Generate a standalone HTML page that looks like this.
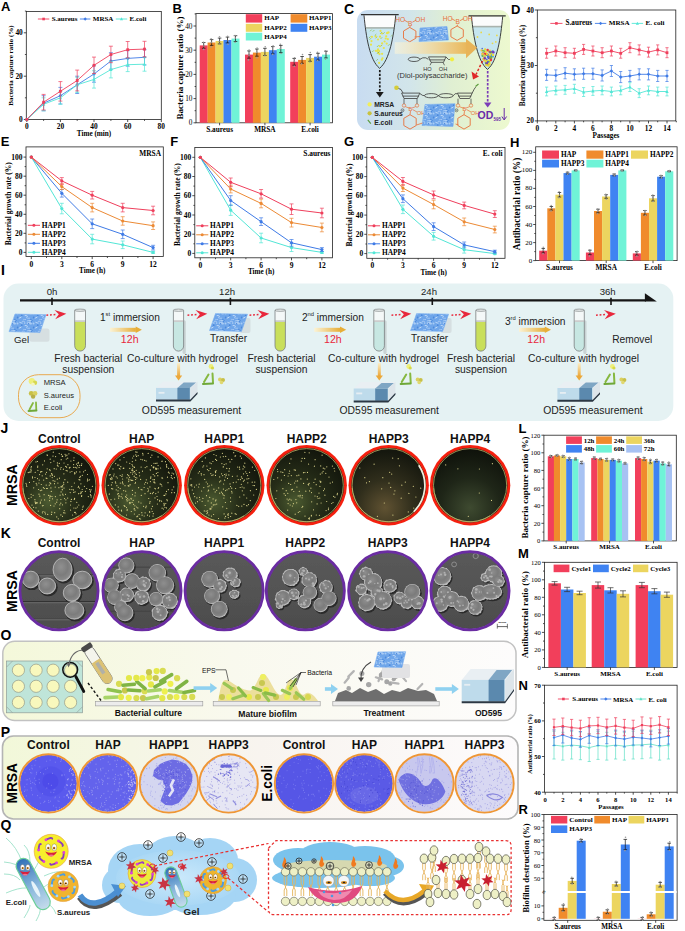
<!DOCTYPE html>
<html><head><meta charset="utf-8"><style>
html,body{margin:0;padding:0;background:#fff;width:685px;height:931px;overflow:hidden}
svg{display:block}
text{dominant-baseline:central}
.s,.sb,.sm,.sbm,.se,.sbe{font-family:"Liberation Serif",serif}
.a,.ab,.am,.abm,.ae,.abe{font-family:"Liberation Sans",sans-serif}
.sb,.sbm,.sbe,.ab,.abm,.abe{font-weight:bold}
.sm,.sbm,.am,.abm{text-anchor:middle}
.se,.sbe,.ae,.abe{text-anchor:end}
</style></head><body>
<svg width="685" height="931" viewBox="0 0 685 931">
<defs><filter id="bl" x="-5%" y="-5%" width="110%" height="110%"><feGaussianBlur stdDeviation="0.35"/></filter><linearGradient id="gC" x1="0" y1="0" x2="1" y2="0"><stop offset="0" stop-color="#c8dcf1"/><stop offset="0.35" stop-color="#d2e5ea"/><stop offset="0.62" stop-color="#e0efd2"/><stop offset="1" stop-color="#edf9cf"/></linearGradient><linearGradient id="gArrC" x1="0" y1="0" x2="1" y2="0"><stop offset="0" stop-color="#fbf6dc" stop-opacity="0.6"/><stop offset="1" stop-color="#e9b75a"/></linearGradient><linearGradient id="gArrI" x1="0" y1="0" x2="1" y2="0"><stop offset="0" stop-color="#fbf3d6"/><stop offset="1" stop-color="#e7ae38"/></linearGradient><linearGradient id="gArrD" x1="0" y1="0" x2="0" y2="1"><stop offset="0" stop-color="#fbeec8"/><stop offset="1" stop-color="#eba83a"/></linearGradient><pattern id="pGel" width="16" height="10" patternUnits="userSpaceOnUse"><rect width="16" height="10" fill="#6fa6ea"/><path d="M10.0,7.4 q1.8,1.3 4.0,0.8" stroke="#c2dbf8" stroke-width="0.6" fill="none"/><path d="M7.4,9.4 q1.6,1.2 2.7,-0.1" stroke="#c2dbf8" stroke-width="0.7" fill="none"/><path d="M8.7,5.7 q1.0,-0.8 3.1,0.8" stroke="#c2dbf8" stroke-width="1.0" fill="none"/><path d="M2.6,8.0 q1.1,0.4 2.8,-1.0" stroke="#c2dbf8" stroke-width="1.0" fill="none"/><path d="M3.4,2.2 q2.0,1.1 3.1,0.9" stroke="#c2dbf8" stroke-width="0.9" fill="none"/><path d="M10.8,2.0 q1.9,0.6 4.4,0.8" stroke="#c2dbf8" stroke-width="0.7" fill="none"/><path d="M5.8,1.7 q1.1,-1.3 3.1,0.2" stroke="#c2dbf8" stroke-width="0.6" fill="none"/><path d="M10.8,3.4 q1.3,1.0 3.5,-0.4" stroke="#c2dbf8" stroke-width="0.8" fill="none"/><path d="M11.3,0.6 q2.0,-1.4 4.0,0.7" stroke="#c2dbf8" stroke-width="0.6" fill="none"/><circle cx="12.6" cy="3.7" r="0.8" fill="#4a88dc"/><circle cx="0.1" cy="0.5" r="0.6" fill="#4a88dc"/><circle cx="15.3" cy="2.0" r="0.9" fill="#4a88dc"/><circle cx="14.9" cy="9.4" r="0.7" fill="#4a88dc"/><circle cx="5.7" cy="5.2" r="0.9" fill="#4a88dc"/><circle cx="1.7" cy="7.5" r="0.9" fill="#4a88dc"/><circle cx="13.8" cy="0.4" r="1.2" fill="#a9ccf4"/><circle cx="1.5" cy="3.4" r="1.0" fill="#a9ccf4"/><circle cx="14.7" cy="3.4" r="1.2" fill="#a9ccf4"/><circle cx="8.7" cy="3.1" r="0.8" fill="#a9ccf4"/></pattern><radialGradient id="gJ" cx="0.35" cy="0.72" r="0.75"><stop offset="0" stop-color="#4b5a30"/><stop offset="0.45" stop-color="#262d18"/><stop offset="1" stop-color="#12150c"/></radialGradient><radialGradient id="gJ3" cx="0.45" cy="0.8" r="0.75"><stop offset="0" stop-color="#605232"/><stop offset="0.5" stop-color="#302e1c"/><stop offset="1" stop-color="#15170e"/></radialGradient><radialGradient id="gJ4" cx="0.5" cy="0.8" r="0.8"><stop offset="0" stop-color="#3e4a30"/><stop offset="0.5" stop-color="#1f2618"/><stop offset="1" stop-color="#0e110a"/></radialGradient><radialGradient id="gSph" cx="0.42" cy="0.38" r="0.65"><stop offset="0" stop-color="#909090"/><stop offset="0.55" stop-color="#7c7c7c"/><stop offset="0.85" stop-color="#888"/><stop offset="1" stop-color="#c4c4c4"/></radialGradient><radialGradient id="gSph2" cx="0.42" cy="0.38" r="0.65"><stop offset="0" stop-color="#8e8e8e"/><stop offset="0.55" stop-color="#7b7b7b"/><stop offset="0.85" stop-color="#868686"/><stop offset="1" stop-color="#b8b8b8"/></radialGradient><linearGradient id="gSEM" x1="0" y1="0" x2="0" y2="1"><stop offset="0" stop-color="#5a5a5a"/><stop offset="1" stop-color="#4c4c4c"/></linearGradient><linearGradient id="gO" x1="0" y1="0" x2="1" y2="0"><stop offset="0" stop-color="#f4f8da"/><stop offset="0.45" stop-color="#f9f9ee"/><stop offset="1" stop-color="#fdfcfc"/></linearGradient><linearGradient id="gP" x1="0" y1="0" x2="1" y2="0"><stop offset="0" stop-color="#f2f8d9"/><stop offset="0.5" stop-color="#f8f4ef"/><stop offset="1" stop-color="#fdfbfc"/></linearGradient><linearGradient id="gEc" x1="0" y1="0" x2="1" y2="0"><stop offset="0" stop-color="#2f6fb8"/><stop offset="0.55" stop-color="#8ab8dc"/><stop offset="1" stop-color="#c6dcec"/></linearGradient><radialGradient id="gCl" cx="0.5" cy="0.5" r="0.6"><stop offset="0" stop-color="#cbe9fb"/><stop offset="1" stop-color="#a3d4f4"/></radialGradient></defs><rect width="685" height="931" fill="#fff"/>
<rect x="26.3" y="11.4" width="135" height="108.1" fill="none" stroke="#222" stroke-width="0.8"/>
<line x1="23.8" y1="119.5" x2="26.3" y2="119.5" stroke="#222" stroke-width="0.8"/>
<text class="sbe" x="22.8" y="119.5" font-size="7.4">0</text>
<line x1="23.8" y1="76.2" x2="26.3" y2="76.2" stroke="#222" stroke-width="0.8"/>
<text class="sbe" x="22.8" y="76.2" font-size="7.4">20</text>
<line x1="23.8" y1="32.8" x2="26.3" y2="32.8" stroke="#222" stroke-width="0.8"/>
<text class="sbe" x="22.8" y="32.8" font-size="7.4">40</text>
<line x1="24.9" y1="97.8" x2="26.3" y2="97.8" stroke="#222" stroke-width="0.8"/>
<line x1="24.9" y1="54.5" x2="26.3" y2="54.5" stroke="#222" stroke-width="0.8"/>
<line x1="24.9" y1="11.1" x2="26.3" y2="11.1" stroke="#222" stroke-width="0.8"/>
<line x1="26.8" y1="119.5" x2="26.8" y2="122" stroke="#222" stroke-width="0.8"/>
<text class="sbm" x="26.8" y="126.5" font-size="7.4">0</text>
<line x1="60.4" y1="119.5" x2="60.4" y2="122" stroke="#222" stroke-width="0.8"/>
<text class="sbm" x="60.4" y="126.5" font-size="7.4">20</text>
<line x1="94" y1="119.5" x2="94" y2="122" stroke="#222" stroke-width="0.8"/>
<text class="sbm" x="94" y="126.5" font-size="7.4">40</text>
<line x1="127.7" y1="119.5" x2="127.7" y2="122" stroke="#222" stroke-width="0.8"/>
<text class="sbm" x="127.7" y="126.5" font-size="7.4">60</text>
<line x1="161.3" y1="119.5" x2="161.3" y2="122" stroke="#222" stroke-width="0.8"/>
<text class="sbm" x="161.3" y="126.5" font-size="7.4">80</text>
<line x1="43.6" y1="119.5" x2="43.6" y2="120.9" stroke="#222" stroke-width="0.8"/>
<line x1="77.2" y1="119.5" x2="77.2" y2="120.9" stroke="#222" stroke-width="0.8"/>
<line x1="110.9" y1="119.5" x2="110.9" y2="120.9" stroke="#222" stroke-width="0.8"/>
<line x1="144.5" y1="119.5" x2="144.5" y2="120.9" stroke="#222" stroke-width="0.8"/>
<polyline points="26.8,119.5 43.6,103.2 60.4,95.7 77.2,84.8 94,74 110.9,61 127.7,58.4 144.5,57.3" fill="none" stroke="#3f7be6" stroke-width="0.9"/>
<line x1="43.6" y1="95.7" x2="43.6" y2="110.8" stroke="#3f7be6" stroke-width="0.7"/>
<line x1="41.6" y1="95.7" x2="45.6" y2="95.7" stroke="#3f7be6" stroke-width="0.7"/>
<line x1="41.6" y1="110.8" x2="45.6" y2="110.8" stroke="#3f7be6" stroke-width="0.7"/>
<line x1="60.4" y1="87.4" x2="60.4" y2="103.9" stroke="#3f7be6" stroke-width="0.7"/>
<line x1="58.4" y1="87.4" x2="62.4" y2="87.4" stroke="#3f7be6" stroke-width="0.7"/>
<line x1="58.4" y1="103.9" x2="62.4" y2="103.9" stroke="#3f7be6" stroke-width="0.7"/>
<line x1="77.2" y1="76.2" x2="77.2" y2="93.5" stroke="#3f7be6" stroke-width="0.7"/>
<line x1="75.2" y1="76.2" x2="79.2" y2="76.2" stroke="#3f7be6" stroke-width="0.7"/>
<line x1="75.2" y1="93.5" x2="79.2" y2="93.5" stroke="#3f7be6" stroke-width="0.7"/>
<line x1="94" y1="65.7" x2="94" y2="82.2" stroke="#3f7be6" stroke-width="0.7"/>
<line x1="92" y1="65.7" x2="96" y2="65.7" stroke="#3f7be6" stroke-width="0.7"/>
<line x1="92" y1="82.2" x2="96" y2="82.2" stroke="#3f7be6" stroke-width="0.7"/>
<line x1="110.9" y1="52.7" x2="110.9" y2="69.2" stroke="#3f7be6" stroke-width="0.7"/>
<line x1="108.9" y1="52.7" x2="112.9" y2="52.7" stroke="#3f7be6" stroke-width="0.7"/>
<line x1="108.9" y1="69.2" x2="112.9" y2="69.2" stroke="#3f7be6" stroke-width="0.7"/>
<line x1="127.7" y1="50.6" x2="127.7" y2="66.2" stroke="#3f7be6" stroke-width="0.7"/>
<line x1="125.7" y1="50.6" x2="129.7" y2="50.6" stroke="#3f7be6" stroke-width="0.7"/>
<line x1="125.7" y1="66.2" x2="129.7" y2="66.2" stroke="#3f7be6" stroke-width="0.7"/>
<line x1="144.5" y1="49.7" x2="144.5" y2="64.9" stroke="#3f7be6" stroke-width="0.7"/>
<line x1="142.5" y1="49.7" x2="146.5" y2="49.7" stroke="#3f7be6" stroke-width="0.7"/>
<line x1="142.5" y1="64.9" x2="146.5" y2="64.9" stroke="#3f7be6" stroke-width="0.7"/>
<polyline points="26.8,117.7 28.6,119.5 26.8,121.3 25,119.5 26.8,117.7" fill="#3f7be6"/>
<polyline points="43.6,101.4 45.4,103.2 43.6,105.1 41.8,103.2 43.6,101.4" fill="#3f7be6"/>
<polyline points="60.4,93.8 62.2,95.7 60.4,97.5 58.6,95.7 60.4,93.8" fill="#3f7be6"/>
<polyline points="77.2,83 79.1,84.8 77.2,86.6 75.4,84.8 77.2,83" fill="#3f7be6"/>
<polyline points="94,72.2 95.9,74 94,75.8 92.2,74 94,72.2" fill="#3f7be6"/>
<polyline points="110.9,59.2 112.7,61 110.9,62.8 109,61 110.9,59.2" fill="#3f7be6"/>
<polyline points="127.7,56.6 129.5,58.4 127.7,60.2 125.9,58.4 127.7,56.6" fill="#3f7be6"/>
<polyline points="144.5,55.5 146.3,57.3 144.5,59.1 142.7,57.3 144.5,55.5" fill="#3f7be6"/>
<polyline points="26.8,119.5 43.6,104.3 60.4,97.8 77.2,84.8 94,79.4 110.9,69.6 127.7,64.7 144.5,64.2" fill="none" stroke="#52e6d6" stroke-width="0.9"/>
<line x1="43.6" y1="97.8" x2="43.6" y2="110.8" stroke="#52e6d6" stroke-width="0.7"/>
<line x1="41.6" y1="97.8" x2="45.6" y2="97.8" stroke="#52e6d6" stroke-width="0.7"/>
<line x1="41.6" y1="110.8" x2="45.6" y2="110.8" stroke="#52e6d6" stroke-width="0.7"/>
<line x1="60.4" y1="91.3" x2="60.4" y2="104.3" stroke="#52e6d6" stroke-width="0.7"/>
<line x1="58.4" y1="91.3" x2="62.4" y2="91.3" stroke="#52e6d6" stroke-width="0.7"/>
<line x1="58.4" y1="104.3" x2="62.4" y2="104.3" stroke="#52e6d6" stroke-width="0.7"/>
<line x1="77.2" y1="77.2" x2="77.2" y2="92.4" stroke="#52e6d6" stroke-width="0.7"/>
<line x1="75.2" y1="77.2" x2="79.2" y2="77.2" stroke="#52e6d6" stroke-width="0.7"/>
<line x1="75.2" y1="92.4" x2="79.2" y2="92.4" stroke="#52e6d6" stroke-width="0.7"/>
<line x1="94" y1="70.7" x2="94" y2="88.1" stroke="#52e6d6" stroke-width="0.7"/>
<line x1="92" y1="70.7" x2="96" y2="70.7" stroke="#52e6d6" stroke-width="0.7"/>
<line x1="92" y1="88.1" x2="96" y2="88.1" stroke="#52e6d6" stroke-width="0.7"/>
<line x1="110.9" y1="61.4" x2="110.9" y2="77.9" stroke="#52e6d6" stroke-width="0.7"/>
<line x1="108.9" y1="61.4" x2="112.9" y2="61.4" stroke="#52e6d6" stroke-width="0.7"/>
<line x1="108.9" y1="77.9" x2="112.9" y2="77.9" stroke="#52e6d6" stroke-width="0.7"/>
<line x1="127.7" y1="57.7" x2="127.7" y2="71.6" stroke="#52e6d6" stroke-width="0.7"/>
<line x1="125.7" y1="57.7" x2="129.7" y2="57.7" stroke="#52e6d6" stroke-width="0.7"/>
<line x1="125.7" y1="71.6" x2="129.7" y2="71.6" stroke="#52e6d6" stroke-width="0.7"/>
<line x1="144.5" y1="57.3" x2="144.5" y2="71.2" stroke="#52e6d6" stroke-width="0.7"/>
<line x1="142.5" y1="57.3" x2="146.5" y2="57.3" stroke="#52e6d6" stroke-width="0.7"/>
<line x1="142.5" y1="71.2" x2="146.5" y2="71.2" stroke="#52e6d6" stroke-width="0.7"/>
<polyline points="26.8,117.7 28.5,120.9 25.1,120.9 26.8,117.7" fill="#52e6d6"/>
<polyline points="43.6,102.5 45.3,105.7 41.9,105.7 43.6,102.5" fill="#52e6d6"/>
<polyline points="60.4,96 62.1,99.2 58.7,99.2 60.4,96" fill="#52e6d6"/>
<polyline points="77.2,83 78.9,86.2 75.6,86.2 77.2,83" fill="#52e6d6"/>
<polyline points="94,77.6 95.7,80.8 92.4,80.8 94,77.6" fill="#52e6d6"/>
<polyline points="110.9,67.8 112.5,71 109.2,71 110.9,67.8" fill="#52e6d6"/>
<polyline points="127.7,62.8 129.4,66.1 126,66.1 127.7,62.8" fill="#52e6d6"/>
<polyline points="144.5,62.4 146.2,65.6 142.8,65.6 144.5,62.4" fill="#52e6d6"/>
<polyline points="26.8,119.5 43.6,102.2 60.4,91.3 77.2,80.5 94,65.3 110.9,54.5 127.7,49.7 144.5,49.1" fill="none" stroke="#ef3f5c" stroke-width="0.9"/>
<line x1="43.6" y1="94.4" x2="43.6" y2="110" stroke="#ef3f5c" stroke-width="0.7"/>
<line x1="41.6" y1="94.4" x2="45.6" y2="94.4" stroke="#ef3f5c" stroke-width="0.7"/>
<line x1="41.6" y1="110" x2="45.6" y2="110" stroke="#ef3f5c" stroke-width="0.7"/>
<line x1="60.4" y1="81.6" x2="60.4" y2="101.1" stroke="#ef3f5c" stroke-width="0.7"/>
<line x1="58.4" y1="81.6" x2="62.4" y2="81.6" stroke="#ef3f5c" stroke-width="0.7"/>
<line x1="58.4" y1="101.1" x2="62.4" y2="101.1" stroke="#ef3f5c" stroke-width="0.7"/>
<line x1="77.2" y1="70.1" x2="77.2" y2="90.9" stroke="#ef3f5c" stroke-width="0.7"/>
<line x1="75.2" y1="70.1" x2="79.2" y2="70.1" stroke="#ef3f5c" stroke-width="0.7"/>
<line x1="75.2" y1="90.9" x2="79.2" y2="90.9" stroke="#ef3f5c" stroke-width="0.7"/>
<line x1="94" y1="57.1" x2="94" y2="73.5" stroke="#ef3f5c" stroke-width="0.7"/>
<line x1="92" y1="57.1" x2="96" y2="57.1" stroke="#ef3f5c" stroke-width="0.7"/>
<line x1="92" y1="73.5" x2="96" y2="73.5" stroke="#ef3f5c" stroke-width="0.7"/>
<line x1="110.9" y1="46.2" x2="110.9" y2="62.7" stroke="#ef3f5c" stroke-width="0.7"/>
<line x1="108.9" y1="46.2" x2="112.9" y2="46.2" stroke="#ef3f5c" stroke-width="0.7"/>
<line x1="108.9" y1="62.7" x2="112.9" y2="62.7" stroke="#ef3f5c" stroke-width="0.7"/>
<line x1="127.7" y1="41.5" x2="127.7" y2="57.9" stroke="#ef3f5c" stroke-width="0.7"/>
<line x1="125.7" y1="41.5" x2="129.7" y2="41.5" stroke="#ef3f5c" stroke-width="0.7"/>
<line x1="125.7" y1="57.9" x2="129.7" y2="57.9" stroke="#ef3f5c" stroke-width="0.7"/>
<line x1="144.5" y1="41.3" x2="144.5" y2="56.9" stroke="#ef3f5c" stroke-width="0.7"/>
<line x1="142.5" y1="41.3" x2="146.5" y2="41.3" stroke="#ef3f5c" stroke-width="0.7"/>
<line x1="142.5" y1="56.9" x2="146.5" y2="56.9" stroke="#ef3f5c" stroke-width="0.7"/>
<rect x="25.4" y="118.1" width="2.8" height="2.8" fill="#ef3f5c"/>
<rect x="42.2" y="100.8" width="2.8" height="2.8" fill="#ef3f5c"/>
<rect x="59" y="89.9" width="2.8" height="2.8" fill="#ef3f5c"/>
<rect x="75.8" y="79.1" width="2.8" height="2.8" fill="#ef3f5c"/>
<rect x="92.6" y="63.9" width="2.8" height="2.8" fill="#ef3f5c"/>
<rect x="109.5" y="53.1" width="2.8" height="2.8" fill="#ef3f5c"/>
<rect x="126.3" y="48.3" width="2.8" height="2.8" fill="#ef3f5c"/>
<rect x="143.1" y="47.7" width="2.8" height="2.8" fill="#ef3f5c"/>
<line x1="37.9" y1="19" x2="49.3" y2="19" stroke="#ef3f5c" stroke-width="0.9"/>
<rect x="42.3" y="17.7" width="2.6" height="2.6" fill="#ef3f5c"/>
<text class="sb" x="51.7" y="19" font-size="7">S.aureus</text>
<line x1="79.9" y1="19" x2="90.4" y2="19" stroke="#3f7be6" stroke-width="0.9"/>
<polyline points="85.2,17.3 86.8,19 85.2,20.7 83.5,19 85.2,17.3" fill="#3f7be6"/>
<text class="sb" x="92.8" y="19" font-size="7">MRSA</text>
<line x1="115.8" y1="19" x2="127.2" y2="19" stroke="#52e6d6" stroke-width="0.9"/>
<polyline points="121.5,17.3 123.1,20.3 119.9,20.3 121.5,17.3" fill="#52e6d6"/>
<text class="sb" x="129.6" y="19" font-size="7">E.coli</text>
<text class="sbm" x="94" y="134.4" font-size="7.2">Time (min)</text>
<text class="sbm" x="11.2" y="65.5" font-size="7.1" transform="rotate(-90 11.2 65.5)">Bacteria capture ratio (%)</text>
<text x="1" y="10.9" font-family="'Liberation Sans', sans-serif" font-size="13" font-weight="bold" style="dominant-baseline:auto">A</text>
<rect x="196" y="13.6" width="136.4" height="109.2" fill="none" stroke="#222" stroke-width="0.8"/>
<line x1="193.5" y1="122.8" x2="196" y2="122.8" stroke="#222" stroke-width="0.8"/>
<text class="se" x="192.5" y="122.8" font-size="7.3">0</text>
<line x1="193.5" y1="98.6" x2="196" y2="98.6" stroke="#222" stroke-width="0.8"/>
<text class="se" x="192.5" y="98.6" font-size="7.3">10</text>
<line x1="193.5" y1="74.4" x2="196" y2="74.4" stroke="#222" stroke-width="0.8"/>
<text class="se" x="192.5" y="74.4" font-size="7.3">20</text>
<line x1="193.5" y1="50.2" x2="196" y2="50.2" stroke="#222" stroke-width="0.8"/>
<text class="se" x="192.5" y="50.2" font-size="7.3">30</text>
<line x1="193.5" y1="26" x2="196" y2="26" stroke="#222" stroke-width="0.8"/>
<text class="se" x="192.5" y="26" font-size="7.3">40</text>
<line x1="194.6" y1="110.7" x2="196" y2="110.7" stroke="#222" stroke-width="0.8"/>
<line x1="194.6" y1="86.5" x2="196" y2="86.5" stroke="#222" stroke-width="0.8"/>
<line x1="194.6" y1="62.3" x2="196" y2="62.3" stroke="#222" stroke-width="0.8"/>
<line x1="194.6" y1="38.1" x2="196" y2="38.1" stroke="#222" stroke-width="0.8"/>
<line x1="194.6" y1="13.9" x2="196" y2="13.9" stroke="#222" stroke-width="0.8"/>
<rect x="199.7" y="45.4" width="8" height="77.4" fill="#f23f5b"/>
<rect x="207.6" y="42.5" width="8" height="80.3" fill="#f08b2c"/>
<rect x="215.6" y="41" width="8" height="81.8" fill="#ecd55f"/>
<rect x="223.5" y="40" width="8" height="82.8" fill="#3f83f2"/>
<rect x="231.5" y="38.6" width="8" height="84.2" fill="#70f3d7"/>
<line x1="203.7" y1="42.5" x2="203.7" y2="48.3" stroke="#111" stroke-width="0.7"/>
<line x1="201.9" y1="42.5" x2="205.5" y2="42.5" stroke="#111" stroke-width="0.7"/>
<line x1="201.9" y1="48.3" x2="205.5" y2="48.3" stroke="#111" stroke-width="0.7"/>
<circle cx="203.5" cy="42.2" r="0.8" fill="#9a9a9a"/>
<circle cx="203.9" cy="46.1" r="0.8" fill="#9a9a9a"/>
<circle cx="203.7" cy="49.4" r="0.8" fill="#9a9a9a"/>
<line x1="211.6" y1="39.6" x2="211.6" y2="45.4" stroke="#111" stroke-width="0.7"/>
<line x1="209.8" y1="39.6" x2="213.4" y2="39.6" stroke="#111" stroke-width="0.7"/>
<line x1="209.8" y1="45.4" x2="213.4" y2="45.4" stroke="#111" stroke-width="0.7"/>
<circle cx="211.1" cy="38.7" r="0.8" fill="#9a9a9a"/>
<circle cx="211.1" cy="42.6" r="0.8" fill="#9a9a9a"/>
<circle cx="211.1" cy="46.9" r="0.8" fill="#9a9a9a"/>
<line x1="219.6" y1="38.1" x2="219.6" y2="43.9" stroke="#111" stroke-width="0.7"/>
<line x1="217.8" y1="38.1" x2="221.4" y2="38.1" stroke="#111" stroke-width="0.7"/>
<line x1="217.8" y1="43.9" x2="221.4" y2="43.9" stroke="#111" stroke-width="0.7"/>
<circle cx="219.5" cy="36.7" r="0.8" fill="#9a9a9a"/>
<circle cx="219.1" cy="41.5" r="0.8" fill="#9a9a9a"/>
<circle cx="219.7" cy="44" r="0.8" fill="#9a9a9a"/>
<line x1="227.5" y1="37.1" x2="227.5" y2="42.9" stroke="#111" stroke-width="0.7"/>
<line x1="225.7" y1="37.1" x2="229.3" y2="37.1" stroke="#111" stroke-width="0.7"/>
<line x1="225.7" y1="42.9" x2="229.3" y2="42.9" stroke="#111" stroke-width="0.7"/>
<circle cx="227.6" cy="36.4" r="0.8" fill="#9a9a9a"/>
<circle cx="228.1" cy="40.8" r="0.8" fill="#9a9a9a"/>
<circle cx="228" cy="44.2" r="0.8" fill="#9a9a9a"/>
<line x1="235.5" y1="35.7" x2="235.5" y2="41.5" stroke="#111" stroke-width="0.7"/>
<line x1="233.7" y1="35.7" x2="237.3" y2="35.7" stroke="#111" stroke-width="0.7"/>
<line x1="233.7" y1="41.5" x2="237.3" y2="41.5" stroke="#111" stroke-width="0.7"/>
<circle cx="235" cy="35.5" r="0.8" fill="#9a9a9a"/>
<circle cx="235.2" cy="38" r="0.8" fill="#9a9a9a"/>
<circle cx="235.1" cy="42.2" r="0.8" fill="#9a9a9a"/>
<rect x="245" y="54.6" width="8" height="68.2" fill="#f23f5b"/>
<rect x="252.9" y="52.6" width="8" height="70.2" fill="#f08b2c"/>
<rect x="260.9" y="51.9" width="8" height="70.9" fill="#ecd55f"/>
<rect x="268.9" y="50.2" width="8" height="72.6" fill="#3f83f2"/>
<rect x="276.8" y="49" width="8" height="73.8" fill="#70f3d7"/>
<line x1="249" y1="50.9" x2="249" y2="58.2" stroke="#111" stroke-width="0.7"/>
<line x1="247.2" y1="50.9" x2="250.8" y2="50.9" stroke="#111" stroke-width="0.7"/>
<line x1="247.2" y1="58.2" x2="250.8" y2="58.2" stroke="#111" stroke-width="0.7"/>
<circle cx="249.1" cy="50.1" r="0.8" fill="#9a9a9a"/>
<circle cx="249" cy="55.5" r="0.8" fill="#9a9a9a"/>
<circle cx="248.4" cy="59.9" r="0.8" fill="#9a9a9a"/>
<line x1="256.9" y1="49" x2="256.9" y2="56.2" stroke="#111" stroke-width="0.7"/>
<line x1="255.1" y1="49" x2="258.7" y2="49" stroke="#111" stroke-width="0.7"/>
<line x1="255.1" y1="56.2" x2="258.7" y2="56.2" stroke="#111" stroke-width="0.7"/>
<circle cx="257.1" cy="48.1" r="0.8" fill="#9a9a9a"/>
<circle cx="256.7" cy="52.4" r="0.8" fill="#9a9a9a"/>
<circle cx="256.9" cy="57.8" r="0.8" fill="#9a9a9a"/>
<line x1="264.9" y1="48.3" x2="264.9" y2="55.5" stroke="#111" stroke-width="0.7"/>
<line x1="263.1" y1="48.3" x2="266.7" y2="48.3" stroke="#111" stroke-width="0.7"/>
<line x1="263.1" y1="55.5" x2="266.7" y2="55.5" stroke="#111" stroke-width="0.7"/>
<circle cx="265.2" cy="46.7" r="0.8" fill="#9a9a9a"/>
<circle cx="264.6" cy="51.7" r="0.8" fill="#9a9a9a"/>
<circle cx="264.9" cy="55.8" r="0.8" fill="#9a9a9a"/>
<line x1="272.8" y1="46.6" x2="272.8" y2="53.8" stroke="#111" stroke-width="0.7"/>
<line x1="271" y1="46.6" x2="274.6" y2="46.6" stroke="#111" stroke-width="0.7"/>
<line x1="271" y1="53.8" x2="274.6" y2="53.8" stroke="#111" stroke-width="0.7"/>
<circle cx="273.1" cy="45.9" r="0.8" fill="#9a9a9a"/>
<circle cx="273.4" cy="51" r="0.8" fill="#9a9a9a"/>
<circle cx="272.7" cy="54.4" r="0.8" fill="#9a9a9a"/>
<line x1="280.8" y1="45.4" x2="280.8" y2="52.6" stroke="#111" stroke-width="0.7"/>
<line x1="279" y1="45.4" x2="282.6" y2="45.4" stroke="#111" stroke-width="0.7"/>
<line x1="279" y1="52.6" x2="282.6" y2="52.6" stroke="#111" stroke-width="0.7"/>
<circle cx="280.4" cy="44.3" r="0.8" fill="#9a9a9a"/>
<circle cx="280.2" cy="48.6" r="0.8" fill="#9a9a9a"/>
<circle cx="281.1" cy="53.5" r="0.8" fill="#9a9a9a"/>
<rect x="290.2" y="61.8" width="8" height="61" fill="#f23f5b"/>
<rect x="298.1" y="59.9" width="8" height="62.9" fill="#f08b2c"/>
<rect x="306.1" y="57.9" width="8" height="64.9" fill="#ecd55f"/>
<rect x="314.1" y="56.7" width="8" height="66.1" fill="#3f83f2"/>
<rect x="322" y="54.6" width="8" height="68.2" fill="#70f3d7"/>
<line x1="294.2" y1="58.4" x2="294.2" y2="65.2" stroke="#111" stroke-width="0.7"/>
<line x1="292.4" y1="58.4" x2="296" y2="58.4" stroke="#111" stroke-width="0.7"/>
<line x1="292.4" y1="65.2" x2="296" y2="65.2" stroke="#111" stroke-width="0.7"/>
<circle cx="294.6" cy="57.8" r="0.8" fill="#9a9a9a"/>
<circle cx="294.4" cy="61.6" r="0.8" fill="#9a9a9a"/>
<circle cx="294.3" cy="66.3" r="0.8" fill="#9a9a9a"/>
<line x1="302.1" y1="56.5" x2="302.1" y2="63.3" stroke="#111" stroke-width="0.7"/>
<line x1="300.3" y1="56.5" x2="303.9" y2="56.5" stroke="#111" stroke-width="0.7"/>
<line x1="300.3" y1="63.3" x2="303.9" y2="63.3" stroke="#111" stroke-width="0.7"/>
<circle cx="302.5" cy="54.6" r="0.8" fill="#9a9a9a"/>
<circle cx="302.1" cy="59.5" r="0.8" fill="#9a9a9a"/>
<circle cx="301.6" cy="63.9" r="0.8" fill="#9a9a9a"/>
<line x1="310.1" y1="54.6" x2="310.1" y2="61.3" stroke="#111" stroke-width="0.7"/>
<line x1="308.3" y1="54.6" x2="311.9" y2="54.6" stroke="#111" stroke-width="0.7"/>
<line x1="308.3" y1="61.3" x2="311.9" y2="61.3" stroke="#111" stroke-width="0.7"/>
<circle cx="310.3" cy="52.5" r="0.8" fill="#9a9a9a"/>
<circle cx="310.5" cy="58.4" r="0.8" fill="#9a9a9a"/>
<circle cx="309.9" cy="62" r="0.8" fill="#9a9a9a"/>
<line x1="318" y1="53.3" x2="318" y2="60.1" stroke="#111" stroke-width="0.7"/>
<line x1="316.2" y1="53.3" x2="319.8" y2="53.3" stroke="#111" stroke-width="0.7"/>
<line x1="316.2" y1="60.1" x2="319.8" y2="60.1" stroke="#111" stroke-width="0.7"/>
<circle cx="317.5" cy="52.4" r="0.8" fill="#9a9a9a"/>
<circle cx="317.6" cy="57.5" r="0.8" fill="#9a9a9a"/>
<circle cx="317.5" cy="60.6" r="0.8" fill="#9a9a9a"/>
<line x1="326" y1="51.2" x2="326" y2="57.9" stroke="#111" stroke-width="0.7"/>
<line x1="324.2" y1="51.2" x2="327.8" y2="51.2" stroke="#111" stroke-width="0.7"/>
<line x1="324.2" y1="57.9" x2="327.8" y2="57.9" stroke="#111" stroke-width="0.7"/>
<circle cx="325.5" cy="50.7" r="0.8" fill="#9a9a9a"/>
<circle cx="325.8" cy="53.8" r="0.8" fill="#9a9a9a"/>
<circle cx="325.5" cy="59.1" r="0.8" fill="#9a9a9a"/>
<line x1="219.6" y1="122.8" x2="219.6" y2="125.3" stroke="#222" stroke-width="0.8"/>
<text class="sbm" x="219.6" y="129.2" font-size="7.3">S.aureus</text>
<line x1="264.9" y1="122.8" x2="264.9" y2="125.3" stroke="#222" stroke-width="0.8"/>
<text class="sbm" x="264.9" y="129.2" font-size="7.3">MRSA</text>
<line x1="310.1" y1="122.8" x2="310.1" y2="125.3" stroke="#222" stroke-width="0.8"/>
<text class="sbm" x="310.1" y="129.2" font-size="7.3">E.coli</text>
<rect x="245.8" y="14.2" width="16.4" height="8.4" fill="#f23f5b"/>
<text class="sb" x="264.3" y="18.4" font-size="7">HAP</text>
<rect x="290.6" y="14.2" width="16.7" height="8.4" fill="#f08b2c"/>
<text class="sb" x="308.9" y="18.4" font-size="7">HAPP1</text>
<rect x="245.8" y="23.8" width="16.4" height="8" fill="#ecd55f"/>
<text class="sb" x="264.3" y="27.8" font-size="7">HAPP2</text>
<rect x="290.6" y="23.8" width="16.7" height="8" fill="#3f83f2"/>
<text class="sb" x="308.9" y="27.8" font-size="7">HAPP3</text>
<rect x="245.8" y="32.7" width="16.4" height="7.8" fill="#70f3d7"/>
<text class="sb" x="264.3" y="36.6" font-size="7">HAPP4</text>
<text class="sbm" x="179.5" y="68" font-size="9.1" transform="rotate(-90 179.5 68)">Bacteria capture ratio (%)</text>
<text x="172.5" y="12.6" font-family="'Liberation Sans', sans-serif" font-size="13" font-weight="bold" style="dominant-baseline:auto">B</text>
<rect x="537.3" y="10" width="138.5" height="110.9" fill="none" stroke="#222" stroke-width="0.8"/>
<line x1="534.8" y1="120.9" x2="537.3" y2="120.9" stroke="#222" stroke-width="0.8"/>
<text class="sbe" x="533.8" y="120.9" font-size="7.3">20</text>
<line x1="534.8" y1="65.5" x2="537.3" y2="65.5" stroke="#222" stroke-width="0.8"/>
<text class="sbe" x="533.8" y="65.5" font-size="7.3">30</text>
<line x1="534.8" y1="10" x2="537.3" y2="10" stroke="#222" stroke-width="0.8"/>
<text class="sbe" x="533.8" y="10" font-size="7.3">40</text>
<line x1="535.9" y1="93.2" x2="537.3" y2="93.2" stroke="#222" stroke-width="0.8"/>
<line x1="535.9" y1="37.7" x2="537.3" y2="37.7" stroke="#222" stroke-width="0.8"/>
<line x1="537.3" y1="120.9" x2="537.3" y2="123.4" stroke="#222" stroke-width="0.8"/>
<text class="sbm" x="537.3" y="128.4" font-size="7.3">0</text>
<line x1="555.8" y1="120.9" x2="555.8" y2="123.4" stroke="#222" stroke-width="0.8"/>
<text class="sbm" x="555.8" y="128.4" font-size="7.3">2</text>
<line x1="574.4" y1="120.9" x2="574.4" y2="123.4" stroke="#222" stroke-width="0.8"/>
<text class="sbm" x="574.4" y="128.4" font-size="7.3">4</text>
<line x1="592.9" y1="120.9" x2="592.9" y2="123.4" stroke="#222" stroke-width="0.8"/>
<text class="sbm" x="592.9" y="128.4" font-size="7.3">6</text>
<line x1="611.4" y1="120.9" x2="611.4" y2="123.4" stroke="#222" stroke-width="0.8"/>
<text class="sbm" x="611.4" y="128.4" font-size="7.3">8</text>
<line x1="629.9" y1="120.9" x2="629.9" y2="123.4" stroke="#222" stroke-width="0.8"/>
<text class="sbm" x="629.9" y="128.4" font-size="7.3">10</text>
<line x1="648.5" y1="120.9" x2="648.5" y2="123.4" stroke="#222" stroke-width="0.8"/>
<text class="sbm" x="648.5" y="128.4" font-size="7.3">12</text>
<line x1="667" y1="120.9" x2="667" y2="123.4" stroke="#222" stroke-width="0.8"/>
<text class="sbm" x="667" y="128.4" font-size="7.3">14</text>
<line x1="546.6" y1="120.9" x2="546.6" y2="122.3" stroke="#222" stroke-width="0.8"/>
<line x1="565.1" y1="120.9" x2="565.1" y2="122.3" stroke="#222" stroke-width="0.8"/>
<line x1="583.6" y1="120.9" x2="583.6" y2="122.3" stroke="#222" stroke-width="0.8"/>
<line x1="602.1" y1="120.9" x2="602.1" y2="122.3" stroke="#222" stroke-width="0.8"/>
<line x1="620.7" y1="120.9" x2="620.7" y2="122.3" stroke="#222" stroke-width="0.8"/>
<line x1="639.2" y1="120.9" x2="639.2" y2="122.3" stroke="#222" stroke-width="0.8"/>
<line x1="657.7" y1="120.9" x2="657.7" y2="122.3" stroke="#222" stroke-width="0.8"/>
<line x1="676.3" y1="120.9" x2="676.3" y2="122.3" stroke="#222" stroke-width="0.8"/>
<polyline points="546.6,91.5 555.8,90.4 565.1,89.8 574.4,88.7 583.6,92.1 592.9,91 602.1,90.4 611.4,91.5 620.7,90.4 629.9,87.1 639.2,93.2 648.5,90.4 657.7,91.5 667,91.5" fill="none" stroke="#52e6d6" stroke-width="0.9"/>
<line x1="546.6" y1="87.1" x2="546.6" y2="95.9" stroke="#52e6d6" stroke-width="0.7"/>
<line x1="545" y1="87.1" x2="548.2" y2="87.1" stroke="#52e6d6" stroke-width="0.7"/>
<line x1="545" y1="95.9" x2="548.2" y2="95.9" stroke="#52e6d6" stroke-width="0.7"/>
<line x1="555.8" y1="86" x2="555.8" y2="94.8" stroke="#52e6d6" stroke-width="0.7"/>
<line x1="554.2" y1="86" x2="557.4" y2="86" stroke="#52e6d6" stroke-width="0.7"/>
<line x1="554.2" y1="94.8" x2="557.4" y2="94.8" stroke="#52e6d6" stroke-width="0.7"/>
<line x1="565.1" y1="85.4" x2="565.1" y2="94.3" stroke="#52e6d6" stroke-width="0.7"/>
<line x1="563.5" y1="85.4" x2="566.7" y2="85.4" stroke="#52e6d6" stroke-width="0.7"/>
<line x1="563.5" y1="94.3" x2="566.7" y2="94.3" stroke="#52e6d6" stroke-width="0.7"/>
<line x1="574.4" y1="84.3" x2="574.4" y2="93.2" stroke="#52e6d6" stroke-width="0.7"/>
<line x1="572.8" y1="84.3" x2="576" y2="84.3" stroke="#52e6d6" stroke-width="0.7"/>
<line x1="572.8" y1="93.2" x2="576" y2="93.2" stroke="#52e6d6" stroke-width="0.7"/>
<line x1="583.6" y1="87.6" x2="583.6" y2="96.5" stroke="#52e6d6" stroke-width="0.7"/>
<line x1="582" y1="87.6" x2="585.2" y2="87.6" stroke="#52e6d6" stroke-width="0.7"/>
<line x1="582" y1="96.5" x2="585.2" y2="96.5" stroke="#52e6d6" stroke-width="0.7"/>
<line x1="592.9" y1="86.5" x2="592.9" y2="95.4" stroke="#52e6d6" stroke-width="0.7"/>
<line x1="591.3" y1="86.5" x2="594.5" y2="86.5" stroke="#52e6d6" stroke-width="0.7"/>
<line x1="591.3" y1="95.4" x2="594.5" y2="95.4" stroke="#52e6d6" stroke-width="0.7"/>
<line x1="602.1" y1="86" x2="602.1" y2="94.8" stroke="#52e6d6" stroke-width="0.7"/>
<line x1="600.5" y1="86" x2="603.8" y2="86" stroke="#52e6d6" stroke-width="0.7"/>
<line x1="600.5" y1="94.8" x2="603.8" y2="94.8" stroke="#52e6d6" stroke-width="0.7"/>
<line x1="611.4" y1="87.1" x2="611.4" y2="95.9" stroke="#52e6d6" stroke-width="0.7"/>
<line x1="609.8" y1="87.1" x2="613" y2="87.1" stroke="#52e6d6" stroke-width="0.7"/>
<line x1="609.8" y1="95.9" x2="613" y2="95.9" stroke="#52e6d6" stroke-width="0.7"/>
<line x1="620.7" y1="86" x2="620.7" y2="94.8" stroke="#52e6d6" stroke-width="0.7"/>
<line x1="619.1" y1="86" x2="622.3" y2="86" stroke="#52e6d6" stroke-width="0.7"/>
<line x1="619.1" y1="94.8" x2="622.3" y2="94.8" stroke="#52e6d6" stroke-width="0.7"/>
<line x1="629.9" y1="82.6" x2="629.9" y2="91.5" stroke="#52e6d6" stroke-width="0.7"/>
<line x1="628.3" y1="82.6" x2="631.5" y2="82.6" stroke="#52e6d6" stroke-width="0.7"/>
<line x1="628.3" y1="91.5" x2="631.5" y2="91.5" stroke="#52e6d6" stroke-width="0.7"/>
<line x1="639.2" y1="88.7" x2="639.2" y2="97.6" stroke="#52e6d6" stroke-width="0.7"/>
<line x1="637.6" y1="88.7" x2="640.8" y2="88.7" stroke="#52e6d6" stroke-width="0.7"/>
<line x1="637.6" y1="97.6" x2="640.8" y2="97.6" stroke="#52e6d6" stroke-width="0.7"/>
<line x1="648.5" y1="86" x2="648.5" y2="94.8" stroke="#52e6d6" stroke-width="0.7"/>
<line x1="646.9" y1="86" x2="650.1" y2="86" stroke="#52e6d6" stroke-width="0.7"/>
<line x1="646.9" y1="94.8" x2="650.1" y2="94.8" stroke="#52e6d6" stroke-width="0.7"/>
<line x1="657.7" y1="87.1" x2="657.7" y2="95.9" stroke="#52e6d6" stroke-width="0.7"/>
<line x1="656.1" y1="87.1" x2="659.3" y2="87.1" stroke="#52e6d6" stroke-width="0.7"/>
<line x1="656.1" y1="95.9" x2="659.3" y2="95.9" stroke="#52e6d6" stroke-width="0.7"/>
<line x1="667" y1="87.1" x2="667" y2="95.9" stroke="#52e6d6" stroke-width="0.7"/>
<line x1="665.4" y1="87.1" x2="668.6" y2="87.1" stroke="#52e6d6" stroke-width="0.7"/>
<line x1="665.4" y1="95.9" x2="668.6" y2="95.9" stroke="#52e6d6" stroke-width="0.7"/>
<polyline points="546.6,89.7 548.2,92.9 544.9,92.9 546.6,89.7" fill="#52e6d6"/>
<polyline points="555.8,88.6 557.5,91.8 554.1,91.8 555.8,88.6" fill="#52e6d6"/>
<polyline points="565.1,88 566.8,91.2 563.4,91.2 565.1,88" fill="#52e6d6"/>
<polyline points="574.4,86.9 576,90.1 572.7,90.1 574.4,86.9" fill="#52e6d6"/>
<polyline points="583.6,90.2 585.3,93.5 581.9,93.5 583.6,90.2" fill="#52e6d6"/>
<polyline points="592.9,89.1 594.6,92.4 591.2,92.4 592.9,89.1" fill="#52e6d6"/>
<polyline points="602.1,88.6 603.8,91.8 600.5,91.8 602.1,88.6" fill="#52e6d6"/>
<polyline points="611.4,89.7 613.1,92.9 609.7,92.9 611.4,89.7" fill="#52e6d6"/>
<polyline points="620.7,88.6 622.4,91.8 619,91.8 620.7,88.6" fill="#52e6d6"/>
<polyline points="629.9,85.3 631.6,88.5 628.3,88.5 629.9,85.3" fill="#52e6d6"/>
<polyline points="639.2,91.4 640.9,94.6 637.5,94.6 639.2,91.4" fill="#52e6d6"/>
<polyline points="648.5,88.6 650.2,91.8 646.8,91.8 648.5,88.6" fill="#52e6d6"/>
<polyline points="657.7,89.7 659.4,92.9 656.1,92.9 657.7,89.7" fill="#52e6d6"/>
<polyline points="667,89.7 668.7,92.9 665.3,92.9 667,89.7" fill="#52e6d6"/>
<polyline points="546.6,74.9 555.8,75.4 565.1,73.2 574.4,74.3 583.6,73.8 592.9,73.8 602.1,75.4 611.4,71 620.7,77.1 629.9,76 639.2,74.3 648.5,74.3 657.7,76 667,76" fill="none" stroke="#3f7be6" stroke-width="0.9"/>
<line x1="546.6" y1="69.3" x2="546.6" y2="80.4" stroke="#3f7be6" stroke-width="0.7"/>
<line x1="545" y1="69.3" x2="548.2" y2="69.3" stroke="#3f7be6" stroke-width="0.7"/>
<line x1="545" y1="80.4" x2="548.2" y2="80.4" stroke="#3f7be6" stroke-width="0.7"/>
<line x1="555.8" y1="69.9" x2="555.8" y2="81" stroke="#3f7be6" stroke-width="0.7"/>
<line x1="554.2" y1="69.9" x2="557.4" y2="69.9" stroke="#3f7be6" stroke-width="0.7"/>
<line x1="554.2" y1="81" x2="557.4" y2="81" stroke="#3f7be6" stroke-width="0.7"/>
<line x1="565.1" y1="67.7" x2="565.1" y2="78.8" stroke="#3f7be6" stroke-width="0.7"/>
<line x1="563.5" y1="67.7" x2="566.7" y2="67.7" stroke="#3f7be6" stroke-width="0.7"/>
<line x1="563.5" y1="78.8" x2="566.7" y2="78.8" stroke="#3f7be6" stroke-width="0.7"/>
<line x1="574.4" y1="68.8" x2="574.4" y2="79.9" stroke="#3f7be6" stroke-width="0.7"/>
<line x1="572.8" y1="68.8" x2="576" y2="68.8" stroke="#3f7be6" stroke-width="0.7"/>
<line x1="572.8" y1="79.9" x2="576" y2="79.9" stroke="#3f7be6" stroke-width="0.7"/>
<line x1="583.6" y1="68.2" x2="583.6" y2="79.3" stroke="#3f7be6" stroke-width="0.7"/>
<line x1="582" y1="68.2" x2="585.2" y2="68.2" stroke="#3f7be6" stroke-width="0.7"/>
<line x1="582" y1="79.3" x2="585.2" y2="79.3" stroke="#3f7be6" stroke-width="0.7"/>
<line x1="592.9" y1="68.2" x2="592.9" y2="79.3" stroke="#3f7be6" stroke-width="0.7"/>
<line x1="591.3" y1="68.2" x2="594.5" y2="68.2" stroke="#3f7be6" stroke-width="0.7"/>
<line x1="591.3" y1="79.3" x2="594.5" y2="79.3" stroke="#3f7be6" stroke-width="0.7"/>
<line x1="602.1" y1="69.9" x2="602.1" y2="81" stroke="#3f7be6" stroke-width="0.7"/>
<line x1="600.5" y1="69.9" x2="603.8" y2="69.9" stroke="#3f7be6" stroke-width="0.7"/>
<line x1="600.5" y1="81" x2="603.8" y2="81" stroke="#3f7be6" stroke-width="0.7"/>
<line x1="611.4" y1="65.5" x2="611.4" y2="76.5" stroke="#3f7be6" stroke-width="0.7"/>
<line x1="609.8" y1="65.5" x2="613" y2="65.5" stroke="#3f7be6" stroke-width="0.7"/>
<line x1="609.8" y1="76.5" x2="613" y2="76.5" stroke="#3f7be6" stroke-width="0.7"/>
<line x1="620.7" y1="71.5" x2="620.7" y2="82.6" stroke="#3f7be6" stroke-width="0.7"/>
<line x1="619.1" y1="71.5" x2="622.3" y2="71.5" stroke="#3f7be6" stroke-width="0.7"/>
<line x1="619.1" y1="82.6" x2="622.3" y2="82.6" stroke="#3f7be6" stroke-width="0.7"/>
<line x1="629.9" y1="70.4" x2="629.9" y2="81.5" stroke="#3f7be6" stroke-width="0.7"/>
<line x1="628.3" y1="70.4" x2="631.5" y2="70.4" stroke="#3f7be6" stroke-width="0.7"/>
<line x1="628.3" y1="81.5" x2="631.5" y2="81.5" stroke="#3f7be6" stroke-width="0.7"/>
<line x1="639.2" y1="68.8" x2="639.2" y2="79.9" stroke="#3f7be6" stroke-width="0.7"/>
<line x1="637.6" y1="68.8" x2="640.8" y2="68.8" stroke="#3f7be6" stroke-width="0.7"/>
<line x1="637.6" y1="79.9" x2="640.8" y2="79.9" stroke="#3f7be6" stroke-width="0.7"/>
<line x1="648.5" y1="68.8" x2="648.5" y2="79.9" stroke="#3f7be6" stroke-width="0.7"/>
<line x1="646.9" y1="68.8" x2="650.1" y2="68.8" stroke="#3f7be6" stroke-width="0.7"/>
<line x1="646.9" y1="79.9" x2="650.1" y2="79.9" stroke="#3f7be6" stroke-width="0.7"/>
<line x1="657.7" y1="70.4" x2="657.7" y2="81.5" stroke="#3f7be6" stroke-width="0.7"/>
<line x1="656.1" y1="70.4" x2="659.3" y2="70.4" stroke="#3f7be6" stroke-width="0.7"/>
<line x1="656.1" y1="81.5" x2="659.3" y2="81.5" stroke="#3f7be6" stroke-width="0.7"/>
<line x1="667" y1="70.4" x2="667" y2="81.5" stroke="#3f7be6" stroke-width="0.7"/>
<line x1="665.4" y1="70.4" x2="668.6" y2="70.4" stroke="#3f7be6" stroke-width="0.7"/>
<line x1="665.4" y1="81.5" x2="668.6" y2="81.5" stroke="#3f7be6" stroke-width="0.7"/>
<polyline points="546.6,73.1 548.4,74.9 546.6,76.7 544.7,74.9 546.6,73.1" fill="#3f7be6"/>
<polyline points="555.8,73.6 557.6,75.4 555.8,77.3 554,75.4 555.8,73.6" fill="#3f7be6"/>
<polyline points="565.1,71.4 566.9,73.2 565.1,75 563.3,73.2 565.1,71.4" fill="#3f7be6"/>
<polyline points="574.4,72.5 576.2,74.3 574.4,76.1 572.5,74.3 574.4,72.5" fill="#3f7be6"/>
<polyline points="583.6,71.9 585.4,73.8 583.6,75.6 581.8,73.8 583.6,71.9" fill="#3f7be6"/>
<polyline points="592.9,71.9 594.7,73.8 592.9,75.6 591.1,73.8 592.9,71.9" fill="#3f7be6"/>
<polyline points="602.1,73.6 604,75.4 602.1,77.3 600.3,75.4 602.1,73.6" fill="#3f7be6"/>
<polyline points="611.4,69.2 613.2,71 611.4,72.8 609.6,71 611.4,69.2" fill="#3f7be6"/>
<polyline points="620.7,75.3 622.5,77.1 620.7,78.9 618.9,77.1 620.7,75.3" fill="#3f7be6"/>
<polyline points="629.9,74.2 631.8,76 629.9,77.8 628.1,76 629.9,74.2" fill="#3f7be6"/>
<polyline points="639.2,72.5 641,74.3 639.2,76.1 637.4,74.3 639.2,72.5" fill="#3f7be6"/>
<polyline points="648.5,72.5 650.3,74.3 648.5,76.1 646.7,74.3 648.5,72.5" fill="#3f7be6"/>
<polyline points="657.7,74.2 659.6,76 657.7,77.8 655.9,76 657.7,74.2" fill="#3f7be6"/>
<polyline points="667,74.2 668.8,76 667,77.8 665.2,76 667,74.2" fill="#3f7be6"/>
<polyline points="546.6,53.3 555.8,51 565.1,52.7 574.4,53.3 583.6,49.4 592.9,51 602.1,52.7 611.4,51 620.7,53.3 629.9,47.7 639.2,49.9 648.5,52.1 657.7,49.9 667,52.7" fill="none" stroke="#ef3f5c" stroke-width="0.9"/>
<line x1="546.6" y1="48.3" x2="546.6" y2="58.2" stroke="#ef3f5c" stroke-width="0.7"/>
<line x1="545" y1="48.3" x2="548.2" y2="48.3" stroke="#ef3f5c" stroke-width="0.7"/>
<line x1="545" y1="58.2" x2="548.2" y2="58.2" stroke="#ef3f5c" stroke-width="0.7"/>
<line x1="555.8" y1="46" x2="555.8" y2="56" stroke="#ef3f5c" stroke-width="0.7"/>
<line x1="554.2" y1="46" x2="557.4" y2="46" stroke="#ef3f5c" stroke-width="0.7"/>
<line x1="554.2" y1="56" x2="557.4" y2="56" stroke="#ef3f5c" stroke-width="0.7"/>
<line x1="565.1" y1="47.7" x2="565.1" y2="57.7" stroke="#ef3f5c" stroke-width="0.7"/>
<line x1="563.5" y1="47.7" x2="566.7" y2="47.7" stroke="#ef3f5c" stroke-width="0.7"/>
<line x1="563.5" y1="57.7" x2="566.7" y2="57.7" stroke="#ef3f5c" stroke-width="0.7"/>
<line x1="574.4" y1="48.3" x2="574.4" y2="58.2" stroke="#ef3f5c" stroke-width="0.7"/>
<line x1="572.8" y1="48.3" x2="576" y2="48.3" stroke="#ef3f5c" stroke-width="0.7"/>
<line x1="572.8" y1="58.2" x2="576" y2="58.2" stroke="#ef3f5c" stroke-width="0.7"/>
<line x1="583.6" y1="44.4" x2="583.6" y2="54.4" stroke="#ef3f5c" stroke-width="0.7"/>
<line x1="582" y1="44.4" x2="585.2" y2="44.4" stroke="#ef3f5c" stroke-width="0.7"/>
<line x1="582" y1="54.4" x2="585.2" y2="54.4" stroke="#ef3f5c" stroke-width="0.7"/>
<line x1="592.9" y1="46" x2="592.9" y2="56" stroke="#ef3f5c" stroke-width="0.7"/>
<line x1="591.3" y1="46" x2="594.5" y2="46" stroke="#ef3f5c" stroke-width="0.7"/>
<line x1="591.3" y1="56" x2="594.5" y2="56" stroke="#ef3f5c" stroke-width="0.7"/>
<line x1="602.1" y1="47.7" x2="602.1" y2="57.7" stroke="#ef3f5c" stroke-width="0.7"/>
<line x1="600.5" y1="47.7" x2="603.8" y2="47.7" stroke="#ef3f5c" stroke-width="0.7"/>
<line x1="600.5" y1="57.7" x2="603.8" y2="57.7" stroke="#ef3f5c" stroke-width="0.7"/>
<line x1="611.4" y1="46" x2="611.4" y2="56" stroke="#ef3f5c" stroke-width="0.7"/>
<line x1="609.8" y1="46" x2="613" y2="46" stroke="#ef3f5c" stroke-width="0.7"/>
<line x1="609.8" y1="56" x2="613" y2="56" stroke="#ef3f5c" stroke-width="0.7"/>
<line x1="620.7" y1="48.3" x2="620.7" y2="58.2" stroke="#ef3f5c" stroke-width="0.7"/>
<line x1="619.1" y1="48.3" x2="622.3" y2="48.3" stroke="#ef3f5c" stroke-width="0.7"/>
<line x1="619.1" y1="58.2" x2="622.3" y2="58.2" stroke="#ef3f5c" stroke-width="0.7"/>
<line x1="629.9" y1="42.7" x2="629.9" y2="52.7" stroke="#ef3f5c" stroke-width="0.7"/>
<line x1="628.3" y1="42.7" x2="631.5" y2="42.7" stroke="#ef3f5c" stroke-width="0.7"/>
<line x1="628.3" y1="52.7" x2="631.5" y2="52.7" stroke="#ef3f5c" stroke-width="0.7"/>
<line x1="639.2" y1="44.9" x2="639.2" y2="54.9" stroke="#ef3f5c" stroke-width="0.7"/>
<line x1="637.6" y1="44.9" x2="640.8" y2="44.9" stroke="#ef3f5c" stroke-width="0.7"/>
<line x1="637.6" y1="54.9" x2="640.8" y2="54.9" stroke="#ef3f5c" stroke-width="0.7"/>
<line x1="648.5" y1="47.2" x2="648.5" y2="57.1" stroke="#ef3f5c" stroke-width="0.7"/>
<line x1="646.9" y1="47.2" x2="650.1" y2="47.2" stroke="#ef3f5c" stroke-width="0.7"/>
<line x1="646.9" y1="57.1" x2="650.1" y2="57.1" stroke="#ef3f5c" stroke-width="0.7"/>
<line x1="657.7" y1="44.9" x2="657.7" y2="54.9" stroke="#ef3f5c" stroke-width="0.7"/>
<line x1="656.1" y1="44.9" x2="659.3" y2="44.9" stroke="#ef3f5c" stroke-width="0.7"/>
<line x1="656.1" y1="54.9" x2="659.3" y2="54.9" stroke="#ef3f5c" stroke-width="0.7"/>
<line x1="667" y1="47.7" x2="667" y2="57.7" stroke="#ef3f5c" stroke-width="0.7"/>
<line x1="665.4" y1="47.7" x2="668.6" y2="47.7" stroke="#ef3f5c" stroke-width="0.7"/>
<line x1="665.4" y1="57.7" x2="668.6" y2="57.7" stroke="#ef3f5c" stroke-width="0.7"/>
<rect x="545.2" y="51.9" width="2.8" height="2.8" fill="#ef3f5c"/>
<rect x="554.4" y="49.6" width="2.8" height="2.8" fill="#ef3f5c"/>
<rect x="563.7" y="51.3" width="2.8" height="2.8" fill="#ef3f5c"/>
<rect x="573" y="51.9" width="2.8" height="2.8" fill="#ef3f5c"/>
<rect x="582.2" y="48" width="2.8" height="2.8" fill="#ef3f5c"/>
<rect x="591.5" y="49.6" width="2.8" height="2.8" fill="#ef3f5c"/>
<rect x="600.8" y="51.3" width="2.8" height="2.8" fill="#ef3f5c"/>
<rect x="610" y="49.6" width="2.8" height="2.8" fill="#ef3f5c"/>
<rect x="619.3" y="51.9" width="2.8" height="2.8" fill="#ef3f5c"/>
<rect x="628.5" y="46.3" width="2.8" height="2.8" fill="#ef3f5c"/>
<rect x="637.8" y="48.5" width="2.8" height="2.8" fill="#ef3f5c"/>
<rect x="647.1" y="50.7" width="2.8" height="2.8" fill="#ef3f5c"/>
<rect x="656.3" y="48.5" width="2.8" height="2.8" fill="#ef3f5c"/>
<rect x="665.6" y="51.3" width="2.8" height="2.8" fill="#ef3f5c"/>
<line x1="550.3" y1="23.4" x2="562.5" y2="23.4" stroke="#ef3f5c" stroke-width="0.9"/>
<rect x="555.1" y="22.1" width="2.6" height="2.6" fill="#ef3f5c"/>
<text class="sb" x="565.5" y="23.4" font-size="7.2">S.aureus</text>
<line x1="594.9" y1="23.4" x2="606.3" y2="23.4" stroke="#3f7be6" stroke-width="0.9"/>
<polyline points="600.6,21.7 602.3,23.4 600.6,25.1 598.9,23.4 600.6,21.7" fill="#3f7be6"/>
<text class="sb" x="608.7" y="23.4" font-size="7.1">MRSA</text>
<line x1="631.7" y1="23.4" x2="643.1" y2="23.4" stroke="#52e6d6" stroke-width="0.9"/>
<polyline points="637.4,21.7 639,24.7 635.8,24.7 637.4,21.7" fill="#52e6d6"/>
<text class="sb" x="645.5" y="23.4" font-size="7.1">E. coli</text>
<text class="sbm" x="606" y="136" font-size="7.2">Passages</text>
<text class="sbm" x="523" y="65.5" font-size="7.2" transform="rotate(-90 523 65.5)">Bacteria capture ratio (%)</text>
<text x="511.1" y="14.3" font-family="'Liberation Sans', sans-serif" font-size="13" font-weight="bold" style="dominant-baseline:auto">D</text>
<rect x="26" y="146.9" width="137.3" height="109.7" fill="none" stroke="#222" stroke-width="0.8"/>
<line x1="23.5" y1="252.4" x2="26" y2="252.4" stroke="#222" stroke-width="0.8"/>
<text class="sbe" x="22.5" y="252.4" font-size="7.5">0</text>
<line x1="23.5" y1="233.3" x2="26" y2="233.3" stroke="#222" stroke-width="0.8"/>
<text class="sbe" x="22.5" y="233.3" font-size="7.5">20</text>
<line x1="23.5" y1="214.3" x2="26" y2="214.3" stroke="#222" stroke-width="0.8"/>
<text class="sbe" x="22.5" y="214.3" font-size="7.5">40</text>
<line x1="23.5" y1="195.2" x2="26" y2="195.2" stroke="#222" stroke-width="0.8"/>
<text class="sbe" x="22.5" y="195.2" font-size="7.5">60</text>
<line x1="23.5" y1="176.2" x2="26" y2="176.2" stroke="#222" stroke-width="0.8"/>
<text class="sbe" x="22.5" y="176.2" font-size="7.5">80</text>
<line x1="23.5" y1="157.1" x2="26" y2="157.1" stroke="#222" stroke-width="0.8"/>
<text class="sbe" x="22.5" y="157.1" font-size="7.5">100</text>
<line x1="24.6" y1="242.9" x2="26" y2="242.9" stroke="#222" stroke-width="0.8"/>
<line x1="24.6" y1="223.8" x2="26" y2="223.8" stroke="#222" stroke-width="0.8"/>
<line x1="24.6" y1="204.8" x2="26" y2="204.8" stroke="#222" stroke-width="0.8"/>
<line x1="24.6" y1="185.7" x2="26" y2="185.7" stroke="#222" stroke-width="0.8"/>
<line x1="24.6" y1="166.6" x2="26" y2="166.6" stroke="#222" stroke-width="0.8"/>
<line x1="31.3" y1="256.6" x2="31.3" y2="259.1" stroke="#222" stroke-width="0.8"/>
<text class="sbm" x="31.3" y="264.1" font-size="7.5">0</text>
<line x1="61.8" y1="256.6" x2="61.8" y2="259.1" stroke="#222" stroke-width="0.8"/>
<text class="sbm" x="61.8" y="264.1" font-size="7.5">3</text>
<line x1="92.2" y1="256.6" x2="92.2" y2="259.1" stroke="#222" stroke-width="0.8"/>
<text class="sbm" x="92.2" y="264.1" font-size="7.5">6</text>
<line x1="122.7" y1="256.6" x2="122.7" y2="259.1" stroke="#222" stroke-width="0.8"/>
<text class="sbm" x="122.7" y="264.1" font-size="7.5">9</text>
<line x1="153.1" y1="256.6" x2="153.1" y2="259.1" stroke="#222" stroke-width="0.8"/>
<text class="sbm" x="153.1" y="264.1" font-size="7.5">12</text>
<line x1="46.5" y1="256.6" x2="46.5" y2="258" stroke="#222" stroke-width="0.8"/>
<line x1="77" y1="256.6" x2="77" y2="258" stroke="#222" stroke-width="0.8"/>
<line x1="107.4" y1="256.6" x2="107.4" y2="258" stroke="#222" stroke-width="0.8"/>
<line x1="137.9" y1="256.6" x2="137.9" y2="258" stroke="#222" stroke-width="0.8"/>
<polyline points="31.3,157.1 61.8,208.6 92.2,239.1 122.7,244.8 153.1,252.4" fill="none" stroke="#52e6d6"/>
<line x1="61.8" y1="203.3" x2="61.8" y2="213.8" stroke="#52e6d6" stroke-width="0.7"/>
<line x1="59.8" y1="203.3" x2="63.8" y2="203.3" stroke="#52e6d6" stroke-width="0.7"/>
<line x1="59.8" y1="213.8" x2="63.8" y2="213.8" stroke="#52e6d6" stroke-width="0.7"/>
<line x1="92.2" y1="234.3" x2="92.2" y2="243.8" stroke="#52e6d6" stroke-width="0.7"/>
<line x1="90.2" y1="234.3" x2="94.2" y2="234.3" stroke="#52e6d6" stroke-width="0.7"/>
<line x1="90.2" y1="243.8" x2="94.2" y2="243.8" stroke="#52e6d6" stroke-width="0.7"/>
<line x1="122.7" y1="241" x2="122.7" y2="248.6" stroke="#52e6d6" stroke-width="0.7"/>
<line x1="120.7" y1="241" x2="124.7" y2="241" stroke="#52e6d6" stroke-width="0.7"/>
<line x1="120.7" y1="248.6" x2="124.7" y2="248.6" stroke="#52e6d6" stroke-width="0.7"/>
<line x1="153.1" y1="251.4" x2="153.1" y2="253.4" stroke="#52e6d6" stroke-width="0.7"/>
<line x1="151.1" y1="251.4" x2="155.1" y2="251.4" stroke="#52e6d6" stroke-width="0.7"/>
<line x1="151.1" y1="253.4" x2="155.1" y2="253.4" stroke="#52e6d6" stroke-width="0.7"/>
<circle cx="31.3" cy="157.1" r="1.6" fill="#52e6d6"/>
<circle cx="61.8" cy="208.6" r="1.6" fill="#52e6d6"/>
<circle cx="92.2" cy="239.1" r="1.6" fill="#52e6d6"/>
<circle cx="122.7" cy="244.8" r="1.6" fill="#52e6d6"/>
<circle cx="153.1" cy="252.4" r="1.6" fill="#52e6d6"/>
<polyline points="31.3,157.1 61.8,193.3 92.2,223.8 122.7,234.3 153.1,247.6" fill="none" stroke="#3f7be6"/>
<line x1="61.8" y1="189.5" x2="61.8" y2="197.1" stroke="#3f7be6" stroke-width="0.7"/>
<line x1="59.8" y1="189.5" x2="63.8" y2="189.5" stroke="#3f7be6" stroke-width="0.7"/>
<line x1="59.8" y1="197.1" x2="63.8" y2="197.1" stroke="#3f7be6" stroke-width="0.7"/>
<line x1="92.2" y1="219" x2="92.2" y2="228.6" stroke="#3f7be6" stroke-width="0.7"/>
<line x1="90.2" y1="219" x2="94.2" y2="219" stroke="#3f7be6" stroke-width="0.7"/>
<line x1="90.2" y1="228.6" x2="94.2" y2="228.6" stroke="#3f7be6" stroke-width="0.7"/>
<line x1="122.7" y1="230" x2="122.7" y2="238.6" stroke="#3f7be6" stroke-width="0.7"/>
<line x1="120.7" y1="230" x2="124.7" y2="230" stroke="#3f7be6" stroke-width="0.7"/>
<line x1="120.7" y1="238.6" x2="124.7" y2="238.6" stroke="#3f7be6" stroke-width="0.7"/>
<line x1="153.1" y1="245.3" x2="153.1" y2="250" stroke="#3f7be6" stroke-width="0.7"/>
<line x1="151.1" y1="245.3" x2="155.1" y2="245.3" stroke="#3f7be6" stroke-width="0.7"/>
<line x1="151.1" y1="250" x2="155.1" y2="250" stroke="#3f7be6" stroke-width="0.7"/>
<circle cx="31.3" cy="157.1" r="1.6" fill="#3f7be6"/>
<circle cx="61.8" cy="193.3" r="1.6" fill="#3f7be6"/>
<circle cx="92.2" cy="223.8" r="1.6" fill="#3f7be6"/>
<circle cx="122.7" cy="234.3" r="1.6" fill="#3f7be6"/>
<circle cx="153.1" cy="247.6" r="1.6" fill="#3f7be6"/>
<polyline points="31.3,157.1 61.8,186.6 92.2,207.6 122.7,221 153.1,225.7" fill="none" stroke="#ec8a35"/>
<line x1="61.8" y1="183.8" x2="61.8" y2="189.5" stroke="#ec8a35" stroke-width="0.7"/>
<line x1="59.8" y1="183.8" x2="63.8" y2="183.8" stroke="#ec8a35" stroke-width="0.7"/>
<line x1="59.8" y1="189.5" x2="63.8" y2="189.5" stroke="#ec8a35" stroke-width="0.7"/>
<line x1="92.2" y1="203.3" x2="92.2" y2="211.9" stroke="#ec8a35" stroke-width="0.7"/>
<line x1="90.2" y1="203.3" x2="94.2" y2="203.3" stroke="#ec8a35" stroke-width="0.7"/>
<line x1="90.2" y1="211.9" x2="94.2" y2="211.9" stroke="#ec8a35" stroke-width="0.7"/>
<line x1="122.7" y1="216.7" x2="122.7" y2="225.2" stroke="#ec8a35" stroke-width="0.7"/>
<line x1="120.7" y1="216.7" x2="124.7" y2="216.7" stroke="#ec8a35" stroke-width="0.7"/>
<line x1="120.7" y1="225.2" x2="124.7" y2="225.2" stroke="#ec8a35" stroke-width="0.7"/>
<line x1="153.1" y1="221.9" x2="153.1" y2="229.5" stroke="#ec8a35" stroke-width="0.7"/>
<line x1="151.1" y1="221.9" x2="155.1" y2="221.9" stroke="#ec8a35" stroke-width="0.7"/>
<line x1="151.1" y1="229.5" x2="155.1" y2="229.5" stroke="#ec8a35" stroke-width="0.7"/>
<circle cx="31.3" cy="157.1" r="1.6" fill="#ec8a35"/>
<circle cx="61.8" cy="186.6" r="1.6" fill="#ec8a35"/>
<circle cx="92.2" cy="207.6" r="1.6" fill="#ec8a35"/>
<circle cx="122.7" cy="221" r="1.6" fill="#ec8a35"/>
<circle cx="153.1" cy="225.7" r="1.6" fill="#ec8a35"/>
<polyline points="31.3,157.1 61.8,180.9 92.2,195.2 122.7,207.6 153.1,210.5" fill="none" stroke="#ef3f5c"/>
<line x1="61.8" y1="177.6" x2="61.8" y2="184.3" stroke="#ef3f5c" stroke-width="0.7"/>
<line x1="59.8" y1="177.6" x2="63.8" y2="177.6" stroke="#ef3f5c" stroke-width="0.7"/>
<line x1="59.8" y1="184.3" x2="63.8" y2="184.3" stroke="#ef3f5c" stroke-width="0.7"/>
<line x1="92.2" y1="191.4" x2="92.2" y2="199" stroke="#ef3f5c" stroke-width="0.7"/>
<line x1="90.2" y1="191.4" x2="94.2" y2="191.4" stroke="#ef3f5c" stroke-width="0.7"/>
<line x1="90.2" y1="199" x2="94.2" y2="199" stroke="#ef3f5c" stroke-width="0.7"/>
<line x1="122.7" y1="203.3" x2="122.7" y2="211.9" stroke="#ef3f5c" stroke-width="0.7"/>
<line x1="120.7" y1="203.3" x2="124.7" y2="203.3" stroke="#ef3f5c" stroke-width="0.7"/>
<line x1="120.7" y1="211.9" x2="124.7" y2="211.9" stroke="#ef3f5c" stroke-width="0.7"/>
<line x1="153.1" y1="206.2" x2="153.1" y2="214.8" stroke="#ef3f5c" stroke-width="0.7"/>
<line x1="151.1" y1="206.2" x2="155.1" y2="206.2" stroke="#ef3f5c" stroke-width="0.7"/>
<line x1="151.1" y1="214.8" x2="155.1" y2="214.8" stroke="#ef3f5c" stroke-width="0.7"/>
<circle cx="31.3" cy="157.1" r="1.6" fill="#ef3f5c"/>
<circle cx="61.8" cy="180.9" r="1.6" fill="#ef3f5c"/>
<circle cx="92.2" cy="195.2" r="1.6" fill="#ef3f5c"/>
<circle cx="122.7" cy="207.6" r="1.6" fill="#ef3f5c"/>
<circle cx="153.1" cy="210.5" r="1.6" fill="#ef3f5c"/>
<line x1="27.9" y1="225.3" x2="40" y2="225.3" stroke="#ef3f5c"/>
<circle cx="33.9" cy="225.3" r="1.5" fill="#ef3f5c"/>
<text class="sb" x="41.8" y="225.3" font-size="7.4">HAPP1</text>
<line x1="27.9" y1="234.3" x2="40" y2="234.3" stroke="#ec8a35"/>
<circle cx="33.9" cy="234.3" r="1.5" fill="#ec8a35"/>
<text class="sb" x="41.8" y="234.3" font-size="7.4">HAPP2</text>
<line x1="27.9" y1="243.3" x2="40" y2="243.3" stroke="#3f7be6"/>
<circle cx="33.9" cy="243.3" r="1.5" fill="#3f7be6"/>
<text class="sb" x="41.8" y="243.3" font-size="7.4">HAPP3</text>
<line x1="27.9" y1="252.3" x2="40" y2="252.3" stroke="#52e6d6"/>
<circle cx="33.9" cy="252.3" r="1.5" fill="#52e6d6"/>
<text class="sb" x="41.8" y="252.3" font-size="7.4">HAPP4</text>
<text class="sbe" x="161" y="153.4" font-size="7.4">MRSA</text>
<text class="sbm" x="92.2" y="270.8" font-size="7.2">Time (h)</text>
<text class="sbm" x="8.3" y="203.8" font-size="7.5" transform="rotate(-90 8.3 203.8)">Bacterial growth rate (%)</text>
<text x="0.8" y="145.8" font-family="'Liberation Sans', sans-serif" font-size="13" font-weight="bold" style="dominant-baseline:auto">E</text>
<rect x="194.8" y="147.4" width="137.7" height="110.4" fill="none" stroke="#222" stroke-width="0.8"/>
<line x1="192.3" y1="253.4" x2="194.8" y2="253.4" stroke="#222" stroke-width="0.8"/>
<text class="sbe" x="191.3" y="253.4" font-size="7.5">0</text>
<line x1="192.3" y1="234.2" x2="194.8" y2="234.2" stroke="#222" stroke-width="0.8"/>
<text class="sbe" x="191.3" y="234.2" font-size="7.5">20</text>
<line x1="192.3" y1="215" x2="194.8" y2="215" stroke="#222" stroke-width="0.8"/>
<text class="sbe" x="191.3" y="215" font-size="7.5">40</text>
<line x1="192.3" y1="195.7" x2="194.8" y2="195.7" stroke="#222" stroke-width="0.8"/>
<text class="sbe" x="191.3" y="195.7" font-size="7.5">60</text>
<line x1="192.3" y1="176.5" x2="194.8" y2="176.5" stroke="#222" stroke-width="0.8"/>
<text class="sbe" x="191.3" y="176.5" font-size="7.5">80</text>
<line x1="192.3" y1="157.3" x2="194.8" y2="157.3" stroke="#222" stroke-width="0.8"/>
<text class="sbe" x="191.3" y="157.3" font-size="7.5">100</text>
<line x1="193.4" y1="243.8" x2="194.8" y2="243.8" stroke="#222" stroke-width="0.8"/>
<line x1="193.4" y1="224.6" x2="194.8" y2="224.6" stroke="#222" stroke-width="0.8"/>
<line x1="193.4" y1="205.4" x2="194.8" y2="205.4" stroke="#222" stroke-width="0.8"/>
<line x1="193.4" y1="186.1" x2="194.8" y2="186.1" stroke="#222" stroke-width="0.8"/>
<line x1="193.4" y1="166.9" x2="194.8" y2="166.9" stroke="#222" stroke-width="0.8"/>
<line x1="200.3" y1="257.8" x2="200.3" y2="260.3" stroke="#222" stroke-width="0.8"/>
<text class="sbm" x="200.3" y="265.3" font-size="7.5">0</text>
<line x1="230.7" y1="257.8" x2="230.7" y2="260.3" stroke="#222" stroke-width="0.8"/>
<text class="sbm" x="230.7" y="265.3" font-size="7.5">3</text>
<line x1="261.1" y1="257.8" x2="261.1" y2="260.3" stroke="#222" stroke-width="0.8"/>
<text class="sbm" x="261.1" y="265.3" font-size="7.5">6</text>
<line x1="291.5" y1="257.8" x2="291.5" y2="260.3" stroke="#222" stroke-width="0.8"/>
<text class="sbm" x="291.5" y="265.3" font-size="7.5">9</text>
<line x1="321.9" y1="257.8" x2="321.9" y2="260.3" stroke="#222" stroke-width="0.8"/>
<text class="sbm" x="321.9" y="265.3" font-size="7.5">12</text>
<line x1="215.5" y1="257.8" x2="215.5" y2="259.2" stroke="#222" stroke-width="0.8"/>
<line x1="245.9" y1="257.8" x2="245.9" y2="259.2" stroke="#222" stroke-width="0.8"/>
<line x1="276.3" y1="257.8" x2="276.3" y2="259.2" stroke="#222" stroke-width="0.8"/>
<line x1="306.7" y1="257.8" x2="306.7" y2="259.2" stroke="#222" stroke-width="0.8"/>
<polyline points="200.3,157.3 230.7,210.2 261.1,238 291.5,247.6 321.9,252.4" fill="none" stroke="#52e6d6"/>
<line x1="230.7" y1="204.9" x2="230.7" y2="215.4" stroke="#52e6d6" stroke-width="0.7"/>
<line x1="228.7" y1="204.9" x2="232.7" y2="204.9" stroke="#52e6d6" stroke-width="0.7"/>
<line x1="228.7" y1="215.4" x2="232.7" y2="215.4" stroke="#52e6d6" stroke-width="0.7"/>
<line x1="261.1" y1="233.2" x2="261.1" y2="242.8" stroke="#52e6d6" stroke-width="0.7"/>
<line x1="259.1" y1="233.2" x2="263.1" y2="233.2" stroke="#52e6d6" stroke-width="0.7"/>
<line x1="259.1" y1="242.8" x2="263.1" y2="242.8" stroke="#52e6d6" stroke-width="0.7"/>
<line x1="291.5" y1="243.8" x2="291.5" y2="251.5" stroke="#52e6d6" stroke-width="0.7"/>
<line x1="289.5" y1="243.8" x2="293.5" y2="243.8" stroke="#52e6d6" stroke-width="0.7"/>
<line x1="289.5" y1="251.5" x2="293.5" y2="251.5" stroke="#52e6d6" stroke-width="0.7"/>
<line x1="321.9" y1="251.5" x2="321.9" y2="253.4" stroke="#52e6d6" stroke-width="0.7"/>
<line x1="319.9" y1="251.5" x2="323.9" y2="251.5" stroke="#52e6d6" stroke-width="0.7"/>
<line x1="319.9" y1="253.4" x2="323.9" y2="253.4" stroke="#52e6d6" stroke-width="0.7"/>
<circle cx="200.3" cy="157.3" r="1.6" fill="#52e6d6"/>
<circle cx="230.7" cy="210.2" r="1.6" fill="#52e6d6"/>
<circle cx="261.1" cy="238" r="1.6" fill="#52e6d6"/>
<circle cx="291.5" cy="247.6" r="1.6" fill="#52e6d6"/>
<circle cx="321.9" cy="252.4" r="1.6" fill="#52e6d6"/>
<polyline points="200.3,157.3 230.7,200.5 261.1,221.7 291.5,242.8 321.9,249.6" fill="none" stroke="#3f7be6"/>
<line x1="230.7" y1="195.7" x2="230.7" y2="205.4" stroke="#3f7be6" stroke-width="0.7"/>
<line x1="228.7" y1="195.7" x2="232.7" y2="195.7" stroke="#3f7be6" stroke-width="0.7"/>
<line x1="228.7" y1="205.4" x2="232.7" y2="205.4" stroke="#3f7be6" stroke-width="0.7"/>
<line x1="261.1" y1="217.8" x2="261.1" y2="225.5" stroke="#3f7be6" stroke-width="0.7"/>
<line x1="259.1" y1="217.8" x2="263.1" y2="217.8" stroke="#3f7be6" stroke-width="0.7"/>
<line x1="259.1" y1="225.5" x2="263.1" y2="225.5" stroke="#3f7be6" stroke-width="0.7"/>
<line x1="291.5" y1="239.5" x2="291.5" y2="246.2" stroke="#3f7be6" stroke-width="0.7"/>
<line x1="289.5" y1="239.5" x2="293.5" y2="239.5" stroke="#3f7be6" stroke-width="0.7"/>
<line x1="289.5" y1="246.2" x2="293.5" y2="246.2" stroke="#3f7be6" stroke-width="0.7"/>
<line x1="321.9" y1="247.6" x2="321.9" y2="251.5" stroke="#3f7be6" stroke-width="0.7"/>
<line x1="319.9" y1="247.6" x2="323.9" y2="247.6" stroke="#3f7be6" stroke-width="0.7"/>
<line x1="319.9" y1="251.5" x2="323.9" y2="251.5" stroke="#3f7be6" stroke-width="0.7"/>
<circle cx="200.3" cy="157.3" r="1.6" fill="#3f7be6"/>
<circle cx="230.7" cy="200.5" r="1.6" fill="#3f7be6"/>
<circle cx="261.1" cy="221.7" r="1.6" fill="#3f7be6"/>
<circle cx="291.5" cy="242.8" r="1.6" fill="#3f7be6"/>
<circle cx="321.9" cy="249.6" r="1.6" fill="#3f7be6"/>
<polyline points="200.3,157.3 230.7,189 261.1,203.4 291.5,222.6 321.9,227.5" fill="none" stroke="#ec8a35"/>
<line x1="230.7" y1="185.2" x2="230.7" y2="192.9" stroke="#ec8a35" stroke-width="0.7"/>
<line x1="228.7" y1="185.2" x2="232.7" y2="185.2" stroke="#ec8a35" stroke-width="0.7"/>
<line x1="228.7" y1="192.9" x2="232.7" y2="192.9" stroke="#ec8a35" stroke-width="0.7"/>
<line x1="261.1" y1="199.1" x2="261.1" y2="207.8" stroke="#ec8a35" stroke-width="0.7"/>
<line x1="259.1" y1="199.1" x2="263.1" y2="199.1" stroke="#ec8a35" stroke-width="0.7"/>
<line x1="259.1" y1="207.8" x2="263.1" y2="207.8" stroke="#ec8a35" stroke-width="0.7"/>
<line x1="291.5" y1="218.3" x2="291.5" y2="227" stroke="#ec8a35" stroke-width="0.7"/>
<line x1="289.5" y1="218.3" x2="293.5" y2="218.3" stroke="#ec8a35" stroke-width="0.7"/>
<line x1="289.5" y1="227" x2="293.5" y2="227" stroke="#ec8a35" stroke-width="0.7"/>
<line x1="321.9" y1="223.1" x2="321.9" y2="231.8" stroke="#ec8a35" stroke-width="0.7"/>
<line x1="319.9" y1="223.1" x2="323.9" y2="223.1" stroke="#ec8a35" stroke-width="0.7"/>
<line x1="319.9" y1="231.8" x2="323.9" y2="231.8" stroke="#ec8a35" stroke-width="0.7"/>
<circle cx="200.3" cy="157.3" r="1.6" fill="#ec8a35"/>
<circle cx="230.7" cy="189" r="1.6" fill="#ec8a35"/>
<circle cx="261.1" cy="203.4" r="1.6" fill="#ec8a35"/>
<circle cx="291.5" cy="222.6" r="1.6" fill="#ec8a35"/>
<circle cx="321.9" cy="227.5" r="1.6" fill="#ec8a35"/>
<polyline points="200.3,157.3 230.7,182.3 261.1,193.8 291.5,209.2 321.9,213" fill="none" stroke="#ef3f5c"/>
<line x1="230.7" y1="178" x2="230.7" y2="186.6" stroke="#ef3f5c" stroke-width="0.7"/>
<line x1="228.7" y1="178" x2="232.7" y2="178" stroke="#ef3f5c" stroke-width="0.7"/>
<line x1="228.7" y1="186.6" x2="232.7" y2="186.6" stroke="#ef3f5c" stroke-width="0.7"/>
<line x1="261.1" y1="189.5" x2="261.1" y2="198.1" stroke="#ef3f5c" stroke-width="0.7"/>
<line x1="259.1" y1="189.5" x2="263.1" y2="189.5" stroke="#ef3f5c" stroke-width="0.7"/>
<line x1="259.1" y1="198.1" x2="263.1" y2="198.1" stroke="#ef3f5c" stroke-width="0.7"/>
<line x1="291.5" y1="203.9" x2="291.5" y2="214.5" stroke="#ef3f5c" stroke-width="0.7"/>
<line x1="289.5" y1="203.9" x2="293.5" y2="203.9" stroke="#ef3f5c" stroke-width="0.7"/>
<line x1="289.5" y1="214.5" x2="293.5" y2="214.5" stroke="#ef3f5c" stroke-width="0.7"/>
<line x1="321.9" y1="208.2" x2="321.9" y2="217.8" stroke="#ef3f5c" stroke-width="0.7"/>
<line x1="319.9" y1="208.2" x2="323.9" y2="208.2" stroke="#ef3f5c" stroke-width="0.7"/>
<line x1="319.9" y1="217.8" x2="323.9" y2="217.8" stroke="#ef3f5c" stroke-width="0.7"/>
<circle cx="200.3" cy="157.3" r="1.6" fill="#ef3f5c"/>
<circle cx="230.7" cy="182.3" r="1.6" fill="#ef3f5c"/>
<circle cx="261.1" cy="193.8" r="1.6" fill="#ef3f5c"/>
<circle cx="291.5" cy="209.2" r="1.6" fill="#ef3f5c"/>
<circle cx="321.9" cy="213" r="1.6" fill="#ef3f5c"/>
<line x1="196.2" y1="225.8" x2="208.3" y2="225.8" stroke="#ef3f5c"/>
<circle cx="202.2" cy="225.8" r="1.5" fill="#ef3f5c"/>
<text class="sb" x="210.1" y="225.8" font-size="7.4">HAPP1</text>
<line x1="196.2" y1="234.8" x2="208.3" y2="234.8" stroke="#ec8a35"/>
<circle cx="202.2" cy="234.8" r="1.5" fill="#ec8a35"/>
<text class="sb" x="210.1" y="234.8" font-size="7.4">HAPP2</text>
<line x1="196.2" y1="243.8" x2="208.3" y2="243.8" stroke="#3f7be6"/>
<circle cx="202.2" cy="243.8" r="1.5" fill="#3f7be6"/>
<text class="sb" x="210.1" y="243.8" font-size="7.4">HAPP3</text>
<line x1="196.2" y1="252.8" x2="208.3" y2="252.8" stroke="#52e6d6"/>
<circle cx="202.2" cy="252.8" r="1.5" fill="#52e6d6"/>
<text class="sb" x="210.1" y="252.8" font-size="7.4">HAPP4</text>
<text class="sbe" x="330.5" y="153.9" font-size="7.4">S.aureus</text>
<text class="sbm" x="261.1" y="272" font-size="7.2">Time (h)</text>
<text class="sbm" x="177.1" y="204.6" font-size="7.5" transform="rotate(-90 177.1 204.6)">Bacterial growth rate (%)</text>
<text x="170.2" y="145.8" font-family="'Liberation Sans', sans-serif" font-size="13" font-weight="bold" style="dominant-baseline:auto">F</text>
<rect x="366.8" y="147.4" width="138.2" height="110.9" fill="none" stroke="#222" stroke-width="0.8"/>
<line x1="364.3" y1="253.6" x2="366.8" y2="253.6" stroke="#222" stroke-width="0.8"/>
<text class="sbe" x="363.3" y="253.6" font-size="7.5">0</text>
<line x1="364.3" y1="234.3" x2="366.8" y2="234.3" stroke="#222" stroke-width="0.8"/>
<text class="sbe" x="363.3" y="234.3" font-size="7.5">20</text>
<line x1="364.3" y1="215.1" x2="366.8" y2="215.1" stroke="#222" stroke-width="0.8"/>
<text class="sbe" x="363.3" y="215.1" font-size="7.5">40</text>
<line x1="364.3" y1="195.8" x2="366.8" y2="195.8" stroke="#222" stroke-width="0.8"/>
<text class="sbe" x="363.3" y="195.8" font-size="7.5">60</text>
<line x1="364.3" y1="176.6" x2="366.8" y2="176.6" stroke="#222" stroke-width="0.8"/>
<text class="sbe" x="363.3" y="176.6" font-size="7.5">80</text>
<line x1="364.3" y1="157.3" x2="366.8" y2="157.3" stroke="#222" stroke-width="0.8"/>
<text class="sbe" x="363.3" y="157.3" font-size="7.5">100</text>
<line x1="365.4" y1="244" x2="366.8" y2="244" stroke="#222" stroke-width="0.8"/>
<line x1="365.4" y1="224.7" x2="366.8" y2="224.7" stroke="#222" stroke-width="0.8"/>
<line x1="365.4" y1="205.4" x2="366.8" y2="205.4" stroke="#222" stroke-width="0.8"/>
<line x1="365.4" y1="186.2" x2="366.8" y2="186.2" stroke="#222" stroke-width="0.8"/>
<line x1="365.4" y1="166.9" x2="366.8" y2="166.9" stroke="#222" stroke-width="0.8"/>
<line x1="372.3" y1="258.3" x2="372.3" y2="260.8" stroke="#222" stroke-width="0.8"/>
<text class="sbm" x="372.3" y="265.8" font-size="7.5">0</text>
<line x1="402.9" y1="258.3" x2="402.9" y2="260.8" stroke="#222" stroke-width="0.8"/>
<text class="sbm" x="402.9" y="265.8" font-size="7.5">3</text>
<line x1="433.6" y1="258.3" x2="433.6" y2="260.8" stroke="#222" stroke-width="0.8"/>
<text class="sbm" x="433.6" y="265.8" font-size="7.5">6</text>
<line x1="464.2" y1="258.3" x2="464.2" y2="260.8" stroke="#222" stroke-width="0.8"/>
<text class="sbm" x="464.2" y="265.8" font-size="7.5">9</text>
<line x1="494.8" y1="258.3" x2="494.8" y2="260.8" stroke="#222" stroke-width="0.8"/>
<text class="sbm" x="494.8" y="265.8" font-size="7.5">12</text>
<line x1="387.6" y1="258.3" x2="387.6" y2="259.7" stroke="#222" stroke-width="0.8"/>
<line x1="418.2" y1="258.3" x2="418.2" y2="259.7" stroke="#222" stroke-width="0.8"/>
<line x1="448.9" y1="258.3" x2="448.9" y2="259.7" stroke="#222" stroke-width="0.8"/>
<line x1="479.5" y1="258.3" x2="479.5" y2="259.7" stroke="#222" stroke-width="0.8"/>
<polyline points="372.3,157.3 402.9,209.3 433.6,236.3 464.2,249.7 494.8,253.6" fill="none" stroke="#52e6d6"/>
<line x1="402.9" y1="205" x2="402.9" y2="213.6" stroke="#52e6d6" stroke-width="0.7"/>
<line x1="400.9" y1="205" x2="404.9" y2="205" stroke="#52e6d6" stroke-width="0.7"/>
<line x1="400.9" y1="213.6" x2="404.9" y2="213.6" stroke="#52e6d6" stroke-width="0.7"/>
<line x1="433.6" y1="232.4" x2="433.6" y2="240.1" stroke="#52e6d6" stroke-width="0.7"/>
<line x1="431.6" y1="232.4" x2="435.6" y2="232.4" stroke="#52e6d6" stroke-width="0.7"/>
<line x1="431.6" y1="240.1" x2="435.6" y2="240.1" stroke="#52e6d6" stroke-width="0.7"/>
<line x1="464.2" y1="246.4" x2="464.2" y2="253.1" stroke="#52e6d6" stroke-width="0.7"/>
<line x1="462.2" y1="246.4" x2="466.2" y2="246.4" stroke="#52e6d6" stroke-width="0.7"/>
<line x1="462.2" y1="253.1" x2="466.2" y2="253.1" stroke="#52e6d6" stroke-width="0.7"/>
<line x1="494.8" y1="252.6" x2="494.8" y2="254.6" stroke="#52e6d6" stroke-width="0.7"/>
<line x1="492.8" y1="252.6" x2="496.8" y2="252.6" stroke="#52e6d6" stroke-width="0.7"/>
<line x1="492.8" y1="254.6" x2="496.8" y2="254.6" stroke="#52e6d6" stroke-width="0.7"/>
<circle cx="372.3" cy="157.3" r="1.6" fill="#52e6d6"/>
<circle cx="402.9" cy="209.3" r="1.6" fill="#52e6d6"/>
<circle cx="433.6" cy="236.3" r="1.6" fill="#52e6d6"/>
<circle cx="464.2" cy="249.7" r="1.6" fill="#52e6d6"/>
<circle cx="494.8" cy="253.6" r="1.6" fill="#52e6d6"/>
<polyline points="372.3,157.3 402.9,198.7 433.6,226.6 464.2,244.9 494.8,251.7" fill="none" stroke="#3f7be6"/>
<line x1="402.9" y1="194.9" x2="402.9" y2="202.6" stroke="#3f7be6" stroke-width="0.7"/>
<line x1="400.9" y1="194.9" x2="404.9" y2="194.9" stroke="#3f7be6" stroke-width="0.7"/>
<line x1="400.9" y1="202.6" x2="404.9" y2="202.6" stroke="#3f7be6" stroke-width="0.7"/>
<line x1="433.6" y1="222.8" x2="433.6" y2="230.5" stroke="#3f7be6" stroke-width="0.7"/>
<line x1="431.6" y1="222.8" x2="435.6" y2="222.8" stroke="#3f7be6" stroke-width="0.7"/>
<line x1="431.6" y1="230.5" x2="435.6" y2="230.5" stroke="#3f7be6" stroke-width="0.7"/>
<line x1="464.2" y1="242" x2="464.2" y2="247.8" stroke="#3f7be6" stroke-width="0.7"/>
<line x1="462.2" y1="242" x2="466.2" y2="242" stroke="#3f7be6" stroke-width="0.7"/>
<line x1="462.2" y1="247.8" x2="466.2" y2="247.8" stroke="#3f7be6" stroke-width="0.7"/>
<line x1="494.8" y1="250.2" x2="494.8" y2="253.1" stroke="#3f7be6" stroke-width="0.7"/>
<line x1="492.8" y1="250.2" x2="496.8" y2="250.2" stroke="#3f7be6" stroke-width="0.7"/>
<line x1="492.8" y1="253.1" x2="496.8" y2="253.1" stroke="#3f7be6" stroke-width="0.7"/>
<circle cx="372.3" cy="157.3" r="1.6" fill="#3f7be6"/>
<circle cx="402.9" cy="198.7" r="1.6" fill="#3f7be6"/>
<circle cx="433.6" cy="226.6" r="1.6" fill="#3f7be6"/>
<circle cx="464.2" cy="244.9" r="1.6" fill="#3f7be6"/>
<circle cx="494.8" cy="251.7" r="1.6" fill="#3f7be6"/>
<polyline points="372.3,157.3 402.9,188.1 433.6,204.5 464.2,221.8 494.8,229.5" fill="none" stroke="#ec8a35"/>
<line x1="402.9" y1="184.7" x2="402.9" y2="191.5" stroke="#ec8a35" stroke-width="0.7"/>
<line x1="400.9" y1="184.7" x2="404.9" y2="184.7" stroke="#ec8a35" stroke-width="0.7"/>
<line x1="400.9" y1="191.5" x2="404.9" y2="191.5" stroke="#ec8a35" stroke-width="0.7"/>
<line x1="433.6" y1="200.2" x2="433.6" y2="208.8" stroke="#ec8a35" stroke-width="0.7"/>
<line x1="431.6" y1="200.2" x2="435.6" y2="200.2" stroke="#ec8a35" stroke-width="0.7"/>
<line x1="431.6" y1="208.8" x2="435.6" y2="208.8" stroke="#ec8a35" stroke-width="0.7"/>
<line x1="464.2" y1="218" x2="464.2" y2="225.7" stroke="#ec8a35" stroke-width="0.7"/>
<line x1="462.2" y1="218" x2="466.2" y2="218" stroke="#ec8a35" stroke-width="0.7"/>
<line x1="462.2" y1="225.7" x2="466.2" y2="225.7" stroke="#ec8a35" stroke-width="0.7"/>
<line x1="494.8" y1="226.2" x2="494.8" y2="232.9" stroke="#ec8a35" stroke-width="0.7"/>
<line x1="492.8" y1="226.2" x2="496.8" y2="226.2" stroke="#ec8a35" stroke-width="0.7"/>
<line x1="492.8" y1="232.9" x2="496.8" y2="232.9" stroke="#ec8a35" stroke-width="0.7"/>
<circle cx="372.3" cy="157.3" r="1.6" fill="#ec8a35"/>
<circle cx="402.9" cy="188.1" r="1.6" fill="#ec8a35"/>
<circle cx="433.6" cy="204.5" r="1.6" fill="#ec8a35"/>
<circle cx="464.2" cy="221.8" r="1.6" fill="#ec8a35"/>
<circle cx="494.8" cy="229.5" r="1.6" fill="#ec8a35"/>
<polyline points="372.3,157.3 402.9,181.4 433.6,194.9 464.2,205.4 494.8,214.1" fill="none" stroke="#ef3f5c"/>
<line x1="402.9" y1="177.5" x2="402.9" y2="185.2" stroke="#ef3f5c" stroke-width="0.7"/>
<line x1="400.9" y1="177.5" x2="404.9" y2="177.5" stroke="#ef3f5c" stroke-width="0.7"/>
<line x1="400.9" y1="185.2" x2="404.9" y2="185.2" stroke="#ef3f5c" stroke-width="0.7"/>
<line x1="433.6" y1="191" x2="433.6" y2="198.7" stroke="#ef3f5c" stroke-width="0.7"/>
<line x1="431.6" y1="191" x2="435.6" y2="191" stroke="#ef3f5c" stroke-width="0.7"/>
<line x1="431.6" y1="198.7" x2="435.6" y2="198.7" stroke="#ef3f5c" stroke-width="0.7"/>
<line x1="464.2" y1="202.1" x2="464.2" y2="208.8" stroke="#ef3f5c" stroke-width="0.7"/>
<line x1="462.2" y1="202.1" x2="466.2" y2="202.1" stroke="#ef3f5c" stroke-width="0.7"/>
<line x1="462.2" y1="208.8" x2="466.2" y2="208.8" stroke="#ef3f5c" stroke-width="0.7"/>
<line x1="494.8" y1="210.7" x2="494.8" y2="217.5" stroke="#ef3f5c" stroke-width="0.7"/>
<line x1="492.8" y1="210.7" x2="496.8" y2="210.7" stroke="#ef3f5c" stroke-width="0.7"/>
<line x1="492.8" y1="217.5" x2="496.8" y2="217.5" stroke="#ef3f5c" stroke-width="0.7"/>
<circle cx="372.3" cy="157.3" r="1.6" fill="#ef3f5c"/>
<circle cx="402.9" cy="181.4" r="1.6" fill="#ef3f5c"/>
<circle cx="433.6" cy="194.9" r="1.6" fill="#ef3f5c"/>
<circle cx="464.2" cy="205.4" r="1.6" fill="#ef3f5c"/>
<circle cx="494.8" cy="214.1" r="1.6" fill="#ef3f5c"/>
<line x1="368" y1="225.8" x2="380.1" y2="225.8" stroke="#ef3f5c"/>
<circle cx="374" cy="225.8" r="1.5" fill="#ef3f5c"/>
<text class="sb" x="381.9" y="225.8" font-size="7.4">HAPP1</text>
<line x1="368" y1="234.8" x2="380.1" y2="234.8" stroke="#ec8a35"/>
<circle cx="374" cy="234.8" r="1.5" fill="#ec8a35"/>
<text class="sb" x="381.9" y="234.8" font-size="7.4">HAPP2</text>
<line x1="368" y1="243.8" x2="380.1" y2="243.8" stroke="#3f7be6"/>
<circle cx="374" cy="243.8" r="1.5" fill="#3f7be6"/>
<text class="sb" x="381.9" y="243.8" font-size="7.4">HAPP3</text>
<line x1="368" y1="252.8" x2="380.1" y2="252.8" stroke="#52e6d6"/>
<circle cx="374" cy="252.8" r="1.5" fill="#52e6d6"/>
<text class="sb" x="381.9" y="252.8" font-size="7.4">HAPP4</text>
<text class="sbe" x="502.5" y="153.9" font-size="7.4">E. coli</text>
<text class="sbm" x="433.6" y="272.5" font-size="7.2">Time (h)</text>
<text class="sbm" x="349.1" y="204.9" font-size="7.5" transform="rotate(-90 349.1 204.9)">Bacterial growth rate (%)</text>
<text x="344" y="146.1" font-family="'Liberation Sans', sans-serif" font-size="13" font-weight="bold" style="dominant-baseline:auto">G</text>
<rect x="535.7" y="146.8" width="141.4" height="113.8" fill="none" stroke="#222" stroke-width="0.8"/>
<line x1="533.2" y1="260.6" x2="535.7" y2="260.6" stroke="#222" stroke-width="0.8"/>
<text class="se" x="532.2" y="260.6" font-size="7">0</text>
<line x1="533.2" y1="242.6" x2="535.7" y2="242.6" stroke="#222" stroke-width="0.8"/>
<text class="se" x="532.2" y="242.6" font-size="7">20</text>
<line x1="533.2" y1="224.5" x2="535.7" y2="224.5" stroke="#222" stroke-width="0.8"/>
<text class="se" x="532.2" y="224.5" font-size="7">40</text>
<line x1="533.2" y1="206.5" x2="535.7" y2="206.5" stroke="#222" stroke-width="0.8"/>
<text class="se" x="532.2" y="206.5" font-size="7">60</text>
<line x1="533.2" y1="188.4" x2="535.7" y2="188.4" stroke="#222" stroke-width="0.8"/>
<text class="se" x="532.2" y="188.4" font-size="7">80</text>
<line x1="533.2" y1="170.4" x2="535.7" y2="170.4" stroke="#222" stroke-width="0.8"/>
<text class="se" x="532.2" y="170.4" font-size="7">100</text>
<line x1="533.2" y1="152.3" x2="535.7" y2="152.3" stroke="#222" stroke-width="0.8"/>
<text class="se" x="532.2" y="152.3" font-size="7">120</text>
<line x1="534.3" y1="251.6" x2="535.7" y2="251.6" stroke="#222" stroke-width="0.8"/>
<line x1="534.3" y1="233.5" x2="535.7" y2="233.5" stroke="#222" stroke-width="0.8"/>
<line x1="534.3" y1="215.5" x2="535.7" y2="215.5" stroke="#222" stroke-width="0.8"/>
<line x1="534.3" y1="197.4" x2="535.7" y2="197.4" stroke="#222" stroke-width="0.8"/>
<line x1="534.3" y1="179.4" x2="535.7" y2="179.4" stroke="#222" stroke-width="0.8"/>
<line x1="534.3" y1="161.3" x2="535.7" y2="161.3" stroke="#222" stroke-width="0.8"/>
<rect x="539.2" y="250.7" width="8.1" height="9.9" fill="#f23f5b"/>
<rect x="547.3" y="208.3" width="8.1" height="52.3" fill="#f08b2c"/>
<rect x="555.4" y="194.7" width="8.1" height="65.9" fill="#ecd55f"/>
<rect x="563.5" y="173.1" width="8.1" height="87.5" fill="#3f83f2"/>
<rect x="571.6" y="170.4" width="8.1" height="90.2" fill="#70f3d7"/>
<line x1="543.2" y1="248.4" x2="543.2" y2="252.9" stroke="#111" stroke-width="0.7"/>
<line x1="541.5" y1="248.4" x2="545" y2="248.4" stroke="#111" stroke-width="0.7"/>
<line x1="541.5" y1="252.9" x2="545" y2="252.9" stroke="#111" stroke-width="0.7"/>
<circle cx="543.3" cy="247.2" r="0.8" fill="#9a9a9a"/>
<circle cx="543.6" cy="250.2" r="0.8" fill="#9a9a9a"/>
<circle cx="543" cy="253.7" r="0.8" fill="#9a9a9a"/>
<line x1="551.4" y1="206.5" x2="551.4" y2="210.1" stroke="#111" stroke-width="0.7"/>
<line x1="549.6" y1="206.5" x2="553.1" y2="206.5" stroke="#111" stroke-width="0.7"/>
<line x1="549.6" y1="210.1" x2="553.1" y2="210.1" stroke="#111" stroke-width="0.7"/>
<circle cx="551.2" cy="205.5" r="0.8" fill="#9a9a9a"/>
<circle cx="551.9" cy="208.6" r="0.8" fill="#9a9a9a"/>
<circle cx="551" cy="210.9" r="0.8" fill="#9a9a9a"/>
<line x1="559.5" y1="192.5" x2="559.5" y2="197" stroke="#111" stroke-width="0.7"/>
<line x1="557.7" y1="192.5" x2="561.2" y2="192.5" stroke="#111" stroke-width="0.7"/>
<line x1="557.7" y1="197" x2="561.2" y2="197" stroke="#111" stroke-width="0.7"/>
<circle cx="559.1" cy="191.8" r="0.8" fill="#9a9a9a"/>
<circle cx="559.6" cy="195" r="0.8" fill="#9a9a9a"/>
<circle cx="558.9" cy="197.8" r="0.8" fill="#9a9a9a"/>
<line x1="567.5" y1="172.2" x2="567.5" y2="174" stroke="#111" stroke-width="0.7"/>
<line x1="565.8" y1="172.2" x2="569.3" y2="172.2" stroke="#111" stroke-width="0.7"/>
<line x1="565.8" y1="174" x2="569.3" y2="174" stroke="#111" stroke-width="0.7"/>
<circle cx="567.4" cy="171.8" r="0.8" fill="#9a9a9a"/>
<circle cx="568.1" cy="173" r="0.8" fill="#9a9a9a"/>
<circle cx="567.6" cy="174.2" r="0.8" fill="#9a9a9a"/>
<line x1="575.6" y1="169.9" x2="575.6" y2="170.8" stroke="#111" stroke-width="0.7"/>
<line x1="573.9" y1="169.9" x2="577.4" y2="169.9" stroke="#111" stroke-width="0.7"/>
<line x1="573.9" y1="170.8" x2="577.4" y2="170.8" stroke="#111" stroke-width="0.7"/>
<circle cx="575.9" cy="169.9" r="0.8" fill="#9a9a9a"/>
<circle cx="576.1" cy="170.3" r="0.8" fill="#9a9a9a"/>
<circle cx="576.1" cy="170.9" r="0.8" fill="#9a9a9a"/>
<rect x="585.9" y="252.5" width="8.1" height="8.1" fill="#f23f5b"/>
<rect x="594" y="211" width="8.1" height="49.6" fill="#f08b2c"/>
<rect x="602.1" y="196.5" width="8.1" height="64.1" fill="#ecd55f"/>
<rect x="610.2" y="174.9" width="8.1" height="85.7" fill="#3f83f2"/>
<rect x="618.3" y="170.4" width="8.1" height="90.2" fill="#70f3d7"/>
<line x1="589.9" y1="250.2" x2="589.9" y2="254.7" stroke="#111" stroke-width="0.7"/>
<line x1="588.1" y1="250.2" x2="591.7" y2="250.2" stroke="#111" stroke-width="0.7"/>
<line x1="588.1" y1="254.7" x2="591.7" y2="254.7" stroke="#111" stroke-width="0.7"/>
<circle cx="589.8" cy="249.7" r="0.8" fill="#9a9a9a"/>
<circle cx="589.5" cy="252.3" r="0.8" fill="#9a9a9a"/>
<circle cx="589.4" cy="256" r="0.8" fill="#9a9a9a"/>
<line x1="598" y1="209.2" x2="598" y2="212.8" stroke="#111" stroke-width="0.7"/>
<line x1="596.2" y1="209.2" x2="599.8" y2="209.2" stroke="#111" stroke-width="0.7"/>
<line x1="596.2" y1="212.8" x2="599.8" y2="212.8" stroke="#111" stroke-width="0.7"/>
<circle cx="597.7" cy="209" r="0.8" fill="#9a9a9a"/>
<circle cx="597.9" cy="211.4" r="0.8" fill="#9a9a9a"/>
<circle cx="597.5" cy="213.7" r="0.8" fill="#9a9a9a"/>
<line x1="606.1" y1="194.7" x2="606.1" y2="198.3" stroke="#111" stroke-width="0.7"/>
<line x1="604.4" y1="194.7" x2="607.9" y2="194.7" stroke="#111" stroke-width="0.7"/>
<line x1="604.4" y1="198.3" x2="607.9" y2="198.3" stroke="#111" stroke-width="0.7"/>
<circle cx="605.7" cy="194.3" r="0.8" fill="#9a9a9a"/>
<circle cx="605.6" cy="196.1" r="0.8" fill="#9a9a9a"/>
<circle cx="606.3" cy="199.2" r="0.8" fill="#9a9a9a"/>
<line x1="614.2" y1="174" x2="614.2" y2="175.8" stroke="#111" stroke-width="0.7"/>
<line x1="612.4" y1="174" x2="616" y2="174" stroke="#111" stroke-width="0.7"/>
<line x1="612.4" y1="175.8" x2="616" y2="175.8" stroke="#111" stroke-width="0.7"/>
<circle cx="614" cy="173.8" r="0.8" fill="#9a9a9a"/>
<circle cx="614.1" cy="175.1" r="0.8" fill="#9a9a9a"/>
<circle cx="614.7" cy="175.8" r="0.8" fill="#9a9a9a"/>
<line x1="622.3" y1="169.9" x2="622.3" y2="170.8" stroke="#111" stroke-width="0.7"/>
<line x1="620.5" y1="169.9" x2="624.1" y2="169.9" stroke="#111" stroke-width="0.7"/>
<line x1="620.5" y1="170.8" x2="624.1" y2="170.8" stroke="#111" stroke-width="0.7"/>
<circle cx="622.3" cy="169.8" r="0.8" fill="#9a9a9a"/>
<circle cx="621.9" cy="170.5" r="0.8" fill="#9a9a9a"/>
<circle cx="622.2" cy="171" r="0.8" fill="#9a9a9a"/>
<rect x="632.8" y="253.4" width="8.1" height="7.2" fill="#f23f5b"/>
<rect x="640.9" y="212.8" width="8.1" height="47.8" fill="#f08b2c"/>
<rect x="649" y="198.3" width="8.1" height="62.3" fill="#ecd55f"/>
<rect x="657.1" y="176.7" width="8.1" height="83.9" fill="#3f83f2"/>
<rect x="665.2" y="171.3" width="8.1" height="89.3" fill="#70f3d7"/>
<line x1="636.8" y1="251.6" x2="636.8" y2="255.2" stroke="#111" stroke-width="0.7"/>
<line x1="635" y1="251.6" x2="638.6" y2="251.6" stroke="#111" stroke-width="0.7"/>
<line x1="635" y1="255.2" x2="638.6" y2="255.2" stroke="#111" stroke-width="0.7"/>
<circle cx="637.2" cy="251.4" r="0.8" fill="#9a9a9a"/>
<circle cx="636.3" cy="252.9" r="0.8" fill="#9a9a9a"/>
<circle cx="636.9" cy="256.1" r="0.8" fill="#9a9a9a"/>
<line x1="644.9" y1="210.5" x2="644.9" y2="215" stroke="#111" stroke-width="0.7"/>
<line x1="643.1" y1="210.5" x2="646.7" y2="210.5" stroke="#111" stroke-width="0.7"/>
<line x1="643.1" y1="215" x2="646.7" y2="215" stroke="#111" stroke-width="0.7"/>
<circle cx="645" cy="210.5" r="0.8" fill="#9a9a9a"/>
<circle cx="645" cy="212.1" r="0.8" fill="#9a9a9a"/>
<circle cx="645.4" cy="215.4" r="0.8" fill="#9a9a9a"/>
<line x1="653" y1="195.6" x2="653" y2="201" stroke="#111" stroke-width="0.7"/>
<line x1="651.2" y1="195.6" x2="654.8" y2="195.6" stroke="#111" stroke-width="0.7"/>
<line x1="651.2" y1="201" x2="654.8" y2="201" stroke="#111" stroke-width="0.7"/>
<circle cx="652.8" cy="195" r="0.8" fill="#9a9a9a"/>
<circle cx="652.7" cy="197.9" r="0.8" fill="#9a9a9a"/>
<circle cx="653.1" cy="201.4" r="0.8" fill="#9a9a9a"/>
<line x1="661.1" y1="175.6" x2="661.1" y2="177.8" stroke="#111" stroke-width="0.7"/>
<line x1="659.3" y1="175.6" x2="662.9" y2="175.6" stroke="#111" stroke-width="0.7"/>
<line x1="659.3" y1="177.8" x2="662.9" y2="177.8" stroke="#111" stroke-width="0.7"/>
<circle cx="660.9" cy="175.4" r="0.8" fill="#9a9a9a"/>
<circle cx="661.5" cy="176.4" r="0.8" fill="#9a9a9a"/>
<circle cx="661.6" cy="177.9" r="0.8" fill="#9a9a9a"/>
<line x1="669.2" y1="170.8" x2="669.2" y2="171.7" stroke="#111" stroke-width="0.7"/>
<line x1="667.4" y1="170.8" x2="671" y2="170.8" stroke="#111" stroke-width="0.7"/>
<line x1="667.4" y1="171.7" x2="671" y2="171.7" stroke="#111" stroke-width="0.7"/>
<circle cx="669.6" cy="170.6" r="0.8" fill="#9a9a9a"/>
<circle cx="668.9" cy="171.2" r="0.8" fill="#9a9a9a"/>
<circle cx="669.1" cy="172" r="0.8" fill="#9a9a9a"/>
<line x1="559.5" y1="260.6" x2="559.5" y2="263.1" stroke="#222" stroke-width="0.8"/>
<text class="sbm" x="559.5" y="267" font-size="7.3">S.aureus</text>
<line x1="606.2" y1="260.6" x2="606.2" y2="263.1" stroke="#222" stroke-width="0.8"/>
<text class="sbm" x="606.2" y="267" font-size="7.3">MRSA</text>
<line x1="653" y1="260.6" x2="653" y2="263.1" stroke="#222" stroke-width="0.8"/>
<text class="sbm" x="653" y="267" font-size="7.3">E.coli</text>
<rect x="542.1" y="150.5" width="16.9" height="8.2" fill="#f23f5b"/>
<text class="sb" x="560.9" y="154.6" font-size="7.3">HAP</text>
<rect x="586.4" y="150.5" width="17" height="8.2" fill="#f08b2c"/>
<text class="sb" x="605.3" y="154.6" font-size="7.3">HAPP1</text>
<rect x="631" y="150.5" width="17" height="8.2" fill="#ecd55f"/>
<text class="sb" x="649.9" y="154.6" font-size="7.3">HAPP2</text>
<rect x="542.1" y="159.7" width="16.9" height="7.8" fill="#3f83f2"/>
<text class="sb" x="560.9" y="163.6" font-size="7.3">HAPP3</text>
<rect x="586.4" y="159.7" width="17" height="7.8" fill="#70f3d7"/>
<text class="sb" x="605.3" y="163.6" font-size="7.3">HAPP4</text>
<text class="sbm" x="516.5" y="204" font-size="9.4" transform="rotate(-90 516.5 204)">Antibacterial ratio (%)</text>
<text x="509.9" y="146.5" font-family="'Liberation Sans', sans-serif" font-size="13" font-weight="bold" style="dominant-baseline:auto">H</text>
<rect x="543.9" y="435.2" width="132.4" height="105.7" fill="none" stroke="#222" stroke-width="0.8"/>
<line x1="541.4" y1="540.9" x2="543.9" y2="540.9" stroke="#222" stroke-width="0.8"/>
<text class="se" x="540.4" y="540.9" font-size="6.6">0</text>
<line x1="541.4" y1="523.3" x2="543.9" y2="523.3" stroke="#222" stroke-width="0.8"/>
<text class="se" x="540.4" y="523.3" font-size="6.6">20</text>
<line x1="541.4" y1="505.7" x2="543.9" y2="505.7" stroke="#222" stroke-width="0.8"/>
<text class="se" x="540.4" y="505.7" font-size="6.6">40</text>
<line x1="541.4" y1="488" x2="543.9" y2="488" stroke="#222" stroke-width="0.8"/>
<text class="se" x="540.4" y="488" font-size="6.6">60</text>
<line x1="541.4" y1="470.4" x2="543.9" y2="470.4" stroke="#222" stroke-width="0.8"/>
<text class="se" x="540.4" y="470.4" font-size="6.6">80</text>
<line x1="541.4" y1="452.8" x2="543.9" y2="452.8" stroke="#222" stroke-width="0.8"/>
<text class="se" x="540.4" y="452.8" font-size="6.6">100</text>
<line x1="541.4" y1="435.2" x2="543.9" y2="435.2" stroke="#222" stroke-width="0.8"/>
<text class="se" x="540.4" y="435.2" font-size="6.6">120</text>
<line x1="542.5" y1="532.1" x2="543.9" y2="532.1" stroke="#222" stroke-width="0.8"/>
<line x1="542.5" y1="514.5" x2="543.9" y2="514.5" stroke="#222" stroke-width="0.8"/>
<line x1="542.5" y1="496.9" x2="543.9" y2="496.9" stroke="#222" stroke-width="0.8"/>
<line x1="542.5" y1="479.2" x2="543.9" y2="479.2" stroke="#222" stroke-width="0.8"/>
<line x1="542.5" y1="461.6" x2="543.9" y2="461.6" stroke="#222" stroke-width="0.8"/>
<line x1="542.5" y1="444" x2="543.9" y2="444" stroke="#222" stroke-width="0.8"/>
<rect x="547.8" y="456.3" width="6.2" height="84.6" fill="#f23f5b"/>
<rect x="553.9" y="455.5" width="6.2" height="85.4" fill="#f08b2c"/>
<rect x="560.1" y="456.3" width="6.2" height="84.6" fill="#ecd55f"/>
<rect x="566.2" y="459" width="6.2" height="81.9" fill="#3f83f2"/>
<rect x="572.4" y="459" width="6.2" height="81.9" fill="#70f3d7"/>
<rect x="578.5" y="462.5" width="6.2" height="78.4" fill="#a7c2f3"/>
<line x1="550.9" y1="455.5" x2="550.9" y2="457.2" stroke="#111" stroke-width="0.7"/>
<line x1="549.4" y1="455.5" x2="552.4" y2="455.5" stroke="#111" stroke-width="0.7"/>
<line x1="549.4" y1="457.2" x2="552.4" y2="457.2" stroke="#111" stroke-width="0.7"/>
<circle cx="550.3" cy="455.3" r="0.8" fill="#9a9a9a"/>
<circle cx="550.6" cy="456.2" r="0.8" fill="#9a9a9a"/>
<circle cx="551.4" cy="457.5" r="0.8" fill="#9a9a9a"/>
<line x1="557" y1="454.9" x2="557" y2="456" stroke="#111" stroke-width="0.7"/>
<line x1="555.5" y1="454.9" x2="558.5" y2="454.9" stroke="#111" stroke-width="0.7"/>
<line x1="555.5" y1="456" x2="558.5" y2="456" stroke="#111" stroke-width="0.7"/>
<circle cx="557.5" cy="454.6" r="0.8" fill="#9a9a9a"/>
<circle cx="557.6" cy="455.5" r="0.8" fill="#9a9a9a"/>
<circle cx="556.7" cy="456.2" r="0.8" fill="#9a9a9a"/>
<line x1="563.2" y1="455.5" x2="563.2" y2="457.2" stroke="#111" stroke-width="0.7"/>
<line x1="561.7" y1="455.5" x2="564.7" y2="455.5" stroke="#111" stroke-width="0.7"/>
<line x1="561.7" y1="457.2" x2="564.7" y2="457.2" stroke="#111" stroke-width="0.7"/>
<circle cx="562.8" cy="455.4" r="0.8" fill="#9a9a9a"/>
<circle cx="563.3" cy="456.1" r="0.8" fill="#9a9a9a"/>
<circle cx="563.6" cy="457.5" r="0.8" fill="#9a9a9a"/>
<line x1="569.3" y1="457.8" x2="569.3" y2="460.1" stroke="#111" stroke-width="0.7"/>
<line x1="567.8" y1="457.8" x2="570.8" y2="457.8" stroke="#111" stroke-width="0.7"/>
<line x1="567.8" y1="460.1" x2="570.8" y2="460.1" stroke="#111" stroke-width="0.7"/>
<circle cx="569.5" cy="457.3" r="0.8" fill="#9a9a9a"/>
<circle cx="568.8" cy="458.9" r="0.8" fill="#9a9a9a"/>
<circle cx="569.8" cy="460.3" r="0.8" fill="#9a9a9a"/>
<line x1="575.5" y1="458.1" x2="575.5" y2="459.9" stroke="#111" stroke-width="0.7"/>
<line x1="574" y1="458.1" x2="577" y2="458.1" stroke="#111" stroke-width="0.7"/>
<line x1="574" y1="459.9" x2="577" y2="459.9" stroke="#111" stroke-width="0.7"/>
<circle cx="575.8" cy="457.8" r="0.8" fill="#9a9a9a"/>
<circle cx="575.1" cy="458.8" r="0.8" fill="#9a9a9a"/>
<circle cx="575.3" cy="460" r="0.8" fill="#9a9a9a"/>
<line x1="581.6" y1="461.4" x2="581.6" y2="463.6" stroke="#111" stroke-width="0.7"/>
<line x1="580.1" y1="461.4" x2="583.1" y2="461.4" stroke="#111" stroke-width="0.7"/>
<line x1="580.1" y1="463.6" x2="583.1" y2="463.6" stroke="#111" stroke-width="0.7"/>
<circle cx="582.2" cy="461.2" r="0.8" fill="#9a9a9a"/>
<circle cx="581.5" cy="462.2" r="0.8" fill="#9a9a9a"/>
<circle cx="581.9" cy="464.1" r="0.8" fill="#9a9a9a"/>
<rect x="591.2" y="458.1" width="6.2" height="82.8" fill="#f23f5b"/>
<rect x="597.4" y="459" width="6.2" height="81.9" fill="#f08b2c"/>
<rect x="603.5" y="459.9" width="6.2" height="81" fill="#ecd55f"/>
<rect x="609.7" y="459.9" width="6.2" height="81" fill="#3f83f2"/>
<rect x="615.8" y="460.7" width="6.2" height="80.2" fill="#70f3d7"/>
<rect x="622" y="463.4" width="6.2" height="77.5" fill="#a7c2f3"/>
<line x1="594.3" y1="457" x2="594.3" y2="459.2" stroke="#111" stroke-width="0.7"/>
<line x1="592.8" y1="457" x2="595.8" y2="457" stroke="#111" stroke-width="0.7"/>
<line x1="592.8" y1="459.2" x2="595.8" y2="459.2" stroke="#111" stroke-width="0.7"/>
<circle cx="593.8" cy="456.9" r="0.8" fill="#9a9a9a"/>
<circle cx="594.8" cy="457.9" r="0.8" fill="#9a9a9a"/>
<circle cx="593.9" cy="459.3" r="0.8" fill="#9a9a9a"/>
<line x1="600.4" y1="458.3" x2="600.4" y2="459.7" stroke="#111" stroke-width="0.7"/>
<line x1="598.9" y1="458.3" x2="601.9" y2="458.3" stroke="#111" stroke-width="0.7"/>
<line x1="598.9" y1="459.7" x2="601.9" y2="459.7" stroke="#111" stroke-width="0.7"/>
<circle cx="601" cy="458" r="0.8" fill="#9a9a9a"/>
<circle cx="600.2" cy="459" r="0.8" fill="#9a9a9a"/>
<circle cx="600" cy="460.1" r="0.8" fill="#9a9a9a"/>
<line x1="606.6" y1="458.7" x2="606.6" y2="461" stroke="#111" stroke-width="0.7"/>
<line x1="605.1" y1="458.7" x2="608.1" y2="458.7" stroke="#111" stroke-width="0.7"/>
<line x1="605.1" y1="461" x2="608.1" y2="461" stroke="#111" stroke-width="0.7"/>
<circle cx="607.1" cy="458.3" r="0.8" fill="#9a9a9a"/>
<circle cx="606.6" cy="459.6" r="0.8" fill="#9a9a9a"/>
<circle cx="606.5" cy="461.1" r="0.8" fill="#9a9a9a"/>
<line x1="612.7" y1="459" x2="612.7" y2="460.7" stroke="#111" stroke-width="0.7"/>
<line x1="611.2" y1="459" x2="614.2" y2="459" stroke="#111" stroke-width="0.7"/>
<line x1="611.2" y1="460.7" x2="614.2" y2="460.7" stroke="#111" stroke-width="0.7"/>
<circle cx="613.1" cy="458.9" r="0.8" fill="#9a9a9a"/>
<circle cx="612.4" cy="460" r="0.8" fill="#9a9a9a"/>
<circle cx="612.4" cy="461" r="0.8" fill="#9a9a9a"/>
<line x1="618.9" y1="459.7" x2="618.9" y2="461.8" stroke="#111" stroke-width="0.7"/>
<line x1="617.4" y1="459.7" x2="620.4" y2="459.7" stroke="#111" stroke-width="0.7"/>
<line x1="617.4" y1="461.8" x2="620.4" y2="461.8" stroke="#111" stroke-width="0.7"/>
<circle cx="618.6" cy="459.4" r="0.8" fill="#9a9a9a"/>
<circle cx="618.4" cy="460.5" r="0.8" fill="#9a9a9a"/>
<circle cx="618.7" cy="462.1" r="0.8" fill="#9a9a9a"/>
<line x1="625" y1="462.7" x2="625" y2="464.1" stroke="#111" stroke-width="0.7"/>
<line x1="623.5" y1="462.7" x2="626.5" y2="462.7" stroke="#111" stroke-width="0.7"/>
<line x1="623.5" y1="464.1" x2="626.5" y2="464.1" stroke="#111" stroke-width="0.7"/>
<circle cx="625.1" cy="462.3" r="0.8" fill="#9a9a9a"/>
<circle cx="624.9" cy="463.2" r="0.8" fill="#9a9a9a"/>
<circle cx="625" cy="464.3" r="0.8" fill="#9a9a9a"/>
<rect x="635" y="458.1" width="6.2" height="82.8" fill="#f23f5b"/>
<rect x="641.1" y="459" width="6.2" height="81.9" fill="#f08b2c"/>
<rect x="647.3" y="461.6" width="6.2" height="79.3" fill="#ecd55f"/>
<rect x="653.5" y="460.7" width="6.2" height="80.2" fill="#3f83f2"/>
<rect x="659.6" y="463.4" width="6.2" height="77.5" fill="#70f3d7"/>
<rect x="665.8" y="464.3" width="6.2" height="76.6" fill="#a7c2f3"/>
<line x1="638.1" y1="457" x2="638.1" y2="459.2" stroke="#111" stroke-width="0.7"/>
<line x1="636.6" y1="457" x2="639.6" y2="457" stroke="#111" stroke-width="0.7"/>
<line x1="636.6" y1="459.2" x2="639.6" y2="459.2" stroke="#111" stroke-width="0.7"/>
<circle cx="638.1" cy="456.9" r="0.8" fill="#9a9a9a"/>
<circle cx="638" cy="458.3" r="0.8" fill="#9a9a9a"/>
<circle cx="637.5" cy="459.4" r="0.8" fill="#9a9a9a"/>
<line x1="644.2" y1="457.6" x2="644.2" y2="460.4" stroke="#111" stroke-width="0.7"/>
<line x1="642.7" y1="457.6" x2="645.7" y2="457.6" stroke="#111" stroke-width="0.7"/>
<line x1="642.7" y1="460.4" x2="645.7" y2="460.4" stroke="#111" stroke-width="0.7"/>
<circle cx="643.8" cy="457.2" r="0.8" fill="#9a9a9a"/>
<circle cx="644.5" cy="458.9" r="0.8" fill="#9a9a9a"/>
<circle cx="644" cy="460.8" r="0.8" fill="#9a9a9a"/>
<line x1="650.4" y1="460" x2="650.4" y2="463.2" stroke="#111" stroke-width="0.7"/>
<line x1="648.9" y1="460" x2="651.9" y2="460" stroke="#111" stroke-width="0.7"/>
<line x1="648.9" y1="463.2" x2="651.9" y2="463.2" stroke="#111" stroke-width="0.7"/>
<circle cx="650.4" cy="459.3" r="0.8" fill="#9a9a9a"/>
<circle cx="649.9" cy="461.6" r="0.8" fill="#9a9a9a"/>
<circle cx="650.1" cy="463.9" r="0.8" fill="#9a9a9a"/>
<line x1="656.5" y1="459.7" x2="656.5" y2="461.8" stroke="#111" stroke-width="0.7"/>
<line x1="655" y1="459.7" x2="658" y2="459.7" stroke="#111" stroke-width="0.7"/>
<line x1="655" y1="461.8" x2="658" y2="461.8" stroke="#111" stroke-width="0.7"/>
<circle cx="656.9" cy="459.4" r="0.8" fill="#9a9a9a"/>
<circle cx="656.6" cy="460.6" r="0.8" fill="#9a9a9a"/>
<circle cx="657" cy="462.2" r="0.8" fill="#9a9a9a"/>
<line x1="662.7" y1="462.1" x2="662.7" y2="464.7" stroke="#111" stroke-width="0.7"/>
<line x1="661.2" y1="462.1" x2="664.2" y2="462.1" stroke="#111" stroke-width="0.7"/>
<line x1="661.2" y1="464.7" x2="664.2" y2="464.7" stroke="#111" stroke-width="0.7"/>
<circle cx="662.8" cy="461.7" r="0.8" fill="#9a9a9a"/>
<circle cx="662.7" cy="463.2" r="0.8" fill="#9a9a9a"/>
<circle cx="662.6" cy="465.1" r="0.8" fill="#9a9a9a"/>
<line x1="668.8" y1="462.9" x2="668.8" y2="465.7" stroke="#111" stroke-width="0.7"/>
<line x1="667.3" y1="462.9" x2="670.3" y2="462.9" stroke="#111" stroke-width="0.7"/>
<line x1="667.3" y1="465.7" x2="670.3" y2="465.7" stroke="#111" stroke-width="0.7"/>
<circle cx="668.8" cy="462.1" r="0.8" fill="#9a9a9a"/>
<circle cx="669.1" cy="463.9" r="0.8" fill="#9a9a9a"/>
<circle cx="669.4" cy="466.3" r="0.8" fill="#9a9a9a"/>
<line x1="566.2" y1="540.9" x2="566.2" y2="543.4" stroke="#222" stroke-width="0.8"/>
<text class="sbm" x="566.2" y="547" font-size="7">S.aureus</text>
<line x1="609.6" y1="540.9" x2="609.6" y2="543.4" stroke="#222" stroke-width="0.8"/>
<text class="sbm" x="609.6" y="547" font-size="7">MRSA</text>
<line x1="653.5" y1="540.9" x2="653.5" y2="543.4" stroke="#222" stroke-width="0.8"/>
<text class="sbm" x="653.5" y="547" font-size="7">E.coli</text>
<rect x="566.1" y="436.4" width="15.8" height="7.5" fill="#f23f5b"/>
<text class="sb" x="583.7" y="440.1" font-size="6.9">12h</text>
<rect x="596.1" y="436.4" width="15.8" height="7.5" fill="#f08b2c"/>
<text class="sb" x="613.7" y="440.1" font-size="6.9">24h</text>
<rect x="626.2" y="436.4" width="15.8" height="7.5" fill="#ecd55f"/>
<text class="sb" x="643.8" y="440.1" font-size="6.9">36h</text>
<rect x="566.1" y="445.1" width="15.8" height="7.5" fill="#3f83f2"/>
<text class="sb" x="583.7" y="448.9" font-size="6.9">48h</text>
<rect x="596.1" y="445.1" width="15.8" height="7.5" fill="#70f3d7"/>
<text class="sb" x="613.7" y="448.9" font-size="6.9">60h</text>
<rect x="626.2" y="445.1" width="15.8" height="7.5" fill="#a7c2f3"/>
<text class="sb" x="643.8" y="448.9" font-size="6.9">72h</text>
<text class="sbm" x="524.5" y="487.5" font-size="9" transform="rotate(-90 524.5 487.5)">Bacteria capture ratio (%)</text>
<text x="518.4" y="432.8" font-family="'Liberation Sans', sans-serif" font-size="13" font-weight="bold" style="dominant-baseline:auto">L</text>
<rect x="544.4" y="562.3" width="132.7" height="105.1" fill="none" stroke="#222" stroke-width="0.8"/>
<line x1="541.9" y1="667.4" x2="544.4" y2="667.4" stroke="#222" stroke-width="0.8"/>
<text class="se" x="540.9" y="667.4" font-size="6.6">0</text>
<line x1="541.9" y1="649.9" x2="544.4" y2="649.9" stroke="#222" stroke-width="0.8"/>
<text class="se" x="540.9" y="649.9" font-size="6.6">20</text>
<line x1="541.9" y1="632.4" x2="544.4" y2="632.4" stroke="#222" stroke-width="0.8"/>
<text class="se" x="540.9" y="632.4" font-size="6.6">40</text>
<line x1="541.9" y1="614.8" x2="544.4" y2="614.8" stroke="#222" stroke-width="0.8"/>
<text class="se" x="540.9" y="614.8" font-size="6.6">60</text>
<line x1="541.9" y1="597.3" x2="544.4" y2="597.3" stroke="#222" stroke-width="0.8"/>
<text class="se" x="540.9" y="597.3" font-size="6.6">80</text>
<line x1="541.9" y1="579.8" x2="544.4" y2="579.8" stroke="#222" stroke-width="0.8"/>
<text class="se" x="540.9" y="579.8" font-size="6.6">100</text>
<line x1="541.9" y1="562.3" x2="544.4" y2="562.3" stroke="#222" stroke-width="0.8"/>
<text class="se" x="540.9" y="562.3" font-size="6.6">120</text>
<line x1="543" y1="658.6" x2="544.4" y2="658.6" stroke="#222" stroke-width="0.8"/>
<line x1="543" y1="641.1" x2="544.4" y2="641.1" stroke="#222" stroke-width="0.8"/>
<line x1="543" y1="623.6" x2="544.4" y2="623.6" stroke="#222" stroke-width="0.8"/>
<line x1="543" y1="606.1" x2="544.4" y2="606.1" stroke="#222" stroke-width="0.8"/>
<line x1="543" y1="588.6" x2="544.4" y2="588.6" stroke="#222" stroke-width="0.8"/>
<line x1="543" y1="571.1" x2="544.4" y2="571.1" stroke="#222" stroke-width="0.8"/>
<rect x="548.4" y="583.3" width="12.5" height="84.1" fill="#f23f5b"/>
<rect x="560.9" y="589.5" width="12.5" height="77.9" fill="#3f83f2"/>
<rect x="573.4" y="593" width="12.5" height="74.4" fill="#ecd55f"/>
<line x1="554.6" y1="581.6" x2="554.6" y2="585.1" stroke="#333" stroke-width="0.7"/>
<line x1="551.6" y1="581.6" x2="557.6" y2="581.6" stroke="#333" stroke-width="0.7"/>
<line x1="551.6" y1="585.1" x2="557.6" y2="585.1" stroke="#333" stroke-width="0.7"/>
<line x1="567.1" y1="587.3" x2="567.1" y2="591.6" stroke="#333" stroke-width="0.7"/>
<line x1="564.1" y1="587.3" x2="570.1" y2="587.3" stroke="#333" stroke-width="0.7"/>
<line x1="564.1" y1="591.6" x2="570.1" y2="591.6" stroke="#333" stroke-width="0.7"/>
<line x1="579.6" y1="591.2" x2="579.6" y2="594.7" stroke="#333" stroke-width="0.7"/>
<line x1="576.6" y1="591.2" x2="582.6" y2="591.2" stroke="#333" stroke-width="0.7"/>
<line x1="576.6" y1="594.7" x2="582.6" y2="594.7" stroke="#333" stroke-width="0.7"/>
<rect x="591.7" y="585.1" width="12.5" height="82.3" fill="#f23f5b"/>
<rect x="604.2" y="590.3" width="12.5" height="77.1" fill="#3f83f2"/>
<rect x="616.7" y="593.8" width="12.5" height="73.6" fill="#ecd55f"/>
<line x1="598" y1="582" x2="598" y2="588.1" stroke="#333" stroke-width="0.7"/>
<line x1="595" y1="582" x2="601" y2="582" stroke="#333" stroke-width="0.7"/>
<line x1="595" y1="588.1" x2="601" y2="588.1" stroke="#333" stroke-width="0.7"/>
<line x1="610.5" y1="587.7" x2="610.5" y2="593" stroke="#333" stroke-width="0.7"/>
<line x1="607.5" y1="587.7" x2="613.5" y2="587.7" stroke="#333" stroke-width="0.7"/>
<line x1="607.5" y1="593" x2="613.5" y2="593" stroke="#333" stroke-width="0.7"/>
<line x1="623" y1="590.8" x2="623" y2="596.9" stroke="#333" stroke-width="0.7"/>
<line x1="620" y1="590.8" x2="626" y2="590.8" stroke="#333" stroke-width="0.7"/>
<line x1="620" y1="596.9" x2="626" y2="596.9" stroke="#333" stroke-width="0.7"/>
<rect x="635.6" y="585.1" width="12.5" height="82.3" fill="#f23f5b"/>
<rect x="648.1" y="591.2" width="12.5" height="76.2" fill="#3f83f2"/>
<rect x="660.6" y="594.7" width="12.5" height="72.7" fill="#ecd55f"/>
<line x1="641.9" y1="582.4" x2="641.9" y2="587.7" stroke="#333" stroke-width="0.7"/>
<line x1="638.9" y1="582.4" x2="644.9" y2="582.4" stroke="#333" stroke-width="0.7"/>
<line x1="638.9" y1="587.7" x2="644.9" y2="587.7" stroke="#333" stroke-width="0.7"/>
<line x1="654.4" y1="588.6" x2="654.4" y2="593.8" stroke="#333" stroke-width="0.7"/>
<line x1="651.4" y1="588.6" x2="657.4" y2="588.6" stroke="#333" stroke-width="0.7"/>
<line x1="651.4" y1="593.8" x2="657.4" y2="593.8" stroke="#333" stroke-width="0.7"/>
<line x1="666.9" y1="592.1" x2="666.9" y2="597.3" stroke="#333" stroke-width="0.7"/>
<line x1="663.9" y1="592.1" x2="669.9" y2="592.1" stroke="#333" stroke-width="0.7"/>
<line x1="663.9" y1="597.3" x2="669.9" y2="597.3" stroke="#333" stroke-width="0.7"/>
<line x1="567.2" y1="667.4" x2="567.2" y2="669.9" stroke="#222" stroke-width="0.8"/>
<text class="sbm" x="567.2" y="673.8" font-size="7">S.aureus</text>
<line x1="610.5" y1="667.4" x2="610.5" y2="669.9" stroke="#222" stroke-width="0.8"/>
<text class="sbm" x="610.5" y="673.8" font-size="7">MRSA</text>
<line x1="654.4" y1="667.4" x2="654.4" y2="669.9" stroke="#222" stroke-width="0.8"/>
<text class="sbm" x="654.4" y="673.8" font-size="7">E.coli</text>
<rect x="553.6" y="564.6" width="15.8" height="7.6" fill="#f23f5b"/>
<text class="sb" x="571.4" y="568.4" font-size="6.9">Cycle1</text>
<rect x="593" y="564.6" width="15.8" height="7.6" fill="#3f83f2"/>
<text class="sb" x="610.8" y="568.4" font-size="6.9">Cycle2</text>
<rect x="633" y="564.6" width="15.3" height="7.6" fill="#ecd55f"/>
<text class="sb" x="650.3" y="568.4" font-size="6.9">Cycle3</text>
<text class="sbm" x="525" y="614.5" font-size="8.8" transform="rotate(-90 525 614.5)">Antibacterial ratio (%)</text>
<text x="517.9" y="557.6" font-family="'Liberation Sans', sans-serif" font-size="13" font-weight="bold" style="dominant-baseline:auto">M</text>
<rect x="544.4" y="685.2" width="132.7" height="107" fill="none" stroke="#222" stroke-width="0.8"/>
<line x1="541.9" y1="792.2" x2="544.4" y2="792.2" stroke="#222" stroke-width="0.8"/>
<text class="sbe" x="540.9" y="792.2" font-size="6.6">40</text>
<line x1="541.9" y1="756.5" x2="544.4" y2="756.5" stroke="#222" stroke-width="0.8"/>
<text class="sbe" x="540.9" y="756.5" font-size="6.6">50</text>
<line x1="541.9" y1="720.9" x2="544.4" y2="720.9" stroke="#222" stroke-width="0.8"/>
<text class="sbe" x="540.9" y="720.9" font-size="6.6">60</text>
<line x1="541.9" y1="685.2" x2="544.4" y2="685.2" stroke="#222" stroke-width="0.8"/>
<text class="sbe" x="540.9" y="685.2" font-size="6.6">70</text>
<line x1="543" y1="774.4" x2="544.4" y2="774.4" stroke="#222" stroke-width="0.8"/>
<line x1="543" y1="738.7" x2="544.4" y2="738.7" stroke="#222" stroke-width="0.8"/>
<line x1="543" y1="703" x2="544.4" y2="703" stroke="#222" stroke-width="0.8"/>
<line x1="545.2" y1="792.2" x2="545.2" y2="794.7" stroke="#222" stroke-width="0.8"/>
<text class="sbm" x="545.2" y="799.2" font-size="6.6">0</text>
<line x1="562.8" y1="792.2" x2="562.8" y2="794.7" stroke="#222" stroke-width="0.8"/>
<text class="sbm" x="562.8" y="799.2" font-size="6.6">2</text>
<line x1="580.4" y1="792.2" x2="580.4" y2="794.7" stroke="#222" stroke-width="0.8"/>
<text class="sbm" x="580.4" y="799.2" font-size="6.6">4</text>
<line x1="598" y1="792.2" x2="598" y2="794.7" stroke="#222" stroke-width="0.8"/>
<text class="sbm" x="598" y="799.2" font-size="6.6">6</text>
<line x1="615.6" y1="792.2" x2="615.6" y2="794.7" stroke="#222" stroke-width="0.8"/>
<text class="sbm" x="615.6" y="799.2" font-size="6.6">8</text>
<line x1="633.2" y1="792.2" x2="633.2" y2="794.7" stroke="#222" stroke-width="0.8"/>
<text class="sbm" x="633.2" y="799.2" font-size="6.6">10</text>
<line x1="650.8" y1="792.2" x2="650.8" y2="794.7" stroke="#222" stroke-width="0.8"/>
<text class="sbm" x="650.8" y="799.2" font-size="6.6">12</text>
<line x1="668.4" y1="792.2" x2="668.4" y2="794.7" stroke="#222" stroke-width="0.8"/>
<text class="sbm" x="668.4" y="799.2" font-size="6.6">14</text>
<line x1="554" y1="792.2" x2="554" y2="793.6" stroke="#222" stroke-width="0.8"/>
<line x1="571.6" y1="792.2" x2="571.6" y2="793.6" stroke="#222" stroke-width="0.8"/>
<line x1="589.2" y1="792.2" x2="589.2" y2="793.6" stroke="#222" stroke-width="0.8"/>
<line x1="606.8" y1="792.2" x2="606.8" y2="793.6" stroke="#222" stroke-width="0.8"/>
<line x1="624.4" y1="792.2" x2="624.4" y2="793.6" stroke="#222" stroke-width="0.8"/>
<line x1="642" y1="792.2" x2="642" y2="793.6" stroke="#222" stroke-width="0.8"/>
<line x1="659.6" y1="792.2" x2="659.6" y2="793.6" stroke="#222" stroke-width="0.8"/>
<line x1="677.2" y1="792.2" x2="677.2" y2="793.6" stroke="#222" stroke-width="0.8"/>
<polyline points="554,745.1 562.8,746.2 571.6,745.1 580.4,745.8 589.2,747.6 598,745.5 606.8,746.2 615.6,745.1 624.4,746.2 633.2,745.1 642,744.8 650.8,744.1 659.6,746.2 668.4,745.1" fill="none" stroke="#5fe0c5" stroke-width="0.8"/>
<line x1="554" y1="731.2" x2="554" y2="759" stroke="#5fe0c5" stroke-width="0.7"/>
<line x1="552.4" y1="731.2" x2="555.6" y2="731.2" stroke="#5fe0c5" stroke-width="0.7"/>
<line x1="552.4" y1="759" x2="555.6" y2="759" stroke="#5fe0c5" stroke-width="0.7"/>
<line x1="562.8" y1="732.3" x2="562.8" y2="760.1" stroke="#5fe0c5" stroke-width="0.7"/>
<line x1="561.2" y1="732.3" x2="564.4" y2="732.3" stroke="#5fe0c5" stroke-width="0.7"/>
<line x1="561.2" y1="760.1" x2="564.4" y2="760.1" stroke="#5fe0c5" stroke-width="0.7"/>
<line x1="571.6" y1="731.2" x2="571.6" y2="759" stroke="#5fe0c5" stroke-width="0.7"/>
<line x1="570" y1="731.2" x2="573.2" y2="731.2" stroke="#5fe0c5" stroke-width="0.7"/>
<line x1="570" y1="759" x2="573.2" y2="759" stroke="#5fe0c5" stroke-width="0.7"/>
<line x1="580.4" y1="731.9" x2="580.4" y2="759.7" stroke="#5fe0c5" stroke-width="0.7"/>
<line x1="578.8" y1="731.9" x2="582" y2="731.9" stroke="#5fe0c5" stroke-width="0.7"/>
<line x1="578.8" y1="759.7" x2="582" y2="759.7" stroke="#5fe0c5" stroke-width="0.7"/>
<line x1="589.2" y1="733.7" x2="589.2" y2="761.5" stroke="#5fe0c5" stroke-width="0.7"/>
<line x1="587.6" y1="733.7" x2="590.8" y2="733.7" stroke="#5fe0c5" stroke-width="0.7"/>
<line x1="587.6" y1="761.5" x2="590.8" y2="761.5" stroke="#5fe0c5" stroke-width="0.7"/>
<line x1="598" y1="731.6" x2="598" y2="759.4" stroke="#5fe0c5" stroke-width="0.7"/>
<line x1="596.4" y1="731.6" x2="599.6" y2="731.6" stroke="#5fe0c5" stroke-width="0.7"/>
<line x1="596.4" y1="759.4" x2="599.6" y2="759.4" stroke="#5fe0c5" stroke-width="0.7"/>
<line x1="606.8" y1="732.3" x2="606.8" y2="760.1" stroke="#5fe0c5" stroke-width="0.7"/>
<line x1="605.2" y1="732.3" x2="608.4" y2="732.3" stroke="#5fe0c5" stroke-width="0.7"/>
<line x1="605.2" y1="760.1" x2="608.4" y2="760.1" stroke="#5fe0c5" stroke-width="0.7"/>
<line x1="615.6" y1="731.2" x2="615.6" y2="759" stroke="#5fe0c5" stroke-width="0.7"/>
<line x1="614" y1="731.2" x2="617.2" y2="731.2" stroke="#5fe0c5" stroke-width="0.7"/>
<line x1="614" y1="759" x2="617.2" y2="759" stroke="#5fe0c5" stroke-width="0.7"/>
<line x1="624.4" y1="732.3" x2="624.4" y2="760.1" stroke="#5fe0c5" stroke-width="0.7"/>
<line x1="622.8" y1="732.3" x2="626" y2="732.3" stroke="#5fe0c5" stroke-width="0.7"/>
<line x1="622.8" y1="760.1" x2="626" y2="760.1" stroke="#5fe0c5" stroke-width="0.7"/>
<line x1="633.2" y1="731.2" x2="633.2" y2="759" stroke="#5fe0c5" stroke-width="0.7"/>
<line x1="631.6" y1="731.2" x2="634.8" y2="731.2" stroke="#5fe0c5" stroke-width="0.7"/>
<line x1="631.6" y1="759" x2="634.8" y2="759" stroke="#5fe0c5" stroke-width="0.7"/>
<line x1="642" y1="730.9" x2="642" y2="758.7" stroke="#5fe0c5" stroke-width="0.7"/>
<line x1="640.4" y1="730.9" x2="643.6" y2="730.9" stroke="#5fe0c5" stroke-width="0.7"/>
<line x1="640.4" y1="758.7" x2="643.6" y2="758.7" stroke="#5fe0c5" stroke-width="0.7"/>
<line x1="650.8" y1="730.1" x2="650.8" y2="758" stroke="#5fe0c5" stroke-width="0.7"/>
<line x1="649.2" y1="730.1" x2="652.4" y2="730.1" stroke="#5fe0c5" stroke-width="0.7"/>
<line x1="649.2" y1="758" x2="652.4" y2="758" stroke="#5fe0c5" stroke-width="0.7"/>
<line x1="659.6" y1="732.3" x2="659.6" y2="760.1" stroke="#5fe0c5" stroke-width="0.7"/>
<line x1="658" y1="732.3" x2="661.2" y2="732.3" stroke="#5fe0c5" stroke-width="0.7"/>
<line x1="658" y1="760.1" x2="661.2" y2="760.1" stroke="#5fe0c5" stroke-width="0.7"/>
<line x1="668.4" y1="731.2" x2="668.4" y2="759" stroke="#5fe0c5" stroke-width="0.7"/>
<line x1="666.8" y1="731.2" x2="670" y2="731.2" stroke="#5fe0c5" stroke-width="0.7"/>
<line x1="666.8" y1="759" x2="670" y2="759" stroke="#5fe0c5" stroke-width="0.7"/>
<polyline points="554,743.7 555.3,746.2 552.7,746.2 554,743.7" fill="#5fe0c5"/>
<polyline points="562.8,744.8 564.1,747.3 561.5,747.3 562.8,744.8" fill="#5fe0c5"/>
<polyline points="571.6,743.7 572.9,746.2 570.3,746.2 571.6,743.7" fill="#5fe0c5"/>
<polyline points="580.4,744.4 581.7,746.9 579.1,746.9 580.4,744.4" fill="#5fe0c5"/>
<polyline points="589.2,746.2 590.5,748.7 587.9,748.7 589.2,746.2" fill="#5fe0c5"/>
<polyline points="598,744 599.3,746.6 596.7,746.6 598,744" fill="#5fe0c5"/>
<polyline points="606.8,744.8 608.1,747.3 605.5,747.3 606.8,744.8" fill="#5fe0c5"/>
<polyline points="615.6,743.7 616.9,746.2 614.3,746.2 615.6,743.7" fill="#5fe0c5"/>
<polyline points="624.4,744.8 625.7,747.3 623.1,747.3 624.4,744.8" fill="#5fe0c5"/>
<polyline points="633.2,743.7 634.5,746.2 631.9,746.2 633.2,743.7" fill="#5fe0c5"/>
<polyline points="642,743.3 643.3,745.9 640.7,745.9 642,743.3" fill="#5fe0c5"/>
<polyline points="650.8,742.6 652.1,745.2 649.5,745.2 650.8,742.6" fill="#5fe0c5"/>
<polyline points="659.6,744.8 660.9,747.3 658.3,747.3 659.6,744.8" fill="#5fe0c5"/>
<polyline points="668.4,743.7 669.7,746.2 667.1,746.2 668.4,743.7" fill="#5fe0c5"/>
<polyline points="554,737.6 562.8,735.1 571.6,738 580.4,739.4 589.2,735.5 598,737.6 606.8,735.8 615.6,738 624.4,739.1 633.2,737.3 642,738 650.8,739.1 659.6,737.6 668.4,736.2" fill="none" stroke="#3f7be6" stroke-width="0.8"/>
<line x1="554" y1="729.8" x2="554" y2="745.5" stroke="#3f7be6" stroke-width="0.7"/>
<line x1="552.4" y1="729.8" x2="555.6" y2="729.8" stroke="#3f7be6" stroke-width="0.7"/>
<line x1="552.4" y1="745.5" x2="555.6" y2="745.5" stroke="#3f7be6" stroke-width="0.7"/>
<line x1="562.8" y1="727.3" x2="562.8" y2="743" stroke="#3f7be6" stroke-width="0.7"/>
<line x1="561.2" y1="727.3" x2="564.4" y2="727.3" stroke="#3f7be6" stroke-width="0.7"/>
<line x1="561.2" y1="743" x2="564.4" y2="743" stroke="#3f7be6" stroke-width="0.7"/>
<line x1="571.6" y1="730.1" x2="571.6" y2="745.8" stroke="#3f7be6" stroke-width="0.7"/>
<line x1="570" y1="730.1" x2="573.2" y2="730.1" stroke="#3f7be6" stroke-width="0.7"/>
<line x1="570" y1="745.8" x2="573.2" y2="745.8" stroke="#3f7be6" stroke-width="0.7"/>
<line x1="580.4" y1="731.6" x2="580.4" y2="747.3" stroke="#3f7be6" stroke-width="0.7"/>
<line x1="578.8" y1="731.6" x2="582" y2="731.6" stroke="#3f7be6" stroke-width="0.7"/>
<line x1="578.8" y1="747.3" x2="582" y2="747.3" stroke="#3f7be6" stroke-width="0.7"/>
<line x1="589.2" y1="727.6" x2="589.2" y2="743.3" stroke="#3f7be6" stroke-width="0.7"/>
<line x1="587.6" y1="727.6" x2="590.8" y2="727.6" stroke="#3f7be6" stroke-width="0.7"/>
<line x1="587.6" y1="743.3" x2="590.8" y2="743.3" stroke="#3f7be6" stroke-width="0.7"/>
<line x1="598" y1="729.8" x2="598" y2="745.5" stroke="#3f7be6" stroke-width="0.7"/>
<line x1="596.4" y1="729.8" x2="599.6" y2="729.8" stroke="#3f7be6" stroke-width="0.7"/>
<line x1="596.4" y1="745.5" x2="599.6" y2="745.5" stroke="#3f7be6" stroke-width="0.7"/>
<line x1="606.8" y1="728" x2="606.8" y2="743.7" stroke="#3f7be6" stroke-width="0.7"/>
<line x1="605.2" y1="728" x2="608.4" y2="728" stroke="#3f7be6" stroke-width="0.7"/>
<line x1="605.2" y1="743.7" x2="608.4" y2="743.7" stroke="#3f7be6" stroke-width="0.7"/>
<line x1="615.6" y1="730.1" x2="615.6" y2="745.8" stroke="#3f7be6" stroke-width="0.7"/>
<line x1="614" y1="730.1" x2="617.2" y2="730.1" stroke="#3f7be6" stroke-width="0.7"/>
<line x1="614" y1="745.8" x2="617.2" y2="745.8" stroke="#3f7be6" stroke-width="0.7"/>
<line x1="624.4" y1="731.2" x2="624.4" y2="746.9" stroke="#3f7be6" stroke-width="0.7"/>
<line x1="622.8" y1="731.2" x2="626" y2="731.2" stroke="#3f7be6" stroke-width="0.7"/>
<line x1="622.8" y1="746.9" x2="626" y2="746.9" stroke="#3f7be6" stroke-width="0.7"/>
<line x1="633.2" y1="729.4" x2="633.2" y2="745.1" stroke="#3f7be6" stroke-width="0.7"/>
<line x1="631.6" y1="729.4" x2="634.8" y2="729.4" stroke="#3f7be6" stroke-width="0.7"/>
<line x1="631.6" y1="745.1" x2="634.8" y2="745.1" stroke="#3f7be6" stroke-width="0.7"/>
<line x1="642" y1="730.1" x2="642" y2="745.8" stroke="#3f7be6" stroke-width="0.7"/>
<line x1="640.4" y1="730.1" x2="643.6" y2="730.1" stroke="#3f7be6" stroke-width="0.7"/>
<line x1="640.4" y1="745.8" x2="643.6" y2="745.8" stroke="#3f7be6" stroke-width="0.7"/>
<line x1="650.8" y1="731.2" x2="650.8" y2="746.9" stroke="#3f7be6" stroke-width="0.7"/>
<line x1="649.2" y1="731.2" x2="652.4" y2="731.2" stroke="#3f7be6" stroke-width="0.7"/>
<line x1="649.2" y1="746.9" x2="652.4" y2="746.9" stroke="#3f7be6" stroke-width="0.7"/>
<line x1="659.6" y1="729.8" x2="659.6" y2="745.5" stroke="#3f7be6" stroke-width="0.7"/>
<line x1="658" y1="729.8" x2="661.2" y2="729.8" stroke="#3f7be6" stroke-width="0.7"/>
<line x1="658" y1="745.5" x2="661.2" y2="745.5" stroke="#3f7be6" stroke-width="0.7"/>
<line x1="668.4" y1="728.4" x2="668.4" y2="744.1" stroke="#3f7be6" stroke-width="0.7"/>
<line x1="666.8" y1="728.4" x2="670" y2="728.4" stroke="#3f7be6" stroke-width="0.7"/>
<line x1="666.8" y1="744.1" x2="670" y2="744.1" stroke="#3f7be6" stroke-width="0.7"/>
<polyline points="554,736.2 555.4,737.6 554,739.1 552.6,737.6 554,736.2" fill="#3f7be6"/>
<polyline points="562.8,733.7 564.2,735.1 562.8,736.6 561.4,735.1 562.8,733.7" fill="#3f7be6"/>
<polyline points="571.6,736.6 573,738 571.6,739.4 570.2,738 571.6,736.6" fill="#3f7be6"/>
<polyline points="580.4,738 581.8,739.4 580.4,740.8 579,739.4 580.4,738" fill="#3f7be6"/>
<polyline points="589.2,734.1 590.6,735.5 589.2,736.9 587.8,735.5 589.2,734.1" fill="#3f7be6"/>
<polyline points="598,736.2 599.4,737.6 598,739.1 596.6,737.6 598,736.2" fill="#3f7be6"/>
<polyline points="606.8,734.4 608.2,735.8 606.8,737.3 605.4,735.8 606.8,734.4" fill="#3f7be6"/>
<polyline points="615.6,736.6 617,738 615.6,739.4 614.2,738 615.6,736.6" fill="#3f7be6"/>
<polyline points="624.4,737.6 625.8,739.1 624.4,740.5 623,739.1 624.4,737.6" fill="#3f7be6"/>
<polyline points="633.2,735.8 634.6,737.3 633.2,738.7 631.8,737.3 633.2,735.8" fill="#3f7be6"/>
<polyline points="642,736.6 643.4,738 642,739.4 640.6,738 642,736.6" fill="#3f7be6"/>
<polyline points="650.8,737.6 652.2,739.1 650.8,740.5 649.4,739.1 650.8,737.6" fill="#3f7be6"/>
<polyline points="659.6,736.2 661,737.6 659.6,739.1 658.2,737.6 659.6,736.2" fill="#3f7be6"/>
<polyline points="668.4,734.8 669.8,736.2 668.4,737.6 667,736.2 668.4,734.8" fill="#3f7be6"/>
<polyline points="554,727.3 562.8,726.2 571.6,727.6 580.4,728.4 589.2,725.9 598,725.5 606.8,727.3 615.6,725.9 624.4,727.6 633.2,728.4 642,725.1 650.8,726.2 659.6,724.8 668.4,727.3" fill="none" stroke="#ef3f5c" stroke-width="0.8"/>
<line x1="554" y1="719.1" x2="554" y2="735.5" stroke="#ef3f5c" stroke-width="0.7"/>
<line x1="552.4" y1="719.1" x2="555.6" y2="719.1" stroke="#ef3f5c" stroke-width="0.7"/>
<line x1="552.4" y1="735.5" x2="555.6" y2="735.5" stroke="#ef3f5c" stroke-width="0.7"/>
<line x1="562.8" y1="718" x2="562.8" y2="734.4" stroke="#ef3f5c" stroke-width="0.7"/>
<line x1="561.2" y1="718" x2="564.4" y2="718" stroke="#ef3f5c" stroke-width="0.7"/>
<line x1="561.2" y1="734.4" x2="564.4" y2="734.4" stroke="#ef3f5c" stroke-width="0.7"/>
<line x1="571.6" y1="719.4" x2="571.6" y2="735.8" stroke="#ef3f5c" stroke-width="0.7"/>
<line x1="570" y1="719.4" x2="573.2" y2="719.4" stroke="#ef3f5c" stroke-width="0.7"/>
<line x1="570" y1="735.8" x2="573.2" y2="735.8" stroke="#ef3f5c" stroke-width="0.7"/>
<line x1="580.4" y1="720.2" x2="580.4" y2="736.6" stroke="#ef3f5c" stroke-width="0.7"/>
<line x1="578.8" y1="720.2" x2="582" y2="720.2" stroke="#ef3f5c" stroke-width="0.7"/>
<line x1="578.8" y1="736.6" x2="582" y2="736.6" stroke="#ef3f5c" stroke-width="0.7"/>
<line x1="589.2" y1="717.7" x2="589.2" y2="734.1" stroke="#ef3f5c" stroke-width="0.7"/>
<line x1="587.6" y1="717.7" x2="590.8" y2="717.7" stroke="#ef3f5c" stroke-width="0.7"/>
<line x1="587.6" y1="734.1" x2="590.8" y2="734.1" stroke="#ef3f5c" stroke-width="0.7"/>
<line x1="598" y1="717.3" x2="598" y2="733.7" stroke="#ef3f5c" stroke-width="0.7"/>
<line x1="596.4" y1="717.3" x2="599.6" y2="717.3" stroke="#ef3f5c" stroke-width="0.7"/>
<line x1="596.4" y1="733.7" x2="599.6" y2="733.7" stroke="#ef3f5c" stroke-width="0.7"/>
<line x1="606.8" y1="719.1" x2="606.8" y2="735.5" stroke="#ef3f5c" stroke-width="0.7"/>
<line x1="605.2" y1="719.1" x2="608.4" y2="719.1" stroke="#ef3f5c" stroke-width="0.7"/>
<line x1="605.2" y1="735.5" x2="608.4" y2="735.5" stroke="#ef3f5c" stroke-width="0.7"/>
<line x1="615.6" y1="717.7" x2="615.6" y2="734.1" stroke="#ef3f5c" stroke-width="0.7"/>
<line x1="614" y1="717.7" x2="617.2" y2="717.7" stroke="#ef3f5c" stroke-width="0.7"/>
<line x1="614" y1="734.1" x2="617.2" y2="734.1" stroke="#ef3f5c" stroke-width="0.7"/>
<line x1="624.4" y1="719.4" x2="624.4" y2="735.8" stroke="#ef3f5c" stroke-width="0.7"/>
<line x1="622.8" y1="719.4" x2="626" y2="719.4" stroke="#ef3f5c" stroke-width="0.7"/>
<line x1="622.8" y1="735.8" x2="626" y2="735.8" stroke="#ef3f5c" stroke-width="0.7"/>
<line x1="633.2" y1="720.2" x2="633.2" y2="736.6" stroke="#ef3f5c" stroke-width="0.7"/>
<line x1="631.6" y1="720.2" x2="634.8" y2="720.2" stroke="#ef3f5c" stroke-width="0.7"/>
<line x1="631.6" y1="736.6" x2="634.8" y2="736.6" stroke="#ef3f5c" stroke-width="0.7"/>
<line x1="642" y1="716.9" x2="642" y2="733.4" stroke="#ef3f5c" stroke-width="0.7"/>
<line x1="640.4" y1="716.9" x2="643.6" y2="716.9" stroke="#ef3f5c" stroke-width="0.7"/>
<line x1="640.4" y1="733.4" x2="643.6" y2="733.4" stroke="#ef3f5c" stroke-width="0.7"/>
<line x1="650.8" y1="718" x2="650.8" y2="734.4" stroke="#ef3f5c" stroke-width="0.7"/>
<line x1="649.2" y1="718" x2="652.4" y2="718" stroke="#ef3f5c" stroke-width="0.7"/>
<line x1="649.2" y1="734.4" x2="652.4" y2="734.4" stroke="#ef3f5c" stroke-width="0.7"/>
<line x1="659.6" y1="716.6" x2="659.6" y2="733" stroke="#ef3f5c" stroke-width="0.7"/>
<line x1="658" y1="716.6" x2="661.2" y2="716.6" stroke="#ef3f5c" stroke-width="0.7"/>
<line x1="658" y1="733" x2="661.2" y2="733" stroke="#ef3f5c" stroke-width="0.7"/>
<line x1="668.4" y1="719.1" x2="668.4" y2="735.5" stroke="#ef3f5c" stroke-width="0.7"/>
<line x1="666.8" y1="719.1" x2="670" y2="719.1" stroke="#ef3f5c" stroke-width="0.7"/>
<line x1="666.8" y1="735.5" x2="670" y2="735.5" stroke="#ef3f5c" stroke-width="0.7"/>
<rect x="552.9" y="726.2" width="2.2" height="2.2" fill="#ef3f5c"/>
<rect x="561.7" y="725.1" width="2.2" height="2.2" fill="#ef3f5c"/>
<rect x="570.5" y="726.5" width="2.2" height="2.2" fill="#ef3f5c"/>
<rect x="579.3" y="727.3" width="2.2" height="2.2" fill="#ef3f5c"/>
<rect x="588.1" y="724.8" width="2.2" height="2.2" fill="#ef3f5c"/>
<rect x="596.9" y="724.4" width="2.2" height="2.2" fill="#ef3f5c"/>
<rect x="605.7" y="726.2" width="2.2" height="2.2" fill="#ef3f5c"/>
<rect x="614.5" y="724.8" width="2.2" height="2.2" fill="#ef3f5c"/>
<rect x="623.3" y="726.5" width="2.2" height="2.2" fill="#ef3f5c"/>
<rect x="632.1" y="727.3" width="2.2" height="2.2" fill="#ef3f5c"/>
<rect x="640.9" y="724" width="2.2" height="2.2" fill="#ef3f5c"/>
<rect x="649.7" y="725.1" width="2.2" height="2.2" fill="#ef3f5c"/>
<rect x="658.5" y="723.7" width="2.2" height="2.2" fill="#ef3f5c"/>
<rect x="667.3" y="726.2" width="2.2" height="2.2" fill="#ef3f5c"/>
<line x1="557.9" y1="699" x2="568.9" y2="699" stroke="#ef3f5c" stroke-width="0.9"/>
<rect x="562.1" y="697.7" width="2.6" height="2.6" fill="#ef3f5c"/>
<text class="sb" x="572.3" y="699" font-size="7">S.aureus</text>
<line x1="600.4" y1="699" x2="611.3" y2="699" stroke="#3f7be6" stroke-width="0.9"/>
<polyline points="605.8,697.3 607.5,699 605.8,700.7 604.2,699 605.8,697.3" fill="#3f7be6"/>
<text class="sb" x="613" y="699" font-size="6.9">MRSA</text>
<line x1="635.5" y1="699" x2="646.3" y2="699" stroke="#5fe0c5" stroke-width="0.9"/>
<polyline points="640.9,697.3 642.5,700.3 639.3,700.3 640.9,697.3" fill="#5fe0c5"/>
<text class="sb" x="648.4" y="699" font-size="6.9">E. coli</text>
<text class="sbm" x="611" y="806" font-size="6.8">Passages</text>
<text class="sbm" x="530" y="744" font-size="6" transform="rotate(-90 530 744)">Antibacterial ratio (%)</text>
<text x="518.4" y="690" font-family="'Liberation Sans', sans-serif" font-size="13" font-weight="bold" style="dominant-baseline:auto">N</text>
<rect x="543.9" y="814.5" width="133.2" height="105.8" fill="none" stroke="#222" stroke-width="0.8"/>
<line x1="541.4" y1="878.3" x2="543.9" y2="878.3" stroke="#222" stroke-width="0.8"/>
<text class="se" x="540.4" y="878.3" font-size="6.6">50</text>
<line x1="541.4" y1="865.5" x2="543.9" y2="865.5" stroke="#222" stroke-width="0.8"/>
<text class="se" x="540.4" y="865.5" font-size="6.6">60</text>
<line x1="541.4" y1="852.8" x2="543.9" y2="852.8" stroke="#222" stroke-width="0.8"/>
<text class="se" x="540.4" y="852.8" font-size="6.6">70</text>
<line x1="541.4" y1="840" x2="543.9" y2="840" stroke="#222" stroke-width="0.8"/>
<text class="se" x="540.4" y="840" font-size="6.6">80</text>
<line x1="541.4" y1="827.3" x2="543.9" y2="827.3" stroke="#222" stroke-width="0.8"/>
<text class="se" x="540.4" y="827.3" font-size="6.6">90</text>
<line x1="541.4" y1="814.5" x2="543.9" y2="814.5" stroke="#222" stroke-width="0.8"/>
<text class="se" x="540.4" y="814.5" font-size="6.6">100</text>
<line x1="542.5" y1="871.9" x2="543.9" y2="871.9" stroke="#222" stroke-width="0.8"/>
<line x1="542.5" y1="859.2" x2="543.9" y2="859.2" stroke="#222" stroke-width="0.8"/>
<line x1="542.5" y1="846.4" x2="543.9" y2="846.4" stroke="#222" stroke-width="0.8"/>
<line x1="542.5" y1="833.6" x2="543.9" y2="833.6" stroke="#222" stroke-width="0.8"/>
<line x1="542.5" y1="820.9" x2="543.9" y2="820.9" stroke="#222" stroke-width="0.8"/>
<line x1="541.4" y1="918.8" x2="543.9" y2="918.8" stroke="#222" stroke-width="0.8"/>
<text class="se" x="540.4" y="918.8" font-size="6.6">0</text>
<line x1="541.4" y1="905.9" x2="543.9" y2="905.9" stroke="#222" stroke-width="0.8"/>
<text class="se" x="540.4" y="905.9" font-size="6.6">10</text>
<line x1="542.5" y1="912.3" x2="543.9" y2="912.3" stroke="#222" stroke-width="0.8"/>
<rect x="549.7" y="918.7" width="9" height="0.1" fill="#f23f5b"/>
<line x1="554.2" y1="917.4" x2="554.2" y2="920" stroke="#111" stroke-width="0.7"/>
<line x1="552.4" y1="917.4" x2="556" y2="917.4" stroke="#111" stroke-width="0.7"/>
<line x1="552.4" y1="920" x2="556" y2="920" stroke="#111" stroke-width="0.7"/>
<circle cx="554.3" cy="916.9" r="0.8" fill="#9a9a9a"/>
<circle cx="554.6" cy="920.2" r="0.8" fill="#9a9a9a"/>
<rect x="558.7" y="907.8" width="9" height="11" fill="#f08b2c"/>
<line x1="563.2" y1="905" x2="563.2" y2="910.7" stroke="#111" stroke-width="0.7"/>
<line x1="561.4" y1="905" x2="565" y2="905" stroke="#111" stroke-width="0.7"/>
<line x1="561.4" y1="910.7" x2="565" y2="910.7" stroke="#111" stroke-width="0.7"/>
<circle cx="563.5" cy="903.9" r="0.8" fill="#9a9a9a"/>
<circle cx="562.8" cy="911.2" r="0.8" fill="#9a9a9a"/>
<rect x="567.7" y="880.9" width="9" height="37.9" fill="#ecd55f"/>
<line x1="572.2" y1="878.3" x2="572.2" y2="883.4" stroke="#111" stroke-width="0.7"/>
<line x1="570.4" y1="878.3" x2="574" y2="878.3" stroke="#111" stroke-width="0.7"/>
<line x1="570.4" y1="883.4" x2="574" y2="883.4" stroke="#111" stroke-width="0.7"/>
<circle cx="571.8" cy="877.3" r="0.8" fill="#9a9a9a"/>
<circle cx="572.1" cy="883.9" r="0.8" fill="#9a9a9a"/>
<rect x="576.7" y="840.7" width="9" height="78.1" fill="#3f83f2"/>
<line x1="581.2" y1="839.4" x2="581.2" y2="841.9" stroke="#111" stroke-width="0.7"/>
<line x1="579.4" y1="839.4" x2="583" y2="839.4" stroke="#111" stroke-width="0.7"/>
<line x1="579.4" y1="841.9" x2="583" y2="841.9" stroke="#111" stroke-width="0.7"/>
<circle cx="580.8" cy="838.9" r="0.8" fill="#9a9a9a"/>
<circle cx="580.9" cy="842.2" r="0.8" fill="#9a9a9a"/>
<rect x="593.8" y="918.7" width="9" height="0.1" fill="#f23f5b"/>
<line x1="598.3" y1="917.4" x2="598.3" y2="920" stroke="#111" stroke-width="0.7"/>
<line x1="596.5" y1="917.4" x2="600.1" y2="917.4" stroke="#111" stroke-width="0.7"/>
<line x1="596.5" y1="920" x2="600.1" y2="920" stroke="#111" stroke-width="0.7"/>
<circle cx="597.9" cy="916.9" r="0.8" fill="#9a9a9a"/>
<circle cx="598.5" cy="920.2" r="0.8" fill="#9a9a9a"/>
<rect x="602.8" y="911.7" width="9" height="7.1" fill="#f08b2c"/>
<line x1="607.3" y1="909.8" x2="607.3" y2="913.6" stroke="#111" stroke-width="0.7"/>
<line x1="605.5" y1="909.8" x2="609.1" y2="909.8" stroke="#111" stroke-width="0.7"/>
<line x1="605.5" y1="913.6" x2="609.1" y2="913.6" stroke="#111" stroke-width="0.7"/>
<circle cx="607.6" cy="909" r="0.8" fill="#9a9a9a"/>
<circle cx="607.7" cy="914" r="0.8" fill="#9a9a9a"/>
<rect x="611.8" y="884" width="9" height="34.8" fill="#ecd55f"/>
<line x1="616.3" y1="882.1" x2="616.3" y2="886" stroke="#111" stroke-width="0.7"/>
<line x1="614.5" y1="882.1" x2="618.1" y2="882.1" stroke="#111" stroke-width="0.7"/>
<line x1="614.5" y1="886" x2="618.1" y2="886" stroke="#111" stroke-width="0.7"/>
<circle cx="616" cy="881.4" r="0.8" fill="#9a9a9a"/>
<circle cx="616.5" cy="886.3" r="0.8" fill="#9a9a9a"/>
<rect x="620.8" y="844.5" width="9" height="74.3" fill="#3f83f2"/>
<line x1="625.3" y1="839.4" x2="625.3" y2="849.6" stroke="#111" stroke-width="0.7"/>
<line x1="623.5" y1="839.4" x2="627.1" y2="839.4" stroke="#111" stroke-width="0.7"/>
<line x1="623.5" y1="849.6" x2="627.1" y2="849.6" stroke="#111" stroke-width="0.7"/>
<circle cx="625.5" cy="837.3" r="0.8" fill="#9a9a9a"/>
<circle cx="624.9" cy="850.6" r="0.8" fill="#9a9a9a"/>
<rect x="637.7" y="918.7" width="9" height="0.1" fill="#f23f5b"/>
<line x1="642.2" y1="917.4" x2="642.2" y2="920" stroke="#111" stroke-width="0.7"/>
<line x1="640.4" y1="917.4" x2="644" y2="917.4" stroke="#111" stroke-width="0.7"/>
<line x1="640.4" y1="920" x2="644" y2="920" stroke="#111" stroke-width="0.7"/>
<circle cx="642.6" cy="916.9" r="0.8" fill="#9a9a9a"/>
<circle cx="642.7" cy="920.2" r="0.8" fill="#9a9a9a"/>
<rect x="646.7" y="914.3" width="9" height="4.5" fill="#f08b2c"/>
<line x1="651.2" y1="912.7" x2="651.2" y2="915.8" stroke="#111" stroke-width="0.7"/>
<line x1="649.4" y1="912.7" x2="653" y2="912.7" stroke="#111" stroke-width="0.7"/>
<line x1="649.4" y1="915.8" x2="653" y2="915.8" stroke="#111" stroke-width="0.7"/>
<circle cx="650.9" cy="912.1" r="0.8" fill="#9a9a9a"/>
<circle cx="651.7" cy="916.1" r="0.8" fill="#9a9a9a"/>
<rect x="655.7" y="884.7" width="9" height="34.1" fill="#ecd55f"/>
<line x1="660.2" y1="882.4" x2="660.2" y2="887" stroke="#111" stroke-width="0.7"/>
<line x1="658.4" y1="882.4" x2="662" y2="882.4" stroke="#111" stroke-width="0.7"/>
<line x1="658.4" y1="887" x2="662" y2="887" stroke="#111" stroke-width="0.7"/>
<circle cx="660.1" cy="881.5" r="0.8" fill="#9a9a9a"/>
<circle cx="660.2" cy="887.4" r="0.8" fill="#9a9a9a"/>
<rect x="664.7" y="846.4" width="9" height="72.4" fill="#3f83f2"/>
<line x1="669.2" y1="843.2" x2="669.2" y2="849.6" stroke="#111" stroke-width="0.7"/>
<line x1="667.4" y1="843.2" x2="671" y2="843.2" stroke="#111" stroke-width="0.7"/>
<line x1="667.4" y1="849.6" x2="671" y2="849.6" stroke="#111" stroke-width="0.7"/>
<circle cx="669.7" cy="841.9" r="0.8" fill="#9a9a9a"/>
<circle cx="669.5" cy="850.2" r="0.8" fill="#9a9a9a"/>
<rect x="544.4" y="891" width="132.2" height="2" fill="#fff"/>
<text class="sbm" x="543.9" y="892" font-size="6" transform="rotate(-60 543.9 892)">≈</text>
<line x1="567.7" y1="920.3" x2="567.7" y2="922.8" stroke="#222" stroke-width="0.8"/>
<text class="sbm" x="567.7" y="927.4" font-size="7.2">S.aureus</text>
<line x1="611.8" y1="920.3" x2="611.8" y2="922.8" stroke="#222" stroke-width="0.8"/>
<text class="sbm" x="611.8" y="927.4" font-size="7.2">MRSA</text>
<line x1="655.7" y1="920.3" x2="655.7" y2="922.8" stroke="#222" stroke-width="0.8"/>
<text class="sbm" x="655.7" y="927.4" font-size="7.2">E.coli</text>
<rect x="551" y="815.9" width="16.3" height="7.6" fill="#f23f5b"/>
<text class="sb" x="569.3" y="819.7" font-size="7.1">Control</text>
<rect x="594.3" y="815.9" width="15.7" height="7.6" fill="#f08b2c"/>
<text class="sb" x="612" y="819.7" font-size="7.1">HAP</text>
<rect x="628.5" y="815.9" width="15.8" height="7.6" fill="#ecd55f"/>
<text class="sb" x="646.3" y="819.7" font-size="7.1">HAPP1</text>
<rect x="551" y="825.4" width="16.3" height="7.6" fill="#3f83f2"/>
<text class="sb" x="569.3" y="829.2" font-size="7.1">HAPP3</text>
<text class="sbm" x="525.5" y="868" font-size="8.8" transform="rotate(-90 525.5 868)">Biofilm destruction (%)</text>
<text x="518.4" y="814.3" font-family="'Liberation Sans', sans-serif" font-size="13" font-weight="bold" style="dominant-baseline:auto">R</text>
<rect x="357" y="10" width="153" height="119.9" rx="11" fill="url(#gC)"/>
<clipPath id="ct361"><path d="M364,15.3 C366,36.3 369.6,60.3 379.6,68.3 C389.6,60.3 393.7,36.3 395.7,15.3 Z"/></clipPath>
<g clip-path="url(#ct361)">
<rect x="361" y="14.3" width="37.7" height="13.6" fill="#fbfcfc"/>
<rect x="361" y="27.9" width="37.7" height="42.4" fill="#c6e6ef"/>
<rect x="361" y="27.1" width="37.7" height="1.6" fill="#a9b3ad"/>
<line x1="380.6" y1="46.5" x2="382.2" y2="44.9" stroke="#8ab840" stroke-width="0.7"/>
<circle cx="379.8" cy="46.2" r="1.1" fill="#e8e24a"/>
<circle cx="380" cy="36.7" r="1.1" fill="#e8e24a"/>
<circle cx="380.5" cy="30.9" r="1.1" fill="#e8e24a"/>
<circle cx="371.9" cy="36.8" r="1.1" fill="#e8e24a"/>
<line x1="377" y1="46.9" x2="378.6" y2="45.3" stroke="#8ab840" stroke-width="0.7"/>
<circle cx="383.8" cy="48" r="1.1" fill="#e8e24a"/>
<circle cx="378.3" cy="52.9" r="1.1" fill="#e8e24a"/>
<circle cx="371.5" cy="41.1" r="1.1" fill="#e8e24a"/>
<circle cx="387.6" cy="32.8" r="1.1" fill="#e8e24a"/>
<line x1="370.1" y1="31.2" x2="371.7" y2="29.6" stroke="#8ab840" stroke-width="0.7"/>
<circle cx="388.5" cy="32.4" r="1.1" fill="#e8e24a"/>
<circle cx="378" cy="49.4" r="1.1" fill="#e8e24a"/>
<circle cx="371" cy="44.7" r="1.1" fill="#e8e24a"/>
<line x1="375.6" y1="38.3" x2="377.2" y2="36.7" stroke="#8ab840" stroke-width="0.7"/>
<circle cx="387.8" cy="39.2" r="1.1" fill="#e8e24a"/>
<circle cx="382.1" cy="33.5" r="1.1" fill="#e8e24a"/>
<circle cx="375.8" cy="50.8" r="1.1" fill="#e8e24a"/>
<circle cx="379.1" cy="62.9" r="1.1" fill="#e8e24a"/>
<line x1="391.1" y1="36.4" x2="392.7" y2="34.8" stroke="#8ab840" stroke-width="0.7"/>
<line x1="369.5" y1="39.7" x2="371.1" y2="38.1" stroke="#8ab840" stroke-width="0.7"/>
<circle cx="377.2" cy="50.9" r="1.1" fill="#e8e24a"/>
<circle cx="385.7" cy="38.5" r="1.1" fill="#e8e24a"/>
<circle cx="382.5" cy="58.3" r="1.1" fill="#e8e24a"/>
<circle cx="386.2" cy="36.3" r="1.1" fill="#e8e24a"/>
<line x1="380.6" y1="38.9" x2="382.2" y2="37.3" stroke="#8ab840" stroke-width="0.7"/>
<line x1="372.2" y1="52" x2="373.8" y2="50.4" stroke="#8ab840" stroke-width="0.7"/>
<circle cx="378" cy="39.5" r="1.1" fill="#e8e24a"/>
<circle cx="375.7" cy="36.4" r="1.1" fill="#e8e24a"/>
<line x1="374.7" y1="35.7" x2="376.3" y2="34.1" stroke="#8ab840" stroke-width="0.7"/>
<circle cx="382.1" cy="53.8" r="1.1" fill="#e8e24a"/>
<line x1="378.3" y1="52.8" x2="379.9" y2="51.2" stroke="#8ab840" stroke-width="0.7"/>
<line x1="380.2" y1="33.8" x2="381.8" y2="32.2" stroke="#8ab840" stroke-width="0.7"/>
<line x1="376.3" y1="60.7" x2="377.9" y2="59.1" stroke="#8ab840" stroke-width="0.7"/>
<circle cx="381.8" cy="59.7" r="1.1" fill="#e8e24a"/>
<circle cx="382.1" cy="43.4" r="1.1" fill="#e8e24a"/>
<line x1="383" y1="33.9" x2="384.6" y2="32.3" stroke="#8ab840" stroke-width="0.7"/>
<circle cx="386.7" cy="43.6" r="1.1" fill="#e8e24a"/>
<circle cx="387.1" cy="33.2" r="1.1" fill="#e8e24a"/>
<circle cx="379" cy="50.8" r="1.1" fill="#e8e24a"/>
<circle cx="379.5" cy="54.1" r="1.1" fill="#e8e24a"/>
<line x1="372.8" y1="31.6" x2="374.4" y2="30" stroke="#8ab840" stroke-width="0.7"/>
<line x1="368.9" y1="38.1" x2="370.5" y2="36.5" stroke="#8ab840" stroke-width="0.7"/>
<line x1="377.1" y1="53.6" x2="378.7" y2="52" stroke="#8ab840" stroke-width="0.7"/>
<circle cx="384.6" cy="41.5" r="1.1" fill="#e8e24a"/>
<line x1="388" y1="45.8" x2="389.6" y2="44.2" stroke="#8ab840" stroke-width="0.7"/>
</g>
<path d="M364,15.3 C366,36.3 369.6,60.3 379.6,68.3 C389.6,60.3 393.7,36.3 395.7,15.3" fill="none" stroke="#2a2a2a" stroke-width="0.9"/>
<line x1="361" y1="14.7" x2="398.7" y2="14.7" stroke="#333" stroke-width="1.3"/>
<clipPath id="ct468"><path d="M471.5,16.4 C473.5,37.4 477.5,61.4 487.5,69.4 C497.5,61.4 500.7,37.4 502.7,16.4 Z"/></clipPath>
<g clip-path="url(#ct468)">
<rect x="468.5" y="15.4" width="37.2" height="11.2" fill="#fbfcfc"/>
<rect x="468.5" y="26.6" width="37.2" height="44.8" fill="#c6e6ef"/>
<rect x="468.5" y="25.8" width="37.2" height="1.6" fill="#a9b3ad"/>
<circle cx="496.9" cy="35.4" r="0.9" fill="#e8d84a"/>
<circle cx="489.2" cy="34.4" r="0.9" fill="#e8d84a"/>
<circle cx="477.5" cy="37" r="0.9" fill="#e8d84a"/>
<circle cx="495.8" cy="41.9" r="0.9" fill="#e8d84a"/>
<circle cx="492.5" cy="43.3" r="0.9" fill="#e8d84a"/>
<circle cx="481.2" cy="32.4" r="0.9" fill="#e8d84a"/>
<circle cx="485.2" cy="56.1" r="0.9" fill="#f0c040"/>
<circle cx="487.7" cy="54.9" r="1.3" fill="#40a0e0"/>
<circle cx="491.4" cy="53.8" r="1" fill="#e8d83a"/>
<circle cx="485.9" cy="60.2" r="1" fill="#e8d83a"/>
<circle cx="486.8" cy="59.5" r="0.9" fill="#4a6ad8"/>
<circle cx="482.8" cy="52.3" r="0.8" fill="#f0e040"/>
<circle cx="488.8" cy="56" r="1.3" fill="#7a3ab8"/>
<circle cx="488" cy="65.3" r="0.9" fill="#40a0e0"/>
<circle cx="490.2" cy="52.6" r="1.3" fill="#e8d83a"/>
<circle cx="484.4" cy="51.2" r="1" fill="#6ab84a"/>
<circle cx="490.7" cy="55.1" r="1.4" fill="#f0e040"/>
<circle cx="491.7" cy="55.4" r="1.1" fill="#40a0e0"/>
<circle cx="488.8" cy="56.2" r="1.4" fill="#f0c040"/>
<circle cx="488.9" cy="57.9" r="1.2" fill="#7a3ab8"/>
<circle cx="489" cy="56.3" r="0.9" fill="#f0e040"/>
<circle cx="492.8" cy="51.8" r="1.5" fill="#4a6ad8"/>
<circle cx="490.1" cy="57.7" r="1" fill="#e8d83a"/>
<circle cx="482.7" cy="54.3" r="1.1" fill="#f0c040"/>
<circle cx="487.4" cy="61.8" r="0.8" fill="#f0e040"/>
<circle cx="482.6" cy="55.7" r="1.2" fill="#6ab84a"/>
<circle cx="492.5" cy="56.5" r="1.4" fill="#40a0e0"/>
<circle cx="487.5" cy="65" r="1.5" fill="#f0e040"/>
<circle cx="487.1" cy="61.6" r="1.2" fill="#6ab84a"/>
<circle cx="490.7" cy="57.4" r="1.2" fill="#4a6ad8"/>
<circle cx="490.8" cy="60.1" r="1.4" fill="#e83a3a"/>
<circle cx="483.1" cy="53.5" r="1.2" fill="#4a6ad8"/>
<circle cx="484.9" cy="58.3" r="1.2" fill="#e8d83a"/>
<circle cx="483.7" cy="58.9" r="1.5" fill="#f0c040"/>
<circle cx="491.9" cy="57.8" r="0.9" fill="#f0e040"/>
<circle cx="484.5" cy="60.4" r="1.2" fill="#f0c040"/>
<circle cx="488.5" cy="64.6" r="1.1" fill="#e83a3a"/>
<circle cx="483.8" cy="56.5" r="1.1" fill="#40a0e0"/>
<circle cx="483.9" cy="57.4" r="1.1" fill="#e8d83a"/>
<circle cx="486.3" cy="64.7" r="1.3" fill="#e8d83a"/>
<circle cx="482.2" cy="48.6" r="0.8" fill="#4a6ad8"/>
<circle cx="485.8" cy="53.8" r="1.2" fill="#f0e040"/>
<circle cx="488.3" cy="57" r="1.4" fill="#4a6ad8"/>
<circle cx="488.8" cy="60.9" r="1.4" fill="#e8d83a"/>
<circle cx="486.5" cy="54.8" r="1.2" fill="#6ab84a"/>
<circle cx="490.8" cy="57.7" r="1.2" fill="#e83a3a"/>
<circle cx="490.7" cy="57.5" r="1.2" fill="#6ab84a"/>
<circle cx="490.6" cy="52.2" r="1.4" fill="#6ab84a"/>
<circle cx="485.3" cy="53.7" r="1.4" fill="#e83a3a"/>
<circle cx="485.8" cy="62" r="0.9" fill="#e83a3a"/>
<circle cx="481.6" cy="50.4" r="1.1" fill="#f0c040"/>
<circle cx="487.1" cy="63" r="1.4" fill="#6ab84a"/>
<circle cx="489.2" cy="51.6" r="1.4" fill="#f0e040"/>
<circle cx="490" cy="51.6" r="1.4" fill="#7a3ab8"/>
<circle cx="487.6" cy="50.1" r="1.3" fill="#e83a3a"/>
<circle cx="487.4" cy="62.5" r="0.8" fill="#40a0e0"/>
<circle cx="483" cy="50.6" r="0.9" fill="#6ab84a"/>
<circle cx="488.5" cy="65.8" r="0.9" fill="#e8d83a"/>
<circle cx="490.1" cy="50.4" r="0.9" fill="#f0e040"/>
<circle cx="487.1" cy="53.9" r="1.2" fill="#f0c040"/>
<circle cx="485.8" cy="51.8" r="1.2" fill="#e8d83a"/>
<circle cx="486" cy="63.2" r="1.1" fill="#7a3ab8"/>
<circle cx="484.2" cy="55.3" r="0.9" fill="#e8d83a"/>
<circle cx="482.6" cy="53.8" r="1.4" fill="#f0c040"/>
<circle cx="484.8" cy="58.3" r="1.2" fill="#7a3ab8"/>
<circle cx="486.2" cy="62.5" r="1.4" fill="#6ab84a"/>
<circle cx="487" cy="62.7" r="1.4" fill="#7a3ab8"/>
<circle cx="489" cy="61.8" r="1.1" fill="#6ab84a"/>
<circle cx="485.1" cy="49.3" r="1.1" fill="#e8d83a"/>
<circle cx="489.4" cy="64" r="1.4" fill="#e8d83a"/>
<circle cx="493.3" cy="52.2" r="1.3" fill="#7a3ab8"/>
<circle cx="486.3" cy="51.9" r="0.9" fill="#f0e040"/>
<circle cx="493" cy="55" r="1.2" fill="#f0e040"/>
<circle cx="490.3" cy="61.7" r="0.8" fill="#f0e040"/>
<circle cx="486" cy="61.3" r="1.1" fill="#e8d83a"/>
<circle cx="488.4" cy="61.7" r="0.8" fill="#4a6ad8"/>
</g>
<path d="M471.5,16.4 C473.5,37.4 477.5,61.4 487.5,69.4 C497.5,61.4 500.7,37.4 502.7,16.4" fill="none" stroke="#2a2a2a" stroke-width="0.9"/>
<line x1="468.5" y1="15.8" x2="505.7" y2="15.8" stroke="#333" stroke-width="1.3"/>
<line x1="379.8" y1="70" x2="379.8" y2="92.5" stroke="#1a1a1a" stroke-width="1.7" stroke-dasharray="2.2,1.6"/>
<polygon points="375.9,92 383.7,92 379.8,97.6" fill="#1a1a1a"/>
<circle cx="369.6" cy="104.4" r="2.1" fill="#f2ee58"/>
<text class="ab" x="374.2" y="104.6" font-size="6.8" fill="#222">MRSA</text>
<circle cx="369.6" cy="113.3" r="2.1" fill="#c9c23e"/>
<text class="ab" x="374.2" y="113.5" font-size="6.8" fill="#222">S.aureus</text>
<line x1="367.8" y1="119.8" x2="370.8" y2="123.6" stroke="#5a9a3a" stroke-width="1.1"/>
<text class="ab" x="374.2" y="122.2" font-size="6.8" fill="#222">E.coli</text>
<text class="am" x="400.2" y="19.6" font-size="6.6" fill="#e8703a">HO</text>
<text class="am" x="410.2" y="23.2" font-size="6.6" fill="#e8703a">B</text>
<text class="am" x="420.2" y="19.6" font-size="6.6" fill="#e8703a">OH</text>
<line x1="404.2" y1="20.1" x2="408" y2="22.2" stroke="#e8703a" stroke-width="0.8"/>
<line x1="412.4" y1="22.2" x2="416.2" y2="20.1" stroke="#e8703a" stroke-width="0.8"/>
<polygon points="409.7,27.4 403.5,31 403.5,38.2 409.7,41.8 415.9,38.2 415.9,31" fill="none" stroke="#e8703a" stroke-width="0.9"/>
<line x1="410.2" y1="26.1" x2="409.7" y2="27.4" stroke="#e8703a" stroke-width="0.9"/>
<text class="am" x="447.6" y="18.2" font-size="6.6" fill="#e8703a">HO</text>
<text class="am" x="457.6" y="21.8" font-size="6.6" fill="#e8703a">B</text>
<text class="am" x="467.6" y="18.2" font-size="6.6" fill="#e8703a">OH</text>
<line x1="451.6" y1="18.7" x2="455.4" y2="20.8" stroke="#e8703a" stroke-width="0.8"/>
<line x1="459.8" y1="20.8" x2="463.6" y2="18.7" stroke="#e8703a" stroke-width="0.8"/>
<polygon points="457.1,26 450.9,29.6 450.9,36.8 457.1,40.4 463.3,36.8 463.3,29.6" fill="none" stroke="#e8703a" stroke-width="0.9"/>
<line x1="457.6" y1="24.7" x2="457.1" y2="26" stroke="#e8703a" stroke-width="0.9"/>
<polygon points="420,28 447,26.5 448.5,40 419,41.5" fill="url(#pGel)" stroke="#78aef0" stroke-width="0.6"/>
<line x1="414.5" y1="37" x2="420" y2="36.5" stroke="#e8703a" stroke-width="0.8"/>
<rect x="394.7" y="42.2" width="72" height="11.6" fill="url(#gArrC)"/>
<polygon points="466,38.8 477.2,47.8 466,58.3" fill="#e8b458"/>
<ellipse cx="414" cy="59.3" rx="5.8" ry="2.2" fill="none" stroke="#3a3a3a" stroke-width="0.8"/>
<path d="M419.8,59.3 l3,-1.5 l3,0 l2.5,1.5" fill="none" stroke="#3a3a3a" stroke-width="0.8"/>
<path d="M428.5,56.9 L446,56.9 M429.5,59.9 L445,59.9 M428.5,56.9 L431.0,62.3 L443.5,62.3 L446,56.9" fill="none" stroke="#3a3a3a" stroke-width="0.8"/>
<path d="M446,57 l2.5,2.5 l2,0" fill="none" stroke="#3a3a3a" stroke-width="0.8"/>
<path d="M431.5,62.3 l-1.5,3 M443,62.3 l1.5,3" fill="none" stroke="#3a3a3a" stroke-width="0.7"/>
<circle cx="452" cy="59.3" r="2.1" fill="#f2ee40"/>
<text class="am" x="427.5" y="68.6" font-size="5.6" fill="#333">HO</text>
<text class="am" x="443" y="68.6" font-size="5.6" fill="#333">OH</text>
<text class="a" x="397" y="75.9" font-size="7.5" fill="#333">(Diol-polysaccharide)</text>
<line x1="482.5" y1="61" x2="476" y2="74.5" stroke="#e02828" stroke-width="1.5" stroke-dasharray="2.5,1.8"/>
<polygon points="471.5,71.5 479,76.5 473,79.5" fill="#e02828"/>
<circle cx="396.5" cy="87.7" r="2.3" fill="#d4cc3a"/>
<path d="M398.5,88.5 l2.5,1 l2,3.5" fill="none" stroke="#3a3a3a" stroke-width="0.8"/>
<path d="M401.6,93.10000000000001 L419.8,93.10000000000001 M402.6,96.10000000000001 L418.8,96.10000000000001 M401.6,93.10000000000001 L404.1,98.5 L417.3,98.5 L419.8,93.10000000000001" fill="none" stroke="#3a3a3a" stroke-width="0.8"/>
<path d="M419.8,93.5 l3,2 l1.5,0" fill="none" stroke="#3a3a3a" stroke-width="0.8"/>
<ellipse cx="431.2" cy="95.7" rx="6.8" ry="2.1" fill="none" stroke="#3a3a3a" stroke-width="0.8"/>
<ellipse cx="446" cy="95.7" rx="7.2" ry="2.1" fill="none" stroke="#3a3a3a" stroke-width="0.8"/>
<path d="M438,95.7 l1,0 M453.2,95.7 l2,-2 l2,0" fill="none" stroke="#3a3a3a" stroke-width="0.8"/>
<path d="M457.4,93.10000000000001 L472.2,93.10000000000001 M458.4,96.10000000000001 L471.2,96.10000000000001 M457.4,93.10000000000001 L459.9,98.5 L469.7,98.5 L472.2,93.10000000000001" fill="none" stroke="#3a3a3a" stroke-width="0.8"/>
<path d="M472.2,93.1 l2,-4 l1.5,-2" fill="none" stroke="#3a3a3a" stroke-width="0.8"/>
<line x1="475.5" y1="86.5" x2="478.5" y2="84" stroke="#5a9a3a" stroke-width="1.1"/>
<circle cx="404" cy="105.5" r="1.7" fill="none" stroke="#e8703a" stroke-width="0.7"/>
<circle cx="417" cy="105.5" r="1.7" fill="none" stroke="#e8703a" stroke-width="0.7"/>
<line x1="405.5" y1="106.7" x2="409" y2="108" stroke="#e8703a" stroke-width="0.7"/>
<line x1="415.5" y1="106.7" x2="412" y2="108" stroke="#e8703a" stroke-width="0.7"/>
<line x1="404" y1="103.8" x2="404" y2="98.7" stroke="#3a3a3a" stroke-width="0.7"/>
<line x1="417" y1="103.8" x2="417" y2="98.7" stroke="#3a3a3a" stroke-width="0.7"/>
<text class="am" x="410.5" y="108.5" font-size="5.8" fill="#e8703a">B</text>
<text class="am" x="421" y="112.7" font-size="5.8" fill="#e8703a">OH</text>
<line x1="412.5" y1="109.5" x2="417" y2="112" stroke="#e8703a" stroke-width="0.7"/>
<circle cx="402.5" cy="110.3" r="1.5" fill="none" stroke="#333" stroke-width="0.5"/>
<line x1="401.6" y1="110.3" x2="403.4" y2="110.3" stroke="#333" stroke-width="0.5"/>
<polygon points="410,114.7 403.8,118.3 403.8,125.5 410,129.1 416.2,125.5 416.2,118.3" fill="none" stroke="#e8703a" stroke-width="0.9"/>
<line x1="410.5" y1="111.1" x2="410" y2="114.7" stroke="#e8703a" stroke-width="0.8"/>
<circle cx="458" cy="105.5" r="1.7" fill="none" stroke="#e8703a" stroke-width="0.7"/>
<circle cx="471" cy="105.5" r="1.7" fill="none" stroke="#e8703a" stroke-width="0.7"/>
<line x1="459.5" y1="106.7" x2="463" y2="108" stroke="#e8703a" stroke-width="0.7"/>
<line x1="469.5" y1="106.7" x2="466" y2="108" stroke="#e8703a" stroke-width="0.7"/>
<line x1="458" y1="103.8" x2="458" y2="98.7" stroke="#3a3a3a" stroke-width="0.7"/>
<line x1="471" y1="103.8" x2="471" y2="98.7" stroke="#3a3a3a" stroke-width="0.7"/>
<text class="am" x="464.5" y="108.5" font-size="5.8" fill="#e8703a">B</text>
<text class="am" x="475" y="112.7" font-size="5.8" fill="#e8703a">OH</text>
<line x1="466.5" y1="109.5" x2="471" y2="112" stroke="#e8703a" stroke-width="0.7"/>
<circle cx="456.5" cy="110.3" r="1.5" fill="none" stroke="#333" stroke-width="0.5"/>
<line x1="455.6" y1="110.3" x2="457.4" y2="110.3" stroke="#333" stroke-width="0.5"/>
<polygon points="464,114.7 457.8,118.3 457.8,125.5 464,129.1 470.2,125.5 470.2,118.3" fill="none" stroke="#e8703a" stroke-width="0.9"/>
<line x1="464.5" y1="111.1" x2="464" y2="114.7" stroke="#e8703a" stroke-width="0.8"/>
<polygon points="425,104.5 455,103.7 453,126.5 422,125.5" fill="url(#pGel)" stroke="#78aef0" stroke-width="0.6"/>
<line x1="416.5" y1="125" x2="422.5" y2="123" stroke="#e8703a" stroke-width="0.8"/>
<line x1="455.5" y1="124" x2="458.5" y2="125" stroke="#e8703a" stroke-width="0.8"/>
<line x1="487.7" y1="71" x2="487.7" y2="103" stroke="#7a3cb8" stroke-width="1.7" stroke-dasharray="2.4,1.6"/>
<polygon points="484,102.5 491.4,102.5 487.7,107.5" fill="#7a3cb8"/>
<text class="ab" x="477.5" y="115" font-size="10.5" fill="#6a2ca8">OD</text>
<text class="ab" x="493.4" y="119.3" font-size="4.5" fill="#6a2ca8">595</text>
<line x1="504.2" y1="108" x2="504.2" y2="119.5" stroke="#6a2ca8"/>
<path d="M501.8,116.5 L504.2,120 L506.6,116.5" fill="none" stroke="#6a2ca8"/>
<text x="343.9" y="14.3" font-family="'Liberation Sans', sans-serif" font-size="14" font-weight="bold" style="dominant-baseline:auto">C</text>
<rect x="3.5" y="283.5" width="669.8" height="137.5" rx="15" fill="#e5f2f3"/>
<line x1="20" y1="300.4" x2="646" y2="300.4" stroke="#151515" stroke-width="2.4"/>
<polygon points="644.9,293.2 656.8,301.4 644.9,301.4" fill="#151515"/>
<line x1="52" y1="297.8" x2="52" y2="305" stroke="#151515" stroke-width="1.6"/>
<text class="am" x="52" y="291.9" font-size="9.6" fill="#222">0h</text>
<line x1="230.4" y1="297.8" x2="230.4" y2="305" stroke="#151515" stroke-width="1.6"/>
<text class="am" x="227.1" y="291.9" font-size="9.6" fill="#222">12h</text>
<line x1="432.3" y1="297.8" x2="432.3" y2="305" stroke="#151515" stroke-width="1.6"/>
<text class="am" x="429" y="291.9" font-size="9.6" fill="#222">24h</text>
<line x1="611" y1="297.8" x2="611" y2="305" stroke="#151515" stroke-width="1.6"/>
<text class="am" x="607.7" y="291.9" font-size="9.6" fill="#222">36h</text>
<rect x="29.5" y="328.5" width="20" height="13.3" rx="2.5" fill="#d6dfe1"/>
<polygon points="15,314 46,314.7 40,332.6 9,331.6" fill="url(#pGel)" stroke="#78aef0" stroke-width="0.6"/>
<text class="a" x="14" y="339" font-size="9.7" fill="#222">Gel</text>
<rect x="239.5" y="318" width="11" height="15" rx="2" fill="#d6dfe1"/>
<polygon points="215.5,313.6 247.5,314.2 241.5,331.4 209.5,330.6" fill="url(#pGel)" stroke="#78aef0" stroke-width="0.6"/>
<text class="am" x="228.5" y="338.8" font-size="10.1" fill="#222">Transfer</text>
<rect x="440.6" y="318" width="11" height="15" rx="2" fill="#d6dfe1"/>
<polygon points="416.6,313.6 448.6,314.2 442.6,331.4 410.6,330.6" fill="url(#pGel)" stroke="#78aef0" stroke-width="0.6"/>
<text class="am" x="429.6" y="338.8" font-size="10.1" fill="#222">Transfer</text>
<line x1="46.4" y1="315.2" x2="56.3" y2="314.5" stroke="#e8283c" stroke-width="1.6" stroke-dasharray="1.8,1.8"/>
<polygon points="66.3,313.8 55.2,319.2 58.8,314.3 54.5,310" fill="#e8283c"/>
<line x1="187.5" y1="315.2" x2="197.3" y2="314.5" stroke="#e8283c" stroke-width="1.6" stroke-dasharray="1.8,1.8"/>
<polygon points="207.3,313.8 196.2,319.2 199.8,314.3 195.5,310" fill="#e8283c"/>
<line x1="249.5" y1="315.2" x2="259.3" y2="314.5" stroke="#e8283c" stroke-width="1.6" stroke-dasharray="1.8,1.8"/>
<polygon points="269.3,313.8 258.2,319.2 261.8,314.3 257.5,310" fill="#e8283c"/>
<line x1="391.5" y1="315.2" x2="401.3" y2="314.5" stroke="#e8283c" stroke-width="1.6" stroke-dasharray="1.8,1.8"/>
<polygon points="411.3,313.8 400.2,319.2 403.8,314.3 399.5,310" fill="#e8283c"/>
<line x1="451.5" y1="315.2" x2="461.3" y2="314.5" stroke="#e8283c" stroke-width="1.6" stroke-dasharray="1.8,1.8"/>
<polygon points="471.3,313.8 460.2,319.2 463.8,314.3 459.5,310" fill="#e8283c"/>
<line x1="596" y1="315.2" x2="605.8" y2="314.5" stroke="#e8283c" stroke-width="1.6" stroke-dasharray="1.8,1.8"/>
<polygon points="615.8,313.8 604.7,319.2 608.3,314.3 604,310" fill="#e8283c"/>
<path d="M74.7,321.5 L74.7,345.7 A5.4,5.4 0 0 0 85.5,345.7 L85.5,321.5 Z" fill="#c9df5a"/>
<rect x="74.7" y="310.2" width="10.8" height="11.3" fill="#f4f8f8"/>
<rect x="75.2" y="320.3" width="9.8" height="1.6" fill="#c8c8c8"/>
<path d="M74.7,310.2 L74.7,345.7 A5.4,5.4 0 0 0 85.5,345.7 L85.5,310.2" fill="none" stroke="#7a7f80" stroke-width="0.8"/>
<ellipse cx="80.1" cy="310.2" rx="5.4" ry="1.1" fill="#eef2f2" stroke="#7a7f80" stroke-width="0.7"/>
<rect x="182.6" y="320.2" width="3.2" height="33.9" rx="1.5" fill="#c9d3d4"/>
<path d="M173.4,321.5 L173.4,346 A5.1,5.1 0 0 0 183.6,346 L183.6,321.5 Z" fill="#c7e7e2"/>
<rect x="173.4" y="310.2" width="10.2" height="11.3" fill="#f4f8f8"/>
<rect x="173.9" y="320.3" width="9.2" height="1.6" fill="#c8c8c8"/>
<path d="M173.4,310.2 L173.4,346 A5.1,5.1 0 0 0 183.6,346 L183.6,310.2" fill="none" stroke="#7a7f80" stroke-width="0.8"/>
<ellipse cx="178.5" cy="310.2" rx="5.1" ry="1.1" fill="#eef2f2" stroke="#7a7f80" stroke-width="0.7"/>
<path d="M275,321.5 L275,345.9 A5.2,5.2 0 0 0 285.4,345.9 L285.4,321.5 Z" fill="#c9df5a"/>
<rect x="275" y="310.2" width="10.4" height="11.3" fill="#f4f8f8"/>
<rect x="275.5" y="320.3" width="9.4" height="1.6" fill="#c8c8c8"/>
<path d="M275,310.2 L275,345.9 A5.2,5.2 0 0 0 285.4,345.9 L285.4,310.2" fill="none" stroke="#7a7f80" stroke-width="0.8"/>
<ellipse cx="280.2" cy="310.2" rx="5.2" ry="1.1" fill="#eef2f2" stroke="#7a7f80" stroke-width="0.7"/>
<rect x="383.4" y="320.2" width="3.2" height="33.9" rx="1.5" fill="#c9d3d4"/>
<path d="M373.8,321.5 L373.8,345.8 A5.3,5.3 0 0 0 384.4,345.8 L384.4,321.5 Z" fill="#c7e7e2"/>
<rect x="373.8" y="310.2" width="10.6" height="11.3" fill="#f4f8f8"/>
<rect x="374.3" y="320.3" width="9.6" height="1.6" fill="#c8c8c8"/>
<path d="M373.8,310.2 L373.8,345.8 A5.3,5.3 0 0 0 384.4,345.8 L384.4,310.2" fill="none" stroke="#7a7f80" stroke-width="0.8"/>
<ellipse cx="379.1" cy="310.2" rx="5.3" ry="1.1" fill="#eef2f2" stroke="#7a7f80" stroke-width="0.7"/>
<path d="M475.8,321.5 L475.8,346.1 A5,5 0 0 0 485.9,346.1 L485.9,321.5 Z" fill="#c9df5a"/>
<rect x="475.8" y="310.2" width="10.1" height="11.3" fill="#f4f8f8"/>
<rect x="476.3" y="320.3" width="9.1" height="1.6" fill="#c8c8c8"/>
<path d="M475.8,310.2 L475.8,346.1 A5,5 0 0 0 485.9,346.1 L485.9,310.2" fill="none" stroke="#7a7f80" stroke-width="0.8"/>
<ellipse cx="480.9" cy="310.2" rx="5" ry="1.1" fill="#eef2f2" stroke="#7a7f80" stroke-width="0.7"/>
<rect x="583.3" y="320.2" width="3.2" height="33.9" rx="1.5" fill="#c9d3d4"/>
<path d="M574.2,321.5 L574.2,346.1 A5,5 0 0 0 584.3,346.1 L584.3,321.5 Z" fill="#c7e7e2"/>
<rect x="574.2" y="310.2" width="10.1" height="11.3" fill="#f4f8f8"/>
<rect x="574.7" y="320.3" width="9.1" height="1.6" fill="#c8c8c8"/>
<path d="M574.2,310.2 L574.2,346.1 A5,5 0 0 0 584.3,346.1 L584.3,310.2" fill="none" stroke="#7a7f80" stroke-width="0.8"/>
<ellipse cx="579.2" cy="310.2" rx="5" ry="1.1" fill="#eef2f2" stroke="#7a7f80" stroke-width="0.7"/>
<text x="99.9" y="317.2" font-family="'Liberation Sans', sans-serif" font-size="10.2" dominant-baseline="central" fill="#222">1<tspan font-size="5.8" dy="-3">st</tspan><tspan dy="3"> immersion</tspan></text>
<rect x="109.9" y="327.8" width="26" height="4" fill="url(#gArrI)"/>
<polygon points="135.7,326.6 141.9,329.8 135.7,333" fill="#e7ae38"/>
<text class="am" x="129.7" y="339.1" font-size="10.6" fill="#e8283c">12h</text>
<text x="301.9" y="317.2" font-family="'Liberation Sans', sans-serif" font-size="10.2" dominant-baseline="central" fill="#222">2<tspan font-size="5.8" dy="-3">nd</tspan><tspan dy="3"> immersion</tspan></text>
<rect x="314.2" y="327.8" width="26" height="4" fill="url(#gArrI)"/>
<polygon points="340,326.6 346.2,329.8 340,333" fill="#e7ae38"/>
<text class="am" x="332.9" y="339.1" font-size="10.6" fill="#e8283c">12h</text>
<text x="504.9" y="321.3" font-family="'Liberation Sans', sans-serif" font-size="10.2" dominant-baseline="central" fill="#222">3<tspan font-size="5.8" dy="-3">rd</tspan><tspan dy="3"> immersion</tspan></text>
<rect x="519" y="327.8" width="26" height="4" fill="url(#gArrI)"/>
<polygon points="544.8,326.6 551,329.8 544.8,333" fill="#e7ae38"/>
<text class="am" x="536.2" y="339.1" font-size="10.6" fill="#e8283c">12h</text>
<text class="am" x="88.3" y="358.9" font-size="10.3" fill="#222">Fresh bacterial</text>
<text class="am" x="88.3" y="369.6" font-size="10.3" fill="#222">suspension</text>
<text class="am" x="281.5" y="358.9" font-size="10.3" fill="#222">Fresh bacterial</text>
<text class="am" x="281.5" y="369.6" font-size="10.3" fill="#222">suspension</text>
<text class="am" x="481" y="358.9" font-size="10.3" fill="#222">Fresh bacterial</text>
<text class="am" x="481" y="369.6" font-size="10.3" fill="#222">suspension</text>
<text class="am" x="182.5" y="358.9" font-size="10.3" fill="#222">Co-culture with hydrogel</text>
<text class="am" x="383.6" y="358.9" font-size="10.3" fill="#222">Co-culture with hydrogel</text>
<text class="am" x="583.5" y="358.9" font-size="10.3" fill="#222">Co-culture with hydrogel</text>
<rect x="177.1" y="363" width="3" height="13" fill="url(#gArrD)"/>
<polygon points="175,375.5 182.2,375.5 178.6,380.5" fill="#eba83a"/>
<polygon points="156,387.9 163.1,381.6 197.5,381.6 190.4,387.9" fill="#e9eff3"/>
<rect x="156" y="387.9" width="34.4" height="11.8" fill="#bedbeb"/>
<rect x="177.4" y="387.9" width="12.4" height="11.8" fill="#5b89ae"/>
<polygon points="177.4,387.9 183.7,382.6 196.1,382.6 189.8,387.9" fill="#7fa6c4"/>
<polygon points="190.4,387.9 197.5,381.6 197.5,393.4 190.4,399.7" fill="#dde5ea"/>
<polygon points="156,399.4 190.4,399.4 197.5,391.9 197.5,393.9 190.4,401.4 156,401.4" fill="#2c3844"/>
<rect x="158.5" y="391.9" width="6" height="1.8" fill="#e6eef3"/>
<text class="am" x="191.5" y="410.3" font-size="10.4" fill="#222">OD595 measurement</text>
<circle cx="211" cy="366.5" r="2.4" fill="#eef07a"/>
<circle cx="212.5" cy="368" r="1.6" fill="#d8d848"/>
<line x1="204" y1="382" x2="208.5" y2="374.5" stroke="#86b840" stroke-width="2" stroke-linecap="round"/>
<line x1="212.5" y1="373.5" x2="213" y2="382.5" stroke="#86b840" stroke-width="2" stroke-linecap="round"/>
<line x1="203" y1="384" x2="213" y2="383.5" stroke="#6fa838" stroke-width="2" stroke-linecap="round"/>
<circle cx="220" cy="379.5" r="2" fill="#dcd060"/>
<circle cx="223" cy="380" r="2" fill="#c8c048"/>
<circle cx="221.5" cy="382.5" r="1.8" fill="#e0d870"/>
<rect x="377.8" y="363" width="3" height="13" fill="url(#gArrD)"/>
<polygon points="375.7,375.5 382.9,375.5 379.3,380.5" fill="#eba83a"/>
<polygon points="353.7,388.5 360.8,382 395.4,382 388.3,388.5" fill="#e9eff3"/>
<rect x="353.7" y="388.5" width="34.6" height="12.3" fill="#bedbeb"/>
<rect x="375.2" y="388.5" width="12.5" height="12.3" fill="#5b89ae"/>
<polygon points="375.2,388.5 381.5,383 394,383 387.6,388.5" fill="#7fa6c4"/>
<polygon points="388.3,388.5 395.4,382 395.4,394.3 388.3,400.8" fill="#dde5ea"/>
<polygon points="353.7,400.5 388.3,400.5 395.4,392.8 395.4,394.8 388.3,402.5 353.7,402.5" fill="#2c3844"/>
<rect x="356.2" y="392.5" width="6" height="1.8" fill="#e6eef3"/>
<text class="am" x="389.2" y="410.3" font-size="10.4" fill="#222">OD595 measurement</text>
<circle cx="408.7" cy="366.5" r="2.4" fill="#eef07a"/>
<circle cx="410.2" cy="368" r="1.6" fill="#d8d848"/>
<line x1="401.7" y1="382" x2="406.2" y2="374.5" stroke="#86b840" stroke-width="2" stroke-linecap="round"/>
<line x1="410.2" y1="373.5" x2="410.7" y2="382.5" stroke="#86b840" stroke-width="2" stroke-linecap="round"/>
<line x1="400.7" y1="384" x2="410.7" y2="383.5" stroke="#6fa838" stroke-width="2" stroke-linecap="round"/>
<circle cx="417.7" cy="379.5" r="2" fill="#dcd060"/>
<circle cx="420.7" cy="380" r="2" fill="#c8c048"/>
<circle cx="419.2" cy="382.5" r="1.8" fill="#e0d870"/>
<rect x="577.7" y="363" width="3" height="13" fill="url(#gArrD)"/>
<polygon points="575.6,375.5 582.8,375.5 579.2,380.5" fill="#eba83a"/>
<polygon points="557.4,388 564.6,381.6 600,381.6 592.8,388" fill="#e9eff3"/>
<rect x="557.4" y="388" width="35.4" height="12.1" fill="#bedbeb"/>
<rect x="579.3" y="388" width="12.7" height="12.1" fill="#5b89ae"/>
<polygon points="579.3,388 585.8,382.6 598.6,382.6 592.1,388" fill="#7fa6c4"/>
<polygon points="592.8,388 600,381.6 600,393.7 592.8,400.1" fill="#dde5ea"/>
<polygon points="557.4,399.8 592.8,399.8 600,392.2 600,394.2 592.8,401.8 557.4,401.8" fill="#2c3844"/>
<rect x="559.9" y="392" width="6" height="1.8" fill="#e6eef3"/>
<text class="am" x="592.9" y="410.3" font-size="10.4" fill="#222">OD595 measurement</text>
<circle cx="612.4" cy="366.5" r="2.4" fill="#eef07a"/>
<circle cx="613.9" cy="368" r="1.6" fill="#d8d848"/>
<line x1="605.4" y1="382" x2="609.9" y2="374.5" stroke="#86b840" stroke-width="2" stroke-linecap="round"/>
<line x1="613.9" y1="373.5" x2="614.4" y2="382.5" stroke="#86b840" stroke-width="2" stroke-linecap="round"/>
<line x1="604.4" y1="384" x2="614.4" y2="383.5" stroke="#6fa838" stroke-width="2" stroke-linecap="round"/>
<circle cx="621.4" cy="379.5" r="2" fill="#dcd060"/>
<circle cx="624.4" cy="380" r="2" fill="#c8c048"/>
<circle cx="622.9" cy="382.5" r="1.8" fill="#e0d870"/>
<text class="am" x="632.3" y="339.8" font-size="10.2" fill="#222">Removel</text>
<rect x="18.5" y="374.7" width="61.5" height="43" rx="20" fill="none" stroke="#e9a13e" stroke-width="0.9"/>
<circle cx="31.8" cy="381.2" r="3.1" fill="#eef07a"/>
<circle cx="35" cy="382.8" r="2.2" fill="#d6d850"/>
<circle cx="33" cy="384.2" r="1.8" fill="#f4f4c0"/>
<text class="a" x="43.7" y="382.4" font-size="7.6" fill="#222">MRSA</text>
<circle cx="31.2" cy="393.4" r="2.4" fill="#c8c048"/>
<circle cx="35" cy="393.4" r="2.4" fill="#d8d060"/>
<circle cx="33.1" cy="396.6" r="2.2" fill="#b8b048"/>
<text class="a" x="43.7" y="395.2" font-size="7.6" fill="#222">S.aureus</text>
<line x1="29.5" y1="409.5" x2="33" y2="403" stroke="#86b840" stroke-width="1.8" stroke-linecap="round"/>
<line x1="36" y1="402.5" x2="36.3" y2="410" stroke="#86b840" stroke-width="1.8" stroke-linecap="round"/>
<line x1="28.5" y1="411" x2="36.5" y2="410.5" stroke="#6fa838" stroke-width="1.8" stroke-linecap="round"/>
<text class="a" x="43.7" y="407.6" font-size="7.6" fill="#222">E.coli</text>
<text x="0.9" y="274.9" font-family="'Liberation Sans', sans-serif" font-size="14" font-weight="bold" style="dominant-baseline:auto">I</text>
<text x="0.6" y="432.9" font-family="'Liberation Sans', sans-serif" font-size="14" font-weight="bold" style="dominant-baseline:auto">J</text>
<text class="abm" x="11.6" y="485.1" font-size="14.2" transform="rotate(-90 11.6 485.1)">MRSA</text>
<text class="abm" x="59.3" y="438.8" font-size="12" fill="#111">Control</text>
<circle cx="59.3" cy="485.2" r="40.2" fill="#f4200f"/>
<circle cx="59.3" cy="485.2" r="37.4" fill="url(#gJ)"/>
<circle cx="59.3" cy="485.2" r="36.6" fill="none" stroke="#a8a060" stroke-width="0.9"/>
<path d="M22.8,488.2 A36.5,36.5 0 0 0 79.3,515.7" fill="none" stroke="#c8bc70" stroke-width="0.9" opacity="0.7"/>
<path d="M42.4,512.8h0M62.7,485.7h0M91.1,489.8h0M65.9,502.8h0M36.2,483.3h0M36.8,484.9h0M66.9,455.2h0M89.6,479.8h0M61.1,491.9h0M50.2,470.6h0M69.8,489.3h0M44.6,499.9h0M35.9,502.5h0M51.8,512.2h0M54.5,483.7h0M60.9,514.9h0M74.4,483.0h0M66.3,459.0h0M67.7,482.2h0M61.2,459.7h0M55.4,496.6h0M56.3,469.0h0M64.9,479.7h0M78.2,487.3h0M75.2,467.4h0M78.6,493.7h0M49.7,469.7h0M71.9,489.6h0M65.5,494.3h0M76.5,464.1h0M43.7,480.1h0M67.7,458.2h0M62.1,456.1h0M31.2,497.2h0M62.7,494.1h0M50.7,483.7h0M39.6,474.6h0M75.9,508.2h0M80.3,493.6h0M77.6,465.7h0M54.2,468.7h0M80.4,476.3h0M47.4,488.5h0M76.0,513.8h0M54.4,476.3h0M63.7,484.2h0M71.9,471.5h0M39.8,496.2h0M30.9,471.9h0M74.6,498.4h0M44.5,460.9h0M49.6,500.6h0M50.2,459.2h0M73.5,489.9h0M87.4,481.0h0M79.9,471.9h0M46.9,478.4h0M42.2,475.8h0M50.2,475.9h0M52.2,477.6h0M38.6,489.5h0M79.5,488.0h0M82.2,489.5h0M37.3,502.8h0M85.2,470.3h0M26.8,486.3h0M62.3,489.8h0M91.0,495.5h0M62.5,504.8h0M75.4,512.3h0M31.1,494.3h0M35.1,501.9h0M69.4,467.9h0M40.3,503.2h0M60.8,503.2h0M52.1,474.2h0M91.1,496.9h0M58.9,487.7h0M74.3,499.4h0M87.5,479.1h0M81.5,496.5h0M83.3,506.0h0M90.4,494.7h0M60.9,499.5h0M79.9,479.9h0M53.9,461.1h0M50.8,462.6h0M39.2,480.1h0M29.3,472.2h0M33.1,495.3h0M78.1,463.4h0M29.5,482.4h0M65.0,513.0h0M37.8,466.0h0M41.3,500.0h0M65.7,466.4h0M37.9,470.3h0M37.0,502.7h0M46.5,488.5h0M80.9,483.8h0M43.0,511.5h0M87.5,474.5h0M62.5,516.3h0M58.1,466.2h0M79.8,477.4h0M61.2,486.3h0M70.0,467.4h0M26.0,483.3h0M50.6,505.4h0M73.8,492.4h0M36.0,461.9h0M47.2,468.8h0M84.4,486.3h0M43.4,487.6h0M35.5,503.6h0M82.8,507.1h0M30.9,469.6h0M74.0,457.8h0M57.9,483.1h0M90.3,491.1h0M83.6,471.8h0M79.0,479.6h0M81.5,465.4h0M62.2,486.9h0M36.0,507.8h0M46.5,472.3h0M30.5,472.0h0M57.1,499.8h0M49.8,497.9h0M32.5,478.0h0M56.7,516.9h0M81.7,495.7h0M73.6,467.3h0M63.7,482.3h0M79.7,465.3h0M67.2,470.9h0M50.9,487.9h0M45.6,474.1h0M52.0,496.5h0M42.7,464.8h0M75.0,473.6h0M89.6,489.5h0M74.5,473.8h0M71.4,499.4h0M37.5,478.6h0M82.2,491.5h0M31.4,466.6h0M53.0,456.1h0M87.9,480.2h0M60.1,495.2h0M77.4,507.0h0M51.5,473.7h0M53.3,452.2h0M52.5,498.8h0M70.2,492.6h0M48.6,495.4h0M32.5,476.9h0M59.9,504.8h0M81.4,492.8h0M36.1,503.3h0M86.7,488.5h0M49.3,485.2h0M34.9,499.7h0M92.4,486.3h0M73.9,508.0h0M67.9,464.7h0M31.0,467.8h0M64.5,498.6h0M47.7,514.4h0M49.9,482.7h0M62.3,489.3h0M63.4,469.2h0M80.9,492.1h0M33.6,507.3h0M44.9,512.2h0M41.7,490.2h0M81.8,463.8h0M62.6,456.4h0M70.1,472.1h0M70.9,501.4h0M51.3,491.4h0M38.9,483.0h0M35.0,477.5h0M64.0,463.0h0M60.6,469.1h0M63.9,473.8h0M68.9,453.8h0M70.9,461.0h0M90.5,492.0h0M57.3,479.2h0M67.7,498.1h0M76.8,502.3h0M58.3,518.8h0M82.3,509.3h0M53.1,480.7h0M63.8,512.8h0M61.1,486.9h0M54.7,512.7h0M47.1,454.9h0M74.6,512.4h0M75.1,491.8h0M76.4,471.9h0M65.7,455.9h0M33.8,481.6h0M59.5,478.2h0M28.8,498.5h0M61.1,467.5h0M46.1,478.1h0M70.6,510.1h0M54.0,506.0h0M40.4,502.0h0M63.8,512.6h0M32.0,505.1h0M33.7,487.8h0M41.9,471.6h0M47.4,455.5h0M52.3,475.4h0M65.1,454.3h0M46.2,485.1h0M57.4,465.2h0M45.4,513.9h0M82.3,475.3h0M57.4,462.9h0M39.0,494.2h0M38.3,511.1h0M74.7,472.5h0M73.8,460.4h0M72.6,515.0h0M55.6,456.6h0M40.5,472.1h0M73.6,464.6h0M37.6,467.2h0M70.5,505.0h0M50.6,496.2h0M85.4,491.3h0M40.9,471.7h0M88.3,496.6h0M44.1,494.7h0M55.2,487.1h0M61.4,454.3h0M66.1,470.5h0M42.4,505.8h0M31.2,470.6h0M76.7,467.9h0M44.3,488.5h0M56.7,502.2h0M51.5,514.4h0M59.3,463.4h0M63.1,495.1h0M49.8,496.0h0M78.5,486.3h0M59.7,508.7h0M71.8,486.6h0M78.3,462.4h0M66.6,467.2h0M55.2,503.8h0M78.8,505.0h0M41.3,484.5h0M40.3,490.6h0M59.2,453.6h0M65.9,499.8h0M64.2,510.6h0M37.5,461.5h0M26.5,484.9h0M54.9,481.2h0M43.2,505.5h0M64.0,488.1h0M79.1,467.4h0M35.2,472.3h0M28.2,472.6h0" stroke="#d8d088" stroke-width="1.2" stroke-linecap="round" fill="none" filter="url(#bl)"/>
<text class="abm" x="141.7" y="438.8" font-size="12" fill="#111">HAP</text>
<circle cx="141.7" cy="485.2" r="40.2" fill="#f4200f"/>
<circle cx="141.7" cy="485.2" r="37.4" fill="url(#gJ)"/>
<circle cx="141.7" cy="485.2" r="36.6" fill="none" stroke="#a8a060" stroke-width="0.9"/>
<path d="M105.2,488.2 A36.5,36.5 0 0 0 161.7,515.7" fill="none" stroke="#c8bc70" stroke-width="0.9" opacity="0.7"/>
<path d="M149.9,486.9h0M125.7,491.2h0M119.4,468.5h0M118.6,498.2h0M164.2,504.7h0M111.9,479.1h0M132.5,465.9h0M141.0,503.0h0M138.7,501.9h0M134.4,471.5h0M136.6,456.4h0M159.6,501.1h0M123.3,468.4h0M145.2,467.6h0M139.1,514.6h0M132.5,474.1h0M174.4,492.7h0M110.4,478.6h0M151.9,455.2h0M131.0,498.4h0M166.5,491.4h0M168.0,482.7h0M134.4,508.5h0M133.6,504.3h0M122.3,474.8h0M120.2,488.6h0M118.8,465.0h0M122.3,483.0h0M128.7,481.6h0M166.4,465.1h0M133.7,456.1h0M154.7,475.9h0M120.1,469.0h0M134.4,514.0h0M156.3,469.5h0M132.3,461.6h0M171.4,475.7h0M159.8,500.4h0M129.6,477.3h0M129.8,503.6h0M143.0,454.9h0M134.5,467.4h0M148.2,453.4h0M128.9,480.0h0M144.7,460.4h0M155.7,468.9h0M157.0,496.5h0M117.7,465.1h0M126.8,499.7h0M135.3,477.5h0M166.6,466.6h0M127.6,474.7h0M109.4,494.1h0M146.2,506.2h0M153.3,513.7h0M122.4,498.1h0M153.0,516.1h0M166.7,467.2h0M150.7,457.3h0M136.8,477.9h0M111.8,477.3h0M130.0,485.0h0M126.7,462.0h0M135.1,483.5h0M119.0,496.4h0M124.0,457.5h0M130.9,479.9h0M118.0,490.8h0M155.4,488.8h0M134.3,476.0h0M112.0,478.7h0M111.4,484.9h0M147.5,483.1h0M129.8,468.4h0M168.3,489.7h0M125.5,496.6h0M120.3,483.1h0M149.5,516.1h0M132.4,490.4h0M150.4,493.4h0M135.6,479.5h0M126.5,507.6h0M167.5,477.2h0M116.9,485.7h0M128.7,475.7h0M120.8,466.7h0M154.0,467.1h0M134.5,467.5h0M141.3,495.4h0M145.0,493.7h0M145.8,507.7h0M173.6,473.9h0M131.3,511.5h0M129.0,499.9h0M155.0,497.9h0M118.5,493.5h0M141.1,489.5h0M132.8,470.6h0M158.6,487.5h0M123.8,468.2h0M129.8,463.3h0M142.6,459.8h0M114.7,499.1h0M115.4,481.9h0M160.2,483.9h0M118.8,510.1h0M125.0,485.7h0M161.9,477.9h0M156.4,468.3h0M156.4,473.4h0M130.4,502.8h0M165.0,507.5h0M146.3,479.8h0M155.8,493.6h0M164.2,505.7h0M116.2,476.8h0M153.2,466.9h0M147.5,515.2h0M154.5,479.7h0M150.6,478.2h0M111.0,499.7h0M127.2,500.9h0M144.6,484.0h0M133.1,472.2h0M162.1,508.2h0M127.0,477.8h0M149.7,503.2h0M174.4,477.7h0M154.9,488.3h0M162.1,461.2h0M171.2,468.3h0M140.9,459.4h0M146.2,461.0h0M150.2,469.8h0M123.2,484.0h0M132.6,468.9h0M168.4,472.2h0M140.6,519.0h0M121.4,510.2h0M140.6,479.4h0M162.6,478.1h0M111.6,488.6h0M152.4,493.6h0M126.5,515.0h0M137.8,507.9h0M157.0,463.2h0M132.1,502.4h0M128.8,486.2h0M143.6,506.3h0M161.6,501.2h0M134.9,505.8h0M164.0,503.4h0M172.3,478.6h0M155.7,468.2h0M146.9,466.7h0M134.1,476.3h0M152.4,506.3h0M132.5,494.6h0M131.8,470.2h0M169.3,473.1h0M114.1,474.0h0M158.1,465.6h0M158.2,488.3h0M154.0,463.3h0M131.5,480.5h0M108.3,485.4h0M135.1,473.1h0M144.2,516.0h0M121.6,511.1h0M129.5,502.5h0M136.9,516.7h0M122.6,479.0h0M155.7,463.3h0M126.3,497.3h0M172.1,473.1h0M120.2,475.5h0M150.9,476.9h0M151.5,465.6h0M149.6,511.6h0M165.9,493.9h0M142.0,489.8h0M154.6,482.0h0M153.0,479.7h0M133.9,466.8h0M148.5,490.1h0M142.7,453.4h0M150.4,481.6h0M148.0,491.6h0M139.6,518.7h0M157.9,472.5h0M135.0,510.2h0M141.1,467.1h0M164.8,495.3h0M161.9,486.0h0M166.9,499.6h0M124.7,506.1h0M138.6,487.7h0M166.6,464.5h0M126.7,495.0h0M112.7,488.9h0M161.2,484.6h0M124.1,505.6h0M165.8,503.6h0M145.1,512.8h0M161.9,461.5h0M132.6,458.0h0M110.2,474.7h0M166.5,507.9h0M115.7,463.6h0M134.1,508.9h0M149.7,512.5h0M121.8,494.0h0M167.3,500.7h0M121.1,496.7h0M137.0,452.2h0M130.8,472.6h0M150.5,470.1h0M148.7,498.5h0M120.0,459.9h0M154.9,482.9h0M171.7,492.7h0M132.0,464.5h0M157.8,475.7h0M128.8,479.0h0M117.6,494.1h0M136.6,507.0h0M135.5,482.3h0M142.1,515.2h0M131.3,499.0h0M123.7,490.6h0M127.1,510.5h0M127.2,509.3h0M153.7,482.1h0M171.2,477.6h0M158.2,492.1h0M138.2,455.6h0M136.2,470.3h0M137.7,516.1h0M127.6,498.5h0M153.4,467.8h0M135.7,460.2h0M168.6,468.3h0M136.3,474.4h0M163.5,509.0h0M147.9,488.3h0M113.7,475.9h0M133.2,500.4h0M153.2,474.6h0M109.3,494.2h0M139.6,475.8h0M139.3,472.7h0M153.3,492.4h0M164.0,495.4h0M112.2,482.6h0M135.0,495.8h0M121.9,476.4h0M117.4,478.0h0M158.1,456.9h0M119.0,495.3h0M150.1,501.7h0M124.9,506.4h0M157.4,504.0h0M115.8,483.1h0M109.3,475.1h0M144.1,487.5h0M115.3,504.9h0M128.2,485.7h0M116.2,489.8h0M142.5,471.2h0M160.6,468.0h0M135.8,454.9h0M122.5,481.9h0M145.7,482.4h0M165.5,461.7h0M173.7,486.9h0M135.3,492.8h0M135.8,451.9h0M118.2,506.9h0M157.6,499.7h0M118.3,487.3h0M151.4,508.8h0M110.8,479.5h0M113.0,468.9h0M130.1,484.5h0M152.2,511.5h0M172.1,489.8h0M141.8,512.7h0M134.5,471.6h0M158.0,468.8h0M132.7,480.4h0" stroke="#d8d088" stroke-width="1.2" stroke-linecap="round" fill="none" filter="url(#bl)"/>
<text class="abm" x="224.3" y="438.8" font-size="12" fill="#111">HAPP1</text>
<circle cx="224.3" cy="485.2" r="40.2" fill="#f4200f"/>
<circle cx="224.3" cy="485.2" r="37.4" fill="url(#gJ)"/>
<circle cx="224.3" cy="485.2" r="36.6" fill="none" stroke="#a8a060" stroke-width="0.9"/>
<path d="M187.8,488.2 A36.5,36.5 0 0 0 244.3,515.7" fill="none" stroke="#c8bc70" stroke-width="0.9" opacity="0.7"/>
<path d="M222.7,475.6h0M219.6,481.9h0M194.5,487.1h0M227.5,478.4h0M205.4,457.9h0M215.6,472.6h0M223.2,466.9h0M241.3,484.3h0M190.9,478.8h0M230.6,516.5h0M215.2,491.9h0M215.4,471.7h0M231.7,491.3h0M211.7,485.0h0M225.4,502.5h0M207.4,469.6h0M244.4,480.1h0M248.8,478.6h0M209.7,497.4h0M246.8,473.5h0M211.9,506.9h0M243.9,494.9h0M193.6,493.7h0M227.8,514.3h0M233.7,452.7h0M240.4,479.6h0M243.4,481.2h0M241.4,476.9h0M220.7,480.9h0M198.3,473.0h0M240.3,456.1h0M235.6,488.5h0M211.4,516.1h0M228.4,513.9h0M204.7,479.4h0M226.8,508.3h0M222.4,453.3h0M219.7,476.9h0M236.2,514.3h0M223.9,498.1h0M216.7,504.1h0M197.5,501.7h0M201.6,491.0h0M204.0,474.7h0M201.4,475.0h0M230.5,486.6h0M216.7,490.3h0M247.6,475.6h0M230.0,483.9h0M237.7,467.1h0M208.1,500.9h0M229.4,468.7h0M216.0,499.9h0M219.7,493.2h0M228.3,517.6h0M252.2,482.2h0M223.4,466.9h0M241.5,458.2h0M211.1,508.8h0M228.9,488.7h0M212.9,461.5h0M243.6,466.1h0M203.8,487.6h0M231.8,459.4h0M242.3,490.8h0M237.2,476.0h0M210.1,509.5h0M239.7,469.2h0M226.8,468.4h0M210.2,468.4h0M199.2,484.2h0M208.8,470.6h0M209.2,485.8h0M231.7,488.2h0M240.2,487.5h0M235.2,513.7h0M243.0,468.9h0M215.0,504.7h0M206.2,482.0h0M215.5,500.8h0M254.5,485.6h0M228.8,474.9h0M235.0,456.1h0M228.7,459.3h0M235.6,455.8h0M192.3,490.0h0M248.5,504.6h0M225.7,456.4h0M226.1,463.8h0M226.1,475.3h0M224.2,464.6h0M238.2,479.6h0M223.3,456.6h0M223.4,489.1h0M256.4,489.4h0M199.5,471.6h0M213.1,498.9h0M191.7,484.5h0M230.5,497.8h0M232.0,492.9h0M225.6,516.4h0M246.7,498.0h0M225.6,490.6h0M241.8,506.1h0M247.0,478.9h0M213.1,474.8h0M208.1,491.0h0M226.1,474.0h0M236.2,482.1h0M206.2,511.2h0M202.2,461.4h0M207.5,483.8h0M243.6,473.8h0M206.5,495.7h0M208.0,486.7h0M207.6,510.8h0M202.8,467.0h0M210.8,473.6h0M239.7,497.0h0M244.0,487.9h0M195.6,503.1h0M206.9,466.0h0M218.5,518.5h0M215.5,475.4h0M216.6,460.4h0M244.0,504.4h0M213.3,504.9h0M216.1,470.7h0M230.6,501.6h0M222.7,506.8h0M191.2,485.1h0M216.2,455.6h0M204.3,510.9h0M213.6,514.5h0M199.9,499.8h0M199.5,497.3h0M250.3,500.6h0M254.8,482.1h0M215.6,459.4h0M208.9,515.0h0M213.9,454.5h0M211.2,463.6h0M198.6,487.0h0M227.0,489.8h0M242.1,487.0h0M211.3,502.9h0M253.1,485.5h0M201.2,473.7h0M229.0,471.2h0M221.6,492.2h0M247.8,482.8h0M242.2,478.4h0M202.1,501.3h0M205.2,505.5h0M224.2,495.6h0M221.9,463.6h0M232.4,476.3h0M222.5,493.6h0M211.9,475.4h0M250.4,490.7h0M218.7,487.9h0M221.6,473.8h0M252.4,467.1h0M224.9,518.1h0M209.9,462.8h0M239.5,467.2h0M230.0,461.9h0M254.7,470.5h0M196.9,497.9h0M213.9,489.2h0M224.1,513.9h0M225.3,477.0h0M190.4,485.0h0M208.6,490.2h0M233.3,482.6h0M196.4,485.0h0M223.1,494.8h0M220.4,457.0h0M244.7,467.1h0M246.7,505.5h0M207.6,512.6h0M224.6,480.2h0M228.1,515.5h0M223.6,484.0h0M210.1,508.4h0M224.5,474.5h0M203.7,465.8h0M247.0,505.8h0M236.9,505.4h0M238.7,506.3h0M244.8,463.2h0M245.7,471.8h0M206.9,513.7h0M191.9,486.0h0M213.6,505.0h0M231.8,513.2h0M253.7,495.0h0M194.7,496.6h0M249.6,472.3h0M202.9,498.4h0" stroke="#d8d088" stroke-width="1.2" stroke-linecap="round" fill="none" filter="url(#bl)"/>
<text class="abm" x="306.7" y="438.8" font-size="12" fill="#111">HAPP2</text>
<circle cx="306.7" cy="485.2" r="40.2" fill="#f4200f"/>
<circle cx="306.7" cy="485.2" r="37.4" fill="url(#gJ)"/>
<circle cx="306.7" cy="485.2" r="36.6" fill="none" stroke="#a8a060" stroke-width="0.9"/>
<path d="M270.2,488.2 A36.5,36.5 0 0 0 326.7,515.7" fill="none" stroke="#c8bc70" stroke-width="0.9" opacity="0.7"/>
<path d="M315.1,459.7h0M322.1,455.2h0M331.7,503.5h0M326.1,510.6h0M311.4,515.4h0M316.2,484.7h0M298.8,475.2h0M326.8,466.8h0M317.1,503.9h0M319.9,486.3h0M294.2,469.8h0M285.4,495.3h0M319.4,515.3h0M295.2,514.2h0M334.7,471.0h0M337.4,493.3h0M295.4,470.2h0M308.2,484.4h0M309.1,483.4h0M323.3,468.2h0M286.2,490.7h0M289.1,473.5h0M296.9,487.0h0M337.2,494.7h0M300.9,478.9h0M288.7,483.4h0M302.1,497.8h0M324.5,488.9h0M316.3,515.0h0M334.1,468.3h0M309.5,519.0h0M308.6,464.1h0M282.9,488.7h0M291.2,500.1h0M322.1,472.9h0M324.9,495.2h0M320.7,482.3h0M302.1,458.4h0M305.0,516.1h0M277.5,469.5h0M319.9,481.0h0M281.4,480.1h0M311.7,501.8h0M300.1,495.4h0M319.0,493.1h0M304.9,452.3h0M277.7,477.8h0M304.6,458.4h0M305.8,491.2h0M280.9,471.9h0M287.7,510.1h0M307.3,479.1h0M299.8,511.5h0M290.2,505.0h0M320.8,481.7h0M297.6,480.9h0M303.5,472.7h0M315.1,479.2h0M293.4,503.7h0M303.6,483.4h0M332.5,482.1h0M298.3,512.3h0M300.0,496.8h0M323.1,471.3h0M317.3,496.7h0M302.3,495.6h0M288.1,503.6h0M309.4,517.8h0M295.9,499.6h0M273.8,479.5h0M324.8,468.8h0M314.4,466.2h0M276.8,490.8h0M328.5,508.1h0M299.3,491.3h0M321.1,503.0h0M323.5,490.6h0M289.8,499.2h0M310.9,488.2h0M325.8,473.3h0M291.4,489.8h0M308.6,484.9h0M284.1,493.7h0M333.5,496.3h0M292.4,506.0h0M301.3,461.1h0M313.9,482.5h0M308.7,518.6h0M311.4,516.0h0M296.7,502.8h0M277.8,471.6h0M319.8,498.1h0M329.0,477.1h0M291.3,475.6h0M309.2,452.8h0M298.2,495.9h0M282.8,472.4h0M289.7,463.3h0M326.7,501.5h0M290.7,484.5h0M328.4,509.6h0M287.1,499.0h0M320.3,474.1h0M332.4,466.1h0M304.9,472.5h0M302.7,506.4h0M311.5,492.6h0M287.8,493.3h0M295.9,481.1h0M302.0,507.5h0M334.9,497.2h0M284.4,475.4h0M320.7,465.9h0M288.1,476.0h0M288.3,500.1h0M275.9,498.5h0M309.6,490.9h0M313.5,509.8h0M284.7,469.7h0M318.1,498.5h0M294.6,483.0h0M292.4,489.4h0M296.9,475.7h0M289.6,471.1h0M293.8,491.5h0M291.0,458.9h0M330.2,483.1h0M307.5,472.4h0M333.0,502.5h0M315.0,496.0h0" stroke="#d8d088" stroke-width="1.2" stroke-linecap="round" fill="none" filter="url(#bl)"/>
<text class="abm" x="388.7" y="438.8" font-size="12" fill="#111">HAPP3</text>
<circle cx="388.7" cy="485.2" r="40.2" fill="#f4200f"/>
<circle cx="388.7" cy="485.2" r="37.4" fill="url(#gJ3)"/>
<circle cx="388.7" cy="485.2" r="36.6" fill="none" stroke="#a8a060" stroke-width="0.9"/>
<path d="M352.2,488.2 A36.5,36.5 0 0 0 408.7,515.7" fill="none" stroke="#c8bc70" stroke-width="0.9" opacity="0.7"/>
<path d="M418.7,465.2 A36.6,36.6 0 0 1 413.7,511.7" fill="none" stroke="#f0eee0" stroke-width="1.6"/>
<path d="M401.8,485.2h0M382.8,477.7h0M389.0,483.1h0M390.7,487.4h0M408.3,511.9h0M408.9,493.4h0M374.1,464.2h0M413.8,508.1h0M401.2,498.2h0M405.3,482.1h0M381.7,488.8h0M359.8,468.0h0M420.7,488.2h0M389.7,472.3h0M413.3,486.3h0M364.8,477.7h0M398.2,458.7h0M392.9,515.1h0M384.3,503.0h0M394.9,490.8h0M366.5,482.8h0M415.9,497.0h0M369.4,481.6h0M391.7,474.1h0M394.0,494.1h0M399.4,465.8h0M377.4,516.3h0M392.7,458.1h0" stroke="#d8d088" stroke-width="1.2" stroke-linecap="round" fill="none" filter="url(#bl)"/>
<text class="abm" x="470.1" y="438.8" font-size="12" fill="#111">HAPP4</text>
<circle cx="470.1" cy="485.2" r="40.2" fill="#f4200f"/>
<circle cx="470.1" cy="485.2" r="37.4" fill="url(#gJ4)"/>
<circle cx="470.1" cy="485.2" r="36.6" fill="none" stroke="#a8a060" stroke-width="0.9"/>
<path d="M433.6,488.2 A36.5,36.5 0 0 0 490.1,515.7" fill="none" stroke="#c8bc70" stroke-width="0.9" opacity="0.7"/>
<path d="M479.4,469.0h0M491.5,500.4h0M445.7,464.9h0M468.3,516.3h0M457.9,468.8h0M492.4,463.7h0M479.3,493.0h0" stroke="#d8d088" stroke-width="1.2" stroke-linecap="round" fill="none" filter="url(#bl)"/>
<text x="0.7" y="537.7" font-family="'Liberation Sans', sans-serif" font-size="14" font-weight="bold" style="dominant-baseline:auto">K</text>
<text class="abm" x="11.6" y="591" font-size="14.2" transform="rotate(-90 11.6 591)">MRSA</text>
<text class="abm" x="59" y="542.8" font-size="12" fill="#111">Control</text>
<clipPath id="ck0"><circle cx="59" cy="590.8" r="38.5"/></clipPath><g clip-path="url(#ck0)"><g filter="url(#bl)">
<rect x="19" y="550.8" width="80" height="80" fill="url(#gSEM)"/>
<rect x="19" y="574.3" width="80" height="0.9" fill="#444"/>
<rect x="19" y="575.2" width="80" height="1.2" fill="#666"/>
<rect x="19" y="601.2" width="80" height="0.9" fill="#2a2a2a"/>
<rect x="19" y="602.1" width="80" height="1.2" fill="#666"/>
<rect x="19" y="618.3" width="80" height="0.9" fill="#444"/>
<rect x="19" y="619.2" width="80" height="1.2" fill="#666"/>
<ellipse cx="31.9" cy="580.9" rx="9.2" ry="9.2" fill="#2a2a2a"/>
<ellipse cx="48.3" cy="587.4" rx="9.4" ry="8.9" fill="#2a2a2a"/>
<ellipse cx="63.7" cy="571.1" rx="10.4" ry="12.4" fill="#2a2a2a"/>
<ellipse cx="83.4" cy="581.4" rx="10.4" ry="9.7" fill="#2a2a2a"/>
<ellipse cx="72.9" cy="594.3" rx="9.4" ry="9.4" fill="#2a2a2a"/>
<ellipse cx="75.5" cy="611.8" rx="10.4" ry="9.7" fill="#2a2a2a"/>
<ellipse cx="30.8" cy="579.5" rx="8.3" ry="8.3" fill="url(#gSph)" stroke="#c8c8c8" stroke-width="0.8"/>
<ellipse cx="47.2" cy="586" rx="8.5" ry="8" fill="url(#gSph)" stroke="#c8c8c8" stroke-width="0.8"/>
<ellipse cx="62.6" cy="569.7" rx="9.5" ry="11.5" fill="url(#gSph)" stroke="#c8c8c8" stroke-width="0.8"/>
<ellipse cx="82.3" cy="580" rx="9.5" ry="8.8" fill="url(#gSph)" stroke="#c8c8c8" stroke-width="0.8"/>
<ellipse cx="71.8" cy="592.9" rx="8.5" ry="8.5" fill="url(#gSph)" stroke="#c8c8c8" stroke-width="0.8"/>
<ellipse cx="74.4" cy="610.4" rx="9.5" ry="8.8" fill="url(#gSph)" stroke="#c8c8c8" stroke-width="0.8"/>
</g></g>
<circle cx="59" cy="590.8" r="39.1" fill="none" stroke="#6a2ca2" stroke-width="2.8"/>
<text class="abm" x="142" y="542.8" font-size="12" fill="#111">HAP</text>
<clipPath id="ck1"><circle cx="142" cy="590.8" r="38.5"/></clipPath><g clip-path="url(#ck1)"><g filter="url(#bl)">
<rect x="102" y="550.8" width="80" height="80" fill="url(#gSEM)"/>
<rect x="102" y="566.8" width="80" height="0.7" fill="#3a3a3a"/>
<rect x="102" y="610.8" width="80" height="0.7" fill="#3a3a3a"/>
<ellipse cx="127.5" cy="567" rx="8.3" ry="8.3" fill="#2a2a2a"/>
<ellipse cx="158.4" cy="574.2" rx="9" ry="9" fill="#2a2a2a"/>
<ellipse cx="120.7" cy="577.1" rx="6.9" ry="6.9" fill="#2a2a2a"/>
<ellipse cx="133.2" cy="582.5" rx="8.1" ry="8.1" fill="#2a2a2a"/>
<ellipse cx="144.6" cy="585.5" rx="7.5" ry="7.5" fill="#2a2a2a"/>
<ellipse cx="166.2" cy="586.7" rx="9.3" ry="9.3" fill="#2a2a2a"/>
<ellipse cx="112.3" cy="586.7" rx="7.9" ry="7.9" fill="#2a2a2a"/>
<ellipse cx="127.8" cy="596.3" rx="7.5" ry="7.5" fill="#2a2a2a"/>
<ellipse cx="115.9" cy="598.7" rx="7.9" ry="7.9" fill="#2a2a2a"/>
<ellipse cx="142.8" cy="598.7" rx="7.5" ry="7.5" fill="#2a2a2a"/>
<ellipse cx="157.2" cy="600.5" rx="7.5" ry="7.5" fill="#2a2a2a"/>
<ellipse cx="171" cy="602.3" rx="8.1" ry="8.1" fill="#2a2a2a"/>
<ellipse cx="121.9" cy="608.3" rx="6.9" ry="6.9" fill="#2a2a2a"/>
<ellipse cx="126.1" cy="614.3" rx="8.7" ry="8.7" fill="#2a2a2a"/>
<ellipse cx="160.8" cy="614.3" rx="8.1" ry="8.1" fill="#2a2a2a"/>
<ellipse cx="126.4" cy="565.6" rx="8" ry="8" fill="#c0c0c0"/>
<ellipse cx="157.3" cy="572.8" rx="8.7" ry="8.7" fill="#c0c0c0"/>
<circle cx="125.2" cy="576.7" r="0.9" fill="#b8b8b8"/>
<circle cx="124.7" cy="578.3" r="1.2" fill="#b8b8b8"/>
<circle cx="122.5" cy="580.6" r="1.1" fill="#b8b8b8"/>
<circle cx="120.4" cy="581.3" r="1" fill="#b8b8b8"/>
<circle cx="118.3" cy="581.3" r="1.7" fill="#b8b8b8"/>
<circle cx="116.5" cy="580.5" r="1.1" fill="#b8b8b8"/>
<circle cx="114.1" cy="577.3" r="1.4" fill="#b8b8b8"/>
<circle cx="114" cy="576.7" r="1" fill="#b8b8b8"/>
<circle cx="114.2" cy="573.8" r="1.1" fill="#b8b8b8"/>
<circle cx="116.7" cy="570.8" r="1.5" fill="#b8b8b8"/>
<circle cx="119.4" cy="570" r="1.4" fill="#b8b8b8"/>
<circle cx="121.1" cy="570.2" r="1.2" fill="#b8b8b8"/>
<circle cx="123.5" cy="571.6" r="1.3" fill="#b8b8b8"/>
<circle cx="124.2" cy="572.4" r="1.3" fill="#b8b8b8"/>
<ellipse cx="119.6" cy="575.7" rx="6.6" ry="6.6" fill="#c0c0c0"/>
<ellipse cx="132.1" cy="581.1" rx="7.8" ry="7.8" fill="#c0c0c0"/>
<circle cx="149.8" cy="583.8" r="1.3" fill="#b8b8b8"/>
<circle cx="149.6" cy="585.6" r="0.9" fill="#b8b8b8"/>
<circle cx="146.7" cy="589.5" r="1.2" fill="#b8b8b8"/>
<circle cx="145.8" cy="589.9" r="1" fill="#b8b8b8"/>
<circle cx="142.6" cy="590.3" r="1.6" fill="#b8b8b8"/>
<circle cx="141.1" cy="589.9" r="1.3" fill="#b8b8b8"/>
<circle cx="138.4" cy="587.8" r="1.5" fill="#b8b8b8"/>
<circle cx="137.3" cy="585.2" r="1.1" fill="#b8b8b8"/>
<circle cx="137.3" cy="583.6" r="1.5" fill="#b8b8b8"/>
<circle cx="137.9" cy="581.3" r="1.6" fill="#b8b8b8"/>
<circle cx="139.4" cy="579.3" r="1.1" fill="#b8b8b8"/>
<circle cx="142.8" cy="577.9" r="1.6" fill="#b8b8b8"/>
<circle cx="145.7" cy="578.2" r="1.5" fill="#b8b8b8"/>
<circle cx="148.2" cy="579.9" r="1.5" fill="#b8b8b8"/>
<circle cx="148.7" cy="580.6" r="1.6" fill="#b8b8b8"/>
<ellipse cx="143.5" cy="584.1" rx="7.2" ry="7.2" fill="#c0c0c0"/>
<ellipse cx="165.1" cy="585.3" rx="9" ry="9" fill="#c0c0c0"/>
<ellipse cx="111.2" cy="585.3" rx="7.6" ry="7.6" fill="#c0c0c0"/>
<circle cx="132.9" cy="594" r="1" fill="#b8b8b8"/>
<circle cx="132.8" cy="596.4" r="0.9" fill="#b8b8b8"/>
<circle cx="130.1" cy="600.1" r="1.2" fill="#b8b8b8"/>
<circle cx="129.6" cy="600.5" r="0.9" fill="#b8b8b8"/>
<circle cx="125.2" cy="601" r="1.4" fill="#b8b8b8"/>
<circle cx="122.7" cy="599.7" r="0.9" fill="#b8b8b8"/>
<circle cx="122.3" cy="599.3" r="1.1" fill="#b8b8b8"/>
<circle cx="120.8" cy="597" r="1" fill="#b8b8b8"/>
<circle cx="120.5" cy="594.3" r="1.4" fill="#b8b8b8"/>
<circle cx="121.2" cy="591.9" r="1" fill="#b8b8b8"/>
<circle cx="123.6" cy="589.4" r="1.2" fill="#b8b8b8"/>
<circle cx="125.2" cy="588.8" r="1.4" fill="#b8b8b8"/>
<circle cx="128.7" cy="588.9" r="1.2" fill="#b8b8b8"/>
<circle cx="130.8" cy="590.2" r="0.9" fill="#b8b8b8"/>
<circle cx="132.5" cy="592.6" r="1.1" fill="#b8b8b8"/>
<ellipse cx="126.7" cy="594.9" rx="7.2" ry="7.2" fill="#c0c0c0"/>
<ellipse cx="114.8" cy="597.3" rx="7.6" ry="7.6" fill="#c0c0c0"/>
<circle cx="148" cy="596.9" r="0.9" fill="#b8b8b8"/>
<circle cx="147" cy="600.7" r="1.4" fill="#b8b8b8"/>
<circle cx="146.1" cy="601.8" r="1.3" fill="#b8b8b8"/>
<circle cx="142.6" cy="603.5" r="1" fill="#b8b8b8"/>
<circle cx="141.3" cy="603.6" r="1.5" fill="#b8b8b8"/>
<circle cx="138.8" cy="602.9" r="1.5" fill="#b8b8b8"/>
<circle cx="136.1" cy="600.1" r="0.9" fill="#b8b8b8"/>
<circle cx="135.7" cy="599.1" r="1.1" fill="#b8b8b8"/>
<circle cx="135.7" cy="595.4" r="1.5" fill="#b8b8b8"/>
<circle cx="136.9" cy="593.2" r="1.6" fill="#b8b8b8"/>
<circle cx="137.9" cy="592.3" r="1.2" fill="#b8b8b8"/>
<circle cx="141.9" cy="591" r="1.5" fill="#b8b8b8"/>
<circle cx="142.7" cy="591.1" r="1.7" fill="#b8b8b8"/>
<circle cx="146.3" cy="593.1" r="1.6" fill="#b8b8b8"/>
<circle cx="147.3" cy="594.4" r="1.4" fill="#b8b8b8"/>
<ellipse cx="141.7" cy="597.3" rx="7.2" ry="7.2" fill="#c0c0c0"/>
<ellipse cx="156.1" cy="599.1" rx="7.2" ry="7.2" fill="#c0c0c0"/>
<circle cx="176.6" cy="602.1" r="1.6" fill="#b8b8b8"/>
<circle cx="176.2" cy="603.6" r="1.6" fill="#b8b8b8"/>
<circle cx="173.9" cy="606.4" r="1.6" fill="#b8b8b8"/>
<circle cx="172.6" cy="607.2" r="1.7" fill="#b8b8b8"/>
<circle cx="171.5" cy="607.6" r="1.2" fill="#b8b8b8"/>
<circle cx="167.9" cy="607.4" r="1" fill="#b8b8b8"/>
<circle cx="165.2" cy="605.9" r="0.9" fill="#b8b8b8"/>
<circle cx="163.9" cy="604.2" r="1.1" fill="#b8b8b8"/>
<circle cx="163.3" cy="602.6" r="1.4" fill="#b8b8b8"/>
<circle cx="163.1" cy="600.5" r="1.3" fill="#b8b8b8"/>
<circle cx="164.7" cy="596.5" r="1.7" fill="#b8b8b8"/>
<circle cx="165.3" cy="595.9" r="1.2" fill="#b8b8b8"/>
<circle cx="168.5" cy="594.2" r="1.1" fill="#b8b8b8"/>
<circle cx="171.5" cy="594.2" r="1.1" fill="#b8b8b8"/>
<circle cx="173.1" cy="594.8" r="1.2" fill="#b8b8b8"/>
<circle cx="173.9" cy="595.4" r="0.9" fill="#b8b8b8"/>
<circle cx="175.7" cy="597.2" r="1.2" fill="#b8b8b8"/>
<ellipse cx="169.9" cy="600.9" rx="7.8" ry="7.8" fill="#c0c0c0"/>
<ellipse cx="120.8" cy="606.9" rx="6.6" ry="6.6" fill="#c0c0c0"/>
<ellipse cx="125" cy="612.9" rx="8.4" ry="8.4" fill="#c0c0c0"/>
<circle cx="166.5" cy="612.3" r="1.7" fill="#b8b8b8"/>
<circle cx="165.9" cy="615.7" r="1" fill="#b8b8b8"/>
<circle cx="164.3" cy="617.9" r="1.1" fill="#b8b8b8"/>
<circle cx="162.8" cy="619" r="1.5" fill="#b8b8b8"/>
<circle cx="159.4" cy="619.7" r="1.6" fill="#b8b8b8"/>
<circle cx="158" cy="619.5" r="1.2" fill="#b8b8b8"/>
<circle cx="155.8" cy="618.5" r="1.2" fill="#b8b8b8"/>
<circle cx="153.6" cy="615.9" r="1.3" fill="#b8b8b8"/>
<circle cx="152.9" cy="613.7" r="1" fill="#b8b8b8"/>
<circle cx="153.2" cy="610.9" r="1.7" fill="#b8b8b8"/>
<circle cx="153.5" cy="610" r="1.4" fill="#b8b8b8"/>
<circle cx="154.9" cy="608" r="0.9" fill="#b8b8b8"/>
<circle cx="157.6" cy="606.4" r="1" fill="#b8b8b8"/>
<circle cx="161" cy="606.2" r="1.4" fill="#b8b8b8"/>
<circle cx="163.2" cy="607" r="1.7" fill="#b8b8b8"/>
<circle cx="163.9" cy="607.5" r="1" fill="#b8b8b8"/>
<circle cx="165.5" cy="609.3" r="1.3" fill="#b8b8b8"/>
<ellipse cx="159.7" cy="612.9" rx="7.8" ry="7.8" fill="#c0c0c0"/>
<ellipse cx="126.4" cy="565.6" rx="7.4" ry="7.4" fill="url(#gSph2)"/>
<ellipse cx="157.3" cy="572.8" rx="8.1" ry="8.1" fill="url(#gSph2)"/>
<ellipse cx="119.6" cy="575.7" rx="6" ry="6" fill="url(#gSph2)"/>
<circle cx="121.9" cy="577" r="1.1" fill="#b0b0b0"/>
<circle cx="122.2" cy="574.8" r="0.8" fill="#b0b0b0"/>
<circle cx="120.6" cy="572.3" r="0.9" fill="#b0b0b0"/>
<circle cx="116.2" cy="573.3" r="0.7" fill="#b0b0b0"/>
<ellipse cx="132.1" cy="581.1" rx="7.2" ry="7.2" fill="url(#gSph2)"/>
<ellipse cx="143.5" cy="584.1" rx="6.6" ry="6.6" fill="url(#gSph2)"/>
<circle cx="143.7" cy="581.2" r="1.1" fill="#b0b0b0"/>
<circle cx="146.1" cy="582.9" r="0.8" fill="#b0b0b0"/>
<circle cx="144.9" cy="585.9" r="1.3" fill="#b0b0b0"/>
<circle cx="143.9" cy="584.7" r="1.3" fill="#b0b0b0"/>
<ellipse cx="165.1" cy="585.3" rx="8.4" ry="8.4" fill="url(#gSph2)"/>
<ellipse cx="111.2" cy="585.3" rx="7" ry="7" fill="url(#gSph2)"/>
<ellipse cx="126.7" cy="594.9" rx="6.6" ry="6.6" fill="url(#gSph2)"/>
<circle cx="128.1" cy="598.7" r="0.9" fill="#b0b0b0"/>
<circle cx="128.9" cy="596" r="1" fill="#b0b0b0"/>
<circle cx="122.8" cy="594.7" r="0.9" fill="#b0b0b0"/>
<circle cx="127.5" cy="595" r="1.1" fill="#b0b0b0"/>
<ellipse cx="114.8" cy="597.3" rx="7" ry="7" fill="url(#gSph2)"/>
<ellipse cx="141.7" cy="597.3" rx="6.6" ry="6.6" fill="url(#gSph2)"/>
<circle cx="138.2" cy="594.4" r="1.1" fill="#b0b0b0"/>
<circle cx="143.1" cy="601.2" r="1.3" fill="#b0b0b0"/>
<circle cx="140" cy="596.9" r="1.1" fill="#b0b0b0"/>
<circle cx="144.1" cy="596.5" r="1.3" fill="#b0b0b0"/>
<ellipse cx="156.1" cy="599.1" rx="6.6" ry="6.6" fill="url(#gSph2)"/>
<ellipse cx="169.9" cy="600.9" rx="7.2" ry="7.2" fill="url(#gSph2)"/>
<circle cx="169.8" cy="600" r="1" fill="#b0b0b0"/>
<circle cx="168.7" cy="605.2" r="0.7" fill="#b0b0b0"/>
<circle cx="169" cy="597.3" r="1.2" fill="#b0b0b0"/>
<circle cx="166.9" cy="597.9" r="1" fill="#b0b0b0"/>
<ellipse cx="120.8" cy="606.9" rx="6" ry="6" fill="url(#gSph2)"/>
<ellipse cx="125" cy="612.9" rx="7.8" ry="7.8" fill="url(#gSph2)"/>
<ellipse cx="159.7" cy="612.9" rx="7.2" ry="7.2" fill="url(#gSph2)"/>
<circle cx="160.6" cy="615.2" r="1" fill="#b0b0b0"/>
<circle cx="157.9" cy="611.8" r="1.3" fill="#b0b0b0"/>
<circle cx="157.2" cy="608.7" r="1.3" fill="#b0b0b0"/>
<circle cx="159.6" cy="609.7" r="0.8" fill="#b0b0b0"/>
</g></g>
<circle cx="142" cy="590.8" r="39.1" fill="none" stroke="#6a2ca2" stroke-width="2.8"/>
<text class="abm" x="224.1" y="542.8" font-size="12" fill="#111">HAPP1</text>
<clipPath id="ck2"><circle cx="224.1" cy="590.8" r="38.5"/></clipPath><g clip-path="url(#ck2)"><g filter="url(#bl)">
<rect x="184.1" y="550.8" width="80" height="80" fill="url(#gSEM)"/>
<ellipse cx="210.8" cy="580.7" rx="8.7" ry="8.7" fill="#2a2a2a"/>
<ellipse cx="213.2" cy="597.5" rx="8.3" ry="8.3" fill="#2a2a2a"/>
<ellipse cx="220.4" cy="610.7" rx="8.7" ry="8.7" fill="#2a2a2a"/>
<ellipse cx="231.2" cy="576" rx="7.5" ry="6.9" fill="#2a2a2a"/>
<ellipse cx="236.6" cy="583.7" rx="5.1" ry="5.1" fill="#2a2a2a"/>
<ellipse cx="235.4" cy="595.7" rx="5.1" ry="4.4" fill="#2a2a2a"/>
<ellipse cx="221" cy="587.3" rx="6.9" ry="6.9" fill="#2a2a2a"/>
<ellipse cx="209.7" cy="579.3" rx="8.4" ry="8.4" fill="#c0c0c0"/>
<ellipse cx="212.1" cy="596.1" rx="8" ry="8" fill="#c0c0c0"/>
<ellipse cx="219.3" cy="609.3" rx="8.4" ry="8.4" fill="#c0c0c0"/>
<circle cx="236.3" cy="575.5" r="1.5" fill="#b8b8b8"/>
<circle cx="236.2" cy="576" r="1.4" fill="#b8b8b8"/>
<circle cx="234.8" cy="578.4" r="1.3" fill="#b8b8b8"/>
<circle cx="231.8" cy="580.1" r="0.9" fill="#b8b8b8"/>
<circle cx="228.4" cy="580.1" r="1.2" fill="#b8b8b8"/>
<circle cx="227.8" cy="579.9" r="1.5" fill="#b8b8b8"/>
<circle cx="225.7" cy="578.6" r="0.9" fill="#b8b8b8"/>
<circle cx="223.9" cy="575.4" r="1.3" fill="#b8b8b8"/>
<circle cx="224.3" cy="572.5" r="1.5" fill="#b8b8b8"/>
<circle cx="224.6" cy="571.8" r="0.9" fill="#b8b8b8"/>
<circle cx="227.2" cy="569.6" r="1.3" fill="#b8b8b8"/>
<circle cx="229" cy="569" r="1.6" fill="#b8b8b8"/>
<circle cx="231.3" cy="569" r="1.4" fill="#b8b8b8"/>
<circle cx="233.4" cy="569.8" r="1.6" fill="#b8b8b8"/>
<circle cx="236.2" cy="573.2" r="1.4" fill="#b8b8b8"/>
<ellipse cx="230.1" cy="574.6" rx="7.2" ry="6.6" fill="#c0c0c0"/>
<circle cx="239.5" cy="582" r="1.5" fill="#b8b8b8"/>
<circle cx="238.3" cy="585.1" r="1.5" fill="#b8b8b8"/>
<circle cx="237.4" cy="585.8" r="1.3" fill="#b8b8b8"/>
<circle cx="234.8" cy="586.2" r="1.3" fill="#b8b8b8"/>
<circle cx="231.9" cy="584" r="1.6" fill="#b8b8b8"/>
<circle cx="231.5" cy="582.7" r="1.3" fill="#b8b8b8"/>
<circle cx="232.1" cy="580.2" r="1" fill="#b8b8b8"/>
<circle cx="234.6" cy="578.4" r="1.5" fill="#b8b8b8"/>
<circle cx="236.5" cy="578.4" r="1.2" fill="#b8b8b8"/>
<circle cx="238.9" cy="580.2" r="1.5" fill="#b8b8b8"/>
<ellipse cx="235.5" cy="582.3" rx="4.8" ry="4.8" fill="#c0c0c0"/>
<circle cx="238.3" cy="594.3" r="1" fill="#b8b8b8"/>
<circle cx="237.9" cy="595.8" r="1" fill="#b8b8b8"/>
<circle cx="235" cy="597.6" r="1.3" fill="#b8b8b8"/>
<circle cx="232.9" cy="597.4" r="1.2" fill="#b8b8b8"/>
<circle cx="231.2" cy="596.4" r="1" fill="#b8b8b8"/>
<circle cx="230.4" cy="593.7" r="1.4" fill="#b8b8b8"/>
<circle cx="230.8" cy="592.8" r="1.5" fill="#b8b8b8"/>
<circle cx="233.2" cy="591.1" r="1.4" fill="#b8b8b8"/>
<circle cx="235.9" cy="591.3" r="1.4" fill="#b8b8b8"/>
<circle cx="237.8" cy="592.8" r="1.7" fill="#b8b8b8"/>
<ellipse cx="234.3" cy="594.3" rx="4.8" ry="4.1" fill="#c0c0c0"/>
<circle cx="225.6" cy="585.7" r="1.4" fill="#b8b8b8"/>
<circle cx="225.2" cy="588.1" r="1.2" fill="#b8b8b8"/>
<circle cx="223.7" cy="590.2" r="1.4" fill="#b8b8b8"/>
<circle cx="221.5" cy="591.4" r="1.2" fill="#b8b8b8"/>
<circle cx="217.9" cy="591.2" r="1.5" fill="#b8b8b8"/>
<circle cx="216" cy="590.1" r="1.6" fill="#b8b8b8"/>
<circle cx="214.9" cy="588.6" r="1.4" fill="#b8b8b8"/>
<circle cx="214.2" cy="586.5" r="1.2" fill="#b8b8b8"/>
<circle cx="214.4" cy="584.3" r="1.5" fill="#b8b8b8"/>
<circle cx="217.1" cy="580.9" r="1.1" fill="#b8b8b8"/>
<circle cx="218.4" cy="580.4" r="1" fill="#b8b8b8"/>
<circle cx="220.4" cy="580.2" r="1.4" fill="#b8b8b8"/>
<circle cx="224.1" cy="582.1" r="1" fill="#b8b8b8"/>
<circle cx="224.8" cy="582.9" r="1.5" fill="#b8b8b8"/>
<ellipse cx="219.9" cy="585.9" rx="6.6" ry="6.6" fill="#c0c0c0"/>
<ellipse cx="209.7" cy="579.3" rx="7.8" ry="7.8" fill="url(#gSph2)"/>
<ellipse cx="212.1" cy="596.1" rx="7.4" ry="7.4" fill="url(#gSph2)"/>
<ellipse cx="219.3" cy="609.3" rx="7.8" ry="7.8" fill="url(#gSph2)"/>
<ellipse cx="230.1" cy="574.6" rx="6.6" ry="6" fill="url(#gSph2)"/>
<circle cx="227.9" cy="577.3" r="0.9" fill="#b0b0b0"/>
<circle cx="229.9" cy="572.5" r="0.9" fill="#b0b0b0"/>
<circle cx="229.5" cy="573" r="1.2" fill="#b0b0b0"/>
<circle cx="226.4" cy="575.6" r="1.3" fill="#b0b0b0"/>
<ellipse cx="235.5" cy="582.3" rx="4.2" ry="4.2" fill="url(#gSph2)"/>
<circle cx="234.6" cy="580.7" r="0.8" fill="#b0b0b0"/>
<circle cx="233.4" cy="583.8" r="1.1" fill="#b0b0b0"/>
<circle cx="233.1" cy="582.1" r="1.1" fill="#b0b0b0"/>
<circle cx="234.6" cy="580" r="1" fill="#b0b0b0"/>
<ellipse cx="234.3" cy="594.3" rx="4.2" ry="3.5" fill="url(#gSph2)"/>
<circle cx="233.6" cy="596.3" r="1" fill="#b0b0b0"/>
<circle cx="236.4" cy="595.8" r="1.1" fill="#b0b0b0"/>
<circle cx="232.4" cy="595.6" r="0.8" fill="#b0b0b0"/>
<circle cx="234.6" cy="592.6" r="0.8" fill="#b0b0b0"/>
<ellipse cx="219.9" cy="585.9" rx="6" ry="6" fill="url(#gSph2)"/>
<circle cx="219.3" cy="583.4" r="1.4" fill="#b0b0b0"/>
<circle cx="220.5" cy="588.8" r="1.4" fill="#b0b0b0"/>
<circle cx="221.8" cy="586.9" r="1" fill="#b0b0b0"/>
<circle cx="221.9" cy="587.1" r="0.8" fill="#b0b0b0"/>
</g></g>
<circle cx="224.1" cy="590.8" r="39.1" fill="none" stroke="#6a2ca2" stroke-width="2.8"/>
<text class="abm" x="305.3" y="542.8" font-size="12" fill="#111">HAPP2</text>
<clipPath id="ck3"><circle cx="305.3" cy="590.8" r="38.5"/></clipPath><g clip-path="url(#ck3)"><g filter="url(#bl)">
<rect x="265.3" y="550.8" width="80" height="80" fill="url(#gSEM)"/>
<ellipse cx="291.8" cy="578.9" rx="8.7" ry="8.7" fill="#2a2a2a"/>
<ellipse cx="310.4" cy="581.4" rx="7.9" ry="7.9" fill="#2a2a2a"/>
<ellipse cx="284.1" cy="599.3" rx="7.9" ry="7.9" fill="#2a2a2a"/>
<ellipse cx="294.8" cy="595.7" rx="5.9" ry="5.9" fill="#2a2a2a"/>
<ellipse cx="304.4" cy="573" rx="4.5" ry="4.5" fill="#2a2a2a"/>
<ellipse cx="280.5" cy="606.4" rx="3.9" ry="3.9" fill="#2a2a2a"/>
<ellipse cx="305.6" cy="602.9" rx="6.9" ry="6.9" fill="#2a2a2a"/>
<ellipse cx="311" cy="593.9" rx="7.5" ry="7.5" fill="#2a2a2a"/>
<ellipse cx="327.2" cy="588.5" rx="6.9" ry="6.9" fill="#2a2a2a"/>
<ellipse cx="321.8" cy="606.4" rx="7.5" ry="7.5" fill="#2a2a2a"/>
<ellipse cx="330.1" cy="599.9" rx="7.9" ry="7.9" fill="#2a2a2a"/>
<circle cx="298.1" cy="577.6" r="1.2" fill="#b8b8b8"/>
<circle cx="297.6" cy="580.1" r="1.5" fill="#b8b8b8"/>
<circle cx="296" cy="582.7" r="1.4" fill="#b8b8b8"/>
<circle cx="293.6" cy="584.3" r="1.6" fill="#b8b8b8"/>
<circle cx="293.2" cy="584.5" r="1" fill="#b8b8b8"/>
<circle cx="290.7" cy="584.9" r="1" fill="#b8b8b8"/>
<circle cx="285.9" cy="583.1" r="1.1" fill="#b8b8b8"/>
<circle cx="285.1" cy="582.4" r="1.3" fill="#b8b8b8"/>
<circle cx="283.7" cy="579.9" r="1.1" fill="#b8b8b8"/>
<circle cx="283.3" cy="576.7" r="1.2" fill="#b8b8b8"/>
<circle cx="284.2" cy="574" r="1.5" fill="#b8b8b8"/>
<circle cx="284.2" cy="574" r="1.3" fill="#b8b8b8"/>
<circle cx="286" cy="571.8" r="1.6" fill="#b8b8b8"/>
<circle cx="288.2" cy="570.5" r="1.1" fill="#b8b8b8"/>
<circle cx="292.8" cy="570.4" r="1.4" fill="#b8b8b8"/>
<circle cx="294.8" cy="571.3" r="1.2" fill="#b8b8b8"/>
<circle cx="296.4" cy="572.8" r="1.1" fill="#b8b8b8"/>
<circle cx="297.6" cy="574.9" r="1.1" fill="#b8b8b8"/>
<ellipse cx="290.7" cy="577.5" rx="8.4" ry="8.4" fill="#c0c0c0"/>
<circle cx="315.9" cy="580.5" r="1" fill="#b8b8b8"/>
<circle cx="315.7" cy="581.6" r="1.1" fill="#b8b8b8"/>
<circle cx="313.9" cy="584.8" r="1.4" fill="#b8b8b8"/>
<circle cx="313" cy="585.5" r="1.7" fill="#b8b8b8"/>
<circle cx="308.4" cy="586.6" r="1.2" fill="#b8b8b8"/>
<circle cx="307.6" cy="586.4" r="1.6" fill="#b8b8b8"/>
<circle cx="303.8" cy="583.7" r="1" fill="#b8b8b8"/>
<circle cx="302.9" cy="581.9" r="1.6" fill="#b8b8b8"/>
<circle cx="302.8" cy="578.8" r="1.1" fill="#b8b8b8"/>
<circle cx="302.8" cy="578.4" r="1" fill="#b8b8b8"/>
<circle cx="304.1" cy="575.8" r="1.6" fill="#b8b8b8"/>
<circle cx="307.8" cy="573.5" r="1.3" fill="#b8b8b8"/>
<circle cx="308.3" cy="573.4" r="1.2" fill="#b8b8b8"/>
<circle cx="311.2" cy="573.6" r="1.4" fill="#b8b8b8"/>
<circle cx="314.4" cy="575.7" r="1.5" fill="#b8b8b8"/>
<circle cx="315.4" cy="577.3" r="1.3" fill="#b8b8b8"/>
<ellipse cx="309.3" cy="580" rx="7.6" ry="7.6" fill="#c0c0c0"/>
<circle cx="289.6" cy="597.8" r="1.2" fill="#b8b8b8"/>
<circle cx="289.2" cy="600.3" r="1.4" fill="#b8b8b8"/>
<circle cx="287.3" cy="603" r="1.2" fill="#b8b8b8"/>
<circle cx="285.4" cy="604.1" r="1" fill="#b8b8b8"/>
<circle cx="284.2" cy="604.4" r="1.2" fill="#b8b8b8"/>
<circle cx="280.8" cy="604.2" r="0.9" fill="#b8b8b8"/>
<circle cx="279.2" cy="603.3" r="1.2" fill="#b8b8b8"/>
<circle cx="276.5" cy="599.3" r="1.6" fill="#b8b8b8"/>
<circle cx="276.5" cy="599.1" r="1.2" fill="#b8b8b8"/>
<circle cx="276.7" cy="595.7" r="1.1" fill="#b8b8b8"/>
<circle cx="277.7" cy="593.9" r="1.4" fill="#b8b8b8"/>
<circle cx="281.3" cy="591.5" r="1.2" fill="#b8b8b8"/>
<circle cx="282.1" cy="591.3" r="1" fill="#b8b8b8"/>
<circle cx="284.3" cy="591.4" r="1.5" fill="#b8b8b8"/>
<circle cx="287.2" cy="592.7" r="1.5" fill="#b8b8b8"/>
<circle cx="289.4" cy="596.1" r="1" fill="#b8b8b8"/>
<ellipse cx="283" cy="597.9" rx="7.6" ry="7.6" fill="#c0c0c0"/>
<circle cx="298.4" cy="593.7" r="1.2" fill="#b8b8b8"/>
<circle cx="297.5" cy="597.1" r="1.5" fill="#b8b8b8"/>
<circle cx="296.4" cy="598.2" r="1.3" fill="#b8b8b8"/>
<circle cx="294" cy="599" r="1.3" fill="#b8b8b8"/>
<circle cx="290.9" cy="598.1" r="1.1" fill="#b8b8b8"/>
<circle cx="289.3" cy="596.1" r="1.6" fill="#b8b8b8"/>
<circle cx="289" cy="594.1" r="1.7" fill="#b8b8b8"/>
<circle cx="290.1" cy="591.2" r="1" fill="#b8b8b8"/>
<circle cx="292.2" cy="589.8" r="1.1" fill="#b8b8b8"/>
<circle cx="294.3" cy="589.6" r="1" fill="#b8b8b8"/>
<circle cx="295.7" cy="590" r="1.3" fill="#b8b8b8"/>
<circle cx="298.1" cy="592.5" r="1.4" fill="#b8b8b8"/>
<ellipse cx="293.7" cy="594.3" rx="5.6" ry="5.6" fill="#c0c0c0"/>
<circle cx="306.7" cy="571.2" r="1.6" fill="#b8b8b8"/>
<circle cx="305.3" cy="574.3" r="1.3" fill="#b8b8b8"/>
<circle cx="303.9" cy="575" r="1.1" fill="#b8b8b8"/>
<circle cx="301.1" cy="574.2" r="1.2" fill="#b8b8b8"/>
<circle cx="299.9" cy="571" r="1.4" fill="#b8b8b8"/>
<circle cx="301.2" cy="568.9" r="1" fill="#b8b8b8"/>
<circle cx="303" cy="568.2" r="1.5" fill="#b8b8b8"/>
<circle cx="305.6" cy="569" r="1.1" fill="#b8b8b8"/>
<ellipse cx="303.3" cy="571.6" rx="4.2" ry="4.2" fill="#c0c0c0"/>
<circle cx="282.2" cy="604.5" r="0.9" fill="#b8b8b8"/>
<circle cx="281.3" cy="607.2" r="1.3" fill="#b8b8b8"/>
<circle cx="278.9" cy="607.8" r="1.4" fill="#b8b8b8"/>
<circle cx="276.9" cy="606.4" r="0.9" fill="#b8b8b8"/>
<circle cx="276.9" cy="603.6" r="1.2" fill="#b8b8b8"/>
<circle cx="278.8" cy="602.2" r="1.2" fill="#b8b8b8"/>
<circle cx="281" cy="602.6" r="0.9" fill="#b8b8b8"/>
<ellipse cx="279.4" cy="605" rx="3.6" ry="3.6" fill="#c0c0c0"/>
<circle cx="310.2" cy="601" r="1.1" fill="#b8b8b8"/>
<circle cx="310" cy="603.2" r="0.9" fill="#b8b8b8"/>
<circle cx="308.1" cy="605.9" r="0.9" fill="#b8b8b8"/>
<circle cx="304.9" cy="607.2" r="1.2" fill="#b8b8b8"/>
<circle cx="303.4" cy="607.1" r="1.3" fill="#b8b8b8"/>
<circle cx="301.9" cy="606.5" r="1" fill="#b8b8b8"/>
<circle cx="299.1" cy="603.4" r="1.3" fill="#b8b8b8"/>
<circle cx="298.8" cy="601.5" r="1.2" fill="#b8b8b8"/>
<circle cx="299.6" cy="598.5" r="1.3" fill="#b8b8b8"/>
<circle cx="301.5" cy="596.7" r="1.6" fill="#b8b8b8"/>
<circle cx="304.1" cy="595.8" r="1.5" fill="#b8b8b8"/>
<circle cx="306.2" cy="596" r="1.3" fill="#b8b8b8"/>
<circle cx="308.1" cy="597.1" r="1.4" fill="#b8b8b8"/>
<circle cx="309.7" cy="599.1" r="1.6" fill="#b8b8b8"/>
<ellipse cx="304.5" cy="601.5" rx="6.6" ry="6.6" fill="#c0c0c0"/>
<ellipse cx="309.9" cy="592.5" rx="7.2" ry="7.2" fill="#c0c0c0"/>
<circle cx="331.7" cy="587.9" r="0.9" fill="#b8b8b8"/>
<circle cx="331" cy="590.1" r="1.4" fill="#b8b8b8"/>
<circle cx="329.5" cy="591.7" r="1.6" fill="#b8b8b8"/>
<circle cx="328.3" cy="592.3" r="1.3" fill="#b8b8b8"/>
<circle cx="325.1" cy="592.7" r="1.7" fill="#b8b8b8"/>
<circle cx="323.2" cy="592" r="1.4" fill="#b8b8b8"/>
<circle cx="321.4" cy="590.3" r="1.5" fill="#b8b8b8"/>
<circle cx="320.4" cy="587.1" r="1.5" fill="#b8b8b8"/>
<circle cx="320.8" cy="585" r="1.6" fill="#b8b8b8"/>
<circle cx="321.7" cy="583.4" r="1.1" fill="#b8b8b8"/>
<circle cx="325.4" cy="581.4" r="1.6" fill="#b8b8b8"/>
<circle cx="328" cy="581.7" r="1.1" fill="#b8b8b8"/>
<circle cx="328.9" cy="582.1" r="1.5" fill="#b8b8b8"/>
<circle cx="331.4" cy="585.1" r="0.9" fill="#b8b8b8"/>
<ellipse cx="326.1" cy="587.1" rx="6.6" ry="6.6" fill="#c0c0c0"/>
<ellipse cx="320.7" cy="605" rx="7.2" ry="7.2" fill="#c0c0c0"/>
<ellipse cx="329" cy="598.5" rx="7.6" ry="7.6" fill="#c0c0c0"/>
<ellipse cx="290.7" cy="577.5" rx="7.8" ry="7.8" fill="url(#gSph2)"/>
<circle cx="294.8" cy="577.8" r="0.7" fill="#b0b0b0"/>
<circle cx="290.5" cy="576" r="0.8" fill="#b0b0b0"/>
<circle cx="294.3" cy="581.6" r="0.8" fill="#b0b0b0"/>
<circle cx="290.2" cy="575.4" r="1.2" fill="#b0b0b0"/>
<ellipse cx="309.3" cy="580" rx="7" ry="7" fill="url(#gSph2)"/>
<circle cx="306" cy="578.6" r="1" fill="#b0b0b0"/>
<circle cx="309.1" cy="579.5" r="1.1" fill="#b0b0b0"/>
<circle cx="313" cy="583.6" r="1.3" fill="#b0b0b0"/>
<circle cx="312.1" cy="577.7" r="0.9" fill="#b0b0b0"/>
<ellipse cx="283" cy="597.9" rx="7" ry="7" fill="url(#gSph2)"/>
<circle cx="282.7" cy="599.1" r="1.1" fill="#b0b0b0"/>
<circle cx="281.7" cy="602" r="0.9" fill="#b0b0b0"/>
<circle cx="279" cy="594.5" r="0.8" fill="#b0b0b0"/>
<circle cx="284.9" cy="600.8" r="0.7" fill="#b0b0b0"/>
<ellipse cx="293.7" cy="594.3" rx="5" ry="5" fill="url(#gSph2)"/>
<circle cx="292.1" cy="592.8" r="1.3" fill="#b0b0b0"/>
<circle cx="296.1" cy="592.9" r="0.8" fill="#b0b0b0"/>
<circle cx="296.5" cy="597.1" r="1.2" fill="#b0b0b0"/>
<circle cx="293.5" cy="595.8" r="1.2" fill="#b0b0b0"/>
<ellipse cx="303.3" cy="571.6" rx="3.6" ry="3.6" fill="url(#gSph2)"/>
<circle cx="303.3" cy="570.6" r="1.1" fill="#b0b0b0"/>
<circle cx="304" cy="570.8" r="1.1" fill="#b0b0b0"/>
<circle cx="301.8" cy="573.6" r="0.8" fill="#b0b0b0"/>
<circle cx="302.1" cy="573.6" r="1.4" fill="#b0b0b0"/>
<ellipse cx="279.4" cy="605" rx="3" ry="3" fill="url(#gSph2)"/>
<circle cx="280.9" cy="606.2" r="1.3" fill="#b0b0b0"/>
<circle cx="280.6" cy="605.2" r="0.8" fill="#b0b0b0"/>
<circle cx="280.2" cy="606.2" r="1.3" fill="#b0b0b0"/>
<circle cx="277.8" cy="603.4" r="1.2" fill="#b0b0b0"/>
<ellipse cx="304.5" cy="601.5" rx="6" ry="6" fill="url(#gSph2)"/>
<circle cx="304.4" cy="604.3" r="1.4" fill="#b0b0b0"/>
<circle cx="304.1" cy="602.8" r="1.2" fill="#b0b0b0"/>
<circle cx="305.9" cy="600.5" r="1.1" fill="#b0b0b0"/>
<circle cx="301.4" cy="604.4" r="1.2" fill="#b0b0b0"/>
<ellipse cx="309.9" cy="592.5" rx="6.6" ry="6.6" fill="url(#gSph2)"/>
<ellipse cx="326.1" cy="587.1" rx="6" ry="6" fill="url(#gSph2)"/>
<circle cx="328.3" cy="586.8" r="0.8" fill="#b0b0b0"/>
<circle cx="325.7" cy="588.4" r="1.1" fill="#b0b0b0"/>
<circle cx="323.3" cy="583.5" r="1" fill="#b0b0b0"/>
<circle cx="324.3" cy="585.1" r="0.9" fill="#b0b0b0"/>
<ellipse cx="320.7" cy="605" rx="6.6" ry="6.6" fill="url(#gSph2)"/>
<ellipse cx="329" cy="598.5" rx="7" ry="7" fill="url(#gSph2)"/>
</g></g>
<circle cx="305.3" cy="590.8" r="39.1" fill="none" stroke="#6a2ca2" stroke-width="2.8"/>
<text class="abm" x="387.7" y="542.8" font-size="12" fill="#111">HAPP3</text>
<clipPath id="ck4"><circle cx="387.7" cy="590.8" r="38.5"/></clipPath><g clip-path="url(#ck4)"><g filter="url(#bl)">
<rect x="347.7" y="550.8" width="80" height="80" fill="url(#gSEM)"/>
<ellipse cx="367.3" cy="575.4" rx="6.9" ry="6.9" fill="#2a2a2a"/>
<ellipse cx="374.4" cy="583.7" rx="9.3" ry="9.3" fill="#2a2a2a"/>
<ellipse cx="362.5" cy="590.9" rx="5.7" ry="5.7" fill="#2a2a2a"/>
<ellipse cx="378" cy="593.3" rx="6.3" ry="6.3" fill="#2a2a2a"/>
<ellipse cx="367.9" cy="604.1" rx="8.7" ry="8.7" fill="#2a2a2a"/>
<ellipse cx="384" cy="601.7" rx="9.3" ry="9.3" fill="#2a2a2a"/>
<ellipse cx="391.2" cy="587.3" rx="6.9" ry="6.9" fill="#2a2a2a"/>
<ellipse cx="400.8" cy="599.3" rx="6.3" ry="6.3" fill="#2a2a2a"/>
<ellipse cx="408" cy="604.1" rx="6.3" ry="6.3" fill="#2a2a2a"/>
<ellipse cx="418.8" cy="604.1" rx="6.9" ry="6.9" fill="#2a2a2a"/>
<ellipse cx="413.4" cy="593.3" rx="8.3" ry="8.3" fill="#2a2a2a"/>
<circle cx="371.9" cy="573.8" r="1.5" fill="#b8b8b8"/>
<circle cx="370.9" cy="577.3" r="1.4" fill="#b8b8b8"/>
<circle cx="370.5" cy="577.7" r="1.6" fill="#b8b8b8"/>
<circle cx="367.2" cy="579.6" r="1.5" fill="#b8b8b8"/>
<circle cx="364.7" cy="579.5" r="1.2" fill="#b8b8b8"/>
<circle cx="362.9" cy="578.7" r="1" fill="#b8b8b8"/>
<circle cx="360.9" cy="576.1" r="0.9" fill="#b8b8b8"/>
<circle cx="360.5" cy="573.6" r="1.6" fill="#b8b8b8"/>
<circle cx="361.2" cy="571.2" r="1.4" fill="#b8b8b8"/>
<circle cx="363.2" cy="569.1" r="1.7" fill="#b8b8b8"/>
<circle cx="365.6" cy="568.3" r="1.7" fill="#b8b8b8"/>
<circle cx="367.4" cy="568.4" r="0.9" fill="#b8b8b8"/>
<circle cx="370" cy="569.7" r="1.4" fill="#b8b8b8"/>
<circle cx="371.6" cy="572.3" r="1.4" fill="#b8b8b8"/>
<ellipse cx="366.2" cy="574" rx="6.6" ry="6.6" fill="#c0c0c0"/>
<circle cx="381.3" cy="581.9" r="0.9" fill="#b8b8b8"/>
<circle cx="380.5" cy="585.7" r="1.4" fill="#b8b8b8"/>
<circle cx="378.7" cy="588.1" r="1.4" fill="#b8b8b8"/>
<circle cx="377" cy="589.4" r="1.5" fill="#b8b8b8"/>
<circle cx="374.2" cy="590.2" r="1.3" fill="#b8b8b8"/>
<circle cx="372" cy="590.2" r="1.2" fill="#b8b8b8"/>
<circle cx="372.4" cy="590.2" r="1.2" fill="#b8b8b8"/>
<circle cx="369" cy="589" r="1.7" fill="#b8b8b8"/>
<circle cx="367" cy="587.3" r="1.1" fill="#b8b8b8"/>
<circle cx="365.5" cy="584.2" r="1" fill="#b8b8b8"/>
<circle cx="365.3" cy="582.9" r="1.2" fill="#b8b8b8"/>
<circle cx="365.4" cy="581" r="1.4" fill="#b8b8b8"/>
<circle cx="366.7" cy="577.8" r="1.5" fill="#b8b8b8"/>
<circle cx="368.2" cy="576.2" r="1.7" fill="#b8b8b8"/>
<circle cx="369.9" cy="575.1" r="1.3" fill="#b8b8b8"/>
<circle cx="372.4" cy="574.4" r="0.9" fill="#b8b8b8"/>
<circle cx="375.2" cy="574.5" r="1.6" fill="#b8b8b8"/>
<circle cx="377.4" cy="575.5" r="1.3" fill="#b8b8b8"/>
<circle cx="379.8" cy="577.7" r="1.1" fill="#b8b8b8"/>
<circle cx="380.9" cy="579.9" r="1" fill="#b8b8b8"/>
<ellipse cx="373.3" cy="582.3" rx="9" ry="9" fill="#c0c0c0"/>
<circle cx="366" cy="589.2" r="1.1" fill="#b8b8b8"/>
<circle cx="364.9" cy="592.4" r="1.5" fill="#b8b8b8"/>
<circle cx="363" cy="593.8" r="1.4" fill="#b8b8b8"/>
<circle cx="360.1" cy="593.9" r="1.5" fill="#b8b8b8"/>
<circle cx="359.1" cy="593.4" r="1" fill="#b8b8b8"/>
<circle cx="356.9" cy="590.3" r="1.6" fill="#b8b8b8"/>
<circle cx="357.4" cy="587.4" r="1.5" fill="#b8b8b8"/>
<circle cx="358" cy="586.5" r="1.4" fill="#b8b8b8"/>
<circle cx="361" cy="585" r="1.4" fill="#b8b8b8"/>
<circle cx="362.7" cy="585.1" r="1.7" fill="#b8b8b8"/>
<circle cx="365.2" cy="587" r="1.1" fill="#b8b8b8"/>
<ellipse cx="361.4" cy="589.5" rx="5.4" ry="5.4" fill="#c0c0c0"/>
<circle cx="381.9" cy="592.9" r="1.2" fill="#b8b8b8"/>
<circle cx="381.7" cy="593.7" r="1.4" fill="#b8b8b8"/>
<circle cx="379.9" cy="596.1" r="1.1" fill="#b8b8b8"/>
<circle cx="377.3" cy="597" r="1.4" fill="#b8b8b8"/>
<circle cx="374.7" cy="596.5" r="1.4" fill="#b8b8b8"/>
<circle cx="372.1" cy="593.7" r="1.7" fill="#b8b8b8"/>
<circle cx="371.8" cy="591.1" r="1.6" fill="#b8b8b8"/>
<circle cx="372.2" cy="589.8" r="1.6" fill="#b8b8b8"/>
<circle cx="373.6" cy="587.9" r="1.4" fill="#b8b8b8"/>
<circle cx="376" cy="586.8" r="1" fill="#b8b8b8"/>
<circle cx="380.2" cy="588" r="1" fill="#b8b8b8"/>
<circle cx="381.5" cy="589.7" r="1.3" fill="#b8b8b8"/>
<ellipse cx="376.9" cy="591.9" rx="6" ry="6" fill="#c0c0c0"/>
<circle cx="374.1" cy="601.2" r="1.5" fill="#b8b8b8"/>
<circle cx="374.1" cy="604" r="1.6" fill="#b8b8b8"/>
<circle cx="371.8" cy="608.1" r="1.3" fill="#b8b8b8"/>
<circle cx="370.6" cy="609" r="0.9" fill="#b8b8b8"/>
<circle cx="367.5" cy="610.1" r="0.9" fill="#b8b8b8"/>
<circle cx="365.4" cy="610" r="1.6" fill="#b8b8b8"/>
<circle cx="362.6" cy="608.8" r="1" fill="#b8b8b8"/>
<circle cx="360.7" cy="606.9" r="1.5" fill="#b8b8b8"/>
<circle cx="360" cy="605.7" r="1.5" fill="#b8b8b8"/>
<circle cx="359.4" cy="602.5" r="1.2" fill="#b8b8b8"/>
<circle cx="359.9" cy="600.1" r="1.1" fill="#b8b8b8"/>
<circle cx="360.7" cy="598.4" r="1.6" fill="#b8b8b8"/>
<circle cx="362.7" cy="596.5" r="1.5" fill="#b8b8b8"/>
<circle cx="365.1" cy="595.5" r="1.1" fill="#b8b8b8"/>
<circle cx="366.6" cy="595.3" r="1.7" fill="#b8b8b8"/>
<circle cx="371.1" cy="596.7" r="1.7" fill="#b8b8b8"/>
<circle cx="372.6" cy="598.1" r="0.9" fill="#b8b8b8"/>
<circle cx="373.4" cy="599.3" r="0.9" fill="#b8b8b8"/>
<ellipse cx="366.8" cy="602.7" rx="8.4" ry="8.4" fill="#c0c0c0"/>
<circle cx="390.9" cy="600.7" r="1.4" fill="#b8b8b8"/>
<circle cx="389.9" cy="604.1" r="1.1" fill="#b8b8b8"/>
<circle cx="389.8" cy="604.3" r="1.1" fill="#b8b8b8"/>
<circle cx="388.5" cy="606" r="0.9" fill="#b8b8b8"/>
<circle cx="385.4" cy="607.9" r="1.2" fill="#b8b8b8"/>
<circle cx="383.3" cy="608.3" r="1.7" fill="#b8b8b8"/>
<circle cx="381" cy="608.1" r="1.6" fill="#b8b8b8"/>
<circle cx="378.1" cy="606.7" r="1" fill="#b8b8b8"/>
<circle cx="377.4" cy="606.1" r="1.4" fill="#b8b8b8"/>
<circle cx="375" cy="601.6" r="0.9" fill="#b8b8b8"/>
<circle cx="374.9" cy="599.7" r="1.1" fill="#b8b8b8"/>
<circle cx="375.5" cy="597.3" r="1.6" fill="#b8b8b8"/>
<circle cx="376.9" cy="595" r="1.1" fill="#b8b8b8"/>
<circle cx="377.4" cy="594.5" r="1.7" fill="#b8b8b8"/>
<circle cx="381.7" cy="592.4" r="1.6" fill="#b8b8b8"/>
<circle cx="383" cy="592.3" r="0.9" fill="#b8b8b8"/>
<circle cx="385" cy="592.6" r="1.6" fill="#b8b8b8"/>
<circle cx="386.4" cy="593.1" r="1.1" fill="#b8b8b8"/>
<circle cx="388.4" cy="594.5" r="1.6" fill="#b8b8b8"/>
<circle cx="390.3" cy="597.4" r="1" fill="#b8b8b8"/>
<ellipse cx="382.9" cy="600.3" rx="9" ry="9" fill="#c0c0c0"/>
<circle cx="395.8" cy="585.6" r="1.1" fill="#b8b8b8"/>
<circle cx="395.3" cy="588.2" r="1.4" fill="#b8b8b8"/>
<circle cx="393.4" cy="590.6" r="1" fill="#b8b8b8"/>
<circle cx="391.3" cy="591.5" r="0.9" fill="#b8b8b8"/>
<circle cx="389" cy="591.5" r="1.5" fill="#b8b8b8"/>
<circle cx="387" cy="590.7" r="1.6" fill="#b8b8b8"/>
<circle cx="385.2" cy="588.9" r="1.2" fill="#b8b8b8"/>
<circle cx="384.4" cy="585.2" r="0.9" fill="#b8b8b8"/>
<circle cx="385" cy="583.3" r="1.3" fill="#b8b8b8"/>
<circle cx="386.9" cy="581.2" r="1.7" fill="#b8b8b8"/>
<circle cx="389.3" cy="580.3" r="1.1" fill="#b8b8b8"/>
<circle cx="390.7" cy="580.2" r="1.3" fill="#b8b8b8"/>
<circle cx="393.3" cy="581.1" r="1.3" fill="#b8b8b8"/>
<circle cx="394.8" cy="582.6" r="1.5" fill="#b8b8b8"/>
<ellipse cx="390.1" cy="585.9" rx="6.6" ry="6.6" fill="#c0c0c0"/>
<circle cx="404.8" cy="597.7" r="0.9" fill="#b8b8b8"/>
<circle cx="404.5" cy="599.8" r="1.6" fill="#b8b8b8"/>
<circle cx="401.6" cy="602.7" r="1.6" fill="#b8b8b8"/>
<circle cx="399.9" cy="603" r="1.7" fill="#b8b8b8"/>
<circle cx="397.7" cy="602.6" r="1.5" fill="#b8b8b8"/>
<circle cx="394.9" cy="599.6" r="1.1" fill="#b8b8b8"/>
<circle cx="394.7" cy="598.9" r="1" fill="#b8b8b8"/>
<circle cx="394.9" cy="596.1" r="1.5" fill="#b8b8b8"/>
<circle cx="397.3" cy="593.4" r="1.3" fill="#b8b8b8"/>
<circle cx="398.9" cy="592.8" r="1.4" fill="#b8b8b8"/>
<circle cx="401.6" cy="593.1" r="1" fill="#b8b8b8"/>
<circle cx="404.2" cy="595.5" r="1.4" fill="#b8b8b8"/>
<ellipse cx="399.7" cy="597.9" rx="6" ry="6" fill="#c0c0c0"/>
<circle cx="412" cy="603.3" r="1.6" fill="#b8b8b8"/>
<circle cx="411.7" cy="604.6" r="1.1" fill="#b8b8b8"/>
<circle cx="410.1" cy="606.7" r="1.3" fill="#b8b8b8"/>
<circle cx="407.9" cy="607.7" r="1.6" fill="#b8b8b8"/>
<circle cx="404" cy="606.9" r="1.5" fill="#b8b8b8"/>
<circle cx="402.5" cy="605.3" r="1.6" fill="#b8b8b8"/>
<circle cx="401.8" cy="602" r="1.6" fill="#b8b8b8"/>
<circle cx="402.8" cy="599.6" r="1.1" fill="#b8b8b8"/>
<circle cx="404.1" cy="598.4" r="0.9" fill="#b8b8b8"/>
<circle cx="407.4" cy="597.6" r="1.3" fill="#b8b8b8"/>
<circle cx="410.3" cy="598.8" r="1.1" fill="#b8b8b8"/>
<circle cx="411.3" cy="600" r="1.6" fill="#b8b8b8"/>
<ellipse cx="406.9" cy="602.7" rx="6" ry="6" fill="#c0c0c0"/>
<circle cx="423.3" cy="603.8" r="1.5" fill="#b8b8b8"/>
<circle cx="422.4" cy="605.9" r="1.6" fill="#b8b8b8"/>
<circle cx="421.6" cy="606.8" r="1.4" fill="#b8b8b8"/>
<circle cx="419.9" cy="608" r="1.4" fill="#b8b8b8"/>
<circle cx="415.5" cy="607.9" r="1.3" fill="#b8b8b8"/>
<circle cx="414.8" cy="607.6" r="1.4" fill="#b8b8b8"/>
<circle cx="413.1" cy="606" r="1.3" fill="#b8b8b8"/>
<circle cx="412.1" cy="603.7" r="1.2" fill="#b8b8b8"/>
<circle cx="412.9" cy="599.6" r="1.5" fill="#b8b8b8"/>
<circle cx="414.8" cy="597.8" r="1.3" fill="#b8b8b8"/>
<circle cx="416.3" cy="597.2" r="0.9" fill="#b8b8b8"/>
<circle cx="419.6" cy="597.3" r="1.4" fill="#b8b8b8"/>
<circle cx="421.1" cy="598.1" r="1" fill="#b8b8b8"/>
<circle cx="422.8" cy="600.1" r="1" fill="#b8b8b8"/>
<ellipse cx="417.7" cy="602.7" rx="6.6" ry="6.6" fill="#c0c0c0"/>
<ellipse cx="412.3" cy="591.9" rx="8" ry="8" fill="#c0c0c0"/>
<ellipse cx="366.2" cy="574" rx="6" ry="6" fill="url(#gSph2)"/>
<circle cx="363.5" cy="571" r="1" fill="#b0b0b0"/>
<circle cx="363.6" cy="576.4" r="1.1" fill="#b0b0b0"/>
<circle cx="368.8" cy="574.4" r="0.8" fill="#b0b0b0"/>
<circle cx="364.6" cy="576.4" r="1.1" fill="#b0b0b0"/>
<ellipse cx="373.3" cy="582.3" rx="8.4" ry="8.4" fill="url(#gSph2)"/>
<circle cx="374.8" cy="583.6" r="0.7" fill="#b0b0b0"/>
<circle cx="370.3" cy="581.6" r="1.3" fill="#b0b0b0"/>
<circle cx="377.8" cy="583.2" r="0.9" fill="#b0b0b0"/>
<circle cx="368.7" cy="582.9" r="1" fill="#b0b0b0"/>
<ellipse cx="361.4" cy="589.5" rx="4.8" ry="4.8" fill="url(#gSph2)"/>
<circle cx="363.9" cy="587.8" r="0.8" fill="#b0b0b0"/>
<circle cx="358.6" cy="586.8" r="1.3" fill="#b0b0b0"/>
<circle cx="363.5" cy="587.5" r="0.7" fill="#b0b0b0"/>
<circle cx="361.8" cy="588" r="1.1" fill="#b0b0b0"/>
<ellipse cx="376.9" cy="591.9" rx="5.4" ry="5.4" fill="url(#gSph2)"/>
<circle cx="379.6" cy="593.5" r="0.9" fill="#b0b0b0"/>
<circle cx="377.6" cy="590.5" r="1.2" fill="#b0b0b0"/>
<circle cx="375.3" cy="594.3" r="1.2" fill="#b0b0b0"/>
<circle cx="379.4" cy="590.9" r="1.4" fill="#b0b0b0"/>
<ellipse cx="366.8" cy="602.7" rx="7.8" ry="7.8" fill="url(#gSph2)"/>
<circle cx="367.6" cy="600.4" r="1.2" fill="#b0b0b0"/>
<circle cx="365" cy="599.1" r="0.7" fill="#b0b0b0"/>
<circle cx="367.8" cy="600.3" r="0.8" fill="#b0b0b0"/>
<circle cx="369.4" cy="599.3" r="1.2" fill="#b0b0b0"/>
<ellipse cx="382.9" cy="600.3" rx="8.4" ry="8.4" fill="url(#gSph2)"/>
<circle cx="380.6" cy="598.9" r="1.4" fill="#b0b0b0"/>
<circle cx="386.2" cy="603.7" r="1.4" fill="#b0b0b0"/>
<circle cx="383.9" cy="604.7" r="1.1" fill="#b0b0b0"/>
<circle cx="383.7" cy="598.5" r="1" fill="#b0b0b0"/>
<ellipse cx="390.1" cy="585.9" rx="6" ry="6" fill="url(#gSph2)"/>
<circle cx="390.6" cy="584.1" r="1.1" fill="#b0b0b0"/>
<circle cx="392.7" cy="587.5" r="0.9" fill="#b0b0b0"/>
<circle cx="386.7" cy="584.9" r="1" fill="#b0b0b0"/>
<circle cx="392.6" cy="586.2" r="1.1" fill="#b0b0b0"/>
<ellipse cx="399.7" cy="597.9" rx="5.4" ry="5.4" fill="url(#gSph2)"/>
<circle cx="400.4" cy="598.2" r="1.2" fill="#b0b0b0"/>
<circle cx="400.1" cy="598.2" r="0.9" fill="#b0b0b0"/>
<circle cx="397.3" cy="597.5" r="1.3" fill="#b0b0b0"/>
<circle cx="402.6" cy="596.6" r="1.1" fill="#b0b0b0"/>
<ellipse cx="406.9" cy="602.7" rx="5.4" ry="5.4" fill="url(#gSph2)"/>
<circle cx="407" cy="602.4" r="0.8" fill="#b0b0b0"/>
<circle cx="408.8" cy="600" r="0.9" fill="#b0b0b0"/>
<circle cx="405.5" cy="600.8" r="0.8" fill="#b0b0b0"/>
<circle cx="404.2" cy="602.9" r="0.8" fill="#b0b0b0"/>
<ellipse cx="417.7" cy="602.7" rx="6" ry="6" fill="url(#gSph2)"/>
<circle cx="418.7" cy="603.4" r="1.1" fill="#b0b0b0"/>
<circle cx="417.6" cy="603.5" r="0.9" fill="#b0b0b0"/>
<circle cx="417.4" cy="604.1" r="0.9" fill="#b0b0b0"/>
<circle cx="419.4" cy="603.3" r="1.4" fill="#b0b0b0"/>
<ellipse cx="412.3" cy="591.9" rx="7.4" ry="7.4" fill="url(#gSph2)"/>
</g></g>
<circle cx="387.7" cy="590.8" r="39.1" fill="none" stroke="#6a2ca2" stroke-width="2.8"/>
<text class="abm" x="470" y="542.8" font-size="12" fill="#111">HAPP4</text>
<clipPath id="ck5"><circle cx="470" cy="590.8" r="38.5"/></clipPath><g clip-path="url(#ck5)"><g filter="url(#bl)">
<rect x="430" y="550.8" width="80" height="80" fill="url(#gSEM)"/>
<ellipse cx="443.3" cy="577.7" rx="9.3" ry="9.3" fill="#2a2a2a"/>
<ellipse cx="445.7" cy="594.5" rx="7.5" ry="7.5" fill="#2a2a2a"/>
<ellipse cx="441.5" cy="605.3" rx="8.1" ry="8.1" fill="#2a2a2a"/>
<ellipse cx="452.9" cy="600.5" rx="8.1" ry="8.1" fill="#2a2a2a"/>
<ellipse cx="462.4" cy="605.3" rx="8.1" ry="8.1" fill="#2a2a2a"/>
<ellipse cx="476.2" cy="608.9" rx="7.5" ry="7.5" fill="#2a2a2a"/>
<ellipse cx="480.4" cy="594.5" rx="8.1" ry="8.1" fill="#2a2a2a"/>
<ellipse cx="492.4" cy="593.3" rx="10.9" ry="7.9" fill="#2a2a2a"/>
<ellipse cx="494.8" cy="575.4" rx="8.7" ry="8.7" fill="#2a2a2a"/>
<ellipse cx="499.6" cy="582.5" rx="6.3" ry="6.3" fill="#2a2a2a"/>
<ellipse cx="486.4" cy="578.9" rx="4.5" ry="4.5" fill="#2a2a2a"/>
<circle cx="450.2" cy="576.7" r="1.3" fill="#b8b8b8"/>
<circle cx="449.5" cy="579.6" r="1.1" fill="#b8b8b8"/>
<circle cx="448.9" cy="580.7" r="1.2" fill="#b8b8b8"/>
<circle cx="446.3" cy="583.2" r="1.5" fill="#b8b8b8"/>
<circle cx="445.6" cy="583.5" r="1.7" fill="#b8b8b8"/>
<circle cx="440.7" cy="584.1" r="1.3" fill="#b8b8b8"/>
<circle cx="438.3" cy="583.3" r="1.4" fill="#b8b8b8"/>
<circle cx="437.8" cy="583" r="1" fill="#b8b8b8"/>
<circle cx="436.8" cy="582.1" r="1.4" fill="#b8b8b8"/>
<circle cx="434.4" cy="578.1" r="1.4" fill="#b8b8b8"/>
<circle cx="434.3" cy="575.4" r="1.2" fill="#b8b8b8"/>
<circle cx="434.9" cy="573.1" r="1.4" fill="#b8b8b8"/>
<circle cx="436" cy="571.3" r="1.3" fill="#b8b8b8"/>
<circle cx="438" cy="569.5" r="1.3" fill="#b8b8b8"/>
<circle cx="438.5" cy="569.2" r="1.4" fill="#b8b8b8"/>
<circle cx="442.8" cy="568.3" r="1.2" fill="#b8b8b8"/>
<circle cx="446" cy="569.3" r="1.3" fill="#b8b8b8"/>
<circle cx="446" cy="569.3" r="1.3" fill="#b8b8b8"/>
<circle cx="448.4" cy="571.2" r="1" fill="#b8b8b8"/>
<circle cx="450.1" cy="575" r="1" fill="#b8b8b8"/>
<ellipse cx="442.2" cy="576.3" rx="9" ry="9" fill="#c0c0c0"/>
<circle cx="450.8" cy="593.6" r="1" fill="#b8b8b8"/>
<circle cx="450.3" cy="595.7" r="1.7" fill="#b8b8b8"/>
<circle cx="449.5" cy="597" r="1.6" fill="#b8b8b8"/>
<circle cx="447.7" cy="598.6" r="1.7" fill="#b8b8b8"/>
<circle cx="442.9" cy="599.1" r="1.3" fill="#b8b8b8"/>
<circle cx="441.2" cy="598.3" r="1.3" fill="#b8b8b8"/>
<circle cx="440.1" cy="597.4" r="1.2" fill="#b8b8b8"/>
<circle cx="438.5" cy="594.5" r="1.6" fill="#b8b8b8"/>
<circle cx="438.3" cy="592.8" r="1.3" fill="#b8b8b8"/>
<circle cx="439.5" cy="589.5" r="1.3" fill="#b8b8b8"/>
<circle cx="442.1" cy="587.3" r="1.4" fill="#b8b8b8"/>
<circle cx="443.5" cy="586.9" r="1.7" fill="#b8b8b8"/>
<circle cx="446.8" cy="587.2" r="1.1" fill="#b8b8b8"/>
<circle cx="448.9" cy="588.5" r="1.6" fill="#b8b8b8"/>
<circle cx="449.8" cy="589.6" r="1.4" fill="#b8b8b8"/>
<ellipse cx="444.6" cy="593.1" rx="7.2" ry="7.2" fill="#c0c0c0"/>
<circle cx="447.2" cy="603.9" r="1.1" fill="#b8b8b8"/>
<circle cx="447.1" cy="605.5" r="1.1" fill="#b8b8b8"/>
<circle cx="445.6" cy="608.4" r="1.2" fill="#b8b8b8"/>
<circle cx="443.2" cy="610.1" r="1.1" fill="#b8b8b8"/>
<circle cx="440.7" cy="610.7" r="1.3" fill="#b8b8b8"/>
<circle cx="437.8" cy="610.2" r="1.5" fill="#b8b8b8"/>
<circle cx="436.9" cy="609.8" r="1.7" fill="#b8b8b8"/>
<circle cx="434.5" cy="607.4" r="1.2" fill="#b8b8b8"/>
<circle cx="433.8" cy="605.8" r="1.5" fill="#b8b8b8"/>
<circle cx="433.6" cy="602.8" r="1.4" fill="#b8b8b8"/>
<circle cx="434.3" cy="600.9" r="1.6" fill="#b8b8b8"/>
<circle cx="435.8" cy="598.9" r="1.6" fill="#b8b8b8"/>
<circle cx="438.4" cy="597.4" r="1.2" fill="#b8b8b8"/>
<circle cx="441.2" cy="597.1" r="1.3" fill="#b8b8b8"/>
<circle cx="443.6" cy="597.8" r="1.3" fill="#b8b8b8"/>
<circle cx="446.2" cy="600.3" r="1.5" fill="#b8b8b8"/>
<circle cx="446.3" cy="600.4" r="1.7" fill="#b8b8b8"/>
<ellipse cx="440.4" cy="603.9" rx="7.8" ry="7.8" fill="#c0c0c0"/>
<circle cx="458.5" cy="597.8" r="0.9" fill="#b8b8b8"/>
<circle cx="457.8" cy="602.4" r="1.1" fill="#b8b8b8"/>
<circle cx="457.6" cy="602.7" r="1" fill="#b8b8b8"/>
<circle cx="454.9" cy="605.2" r="1.6" fill="#b8b8b8"/>
<circle cx="453.7" cy="605.7" r="1" fill="#b8b8b8"/>
<circle cx="451.2" cy="605.9" r="0.9" fill="#b8b8b8"/>
<circle cx="448.1" cy="604.8" r="1.3" fill="#b8b8b8"/>
<circle cx="445.4" cy="601.6" r="1.4" fill="#b8b8b8"/>
<circle cx="445" cy="599.4" r="1.4" fill="#b8b8b8"/>
<circle cx="445.4" cy="596.8" r="1.4" fill="#b8b8b8"/>
<circle cx="445.6" cy="596.1" r="1.2" fill="#b8b8b8"/>
<circle cx="447.6" cy="593.7" r="1" fill="#b8b8b8"/>
<circle cx="451.1" cy="592.3" r="1.3" fill="#b8b8b8"/>
<circle cx="451.6" cy="592.3" r="1.3" fill="#b8b8b8"/>
<circle cx="455.6" cy="593.4" r="1.1" fill="#b8b8b8"/>
<circle cx="457" cy="594.7" r="1" fill="#b8b8b8"/>
<circle cx="457.9" cy="596" r="1" fill="#b8b8b8"/>
<ellipse cx="451.8" cy="599.1" rx="7.8" ry="7.8" fill="#c0c0c0"/>
<circle cx="468.1" cy="603.9" r="1.5" fill="#b8b8b8"/>
<circle cx="467.9" cy="605.7" r="1.5" fill="#b8b8b8"/>
<circle cx="466.2" cy="608.7" r="1.5" fill="#b8b8b8"/>
<circle cx="463.1" cy="610.5" r="1.2" fill="#b8b8b8"/>
<circle cx="460.6" cy="610.7" r="1.3" fill="#b8b8b8"/>
<circle cx="459.4" cy="610.5" r="1" fill="#b8b8b8"/>
<circle cx="458.1" cy="610" r="1.4" fill="#b8b8b8"/>
<circle cx="456.1" cy="608.4" r="0.9" fill="#b8b8b8"/>
<circle cx="454.9" cy="606.3" r="1.3" fill="#b8b8b8"/>
<circle cx="454.5" cy="603.5" r="1.1" fill="#b8b8b8"/>
<circle cx="455.9" cy="599.7" r="1.3" fill="#b8b8b8"/>
<circle cx="456.5" cy="599.1" r="1.4" fill="#b8b8b8"/>
<circle cx="460.8" cy="597.1" r="1.4" fill="#b8b8b8"/>
<circle cx="461.8" cy="597.1" r="1.3" fill="#b8b8b8"/>
<circle cx="464.8" cy="598" r="1.6" fill="#b8b8b8"/>
<circle cx="466.8" cy="599.9" r="1.1" fill="#b8b8b8"/>
<circle cx="467.9" cy="602.2" r="1" fill="#b8b8b8"/>
<ellipse cx="461.3" cy="603.9" rx="7.8" ry="7.8" fill="#c0c0c0"/>
<circle cx="481.3" cy="606.6" r="1.3" fill="#b8b8b8"/>
<circle cx="481.1" cy="609.3" r="1.3" fill="#b8b8b8"/>
<circle cx="479.7" cy="611.8" r="1.7" fill="#b8b8b8"/>
<circle cx="477.2" cy="613.4" r="1.6" fill="#b8b8b8"/>
<circle cx="473.4" cy="613.5" r="1.3" fill="#b8b8b8"/>
<circle cx="471.4" cy="612.6" r="1.3" fill="#b8b8b8"/>
<circle cx="470.2" cy="611.4" r="1" fill="#b8b8b8"/>
<circle cx="468.9" cy="608.4" r="1.6" fill="#b8b8b8"/>
<circle cx="469.1" cy="605.7" r="1.2" fill="#b8b8b8"/>
<circle cx="470.1" cy="603.8" r="1.2" fill="#b8b8b8"/>
<circle cx="471.7" cy="602.2" r="1.5" fill="#b8b8b8"/>
<circle cx="473.2" cy="601.5" r="1.3" fill="#b8b8b8"/>
<circle cx="477.1" cy="601.5" r="1" fill="#b8b8b8"/>
<circle cx="479.7" cy="603.2" r="1.1" fill="#b8b8b8"/>
<circle cx="480.7" cy="604.7" r="1.1" fill="#b8b8b8"/>
<ellipse cx="475.1" cy="607.5" rx="7.2" ry="7.2" fill="#c0c0c0"/>
<circle cx="486.1" cy="593.4" r="1.2" fill="#b8b8b8"/>
<circle cx="485.5" cy="596" r="1.2" fill="#b8b8b8"/>
<circle cx="483.8" cy="598.3" r="1.3" fill="#b8b8b8"/>
<circle cx="483.3" cy="598.7" r="1.3" fill="#b8b8b8"/>
<circle cx="480.6" cy="599.8" r="1.1" fill="#b8b8b8"/>
<circle cx="476.3" cy="599.2" r="1.3" fill="#b8b8b8"/>
<circle cx="474.7" cy="598.1" r="1" fill="#b8b8b8"/>
<circle cx="473.3" cy="596.4" r="1" fill="#b8b8b8"/>
<circle cx="472.8" cy="595.1" r="1" fill="#b8b8b8"/>
<circle cx="472.5" cy="593.1" r="1.6" fill="#b8b8b8"/>
<circle cx="474.2" cy="588.5" r="1.2" fill="#b8b8b8"/>
<circle cx="474.2" cy="588.5" r="1.5" fill="#b8b8b8"/>
<circle cx="477.9" cy="586.4" r="0.9" fill="#b8b8b8"/>
<circle cx="480.7" cy="586.4" r="1" fill="#b8b8b8"/>
<circle cx="481.7" cy="586.7" r="1.5" fill="#b8b8b8"/>
<circle cx="484.8" cy="589.1" r="1.1" fill="#b8b8b8"/>
<circle cx="485.7" cy="590.6" r="1.5" fill="#b8b8b8"/>
<ellipse cx="479.3" cy="593.1" rx="7.8" ry="7.8" fill="#c0c0c0"/>
<circle cx="500.8" cy="592.2" r="1.3" fill="#b8b8b8"/>
<circle cx="500.7" cy="592.8" r="1" fill="#b8b8b8"/>
<circle cx="500.1" cy="594.5" r="1.3" fill="#b8b8b8"/>
<circle cx="497.8" cy="596.8" r="1.3" fill="#b8b8b8"/>
<circle cx="495.6" cy="597.8" r="1.4" fill="#b8b8b8"/>
<circle cx="493.2" cy="598.4" r="1.2" fill="#b8b8b8"/>
<circle cx="490" cy="598.5" r="1.3" fill="#b8b8b8"/>
<circle cx="487.5" cy="598" r="1.7" fill="#b8b8b8"/>
<circle cx="485.5" cy="597.2" r="1.5" fill="#b8b8b8"/>
<circle cx="484.1" cy="596.2" r="1.3" fill="#b8b8b8"/>
<circle cx="483.6" cy="595.8" r="1" fill="#b8b8b8"/>
<circle cx="482" cy="593.2" r="1.1" fill="#b8b8b8"/>
<circle cx="481.8" cy="591.6" r="1.3" fill="#b8b8b8"/>
<circle cx="482.2" cy="589.9" r="1.2" fill="#b8b8b8"/>
<circle cx="482.6" cy="589.2" r="1.1" fill="#b8b8b8"/>
<circle cx="485.1" cy="586.8" r="1.6" fill="#b8b8b8"/>
<circle cx="486" cy="586.4" r="1.2" fill="#b8b8b8"/>
<circle cx="488.6" cy="585.5" r="1.2" fill="#b8b8b8"/>
<circle cx="491.8" cy="585.3" r="1.5" fill="#b8b8b8"/>
<circle cx="494.7" cy="585.7" r="1.5" fill="#b8b8b8"/>
<circle cx="496.8" cy="586.5" r="1.7" fill="#b8b8b8"/>
<circle cx="497.9" cy="587.1" r="1.3" fill="#b8b8b8"/>
<circle cx="499.8" cy="588.9" r="1.2" fill="#b8b8b8"/>
<circle cx="500.7" cy="591" r="1.2" fill="#b8b8b8"/>
<ellipse cx="491.3" cy="591.9" rx="10.6" ry="7.6" fill="#c0c0c0"/>
<circle cx="501.1" cy="574.2" r="1.3" fill="#b8b8b8"/>
<circle cx="500.8" cy="576.2" r="0.9" fill="#b8b8b8"/>
<circle cx="499.8" cy="578.2" r="1.3" fill="#b8b8b8"/>
<circle cx="496.2" cy="581" r="1" fill="#b8b8b8"/>
<circle cx="493.8" cy="581.4" r="1.7" fill="#b8b8b8"/>
<circle cx="491.6" cy="581.1" r="1.1" fill="#b8b8b8"/>
<circle cx="491.3" cy="581" r="1.6" fill="#b8b8b8"/>
<circle cx="488.9" cy="579.7" r="1.1" fill="#b8b8b8"/>
<circle cx="486.4" cy="575.3" r="1.4" fill="#b8b8b8"/>
<circle cx="486.4" cy="573" r="1.6" fill="#b8b8b8"/>
<circle cx="486.5" cy="572.4" r="1.3" fill="#b8b8b8"/>
<circle cx="487.3" cy="570.2" r="1.2" fill="#b8b8b8"/>
<circle cx="490" cy="567.6" r="1.6" fill="#b8b8b8"/>
<circle cx="491.8" cy="566.8" r="1.4" fill="#b8b8b8"/>
<circle cx="493.9" cy="566.6" r="1.1" fill="#b8b8b8"/>
<circle cx="496.2" cy="567" r="1.4" fill="#b8b8b8"/>
<circle cx="499.5" cy="569.4" r="1.5" fill="#b8b8b8"/>
<circle cx="500.6" cy="571.2" r="1.6" fill="#b8b8b8"/>
<ellipse cx="493.7" cy="574" rx="8.4" ry="8.4" fill="#c0c0c0"/>
<circle cx="503.6" cy="581.6" r="1.4" fill="#b8b8b8"/>
<circle cx="502.5" cy="584.3" r="1" fill="#b8b8b8"/>
<circle cx="501.4" cy="585.3" r="1.3" fill="#b8b8b8"/>
<circle cx="498.3" cy="586.2" r="1.7" fill="#b8b8b8"/>
<circle cx="495.6" cy="585.3" r="0.9" fill="#b8b8b8"/>
<circle cx="493.7" cy="582.8" r="1.3" fill="#b8b8b8"/>
<circle cx="493.4" cy="581.7" r="1.5" fill="#b8b8b8"/>
<circle cx="494.2" cy="578.3" r="1.6" fill="#b8b8b8"/>
<circle cx="496" cy="576.6" r="1.1" fill="#b8b8b8"/>
<circle cx="498.4" cy="576" r="1.3" fill="#b8b8b8"/>
<circle cx="500.8" cy="576.5" r="1.4" fill="#b8b8b8"/>
<circle cx="502.5" cy="577.9" r="1.1" fill="#b8b8b8"/>
<ellipse cx="498.5" cy="581.1" rx="6" ry="6" fill="#c0c0c0"/>
<circle cx="488.7" cy="577" r="0.9" fill="#b8b8b8"/>
<circle cx="487.7" cy="579.9" r="1.5" fill="#b8b8b8"/>
<circle cx="485.4" cy="580.9" r="1.6" fill="#b8b8b8"/>
<circle cx="482.8" cy="579.8" r="1.4" fill="#b8b8b8"/>
<circle cx="481.9" cy="577.8" r="1.6" fill="#b8b8b8"/>
<circle cx="482.7" cy="575.2" r="1.6" fill="#b8b8b8"/>
<circle cx="485" cy="574.1" r="1.7" fill="#b8b8b8"/>
<circle cx="487.9" cy="575.3" r="1" fill="#b8b8b8"/>
<ellipse cx="485.3" cy="577.5" rx="4.2" ry="4.2" fill="#c0c0c0"/>
<ellipse cx="442.2" cy="576.3" rx="8.4" ry="8.4" fill="url(#gSph2)"/>
<circle cx="444.5" cy="572.8" r="1" fill="#b0b0b0"/>
<circle cx="441" cy="574.6" r="1" fill="#b0b0b0"/>
<circle cx="438.8" cy="575.3" r="0.8" fill="#b0b0b0"/>
<circle cx="445.2" cy="574.8" r="1.2" fill="#b0b0b0"/>
<ellipse cx="444.6" cy="593.1" rx="6.6" ry="6.6" fill="url(#gSph2)"/>
<circle cx="444" cy="596.9" r="1.3" fill="#b0b0b0"/>
<circle cx="446.2" cy="595.8" r="1.3" fill="#b0b0b0"/>
<circle cx="448" cy="592.4" r="1.1" fill="#b0b0b0"/>
<circle cx="441.2" cy="592" r="0.9" fill="#b0b0b0"/>
<ellipse cx="440.4" cy="603.9" rx="7.2" ry="7.2" fill="url(#gSph2)"/>
<circle cx="441.5" cy="599.6" r="1.2" fill="#b0b0b0"/>
<circle cx="436.7" cy="603.2" r="1" fill="#b0b0b0"/>
<circle cx="443.4" cy="605" r="0.8" fill="#b0b0b0"/>
<circle cx="441.8" cy="601.6" r="1.1" fill="#b0b0b0"/>
<ellipse cx="451.8" cy="599.1" rx="7.2" ry="7.2" fill="url(#gSph2)"/>
<circle cx="451.1" cy="603" r="1" fill="#b0b0b0"/>
<circle cx="449.8" cy="597.5" r="1.4" fill="#b0b0b0"/>
<circle cx="450.5" cy="596.9" r="1.1" fill="#b0b0b0"/>
<circle cx="453.3" cy="602.9" r="0.8" fill="#b0b0b0"/>
<ellipse cx="461.3" cy="603.9" rx="7.2" ry="7.2" fill="url(#gSph2)"/>
<circle cx="459.8" cy="605.8" r="1" fill="#b0b0b0"/>
<circle cx="463" cy="605.4" r="0.8" fill="#b0b0b0"/>
<circle cx="457.4" cy="601.1" r="0.9" fill="#b0b0b0"/>
<circle cx="458.6" cy="602.1" r="0.8" fill="#b0b0b0"/>
<ellipse cx="475.1" cy="607.5" rx="6.6" ry="6.6" fill="url(#gSph2)"/>
<circle cx="471.3" cy="607.7" r="1.2" fill="#b0b0b0"/>
<circle cx="472.4" cy="604.3" r="1.2" fill="#b0b0b0"/>
<circle cx="471.8" cy="604.6" r="1" fill="#b0b0b0"/>
<circle cx="473.5" cy="609.8" r="1.1" fill="#b0b0b0"/>
<ellipse cx="479.3" cy="593.1" rx="7.2" ry="7.2" fill="url(#gSph2)"/>
<circle cx="479.5" cy="592" r="0.7" fill="#b0b0b0"/>
<circle cx="482.1" cy="592.1" r="1.3" fill="#b0b0b0"/>
<circle cx="475.9" cy="592.5" r="1.1" fill="#b0b0b0"/>
<circle cx="476.3" cy="589.4" r="1.4" fill="#b0b0b0"/>
<ellipse cx="491.3" cy="591.9" rx="10" ry="7" fill="url(#gSph2)"/>
<circle cx="496.6" cy="596.1" r="1.1" fill="#b0b0b0"/>
<circle cx="494.1" cy="592.8" r="1" fill="#b0b0b0"/>
<circle cx="487.4" cy="593.1" r="1" fill="#b0b0b0"/>
<circle cx="493.4" cy="588.1" r="0.9" fill="#b0b0b0"/>
<ellipse cx="493.7" cy="574" rx="7.8" ry="7.8" fill="url(#gSph2)"/>
<circle cx="490.1" cy="576.5" r="1" fill="#b0b0b0"/>
<circle cx="491.7" cy="576.6" r="1.1" fill="#b0b0b0"/>
<circle cx="491.7" cy="573" r="0.7" fill="#b0b0b0"/>
<circle cx="489.6" cy="569.7" r="1.4" fill="#b0b0b0"/>
<ellipse cx="498.5" cy="581.1" rx="5.4" ry="5.4" fill="url(#gSph2)"/>
<circle cx="501" cy="581.4" r="1.4" fill="#b0b0b0"/>
<circle cx="498.8" cy="582.3" r="0.8" fill="#b0b0b0"/>
<circle cx="498.1" cy="581.8" r="1" fill="#b0b0b0"/>
<circle cx="499.5" cy="580.1" r="1.2" fill="#b0b0b0"/>
<ellipse cx="485.3" cy="577.5" rx="3.6" ry="3.6" fill="url(#gSph2)"/>
<circle cx="484" cy="577.5" r="1" fill="#b0b0b0"/>
<circle cx="485.4" cy="575.6" r="0.9" fill="#b0b0b0"/>
<circle cx="486.2" cy="576.1" r="1" fill="#b0b0b0"/>
<circle cx="487.4" cy="578" r="1.2" fill="#b0b0b0"/>
<circle cx="454.1" cy="564.4" r="2.4" fill="none" stroke="#999" stroke-width="0.8"/>
<circle cx="475.7" cy="556" r="2.6" fill="none" stroke="#999" stroke-width="0.8"/>
</g></g>
<circle cx="470" cy="590.8" r="39.1" fill="none" stroke="#6a2ca2" stroke-width="2.8"/>
<line x1="497.3" y1="623.8" x2="497.3" y2="628.6" stroke="#222" stroke-width="0.6"/>
<line x1="507.4" y1="623.8" x2="507.4" y2="628.6" stroke="#222" stroke-width="0.6"/>
<line x1="497.3" y1="626.6" x2="507.4" y2="626.6" stroke="#222" stroke-width="0.7"/>
<text class="abm" x="502.3" y="622.3" font-size="2.4" fill="#222">500nm</text>
<text x="0.6" y="640" font-family="'Liberation Sans', sans-serif" font-size="14" font-weight="bold" style="dominant-baseline:auto">O</text>
<rect x="2.8" y="641.3" width="513.2" height="79.3" rx="12" fill="url(#gO)" stroke="#c2c2c2" stroke-width="1.5"/>
<rect x="6.6" y="661" width="75.9" height="51.8" fill="#bfe5d9" stroke="#8e9a96" stroke-width="0.7"/>
<line x1="6.6" y1="667" x2="12.5" y2="661" stroke="#8e9a96" stroke-width="0.6"/>
<line x1="6.6" y1="706.8" x2="12.5" y2="712.8" stroke="#8e9a96" stroke-width="0.6"/>
<line x1="82.5" y1="667" x2="76.5" y2="661" stroke="#8e9a96" stroke-width="0.6"/>
<line x1="82.5" y1="706.8" x2="76.5" y2="712.8" stroke="#8e9a96" stroke-width="0.6"/>
<circle cx="18.4" cy="670.2" r="6.1" fill="#f8f8bd" stroke="#8c8c78" stroke-width="0.6"/>
<circle cx="36.1" cy="670.2" r="6.1" fill="#f8f8bd" stroke="#8c8c78" stroke-width="0.6"/>
<circle cx="53.1" cy="670.2" r="6.1" fill="#f8f8bd" stroke="#8c8c78" stroke-width="0.6"/>
<circle cx="70.6" cy="670.2" r="6.1" fill="#f8f8bd" stroke="#8c8c78" stroke-width="0.6"/>
<circle cx="18.4" cy="686.3" r="6.1" fill="#f8f8bd" stroke="#8c8c78" stroke-width="0.6"/>
<circle cx="36.1" cy="686.3" r="6.1" fill="#f8f8bd" stroke="#8c8c78" stroke-width="0.6"/>
<circle cx="53.1" cy="686.3" r="6.1" fill="#f8f8bd" stroke="#8c8c78" stroke-width="0.6"/>
<circle cx="70.6" cy="686.3" r="6.1" fill="#f8f8bd" stroke="#8c8c78" stroke-width="0.6"/>
<circle cx="18.4" cy="702.4" r="6.1" fill="#f8f8bd" stroke="#8c8c78" stroke-width="0.6"/>
<circle cx="36.1" cy="702.4" r="6.1" fill="#f8f8bd" stroke="#8c8c78" stroke-width="0.6"/>
<circle cx="53.1" cy="702.4" r="6.1" fill="#f8f8bd" stroke="#8c8c78" stroke-width="0.6"/>
<circle cx="70.6" cy="702.4" r="6.1" fill="#f8f8bd" stroke="#8c8c78" stroke-width="0.6"/>
<line x1="75.8" y1="676.5" x2="83.8" y2="691.5" stroke="#111" stroke-width="2.8" stroke-linecap="round"/>
<circle cx="70.2" cy="669.8" r="7.4" fill="none" stroke="#111" stroke-width="1.5"/>
<path d="M84,650 Q72,650 69,664" fill="none" stroke="#666" stroke-width="1.1"/>
<polygon points="66.5,662.5 71,663 68.5,667.5" fill="#666"/>
<line x1="88" y1="683" x2="101" y2="700.5" stroke="#111" stroke-width="1.4" stroke-dasharray="2.6,2.2"/>
<g transform="translate(99,666) rotate(-33)">
<rect x="-5" y="-22" width="10" height="42" rx="5" fill="#f4f4ec" stroke="#777" stroke-width="0.8"/>
<rect x="-5" y="-6" width="10" height="26" rx="5" fill="#dcc274"/>
<rect x="-5" y="-6" width="10" height="6" fill="#dcc274"/>
<rect x="-1.8" y="-4" width="3.6" height="13" fill="#b0b0a8"/>
<rect x="-5.8" y="-25" width="11.6" height="5.5" rx="1.5" fill="#4a4a4a"/>
</g>
<rect x="95.5" y="701.3" width="107.3" height="4.6" fill="#ececec" stroke="#9a9a9a" stroke-width="0.6"/>
<rect x="213.2" y="701.3" width="107" height="4.6" fill="#ececec" stroke="#9a9a9a" stroke-width="0.6"/>
<rect x="332.8" y="701.3" width="106.4" height="4.6" fill="#ececec" stroke="#9a9a9a" stroke-width="0.6"/>
<line x1="105" y1="697.6" x2="117.9" y2="697" stroke="#a8d468" stroke-width="3.6" stroke-linecap="round"/>
<circle cx="121" cy="697.1" r="3.1" fill="#e4e84a"/>
<circle cx="128.7" cy="697.8" r="3.1" fill="#eef050"/>
<circle cx="136.4" cy="698" r="3.1" fill="#d8dc52"/>
<circle cx="143" cy="698.1" r="3.1" fill="#c9c84e"/>
<line x1="146.5" y1="698.8" x2="157.8" y2="696.6" stroke="#a8d468" stroke-width="3.6" stroke-linecap="round"/>
<circle cx="162.3" cy="698.2" r="3.1" fill="#e4e84a"/>
<circle cx="170" cy="697" r="3.1" fill="#d8dc52"/>
<circle cx="176.5" cy="697" r="3.1" fill="#eef050"/>
<circle cx="184.3" cy="697" r="3.1" fill="#d8dc52"/>
<circle cx="192.2" cy="696.9" r="3.1" fill="#d8dc52"/>
<line x1="108.1" y1="689.5" x2="120.3" y2="691.8" stroke="#8fc24e" stroke-width="3.6" stroke-linecap="round"/>
<circle cx="124.9" cy="690.4" r="3.1" fill="#c9c84e"/>
<line x1="128.3" y1="690" x2="140.1" y2="690.7" stroke="#7fb444" stroke-width="3.6" stroke-linecap="round"/>
<circle cx="144.6" cy="691.2" r="3.1" fill="#d8dc52"/>
<line x1="148.5" y1="691" x2="160.3" y2="689.7" stroke="#a8d468" stroke-width="3.6" stroke-linecap="round"/>
<circle cx="164.7" cy="691.4" r="3.1" fill="#eef050"/>
<line x1="169.4" y1="690.5" x2="182.2" y2="692.3" stroke="#a8d468" stroke-width="3.6" stroke-linecap="round"/>
<line x1="183.9" y1="692.5" x2="194.5" y2="690.6" stroke="#7fb444" stroke-width="3.6" stroke-linecap="round"/>
<circle cx="119" cy="683.8" r="3.1" fill="#d8dc52"/>
<line x1="123" y1="685.3" x2="134.4" y2="684.2" stroke="#7fb444" stroke-width="3.6" stroke-linecap="round"/>
<line x1="136.8" y1="681.7" x2="145.1" y2="688.6" stroke="#7fb444" stroke-width="3.6" stroke-linecap="round"/>
<circle cx="150.9" cy="684.4" r="3.1" fill="#e4e84a"/>
<line x1="154.9" y1="686.8" x2="164.9" y2="681.5" stroke="#7fb444" stroke-width="3.6" stroke-linecap="round"/>
<circle cx="170.4" cy="683.8" r="3.1" fill="#eef050"/>
<line x1="176.5" y1="688.8" x2="186.8" y2="681.3" stroke="#7fb444" stroke-width="3.6" stroke-linecap="round"/>
<circle cx="129" cy="678" r="3.1" fill="#e4e84a"/>
<circle cx="136.3" cy="677.9" r="3.1" fill="#e4e84a"/>
<circle cx="142.3" cy="678.2" r="3.1" fill="#eef050"/>
<circle cx="149.3" cy="677.3" r="3.1" fill="#e4e84a"/>
<circle cx="155.7" cy="678" r="3.1" fill="#c9c84e"/>
<line x1="160.6" y1="681.2" x2="171.7" y2="674.6" stroke="#7fb444" stroke-width="3.6" stroke-linecap="round"/>
<circle cx="177.1" cy="678.2" r="3.1" fill="#d8dc52"/>
<circle cx="149" cy="672.2" r="3.1" fill="#c9c84e"/>
<circle cx="156.6" cy="671.1" r="3.1" fill="#e4e84a"/>
<circle cx="162.8" cy="670.9" r="3.1" fill="#d8dc52"/>
<rect x="193.6" y="686.3" width="17.6" height="3.6" fill="#8fd1f0"/>
<polygon points="210.2,683.1 217.2,688.1 210.2,693.1" fill="#8fd1f0"/>
<path d="M218,701 C220,692 221,681 225,680 C230,679 236,688 248.8,690.6 C256,691 258,674 263,674 C269,674 274,694 280.3,695 C286,695 286,679 291,679.3 C296,680 298,694 303,695 C306,694 306,692 309,693 C313,694 316,698 318,701 Z" fill="#ecdf9c"/>
<circle cx="222" cy="697" r="3" fill="#c8c850"/>
<circle cx="229" cy="697" r="3" fill="#eef060"/>
<line x1="232.8" y1="698.7" x2="243.2" y2="695.3" stroke="#9ac656" stroke-width="3.2" stroke-linecap="round"/>
<circle cx="249" cy="697" r="3" fill="#e8ea4a"/>
<circle cx="258" cy="697" r="3" fill="#c8c850"/>
<line x1="263.3" y1="693.5" x2="268.7" y2="700.5" stroke="#9ac656" stroke-width="3.2" stroke-linecap="round"/>
<circle cx="276" cy="697" r="3" fill="#c8c850"/>
<circle cx="287" cy="697" r="3" fill="#eef060"/>
<circle cx="296" cy="697" r="3" fill="#c8c850"/>
<circle cx="308" cy="697" r="3" fill="#d8d850"/>
<circle cx="233" cy="690" r="3" fill="#c8c850"/>
<line x1="238.5" y1="688" x2="245.5" y2="696" stroke="#8abc48" stroke-width="3.2" stroke-linecap="round"/>
<circle cx="262" cy="683" r="3" fill="#c8c850"/>
<circle cx="266" cy="690" r="3" fill="#e8ea4a"/>
<line x1="253.2" y1="687.6" x2="260.8" y2="690.4" stroke="#8abc48" stroke-width="3.2" stroke-linecap="round"/>
<circle cx="290" cy="688" r="3" fill="#e8ea4a"/>
<line x1="282.3" y1="690.3" x2="289.7" y2="693.7" stroke="#9ac656" stroke-width="3.2" stroke-linecap="round"/>
<line x1="224.1" y1="683.4" x2="231.9" y2="688.6" stroke="#9ac656" stroke-width="3.2" stroke-linecap="round"/>
<circle cx="263" cy="677" r="3" fill="#eef060"/>
<line x1="290.2" y1="688.3" x2="295.8" y2="679.7" stroke="#9ac656" stroke-width="3.2" stroke-linecap="round"/>
<line x1="296.2" y1="692.8" x2="303.8" y2="699.2" stroke="#9ac656" stroke-width="3.2" stroke-linecap="round"/>
<line x1="265.3" y1="692.9" x2="274.7" y2="695.1" stroke="#8abc48" stroke-width="3.2" stroke-linecap="round"/>
<text class="a" x="201.9" y="670.7" font-size="6.8" fill="#111">EPS</text>
<path d="M215.5,669.8 L226,669.8 L228.5,681" fill="none" stroke="#111" stroke-width="0.6"/>
<text class="a" x="307.2" y="672.6" font-size="6.8" fill="#111">Bacteria</text>
<path d="M306,672.5 L301,672.5 L286,683 M301,672.5 L290,686 M301,672.5 L293,687 M301,672.5 L296,685" fill="none" stroke="#111" stroke-width="0.6"/>
<rect x="324.9" y="687.2" width="7.1" height="3.6" fill="#8fd1f0"/>
<polygon points="331,684 338,689 331,694" fill="#8fd1f0"/>
<path d="M335,701 L338,693 L346,690 L352,693 L360,688 L368,692 L376,689 L384,694 L392,690 L400,692 L408,688 L418,691 L426,690 L434,694 L437,701 Z" fill="#6e6e6e"/>
<line x1="378.5" y1="681.1" x2="381" y2="673.3" stroke="#b4b4b4" stroke-width="2.2" stroke-linecap="round"/>
<line x1="348.3" y1="676.6" x2="353.8" y2="671.1" stroke="#b4b4b4" stroke-width="2.2" stroke-linecap="round"/>
<circle cx="393.8" cy="679.2" r="2.1" fill="#a6a6a6"/>
<line x1="402" y1="676.3" x2="406" y2="681.1" stroke="#b4b4b4" stroke-width="2.2" stroke-linecap="round"/>
<line x1="375.8" y1="677.3" x2="382.1" y2="679.4" stroke="#b4b4b4" stroke-width="2.2" stroke-linecap="round"/>
<line x1="381" y1="675.3" x2="383.3" y2="669.3" stroke="#b4b4b4" stroke-width="2.2" stroke-linecap="round"/>
<circle cx="386.8" cy="681.7" r="2.5" fill="#a6a6a6"/>
<circle cx="368.7" cy="684.6" r="2.7" fill="#a6a6a6"/>
<circle cx="381.3" cy="675.1" r="2.5" fill="#a6a6a6"/>
<circle cx="348.7" cy="688.4" r="2.3" fill="#a6a6a6"/>
<line x1="344.6" y1="682.7" x2="348.8" y2="677.7" stroke="#b4b4b4" stroke-width="2.2" stroke-linecap="round"/>
<circle cx="390.3" cy="683.5" r="2.2" fill="#a6a6a6"/>
<circle cx="395.6" cy="676.3" r="2.6" fill="#a6a6a6"/>
<line x1="417.5" y1="689" x2="422.3" y2="684" stroke="#b4b4b4" stroke-width="2.2" stroke-linecap="round"/>
<line x1="391.9" y1="682.6" x2="398.5" y2="683.6" stroke="#b4b4b4" stroke-width="2.2" stroke-linecap="round"/>
<circle cx="361.9" cy="673.5" r="2.5" fill="#a6a6a6"/>
<rect x="382" y="664" width="28" height="14" rx="2" fill="#e2e2e4"/>
<polygon points="378,652 405.7,651.7 402,667.4 374.2,667" fill="url(#pGel)" stroke="#78aef0" stroke-width="0.6"/>
<path d="M371,662 Q360,668 361,680" fill="none" stroke="#444" stroke-width="1.1"/>
<polygon points="358,677.5 364,677.5 361,682" fill="#444"/>
<rect x="435.3" y="687.2" width="17.6" height="3.6" fill="#8fd1f0"/>
<polygon points="451.9,684 458.9,689 451.9,694" fill="#8fd1f0"/>
<polygon points="461.7,679.9 470.6,669 514,669 505.1,679.9" fill="#e9eff3"/>
<rect x="461.7" y="679.9" width="43.4" height="21.6" fill="#bedbeb"/>
<rect x="488.6" y="679.9" width="15.6" height="21.6" fill="#5b89ae"/>
<polygon points="488.6,679.9 496.6,670 512.2,670 504.2,679.9" fill="#7fa6c4"/>
<polygon points="505.1,679.9 514,669 514,690.6 505.1,701.5" fill="#dde5ea"/>
<polygon points="461.7,701.2 505.1,701.2 514,689.1 514,691.1 505.1,703.2 461.7,703.2" fill="#2c3844"/>
<rect x="464.2" y="683.9" width="6" height="1.8" fill="#e6eef3"/>
<text class="abm" x="148.4" y="713.3" font-size="8.6" fill="#111">Bacterial culture</text>
<text class="abm" x="267.6" y="713.6" font-size="8.6" fill="#111">Mature biofilm</text>
<text class="abm" x="384" y="712.8" font-size="8.6" fill="#111">Treatment</text>
<text class="abm" x="488.5" y="712.8" font-size="8.6" fill="#111">OD595</text>
<text x="0.7" y="736.6" font-family="'Liberation Sans', sans-serif" font-size="14" font-weight="bold" style="dominant-baseline:auto">P</text>
<rect x="2.5" y="736" width="515.5" height="83" rx="11" fill="url(#gP)" stroke="#b4b4b4" stroke-width="1.6"/>
<text class="abm" x="12.9" y="783.3" font-size="13.8" transform="rotate(-90 12.9 783.3)">MRSA</text>
<text class="abm" x="267.6" y="783.3" font-size="13.8" transform="rotate(-90 267.6 783.3)">E.coli</text>
<text class="abm" x="48.4" y="744.6" font-size="12" fill="#111">Control</text>
<clipPath id="cp48"><circle cx="48.4" cy="783.4" r="28.6"/></clipPath><g clip-path="url(#cp48)"><g filter="url(#bl)">
<circle cx="48.4" cy="783.4" r="28.6" fill="#5a5aee"/>
<circle cx="50.4" cy="781.4" r="15" fill="#4844e6" opacity="0.35"/>
<circle cx="50.4" cy="781.4" r="8" fill="#4440e4" opacity="0.35"/>
<path d="M75.1,790.5h0M40.5,772.5h0M20.8,780.4h0M47.4,768.1h0M48.4,800.7h0M40.0,797.9h0M64.3,774.9h0M62.1,774.9h0M29.7,778.8h0M26.3,795.9h0M34.2,783.3h0M66.1,789.0h0M71.8,796.3h0M59.4,797.2h0M59.3,807.4h0M53.8,792.6h0M51.3,785.3h0M73.6,772.0h0M30.7,783.5h0M37.6,795.6h0M31.7,790.2h0M42.5,793.7h0M46.7,761.2h0M25.1,790.0h0M54.9,789.8h0M48.7,783.8h0M44.7,801.3h0M58.0,800.9h0M31.9,768.1h0M32.7,782.6h0M70.7,796.1h0M53.4,805.9h0M54.9,797.9h0M36.6,772.3h0M71.6,800.1h0M55.6,797.1h0M35.8,760.6h0M29.7,769.6h0M52.4,773.3h0M59.0,801.4h0M26.9,784.2h0M75.9,775.4h0M50.4,801.2h0M64.1,796.9h0M39.4,782.9h0M24.5,791.4h0M30.6,781.1h0M64.9,787.1h0M57.5,757.8h0M31.2,788.3h0M61.2,760.0h0M25.0,772.8h0M43.5,773.9h0M56.7,809.3h0M56.1,807.4h0M27.1,790.0h0M40.7,803.3h0M54.0,789.9h0M27.7,779.8h0M24.7,786.9h0M32.6,794.8h0M35.2,784.6h0M60.8,761.5h0M55.3,762.2h0M50.1,760.1h0M35.9,780.6h0M50.9,792.2h0M72.8,774.0h0M39.8,766.8h0M62.0,775.8h0M31.9,765.8h0M43.9,802.6h0M44.9,801.3h0M46.8,788.1h0M34.4,778.2h0M61.2,759.6h0M45.8,769.3h0M36.4,774.1h0M31.1,787.8h0M34.9,765.2h0M67.5,794.1h0M30.5,772.7h0M48.9,802.5h0M67.5,804.0h0M39.1,779.3h0M31.8,773.0h0M29.8,803.3h0M26.2,779.9h0M32.4,768.9h0M61.9,775.1h0" stroke="#8a8cf2" stroke-width="1" stroke-linecap="round" fill="none" />
<path d="M76.2,797.4h0M72.8,775.2h0M66.9,784.7h0M71.3,794.3h0M76.4,792.9h0M68.8,797.9h0M72.5,769.5h0M68.5,797.2h0M74.4,790.6h0M73.0,769.1h0M75.8,777.3h0M74.1,784.6h0M71.3,784.2h0M75.6,793.5h0M70.3,794.0h0M68.2,778.9h0M69.6,769.8h0M70.4,768.5h0M76.1,792.9h0M71.2,770.2h0M69.0,791.6h0M69.3,771.2h0M70.7,785.7h0M67.7,779.7h0M72.0,790.7h0M70.5,798.1h0M69.0,790.9h0M67.2,795.9h0M71.8,773.6h0M74.5,794.9h0M67.7,794.9h0M76.0,779.1h0M74.3,790.0h0M72.1,780.0h0M69.5,792.9h0M74.2,796.8h0M67.1,785.5h0M73.5,774.9h0M66.6,795.2h0M74.2,789.8h0" stroke="#c8c8f4" stroke-width="1" stroke-linecap="round" fill="none" />
</g></g>
<circle cx="48.4" cy="783.4" r="29.2" fill="none" stroke="#ee9636" stroke-width="1.9"/>
<text class="abm" x="108" y="744.6" font-size="12" fill="#111">HAP</text>
<clipPath id="cp108"><circle cx="108" cy="783.4" r="28.6"/></clipPath><g clip-path="url(#cp108)"><g filter="url(#bl)">
<circle cx="108" cy="783.4" r="28.6" fill="#6464ec"/>
<path d="M98.4,779.9h0M120.7,795.3h0M105.9,809.3h0M115.5,805.4h0M90.5,778.1h0M96.1,783.3h0M121.6,760.0h0M102.7,782.8h0M100.7,768.7h0M84.1,785.5h0M98.7,809.0h0M115.7,779.4h0M118.8,789.8h0M107.7,783.8h0M102.9,806.6h0M124.8,772.8h0M98.4,779.5h0M96.3,798.2h0M84.9,786.6h0M120.3,774.4h0M121.1,775.1h0M115.0,760.7h0M97.6,786.9h0M114.4,781.3h0M81.5,785.6h0M128.9,770.3h0M91.3,790.3h0M92.7,760.6h0M83.6,790.5h0M129.8,798.9h0M113.1,804.8h0M127.9,770.2h0M101.2,810.5h0M133.3,791.5h0M115.4,774.4h0M84.6,773.6h0M92.6,790.9h0M116.9,790.8h0M91.2,760.5h0M100.6,807.1h0M106.2,800.5h0M89.9,775.1h0M125.1,771.6h0M121.2,789.1h0M116.9,756.5h0M100.9,770.7h0M119.2,782.5h0M115.1,777.1h0M95.1,771.5h0M92.4,794.5h0M108.4,811.4h0M124.1,793.1h0M121.8,766.6h0M108.6,755.8h0M109.1,756.6h0M99.2,782.0h0M87.2,766.3h0M87.9,791.9h0M127.7,773.0h0M121.4,808.4h0M123.0,799.8h0M119.6,779.0h0M112.2,808.0h0M112.1,756.3h0M105.0,804.6h0M120.0,782.4h0M92.2,794.9h0M133.0,779.5h0M97.7,772.2h0M91.8,792.4h0M124.9,792.0h0M95.8,777.8h0M124.7,797.0h0M109.7,797.1h0M126.2,784.6h0M118.3,803.6h0M127.0,763.8h0M126.1,765.6h0M128.1,798.1h0M88.8,763.7h0M117.0,790.4h0M91.7,802.5h0M119.5,786.2h0M131.8,780.2h0M103.0,768.1h0M127.8,773.1h0M97.8,788.6h0M103.1,758.5h0M127.4,783.0h0M88.7,768.0h0M80.7,776.4h0M101.5,803.2h0M128.5,768.5h0M121.8,775.2h0M123.2,792.5h0M83.4,781.7h0M103.6,781.1h0M111.2,794.3h0M102.4,784.5h0M126.7,793.7h0M90.5,762.7h0M101.5,805.1h0M100.5,797.4h0M108.1,809.3h0M108.1,791.2h0M118.6,790.8h0M89.6,787.3h0M103.9,793.7h0M123.7,766.6h0M100.6,769.5h0M134.4,782.9h0M105.1,810.0h0M124.2,803.9h0M108.2,762.0h0M100.7,759.6h0M102.3,780.6h0M106.8,810.8h0M109.9,764.3h0M89.6,793.7h0M108.9,778.2h0M107.6,778.2h0M118.2,788.7h0M82.2,783.2h0M93.7,788.1h0M105.9,798.3h0M114.7,783.8h0M85.9,796.6h0M90.7,776.5h0M112.8,769.9h0M128.8,786.0h0M106.0,773.3h0M112.3,791.9h0M113.2,808.6h0M104.6,776.0h0M122.3,786.5h0M94.8,807.5h0M110.2,806.9h0M128.3,801.5h0M114.3,784.0h0M96.0,764.2h0M104.7,802.5h0M111.1,810.9h0M125.2,785.9h0M113.2,778.7h0M118.1,775.4h0M122.0,778.9h0M119.1,783.7h0M115.5,807.5h0M130.3,782.3h0M101.5,795.7h0M117.6,760.2h0M108.5,770.8h0M116.5,764.4h0M96.4,769.2h0M95.4,787.2h0M128.8,791.5h0M116.4,798.4h0M101.8,779.3h0M116.7,766.6h0M122.5,807.5h0" stroke="#9a9cf0" stroke-width="1" stroke-linecap="round" fill="none" />
<path d="M135.0,767.7h0M135.3,773.5h0M129.0,787.6h0M130.8,771.9h0M132.9,784.7h0M132.3,783.8h0M132.9,793.4h0M133.8,790.8h0M134.6,782.3h0M133.1,769.5h0M128.7,781.7h0M133.4,773.8h0M135.7,775.8h0M131.9,782.3h0M135.8,770.9h0M130.0,788.2h0M130.9,777.8h0M129.1,798.4h0M131.5,786.2h0M130.0,799.1h0M128.8,790.5h0M128.5,784.5h0M130.6,799.6h0M131.5,795.6h0M128.2,773.9h0M135.9,778.7h0M128.3,774.7h0M130.9,784.4h0M131.1,776.4h0M131.8,782.3h0M129.5,784.1h0M132.6,786.0h0M133.9,781.7h0M129.7,799.3h0M128.9,776.3h0M131.3,780.3h0M129.7,796.4h0M130.4,785.1h0M132.9,770.1h0M131.4,770.2h0M132.3,791.7h0M134.8,799.2h0M128.9,781.9h0M133.3,778.9h0M135.6,783.2h0M135.0,767.8h0M131.1,790.5h0M134.7,783.2h0M134.9,792.8h0M131.3,790.9h0" stroke="#d8d8f6" stroke-width="1" stroke-linecap="round" fill="none" />
</g></g>
<circle cx="108" cy="783.4" r="29.2" fill="none" stroke="#ee9636" stroke-width="1.9"/>
<text class="abm" x="168.9" y="744.6" font-size="12" fill="#111">HAPP1</text>
<clipPath id="cp168"><circle cx="168.9" cy="783.4" r="28.6"/></clipPath><g clip-path="url(#cp168)"><g filter="url(#bl)">
<circle cx="168.9" cy="783.4" r="28.6" fill="#d4d6f0"/>
<polygon points="154,769.9 160,764 165.4,761.4 172,759.5 178.6,760.4 186,764 190,769 192.5,776 191.9,782.3 189.5,788 186.2,793.6 182,799 178.6,803.1 172,805.5 165.4,805 160.5,801 161.6,797.4 165.4,788 163.5,780.4 158,779.5 153,776" fill="#6d6ce3"/>
<path d="M169.8,761.2h0M191.3,768.2h0M168.9,772.1h0M169.2,776.7h0M171.8,779.6h0M183.7,792.4h0M156.2,766.1h0M153.9,773.5h0M164.6,783.6h0M155.2,771.7h0M169.9,755.2h0M176.6,757.0h0M174.3,788.4h0M146.4,768.5h0M182.5,797.1h0M160.5,805.3h0M149.6,767.9h0M173.0,785.3h0M185.5,772.5h0M191.9,790.9h0M179.7,787.7h0M152.4,787.0h0M159.2,772.4h0M154.9,798.9h0M177.4,762.5h0M180.6,805.0h0M174.7,805.2h0M171.8,783.7h0M163.6,787.2h0M192.5,789.0h0M183.0,781.4h0M190.8,798.8h0M169.4,772.1h0M176.9,758.9h0M170.1,779.2h0M174.5,771.0h0M192.0,782.4h0M187.7,769.7h0M191.1,786.0h0M171.5,779.7h0M194.2,787.0h0M170.9,775.6h0M166.5,770.3h0M165.7,769.9h0M144.7,775.7h0M158.4,770.3h0M171.7,771.5h0M181.7,772.2h0M179.7,769.9h0M177.1,775.4h0M169.4,770.5h0M171.2,791.9h0M188.7,769.5h0M172.9,787.2h0M190.3,782.3h0M163.7,778.0h0M195.7,788.0h0M170.7,799.3h0M174.9,784.4h0M177.9,769.8h0M181.5,801.9h0M183.5,760.9h0M158.7,807.5h0M185.9,763.2h0M152.3,796.7h0M177.7,756.5h0M170.6,765.6h0M189.4,785.5h0M141.1,777.4h0M191.1,795.9h0M155.4,792.0h0M184.0,786.8h0M146.9,768.8h0M182.1,761.9h0M161.8,808.1h0M163.7,763.5h0M177.5,774.8h0M185.5,775.7h0M187.7,802.0h0M150.5,786.1h0M165.8,761.8h0M192.5,774.4h0M175.3,758.3h0M179.4,762.3h0M178.2,781.6h0M167.4,767.3h0M149.0,803.1h0M174.9,797.5h0M182.6,777.8h0M171.8,772.1h0M177.8,779.4h0M185.1,771.5h0M162.1,759.5h0M141.3,779.1h0M162.0,805.3h0M160.8,768.9h0M175.2,775.2h0M179.1,796.0h0M184.3,774.4h0M169.8,770.7h0M163.8,807.1h0M154.7,779.1h0M192.3,780.6h0M186.8,785.4h0M160.3,796.0h0M177.6,776.6h0M188.9,796.0h0M180.9,781.9h0M178.6,804.3h0M163.6,797.2h0M180.1,783.5h0M184.4,782.5h0M147.2,784.7h0M183.4,764.2h0M166.7,802.5h0M160.4,775.6h0M180.3,787.6h0M156.8,763.7h0M164.4,805.7h0M180.1,794.1h0M148.6,803.1h0M141.4,784.7h0M163.3,807.3h0M176.0,767.7h0M144.0,781.8h0M171.9,781.5h0M173.5,758.3h0M160.9,802.3h0M156.8,765.6h0M190.0,778.0h0M159.1,775.9h0M179.2,761.5h0M182.6,775.2h0M142.4,792.4h0M154.9,805.6h0M150.6,793.0h0M165.3,757.5h0M156.4,772.5h0M184.6,798.9h0M152.4,776.2h0M158.6,766.6h0M171.0,762.4h0M158.2,771.5h0M166.8,808.5h0M182.4,779.4h0M151.1,791.2h0M184.3,796.2h0M169.3,796.1h0M159.3,809.0h0M182.7,800.6h0M171.2,807.3h0M167.2,809.2h0M165.7,809.2h0M158.5,784.3h0M172.4,786.2h0M188.5,803.3h0M150.7,795.2h0M170.4,777.9h0M173.0,759.5h0M158.7,773.6h0" stroke="#a4a6ea" stroke-width="1" stroke-linecap="round" fill="none" />
<path d="M161.3,779.9h0M169.2,781.0h0M185.5,784.9h0M165.4,782.0h0M169.1,783.0h0M163.9,790.2h0M185.0,787.0h0M173.9,784.0h0M178.2,779.7h0M161.0,782.1h0M181.8,788.3h0M160.2,783.9h0M163.9,777.8h0M165.4,786.6h0M178.8,794.2h0M173.1,771.1h0M162.5,774.3h0M167.2,773.6h0M182.7,779.5h0M172.3,791.4h0M164.0,783.4h0M160.1,783.0h0M184.9,785.3h0M167.4,787.1h0M173.0,783.3h0M176.7,789.3h0M178.0,791.8h0M164.3,774.9h0M182.5,781.6h0M162.7,777.0h0M182.0,776.9h0M181.1,780.1h0M174.6,788.5h0M179.0,775.2h0M177.7,774.1h0M165.8,791.2h0M163.2,781.0h0M162.1,785.7h0M163.8,779.5h0M186.3,781.9h0M172.9,770.3h0M166.3,772.4h0M176.3,773.7h0M163.9,773.4h0M179.6,787.7h0M167.1,778.2h0M166.6,784.7h0M174.8,773.1h0M163.2,786.9h0M166.7,788.0h0M173.9,769.9h0M168.9,787.1h0M165.0,792.7h0M159.0,784.1h0M175.0,774.7h0M186.5,784.7h0M162.6,790.5h0M182.3,787.3h0M182.1,793.1h0M166.4,795.4h0" stroke="#9a9aec" stroke-width="1.1" stroke-linecap="round" fill="none" />
<path d="M168.0,775.3h0M164.8,783.4h0M164.8,788.5h0M168.7,795.1h0M174.6,783.3h0M180.2,785.1h0M171.5,774.3h0M181.3,787.0h0M171.9,797.1h0M171.9,790.2h0M163.5,779.5h0M176.6,776.6h0M177.0,789.5h0M166.5,791.0h0M183.0,782.3h0M174.7,787.7h0M164.0,784.1h0M176.7,793.4h0M166.4,774.1h0M170.6,774.0h0M166.1,783.1h0M178.1,772.4h0M163.8,782.6h0M173.5,774.3h0M177.4,785.2h0M176.5,771.9h0M173.5,777.0h0M166.7,771.5h0M178.3,787.8h0M166.6,775.9h0M186.7,784.9h0M178.4,776.3h0M185.3,789.5h0M173.2,772.5h0M171.1,770.1h0M164.8,791.3h0M162.0,775.2h0M168.5,796.5h0M163.5,781.1h0M173.8,770.7h0" stroke="#5a58dc" stroke-width="1.2" stroke-linecap="round" fill="none" />
<path d="M173.9,779.4 l-3,6 l2,5 l-4,6" fill="none" stroke="#e4e4f6" stroke-width="2.6"/>
</g></g>
<circle cx="168.9" cy="783.4" r="29.2" fill="none" stroke="#ee9636" stroke-width="1.9"/>
<text class="abm" x="228.6" y="744.6" font-size="12" fill="#111">HAPP3</text>
<clipPath id="cp228"><circle cx="228.6" cy="783.4" r="28.6"/></clipPath><g clip-path="url(#cp228)"><g filter="url(#bl)">
<circle cx="228.6" cy="783.4" r="28.6" fill="#e6e6f4"/>
<path d="M231.4,764.5 q-1.4,-1.1 8.0,-0.5" fill="none" stroke="#9290de" stroke-width="0.7"/>
<path d="M221.1,774.6 q-2.7,-1.1 3.1,-1.2" fill="none" stroke="#9290de" stroke-width="0.7"/>
<path d="M208.3,796.1 q-1.6,-1.4 5.6,3.8" fill="none" stroke="#9290de" stroke-width="0.9"/>
<path d="M209.7,798.2 q2.1,-2.9 -3.4,2.7" fill="none" stroke="#9290de" stroke-width="0.8"/>
<path d="M214.4,804.7 q-2.3,-1.9 3.1,3.9" fill="none" stroke="#9290de" stroke-width="1"/>
<path d="M207.5,762.3 q-2.3,1.0 7.3,-3.1" fill="none" stroke="#9290de" stroke-width="1"/>
<path d="M236.3,762.7 q3.2,-1.1 -2.0,2.3" fill="none" stroke="#9290de" stroke-width="0.9"/>
<path d="M234.2,763.9 q1.0,-2.1 5.2,2.2" fill="none" stroke="#9290de" stroke-width="1"/>
<path d="M235.0,804.4 q2.6,1.3 -2.2,-3.9" fill="none" stroke="#9290de" stroke-width="1.2"/>
<path d="M209.4,763.3 q0.8,3.0 -0.9,-2.3" fill="none" stroke="#9290de" stroke-width="0.5"/>
<path d="M213.7,777.3 q-1.2,-1.4 6.1,4.0" fill="none" stroke="#9290de" stroke-width="1.2"/>
<path d="M215.2,792.1 q-2.7,-0.2 0.0,-1.5" fill="none" stroke="#9290de" stroke-width="1"/>
<path d="M216.3,796.7 q2.1,0.8 -6.8,-3.0" fill="none" stroke="#9290de" stroke-width="1.1"/>
<path d="M248.8,771.9 q1.3,1.5 5.9,-2.9" fill="none" stroke="#9290de" stroke-width="0.6"/>
<path d="M209.4,791.9 q-1.1,1.2 -5.4,1.1" fill="none" stroke="#9290de" stroke-width="0.7"/>
<path d="M225.9,787.4 q3.6,-1.9 4.5,-3.6" fill="none" stroke="#9290de" stroke-width="0.6"/>
<path d="M237.3,765.1 q2.7,2.3 -4.5,1.7" fill="none" stroke="#9290de" stroke-width="1"/>
<path d="M249.6,783.2 q-1.1,2.3 -3.7,3.3" fill="none" stroke="#9290de" stroke-width="0.8"/>
<path d="M224.5,798.2 q2.1,-1.9 2.5,3.9" fill="none" stroke="#9290de" stroke-width="0.8"/>
<path d="M231.1,790.3 q1.8,-0.7 -1.9,-2.6" fill="none" stroke="#9290de" stroke-width="0.9"/>
<path d="M221.1,796.0 q-3.6,1.6 -5.4,2.9" fill="none" stroke="#9290de" stroke-width="1.1"/>
<path d="M222.3,765.8 q-2.3,-1.8 7.7,2.5" fill="none" stroke="#9290de" stroke-width="0.5"/>
<path d="M207.0,786.0 q-0.4,0.3 5.5,2.7" fill="none" stroke="#9290de" stroke-width="0.6"/>
<path d="M249.2,781.6 q-0.2,-2.1 -4.2,-2.5" fill="none" stroke="#9290de" stroke-width="0.7"/>
<path d="M230.5,772.7 q-1.8,-2.3 -6.9,3.3" fill="none" stroke="#9290de" stroke-width="0.8"/>
<path d="M226.5,767.2 q3.9,-2.9 4.5,-3.7" fill="none" stroke="#9290de" stroke-width="0.7"/>
<path d="M227.8,780.8h0M240.3,787.4h0M240.1,758.6h0M216.8,770.5h0M227.5,778.8h0M237.0,809.9h0M234.0,766.1h0M234.9,783.1h0M216.2,800.8h0M215.0,772.3h0M252.8,782.2h0M241.7,782.8h0M215.2,775.1h0M229.1,772.4h0M229.5,756.2h0M222.2,761.4h0M227.4,785.1h0M251.1,780.2h0M216.9,803.3h0M206.8,776.5h0M242.6,807.8h0M210.6,802.7h0M239.9,786.0h0M225.4,800.9h0M227.0,808.9h0M252.9,775.8h0M230.8,779.4h0M222.9,775.8h0M218.1,792.8h0M238.0,790.3h0M229.8,793.2h0M200.3,782.2h0M239.7,796.5h0M246.6,767.7h0M235.5,801.8h0M211.3,765.5h0M212.4,785.3h0M251.1,774.8h0M257.1,783.4h0M244.5,804.1h0M222.8,792.6h0M235.0,810.7h0M239.4,775.4h0M210.3,784.2h0M249.5,785.4h0M230.8,767.4h0M208.4,768.4h0M217.4,781.8h0M253.9,770.3h0M213.1,797.2h0M217.1,778.5h0M231.5,768.9h0M213.4,800.9h0M227.6,787.1h0M237.5,797.3h0M206.4,797.2h0M214.6,762.2h0M208.7,768.1h0M246.5,799.8h0M228.7,786.2h0M242.8,788.6h0M204.4,781.1h0M211.6,781.7h0M218.5,788.1h0M237.7,772.3h0M222.6,783.3h0M250.9,786.7h0M252.4,777.1h0M237.2,756.1h0M212.7,791.9h0M218.8,784.4h0M256.2,786.9h0M238.3,787.1h0M221.7,756.2h0M224.3,778.5h0M211.8,779.3h0M229.8,771.2h0M231.3,788.6h0M222.3,801.1h0M226.0,807.6h0M243.8,794.4h0M209.3,795.1h0M250.7,794.1h0M238.0,785.8h0M241.8,786.1h0M245.7,763.7h0M226.9,790.8h0M203.9,787.0h0M242.0,795.9h0M236.5,789.0h0M227.1,780.0h0M234.4,774.1h0M245.7,786.1h0M224.9,784.3h0M240.6,802.6h0M246.6,795.4h0M229.0,759.2h0M227.1,798.0h0M225.2,804.8h0M220.6,782.5h0M215.2,762.3h0M233.0,761.9h0M208.5,771.4h0M212.4,768.6h0M255.5,788.0h0M237.7,768.9h0M237.1,768.1h0M227.1,772.0h0M244.3,777.7h0M218.9,764.8h0M240.0,762.3h0M234.6,780.2h0M239.7,758.0h0M251.5,791.7h0M247.1,799.0h0M209.7,772.8h0M209.9,801.2h0M254.2,787.6h0M229.8,780.0h0M207.0,765.7h0M211.3,785.1h0M213.5,776.8h0M204.3,771.4h0M205.8,794.6h0M212.4,786.5h0M201.9,787.2h0M219.6,806.7h0M211.1,771.7h0M228.1,782.6h0M216.6,764.4h0M228.5,756.5h0M221.6,769.6h0M240.6,778.6h0M234.8,788.5h0M240.7,808.1h0M232.1,794.5h0M231.8,759.2h0M247.7,785.0h0M228.7,809.0h0M223.9,781.7h0" stroke="#a09ee2" stroke-width="0.9" stroke-linecap="round" fill="none" />
<path d="M229.9,770.5h0M224.5,775.2h0M232.0,770.7h0M228.8,772.4h0M226.4,766.8h0M222.1,767.5h0M221.1,766.7h0M230.7,774.1h0M222.5,765.1h0M228.4,775.3h0M227.9,774.8h0M227.2,763.9h0M230.3,777.3h0M220.3,769.5h0M230.7,776.9h0M230.8,766.6h0M230.5,766.2h0M223.2,776.0h0M230.9,769.8h0M224.2,774.5h0M223.2,767.2h0M220.6,773.2h0M229.1,767.0h0M229.5,773.1h0M226.8,771.8h0M224.2,763.6h0M226.2,774.0h0M228.0,766.0h0M231.3,770.0h0M218.4,774.2h0" stroke="#5e5cd2" stroke-width="1.2" stroke-linecap="round" fill="none" />
<path d="M220.6,764.4 l10,0 l2,3 l-12,0 z" fill="#6a68d8"/>
</g></g>
<circle cx="228.6" cy="783.4" r="29.2" fill="none" stroke="#ee9636" stroke-width="1.9"/>
<text class="abm" x="304" y="744.6" font-size="12" fill="#111">Control</text>
<clipPath id="cp304"><circle cx="304" cy="783.4" r="28.6"/></clipPath><g clip-path="url(#cp304)"><g filter="url(#bl)">
<circle cx="304" cy="783.4" r="28.6" fill="#5656e6"/>
<path d="M303.5,790.5h0M294.0,788.7h0M317.4,767.9h0M281.9,791.9h0M325.8,795.6h0M308.7,785.2h0M311.2,758.9h0M318.6,759.9h0M303.2,799.0h0M320.1,771.9h0M311.9,785.8h0M303.7,788.9h0M300.8,776.5h0M319.0,791.8h0M321.2,761.1h0M304.2,783.2h0M294.7,789.2h0M297.4,776.8h0M311.8,794.4h0M326.9,775.7h0M303.7,780.6h0M331.8,784.4h0M281.8,783.3h0M311.4,759.3h0M308.5,794.4h0M295.3,785.6h0M298.1,763.5h0M311.8,785.7h0M321.5,802.7h0M318.6,777.7h0M306.3,773.2h0M280.0,776.1h0M324.1,772.5h0M284.0,780.4h0M311.8,800.2h0M278.0,781.5h0M295.3,756.2h0M330.9,774.5h0M277.3,789.3h0M287.1,770.7h0M316.4,766.7h0M293.8,772.2h0M298.7,759.5h0M328.9,769.6h0M296.4,758.4h0M321.9,765.6h0M279.8,776.0h0M302.1,788.0h0M318.5,768.9h0M323.4,764.0h0M303.0,771.2h0M307.9,769.2h0M306.5,769.4h0M320.5,780.4h0M304.7,792.5h0M290.0,765.6h0M298.7,797.8h0M317.3,781.1h0M310.1,769.4h0M329.6,791.4h0M321.4,775.9h0M308.5,795.4h0M305.8,798.3h0M291.0,799.7h0M293.6,784.3h0M283.6,777.9h0M286.2,785.8h0M313.0,794.1h0M314.7,796.0h0M309.9,763.6h0M306.5,770.9h0M275.7,783.8h0M331.2,781.5h0M318.9,790.5h0M277.5,786.2h0M292.4,806.6h0M313.7,808.2h0M323.9,788.2h0M302.2,785.1h0M293.7,803.6h0M294.8,780.0h0M310.2,772.6h0M310.2,757.9h0M320.4,797.7h0M286.1,787.3h0M320.5,766.8h0M300.7,760.0h0M313.6,794.7h0M278.8,789.8h0M325.7,765.0h0M327.3,770.4h0M318.7,765.8h0M324.6,779.7h0M294.1,762.3h0M301.8,783.2h0M308.7,759.4h0M299.7,796.2h0M326.6,788.8h0M317.8,767.4h0M287.5,784.2h0" stroke="#7c7ef0" stroke-width="1" stroke-linecap="round" fill="none" />
</g></g>
<circle cx="304" cy="783.4" r="29.2" fill="none" stroke="#ee9636" stroke-width="1.9"/>
<text class="abm" x="364.3" y="744.6" font-size="12" fill="#111">HAP</text>
<clipPath id="cp364"><circle cx="364.3" cy="783.4" r="28.6"/></clipPath><g clip-path="url(#cp364)"><g filter="url(#bl)">
<circle cx="364.3" cy="783.4" r="28.6" fill="#5a5ae6"/>
<ellipse cx="364.3" cy="795.4" rx="14" ry="9" fill="#8a8cec" opacity="0.3"/>
<path d="M349.0,791.1h0M352.3,775.4h0M357.6,781.3h0M349.4,768.3h0M338.1,775.0h0M390.4,775.5h0M354.7,797.3h0M348.9,798.1h0M380.8,800.2h0M368.8,760.9h0M374.4,788.0h0M363.5,798.7h0M346.1,776.3h0M371.8,806.1h0M350.7,778.9h0M365.7,781.1h0M340.2,775.7h0M389.0,776.3h0M365.1,807.2h0M369.5,809.4h0M353.4,775.6h0M367.9,788.7h0M369.8,806.1h0M365.3,786.3h0M361.3,774.0h0M391.1,791.8h0M364.0,759.9h0M372.3,757.3h0M362.7,766.9h0M358.1,767.5h0M348.5,779.8h0M342.6,769.2h0M376.9,760.6h0M384.1,778.3h0M347.8,799.0h0M357.2,775.8h0M389.3,783.1h0M360.6,788.5h0M385.0,790.9h0M353.9,804.1h0M352.4,780.3h0M380.6,803.5h0M347.7,770.0h0M365.1,786.9h0M366.6,781.5h0M380.3,769.2h0M360.6,793.5h0M386.6,769.4h0M356.0,781.7h0M351.0,784.1h0M363.7,774.9h0M342.4,786.2h0M384.0,776.6h0M350.3,802.2h0M344.7,787.0h0M379.5,784.0h0M352.5,789.0h0M355.0,793.1h0M381.2,800.7h0M380.0,761.9h0M351.1,793.0h0M372.1,805.9h0M360.9,758.3h0M366.5,773.3h0M339.4,774.7h0M380.0,793.9h0M361.3,801.9h0M359.8,791.8h0M368.2,788.6h0M391.0,789.2h0M350.7,762.7h0M367.4,764.2h0M355.8,809.6h0M346.1,766.5h0M374.0,783.6h0M387.7,773.5h0M379.1,778.5h0M346.8,776.1h0M362.8,781.7h0M369.5,794.3h0M344.2,791.9h0M382.8,778.3h0M351.1,769.2h0M370.4,761.7h0M347.8,772.0h0M375.1,797.3h0M366.8,763.3h0M355.9,758.3h0M392.7,781.1h0M383.6,768.9h0M351.5,763.0h0M357.9,794.0h0M367.3,773.3h0M343.0,770.4h0M379.7,764.9h0M374.0,783.6h0M359.3,788.1h0M351.8,802.8h0M346.9,763.1h0M342.5,773.6h0M346.0,777.5h0M367.1,763.8h0M362.7,779.6h0M367.4,802.5h0M359.2,807.4h0M368.8,809.5h0M364.3,793.2h0M341.2,777.4h0M373.2,766.5h0M391.2,777.5h0M368.1,799.3h0M353.6,794.9h0M377.6,799.2h0M353.9,774.2h0M369.1,780.4h0M362.7,787.2h0M379.1,763.0h0M347.8,762.0h0M365.3,766.6h0M361.3,798.7h0M351.9,759.4h0M348.9,795.1h0M355.7,808.9h0M344.6,772.1h0M364.0,773.9h0M352.6,760.7h0M364.6,797.6h0M371.3,775.5h0M356.6,770.7h0M341.1,781.8h0M366.3,800.3h0M387.6,775.4h0M377.2,805.0h0M351.7,765.0h0M380.3,772.1h0M364.4,754.9h0M369.0,780.0h0M347.7,765.8h0M353.5,773.0h0M355.1,774.6h0M357.6,809.7h0M367.1,789.7h0M354.8,796.0h0M360.2,763.4h0M376.0,808.0h0M345.4,798.0h0M380.2,774.6h0M365.4,810.8h0M365.7,804.9h0M358.7,791.9h0M363.5,795.4h0M377.7,795.9h0M379.2,767.0h0M373.0,800.2h0M378.4,765.0h0M367.1,755.6h0M391.2,791.9h0M349.8,789.2h0M353.6,786.7h0M380.7,803.9h0M366.5,784.3h0M383.2,765.6h0M371.5,766.0h0M354.1,800.0h0M380.3,795.4h0M375.6,763.2h0M355.7,797.4h0M347.4,764.5h0M363.1,764.5h0M350.7,763.8h0M347.8,760.6h0M359.3,774.1h0M343.7,765.0h0M358.8,758.9h0M352.7,757.4h0M378.0,761.8h0M362.5,762.6h0M376.0,759.7h0M346.9,764.3h0M379.3,798.9h0" stroke="#8486ee" stroke-width="1" stroke-linecap="round" fill="none" />
<path d="M383.4,779.1h0M359.6,774.9h0M373.0,782.5h0M376.1,779.8h0M383.9,789.1h0M351.2,778.9h0M349.0,807.2h0M338.4,777.8h0M360.3,789.5h0M341.6,793.2h0M343.3,770.7h0M353.6,759.0h0M387.3,794.0h0M388.9,788.7h0M367.0,780.3h0M367.1,773.7h0M345.8,788.3h0M387.6,789.4h0M347.4,786.8h0M345.0,804.0h0M378.9,776.3h0M354.2,805.7h0M360.7,759.2h0M373.9,778.9h0M347.7,765.7h0M365.9,769.1h0M354.8,780.6h0M388.9,788.6h0M360.4,802.4h0M380.1,795.5h0M377.3,792.5h0M381.1,768.5h0M366.2,765.6h0M349.2,790.6h0M371.0,790.0h0M353.5,761.7h0M344.4,781.8h0M375.1,790.3h0M363.3,785.7h0M344.7,783.9h0M372.7,792.8h0M378.3,780.3h0M388.1,793.5h0M351.4,779.4h0M347.5,790.9h0M357.9,781.2h0M356.7,764.9h0M369.4,796.3h0M355.7,762.2h0M370.9,790.4h0M367.1,802.2h0M370.0,808.5h0M367.9,784.4h0M347.5,773.2h0M356.5,770.0h0M351.4,765.3h0M341.6,786.6h0M360.6,800.8h0M377.2,808.0h0M373.3,807.8h0" stroke="#4444d0" stroke-width="1" stroke-linecap="round" fill="none" />
</g></g>
<circle cx="364.3" cy="783.4" r="29.2" fill="none" stroke="#ee9636" stroke-width="1.9"/>
<text class="abm" x="424.4" y="744.6" font-size="12" fill="#111">HAPP1</text>
<clipPath id="cp424"><circle cx="424.4" cy="783.4" r="28.6"/></clipPath><g clip-path="url(#cp424)"><g filter="url(#bl)">
<circle cx="424.4" cy="783.4" r="28.6" fill="#c8c8ee"/>
<path d="M398.4,779.4 C406.4,767.4 416.4,775.4 420.4,781.4 C424.4,789.4 430.4,785.4 432.4,779.4 C436.4,775.4 442.4,783.4 445.4,791.4 C440.4,807.4 410.4,813.4 398.4,779.4 Z" fill="#7070e0"/>
<path d="M414.3,787.4h0M416.4,778.9h0M432.1,808.6h0M399.5,778.8h0M436.6,799.8h0M431.7,770.9h0M427.8,806.0h0M429.5,789.0h0M417.7,797.7h0M451.3,781.9h0M432.6,785.2h0M410.3,806.7h0M400.1,778.8h0M448.7,787.5h0M418.1,766.7h0M417.1,797.6h0M434.8,790.3h0M450.1,775.9h0M412.1,790.4h0M449.0,795.2h0M444.8,802.2h0M397.1,791.3h0M409.9,793.8h0M440.8,800.9h0M406.7,776.1h0M404.8,802.2h0M436.1,786.8h0M427.2,796.9h0M421.8,765.1h0M424.1,787.0h0M407.6,768.2h0M398.9,792.8h0M442.3,769.8h0M406.9,779.5h0M412.0,798.1h0M409.9,769.6h0M419.0,803.9h0M436.6,761.5h0M434.1,792.2h0M405.3,771.0h0M437.6,802.2h0M433.2,773.0h0M438.1,807.5h0M427.7,790.4h0M430.2,808.0h0M423.7,761.9h0M423.7,779.0h0M434.7,782.6h0M409.6,766.2h0M438.7,787.5h0M439.8,765.8h0M421.3,761.5h0M405.7,774.8h0M401.8,784.1h0M413.9,775.3h0M401.4,790.6h0M399.9,793.0h0M426.3,770.5h0M433.0,795.4h0M445.9,800.5h0M448.6,774.4h0M403.2,779.5h0M448.3,793.7h0M402.0,797.7h0M442.0,781.2h0M432.9,804.6h0M420.0,799.9h0M428.4,799.7h0M444.3,763.2h0M406.6,788.4h0M415.7,771.8h0M408.1,776.1h0M430.1,756.3h0M405.5,784.8h0M416.6,794.6h0M448.0,797.7h0M432.6,789.3h0M406.8,763.3h0M421.2,793.9h0M422.3,783.4h0M409.5,777.1h0M416.8,780.6h0M443.8,782.7h0M402.6,767.2h0M443.5,802.2h0M413.2,774.7h0M420.6,775.6h0M438.3,794.0h0M430.5,807.3h0M430.0,766.6h0M424.9,770.2h0M401.6,791.9h0M432.6,798.9h0M404.2,788.1h0M402.0,779.2h0M416.5,775.1h0M419.2,784.2h0M402.1,785.0h0M400.1,794.9h0M397.9,782.5h0M421.9,781.3h0M439.0,759.2h0M416.1,782.3h0M405.7,781.0h0M415.9,762.8h0M429.5,779.7h0M403.0,785.4h0M408.7,787.3h0M414.0,795.9h0M415.0,798.2h0M415.1,798.9h0M438.8,779.2h0M423.3,759.7h0M412.6,769.8h0M441.4,799.7h0M431.9,798.5h0M420.4,791.4h0M425.7,805.0h0M424.3,806.4h0M417.9,769.3h0" stroke="#a0a2ea" stroke-width="1" stroke-linecap="round" fill="none" />
<path d="M408.9,791.4h0M413.1,782.5h0M413.2,806.1h0M426.2,791.2h0M411.0,793.3h0M413.7,796.7h0M412.3,796.8h0M425.9,787.2h0M410.6,795.3h0M420.4,804.1h0M427.2,792.3h0M418.2,801.5h0M420.5,782.8h0M415.1,782.6h0M423.2,801.2h0M422.2,780.9h0M415.7,779.9h0M423.5,800.5h0M410.0,799.4h0M422.6,805.6h0M425.9,792.2h0M416.4,790.7h0M408.7,801.4h0M419.0,800.8h0M417.8,786.0h0M411.6,782.7h0M424.5,793.4h0M415.2,806.7h0M414.6,789.4h0M410.6,787.2h0M411.4,793.7h0M416.2,792.6h0M427.8,789.2h0M421.4,793.7h0M430.9,796.1h0M430.5,789.5h0M409.8,785.2h0M412.5,803.1h0M406.2,799.1h0M415.4,785.6h0M410.4,783.1h0M419.9,781.5h0M430.9,788.6h0M413.3,780.9h0M418.1,795.1h0M408.0,799.0h0M418.8,802.4h0M416.7,789.1h0M422.2,790.8h0M417.1,786.3h0M422.2,804.9h0M414.1,789.7h0M409.9,799.0h0M415.9,791.8h0M418.4,786.1h0M430.1,793.9h0M419.6,803.8h0M422.9,802.9h0M407.7,787.8h0M410.3,793.7h0" stroke="#5a5ad6" stroke-width="1" stroke-linecap="round" fill="none" />
<path d="M418.7,757.4 q2,8 2.4,16" fill="none" stroke="#b2b2ec" stroke-width="0.9"/>
<path d="M417.4,757.4 q2,8 -0.7,16" fill="none" stroke="#b2b2ec" stroke-width="0.9"/>
<path d="M422.1,757.4 q2,8 -1.1,16" fill="none" stroke="#b2b2ec" stroke-width="0.9"/>
<path d="M429.4,757.4 q2,8 -0.0,16" fill="none" stroke="#b2b2ec" stroke-width="0.9"/>
<path d="M431.5,757.4 q2,8 -0.9,16" fill="none" stroke="#b2b2ec" stroke-width="0.9"/>
<path d="M432.5,757.4 q2,8 2.0,16" fill="none" stroke="#b2b2ec" stroke-width="0.9"/>
</g></g>
<circle cx="424.4" cy="783.4" r="29.2" fill="none" stroke="#ee9636" stroke-width="1.9"/>
<text class="abm" x="484.5" y="744.6" font-size="12" fill="#111">HAPP3</text>
<clipPath id="cp484"><circle cx="484.5" cy="783.4" r="28.6"/></clipPath><g clip-path="url(#cp484)"><g filter="url(#bl)">
<circle cx="484.5" cy="783.4" r="28.6" fill="#d8d8f2"/>
<path d="M479.0,808.4h0M487.4,804.6h0M469.0,804.4h0M473.2,801.7h0M477.5,808.8h0M506.1,776.5h0M488.3,771.7h0M508.3,778.7h0M486.2,767.7h0M497.7,785.4h0M471.8,762.6h0M497.2,778.8h0M502.0,779.1h0M487.6,795.9h0M462.3,782.3h0M464.7,800.3h0M475.4,775.2h0M460.8,770.4h0M476.6,770.0h0M468.0,770.9h0M497.3,761.8h0M484.8,791.9h0M499.2,768.8h0M490.7,788.3h0M493.5,780.5h0M481.7,781.3h0M499.2,760.6h0M471.3,783.0h0M479.7,789.8h0M478.4,810.2h0M461.8,771.3h0M480.2,806.8h0M463.5,783.9h0M501.1,782.7h0M501.8,769.1h0M474.5,786.2h0M504.4,799.4h0M490.8,795.5h0M505.7,800.6h0M465.7,767.7h0M479.2,810.0h0M473.9,801.3h0M472.8,795.3h0M488.6,788.9h0M465.5,803.5h0M468.0,762.0h0M505.2,784.7h0M482.3,765.7h0M508.7,794.1h0M505.3,777.1h0M483.4,784.1h0M489.9,775.3h0M504.1,798.4h0M494.1,787.7h0M469.7,788.1h0M494.0,769.5h0M482.5,758.8h0M494.4,779.5h0M468.4,795.4h0M501.6,767.3h0M456.3,788.2h0M501.8,789.5h0M478.6,757.3h0M496.6,788.8h0M500.2,762.3h0M512.2,776.9h0M480.4,755.5h0M467.1,783.6h0M497.4,796.6h0M481.2,794.3h0M503.6,766.4h0M477.9,787.8h0M495.5,787.3h0M476.3,804.3h0M491.2,770.3h0M488.3,771.8h0M506.2,777.2h0M463.4,799.9h0M466.2,803.5h0M499.8,804.2h0M488.6,791.6h0M486.4,758.4h0M484.2,763.7h0M466.7,800.6h0M491.1,765.0h0M480.2,805.7h0M460.0,776.5h0M469.8,767.6h0M464.5,796.7h0M474.3,795.3h0M476.7,798.9h0M470.1,797.1h0M486.7,762.0h0M500.7,767.1h0M458.7,785.6h0M489.4,791.5h0M496.7,757.7h0M472.5,766.5h0M506.4,770.2h0M478.6,766.8h0M497.7,761.7h0M482.5,797.9h0M476.6,767.7h0M485.2,765.7h0M497.5,801.3h0M489.8,784.7h0M489.6,775.5h0M486.8,790.0h0M504.4,771.7h0M464.3,780.2h0M458.7,772.6h0M485.1,803.7h0M489.5,811.3h0M506.3,773.6h0M466.2,794.7h0M498.2,778.1h0M502.8,791.7h0M469.3,802.8h0M471.0,803.4h0M503.6,802.3h0M487.3,768.5h0M477.6,809.7h0M465.5,799.4h0M488.4,755.3h0M488.9,808.7h0M478.7,795.4h0M504.8,801.7h0M490.1,802.8h0M499.2,807.6h0M466.5,774.2h0M484.2,755.0h0M472.1,804.7h0M511.7,782.9h0M485.5,761.2h0M486.6,808.1h0M473.5,792.3h0M502.6,780.8h0M480.6,795.6h0M466.0,774.2h0M469.8,802.4h0M498.7,777.9h0M462.4,784.2h0M472.3,790.8h0M504.9,775.4h0M474.6,802.1h0M504.9,794.5h0M475.1,807.8h0M497.2,758.3h0M465.6,800.3h0M491.3,803.9h0M494.0,807.9h0M506.1,764.9h0M470.0,804.9h0M510.6,776.9h0M499.7,766.8h0M485.2,761.8h0M491.8,762.9h0M480.2,756.2h0M511.8,790.0h0M475.2,767.7h0M500.7,782.9h0M488.3,757.2h0M476.8,781.5h0M504.0,766.5h0M458.7,785.6h0M462.1,782.3h0M480.3,770.0h0M496.2,757.7h0M472.7,783.1h0M475.3,780.9h0M510.3,784.5h0M469.3,782.0h0M473.7,759.0h0M508.8,771.9h0M460.5,778.8h0M499.6,776.1h0M494.3,805.2h0M489.6,759.7h0M494.6,769.4h0M482.6,795.1h0M458.7,787.7h0M493.6,807.3h0M499.4,789.8h0M481.6,810.4h0M462.3,768.7h0M493.5,757.7h0M499.7,772.4h0M501.4,789.1h0M470.5,800.1h0M461.3,780.1h0M459.7,780.5h0M472.0,785.1h0M505.5,797.4h0M483.7,778.6h0M497.4,805.5h0M474.8,756.7h0M491.3,785.4h0M482.7,799.4h0M506.8,784.3h0M474.1,792.2h0M504.6,795.5h0M491.3,764.2h0M497.6,789.1h0M497.3,781.1h0M489.8,763.7h0M474.5,778.2h0M464.1,770.9h0M481.6,807.0h0M497.0,760.6h0M478.3,801.1h0M497.0,769.2h0M474.7,792.8h0M489.9,776.1h0M475.1,778.2h0M475.4,800.2h0M508.3,787.4h0M495.0,803.1h0M462.1,781.6h0M480.1,790.3h0M486.3,757.9h0M479.3,774.2h0M490.4,805.9h0M460.4,785.7h0M482.3,776.9h0M466.9,780.6h0M462.7,793.4h0M472.7,804.7h0M469.8,766.9h0M466.6,796.4h0M485.4,791.3h0M476.3,785.4h0M480.2,782.3h0M461.8,784.2h0M460.2,775.1h0M484.6,758.7h0M492.2,789.1h0M499.7,774.3h0M492.3,774.1h0M466.1,793.8h0M501.5,769.0h0" stroke="#a4a2e4" stroke-width="1" stroke-linecap="round" fill="none" />
<path d="M461.1,786.8h0M466.6,790.2h0M469.6,780.7h0M470.2,793.6h0M463.4,777.3h0M465.9,798.6h0M471.0,787.5h0M466.8,786.2h0M469.5,770.2h0M469.0,786.9h0M467.3,798.5h0M461.8,786.8h0M471.9,777.7h0M467.9,778.8h0M469.7,791.1h0M462.2,774.1h0M464.7,784.5h0M470.1,801.5h0M467.1,772.5h0M466.0,801.5h0M461.4,784.4h0M463.7,791.4h0M463.0,770.9h0M462.7,787.2h0M465.6,798.1h0M463.1,791.5h0M471.6,770.3h0M466.4,776.5h0M465.1,778.2h0M469.6,778.1h0M472.3,776.4h0M464.0,791.1h0M462.0,775.3h0M464.5,792.0h0M470.4,789.5h0M463.9,788.6h0M472.3,781.9h0M461.9,770.7h0M465.9,801.7h0M471.8,793.0h0M463.3,782.2h0M463.1,784.3h0M469.8,770.5h0M466.8,776.7h0M467.9,796.2h0M469.7,781.2h0M471.3,769.9h0M464.0,774.4h0M468.7,785.8h0M467.7,771.3h0M461.7,794.9h0M468.3,800.7h0M465.7,789.7h0M465.6,799.2h0M464.0,786.1h0M470.0,782.1h0M465.7,772.8h0M472.0,786.4h0M466.1,775.0h0M465.4,781.4h0M462.7,781.7h0M464.7,791.2h0M461.4,803.2h0M470.6,769.7h0M466.0,794.4h0M461.0,799.7h0M472.1,771.7h0M464.4,802.3h0M463.9,794.5h0M470.1,769.5h0M466.2,780.6h0M470.4,772.1h0M468.5,770.2h0M467.8,785.6h0M471.6,802.9h0M470.4,793.2h0M465.0,789.5h0M465.6,794.6h0M472.2,791.8h0M462.3,788.1h0" stroke="#7a78d6" stroke-width="1.1" stroke-linecap="round" fill="none" />
<path d="M486.5,795.4 q8,-4 16,2 q-6,6 -16,-2" fill="none" stroke="#8886dc" stroke-width="1.2"/>
</g></g>
<circle cx="484.5" cy="783.4" r="29.2" fill="none" stroke="#ee9636" stroke-width="1.9"/>
<text x="0.6" y="830.3" font-family="'Liberation Sans', sans-serif" font-size="14" font-weight="bold" style="dominant-baseline:auto">Q</text>
<path d="M22,862 Q17.0,847.0 6,838" fill="none" stroke="#8edcc0" stroke-width="0.8"/>
<path d="M24,870 Q17.0,863.0 4,862" fill="none" stroke="#8edcc0" stroke-width="0.8"/>
<path d="M20,880 Q15.0,874.0 4,874" fill="none" stroke="#8edcc0" stroke-width="0.8"/>
<path d="M26,888 Q19.0,887.5 6,893" fill="none" stroke="#8edcc0" stroke-width="0.8"/>
<path d="M30,905 Q30.0,908.5 24,918" fill="none" stroke="#8edcc0" stroke-width="0.8"/>
<path d="M40,909 Q41.0,912.0 36,921" fill="none" stroke="#8edcc0" stroke-width="0.8"/>
<path d="M44,902 Q53.0,905.0 56,914" fill="none" stroke="#8edcc0" stroke-width="0.8"/>
<path d="M40,890 Q49.0,883.0 52,882" fill="none" stroke="#8edcc0" stroke-width="0.8"/>
<path d="M34,870 Q40.0,860.5 40,857" fill="none" stroke="#8edcc0" stroke-width="0.8"/>
<path d="M30,862 Q30.0,850.5 24,845" fill="none" stroke="#8edcc0" stroke-width="0.8"/>
<path d="M44,876 Q55.0,871.0 60,872" fill="none" stroke="#8edcc0" stroke-width="0.8"/>
<g transform="translate(33.2,884) rotate(62)">
<rect x="-28" y="-7.5" width="56" height="15" rx="7.5" fill="url(#gEc)" stroke="#6ccf98" stroke-width="1.1"/>
<ellipse cx="5.6" cy="0" rx="9" ry="2" fill="#e8f4fa"/>
</g>
<ellipse cx="22.5" cy="867.4" rx="2.1" ry="2.9" fill="#fff" stroke="#333" stroke-width="0.3"/>
<ellipse cx="27.9" cy="867.4" rx="2.1" ry="2.9" fill="#fff" stroke="#333" stroke-width="0.3"/>
<circle cx="22.7" cy="868.1" r="1.2" fill="#e08a20"/>
<circle cx="27.7" cy="868.1" r="1.2" fill="#e08a20"/>
<circle cx="22.7" cy="868.1" r="0.5" fill="#111"/>
<circle cx="27.7" cy="868.1" r="0.5" fill="#111"/>
<path d="M19.9,871 Q25.2,873.1 30.4,871 Q25.2,879.5 19.9,871 Z" fill="#d8203a"/>
<path d="M22.6,874.4 Q25.2,873.1 27.8,874.4 Q25.2,876.8 22.6,874.4 Z" fill="#f07090"/>
<circle cx="51.2" cy="851.3" r="17" fill="#f6ee2c" stroke="#e6a040" stroke-width="0.6"/>
<path d="M61.6,858.5 q1.9,0.7 2.2,-6" fill="none" stroke="#8a3cc0" stroke-width="1.9" stroke-linecap="round"/>
<circle cx="63.8" cy="852.5" r="1.4" fill="#e040d8"/>
<path d="M50.2,863.9 q0.3,2 6.3,-1.1" fill="none" stroke="#8a3cc0" stroke-width="1.9" stroke-linecap="round"/>
<circle cx="56.5" cy="862.8" r="1.4" fill="#e040d8"/>
<path d="M39.8,856.7 q-1.5,1.3 4.1,4.9" fill="none" stroke="#8a3cc0" stroke-width="1.9" stroke-linecap="round"/>
<circle cx="43.9" cy="861.6" r="1.4" fill="#e040d8"/>
<path d="M40.8,844.1 q-1.9,-0.7 -2.2,6" fill="none" stroke="#8a3cc0" stroke-width="1.9" stroke-linecap="round"/>
<circle cx="38.6" cy="850.1" r="1.4" fill="#e040d8"/>
<path d="M52.2,838.7 q-0.3,-2 -6.3,1.1" fill="none" stroke="#8a3cc0" stroke-width="1.9" stroke-linecap="round"/>
<circle cx="45.9" cy="839.8" r="1.4" fill="#e040d8"/>
<path d="M62.6,845.9 q1.5,-1.3 -4.1,-4.9" fill="none" stroke="#8a3cc0" stroke-width="1.9" stroke-linecap="round"/>
<circle cx="58.5" cy="841" r="1.4" fill="#e040d8"/>
<ellipse cx="48.1" cy="847.3" rx="2.4" ry="3.4" fill="#fff" stroke="#333" stroke-width="0.3"/>
<ellipse cx="54.3" cy="847.3" rx="2.4" ry="3.4" fill="#fff" stroke="#333" stroke-width="0.3"/>
<circle cx="48.3" cy="848.1" r="1.3" fill="#e08a20"/>
<circle cx="54.1" cy="848.1" r="1.3" fill="#e08a20"/>
<circle cx="48.3" cy="848.1" r="0.6" fill="#111"/>
<circle cx="54.1" cy="848.1" r="0.6" fill="#111"/>
<path d="M45.2,851.5 Q51.2,853.9 57.2,851.5 Q51.2,861.1 45.2,851.5 Z" fill="#d8203a"/>
<path d="M48.2,855.3 Q51.2,853.9 54.2,855.3 Q51.2,858.1 48.2,855.3 Z" fill="#f07090"/>
<circle cx="63.2" cy="886.4" r="15.2" fill="#f0b42e" stroke="#e6a040" stroke-width="0.6"/>
<path d="M72.4,893.2 q1.9,0.7 2.2,-6" fill="none" stroke="#4c9ce0" stroke-width="1.9" stroke-linecap="round"/>
<circle cx="74.6" cy="887.1" r="1.4" fill="#a8d8f8"/>
<path d="M61.9,897.7 q0.3,2 6.3,-1.1" fill="none" stroke="#4c9ce0" stroke-width="1.9" stroke-linecap="round"/>
<circle cx="68.3" cy="896.6" r="1.4" fill="#a8d8f8"/>
<path d="M52.8,891 q-1.5,1.3 4.1,4.9" fill="none" stroke="#4c9ce0" stroke-width="1.9" stroke-linecap="round"/>
<circle cx="56.9" cy="895.9" r="1.4" fill="#a8d8f8"/>
<path d="M54,879.6 q-1.9,-0.7 -2.2,6" fill="none" stroke="#4c9ce0" stroke-width="1.9" stroke-linecap="round"/>
<circle cx="51.8" cy="885.7" r="1.4" fill="#a8d8f8"/>
<path d="M64.5,875.1 q-0.3,-2 -6.3,1.1" fill="none" stroke="#4c9ce0" stroke-width="1.9" stroke-linecap="round"/>
<circle cx="58.1" cy="876.2" r="1.4" fill="#a8d8f8"/>
<path d="M73.6,881.8 q1.5,-1.3 -4.1,-4.9" fill="none" stroke="#4c9ce0" stroke-width="1.9" stroke-linecap="round"/>
<circle cx="69.5" cy="876.9" r="1.4" fill="#a8d8f8"/>
<ellipse cx="60.3" cy="882.6" rx="2.2" ry="3.1" fill="#fff" stroke="#333" stroke-width="0.3"/>
<ellipse cx="66.1" cy="882.6" rx="2.2" ry="3.1" fill="#fff" stroke="#333" stroke-width="0.3"/>
<circle cx="60.6" cy="883.4" r="1.2" fill="#e08a20"/>
<circle cx="65.8" cy="883.4" r="1.2" fill="#e08a20"/>
<circle cx="60.6" cy="883.4" r="0.6" fill="#111"/>
<circle cx="65.8" cy="883.4" r="0.6" fill="#111"/>
<path d="M57.7,886.5 Q63.2,888.7 68.7,886.5 Q63.2,895.3 57.7,886.5 Z" fill="#d8203a"/>
<path d="M60.5,890 Q63.2,888.7 66,890 Q63.2,892.5 60.5,890 Z" fill="#f07090"/>
<text class="ab" x="68.7" y="862.1" font-size="7.9" fill="#222">MRSA</text>
<text class="ab" x="56.9" y="912.6" font-size="7.9" fill="#222">S.aureus</text>
<text class="ab" x="5.7" y="902" font-size="7.9" fill="#222">E.coli</text>
<ellipse cx="140" cy="870" rx="32" ry="26" fill="#a5d5f5"/>
<ellipse cx="175" cy="858" rx="30" ry="22" fill="#a5d5f5"/>
<ellipse cx="210" cy="860" rx="28" ry="22" fill="#a5d5f5"/>
<ellipse cx="235" cy="880" rx="22" ry="22" fill="#a5d5f5"/>
<ellipse cx="200" cy="895" rx="36" ry="20" fill="#a5d5f5"/>
<ellipse cx="150" cy="898" rx="32" ry="18" fill="#a5d5f5"/>
<ellipse cx="120" cy="885" rx="18" ry="18" fill="#a5d5f5"/>
<ellipse cx="175" cy="880" rx="60" ry="30" fill="#a5d5f5"/>
<ellipse cx="178" cy="878" rx="62" ry="28" fill="url(#gCl)"/>
<path d="M80,897 Q92,916 120,893" fill="none" stroke="#555" stroke-width="7" stroke-linecap="butt"/>
<path d="M80,895 Q92,913 118,891" fill="none" stroke="#4b8fd2" stroke-width="5.5"/>
<polygon points="111,884 126,886 118,897" fill="#4b8fd2"/>
<circle cx="122" cy="857" r="4.3" fill="#fff" stroke="#222" stroke-width="0.8" fill-opacity="0.25"/>
<line x1="119.3" y1="857" x2="124.7" y2="857" stroke="#222" stroke-width="0.8"/>
<line x1="122" y1="854.3" x2="122" y2="859.7" stroke="#222" stroke-width="0.8"/>
<circle cx="148" cy="845" r="4.3" fill="#fff" stroke="#222" stroke-width="0.8" fill-opacity="0.25"/>
<line x1="145.3" y1="845" x2="150.7" y2="845" stroke="#222" stroke-width="0.8"/>
<line x1="148" y1="842.3" x2="148" y2="847.7" stroke="#222" stroke-width="0.8"/>
<circle cx="181" cy="837" r="4.3" fill="#fff" stroke="#222" stroke-width="0.8" fill-opacity="0.25"/>
<line x1="178.3" y1="837" x2="183.7" y2="837" stroke="#222" stroke-width="0.8"/>
<line x1="181" y1="834.3" x2="181" y2="839.7" stroke="#222" stroke-width="0.8"/>
<circle cx="199" cy="843" r="4.3" fill="#fff" stroke="#222" stroke-width="0.8" fill-opacity="0.25"/>
<line x1="196.3" y1="843" x2="201.7" y2="843" stroke="#222" stroke-width="0.8"/>
<line x1="199" y1="840.3" x2="199" y2="845.7" stroke="#222" stroke-width="0.8"/>
<circle cx="163" cy="858" r="4.3" fill="#fff" stroke="#222" stroke-width="0.8" fill-opacity="0.25"/>
<line x1="160.3" y1="858" x2="165.7" y2="858" stroke="#222" stroke-width="0.8"/>
<line x1="163" y1="855.3" x2="163" y2="860.7" stroke="#222" stroke-width="0.8"/>
<circle cx="212" cy="862" r="4.3" fill="#fff" stroke="#222" stroke-width="0.8" fill-opacity="0.25"/>
<line x1="209.3" y1="862" x2="214.7" y2="862" stroke="#222" stroke-width="0.8"/>
<line x1="212" y1="859.3" x2="212" y2="864.7" stroke="#222" stroke-width="0.8"/>
<circle cx="243" cy="879" r="4.3" fill="#fff" stroke="#222" stroke-width="0.8" fill-opacity="0.25"/>
<line x1="240.3" y1="879" x2="245.7" y2="879" stroke="#222" stroke-width="0.8"/>
<line x1="243" y1="876.3" x2="243" y2="881.7" stroke="#222" stroke-width="0.8"/>
<circle cx="150" cy="894" r="4.3" fill="#fff" stroke="#222" stroke-width="0.8" fill-opacity="0.25"/>
<line x1="147.3" y1="894" x2="152.7" y2="894" stroke="#222" stroke-width="0.8"/>
<line x1="150" y1="891.3" x2="150" y2="896.7" stroke="#222" stroke-width="0.8"/>
<circle cx="211" cy="896" r="4.3" fill="#fff" stroke="#222" stroke-width="0.8" fill-opacity="0.25"/>
<line x1="208.3" y1="896" x2="213.7" y2="896" stroke="#222" stroke-width="0.8"/>
<line x1="211" y1="893.3" x2="211" y2="898.7" stroke="#222" stroke-width="0.8"/>
<circle cx="142" cy="873.6" r="14" fill="#ecec3a" stroke="#e6a040" stroke-width="0.6"/>
<path d="M150.4,880.1 q1.9,0.7 2.2,-6" fill="none" stroke="#9a3cc8" stroke-width="1.9" stroke-linecap="round"/>
<circle cx="152.6" cy="874" r="1.4" fill="#e040d8"/>
<path d="M140.6,884.1 q0.3,2 6.3,-1.1" fill="none" stroke="#9a3cc8" stroke-width="1.9" stroke-linecap="round"/>
<circle cx="146.9" cy="883" r="1.4" fill="#e040d8"/>
<path d="M132.2,877.6 q-1.5,1.3 4.1,4.9" fill="none" stroke="#9a3cc8" stroke-width="1.9" stroke-linecap="round"/>
<circle cx="136.3" cy="882.5" r="1.4" fill="#e040d8"/>
<path d="M133.6,867.1 q-1.9,-0.7 -2.2,6" fill="none" stroke="#9a3cc8" stroke-width="1.9" stroke-linecap="round"/>
<circle cx="131.4" cy="873.2" r="1.4" fill="#e040d8"/>
<path d="M143.4,863.1 q-0.3,-2 -6.3,1.1" fill="none" stroke="#9a3cc8" stroke-width="1.9" stroke-linecap="round"/>
<circle cx="137.1" cy="864.2" r="1.4" fill="#e040d8"/>
<path d="M151.8,869.6 q1.5,-1.3 -4.1,-4.9" fill="none" stroke="#9a3cc8" stroke-width="1.9" stroke-linecap="round"/>
<circle cx="147.7" cy="864.7" r="1.4" fill="#e040d8"/>
<ellipse cx="139.4" cy="870.1" rx="2" ry="2.8" fill="#fff" stroke="#333" stroke-width="0.3"/>
<ellipse cx="144.6" cy="870.1" rx="2" ry="2.8" fill="#fff" stroke="#333" stroke-width="0.3"/>
<circle cx="139.6" cy="870.8" r="1.1" fill="#e08a20"/>
<circle cx="144.4" cy="870.8" r="1.1" fill="#e08a20"/>
<circle cx="139.6" cy="870.8" r="0.5" fill="#111"/>
<circle cx="144.4" cy="870.8" r="0.5" fill="#111"/>
<path d="M137,873.6 Q142,875.6 147,873.6 Q142,881.6 137,873.6 Z" fill="#d8203a"/>
<path d="M139.5,876.8 Q142,875.6 144.5,876.8 Q142,879.1 139.5,876.8 Z" fill="#f07090"/>
<g transform="translate(176,887) rotate(70)">
<rect x="-21" y="-6" width="42" height="12" rx="6" fill="url(#gEc)" stroke="#6ccf98" stroke-width="1.1"/>
<ellipse cx="4.2" cy="0" rx="6.7" ry="1.6" fill="#e8f4fa"/>
</g>
<ellipse cx="169.9" cy="872" rx="1.6" ry="2.2" fill="#fff" stroke="#333" stroke-width="0.3"/>
<ellipse cx="174.1" cy="872" rx="1.6" ry="2.2" fill="#fff" stroke="#333" stroke-width="0.3"/>
<circle cx="170.1" cy="872.6" r="0.9" fill="#e08a20"/>
<circle cx="173.9" cy="872.6" r="0.9" fill="#e08a20"/>
<circle cx="170.1" cy="872.6" r="0.4" fill="#111"/>
<circle cx="173.9" cy="872.6" r="0.4" fill="#111"/>
<path d="M168,874.8 Q172,876.4 176,874.8 Q172,881.2 168,874.8 Z" fill="#d8203a"/>
<path d="M170,877.4 Q172,876.4 174,877.4 Q172,879.2 170,877.4 Z" fill="#f07090"/>
<circle cx="213" cy="880.2" r="13.5" fill="#eeb42e" stroke="#e6a040" stroke-width="0.6"/>
<path d="M221,886.5 q1.9,0.7 2.2,-6" fill="none" stroke="#4c9ce0" stroke-width="1.9" stroke-linecap="round"/>
<circle cx="223.2" cy="880.5" r="1.4" fill="#a8d8f8"/>
<path d="M211.5,890.3 q0.3,2 6.3,-1.1" fill="none" stroke="#4c9ce0" stroke-width="1.9" stroke-linecap="round"/>
<circle cx="217.8" cy="889.2" r="1.4" fill="#a8d8f8"/>
<path d="M203.5,884 q-1.5,1.3 4.1,4.9" fill="none" stroke="#4c9ce0" stroke-width="1.9" stroke-linecap="round"/>
<circle cx="207.6" cy="888.9" r="1.4" fill="#a8d8f8"/>
<path d="M205,873.9 q-1.9,-0.7 -2.2,6" fill="none" stroke="#4c9ce0" stroke-width="1.9" stroke-linecap="round"/>
<circle cx="202.8" cy="879.9" r="1.4" fill="#a8d8f8"/>
<path d="M214.5,870.1 q-0.3,-2 -6.3,1.1" fill="none" stroke="#4c9ce0" stroke-width="1.9" stroke-linecap="round"/>
<circle cx="208.2" cy="871.2" r="1.4" fill="#a8d8f8"/>
<path d="M222.5,876.4 q1.5,-1.3 -4.1,-4.9" fill="none" stroke="#4c9ce0" stroke-width="1.9" stroke-linecap="round"/>
<circle cx="218.4" cy="871.5" r="1.4" fill="#a8d8f8"/>
<ellipse cx="210.5" cy="876.8" rx="1.9" ry="2.7" fill="#fff" stroke="#333" stroke-width="0.3"/>
<ellipse cx="215.5" cy="876.8" rx="1.9" ry="2.7" fill="#fff" stroke="#333" stroke-width="0.3"/>
<circle cx="210.7" cy="877.5" r="1" fill="#e08a20"/>
<circle cx="215.3" cy="877.5" r="1" fill="#e08a20"/>
<circle cx="210.7" cy="877.5" r="0.5" fill="#111"/>
<circle cx="215.3" cy="877.5" r="0.5" fill="#111"/>
<path d="M208.2,880.2 Q213,882.1 217.8,880.2 Q213,887.8 208.2,880.2 Z" fill="#d8203a"/>
<path d="M210.6,883.2 Q213,882.1 215.4,883.2 Q213,885.4 210.6,883.2 Z" fill="#f07090"/>
<polygon points="136.3,867.6 132.7,867.8 132.2,871.4 130.3,868.4 127,869.7 128.6,866.5 125.7,864.4 129.3,864.2 129.8,860.6 131.7,863.6 135,862.3 133.4,865.5" fill="#c83444"/>
<polygon points="159.3,871.3 156.4,871.5 156,874.4 154.4,871.9 151.7,873.1 153,870.4 150.7,868.7 153.6,868.5 154,865.6 155.6,868.1 158.3,866.9 157,869.6" fill="#c83444"/>
<polygon points="170.7,886.1 166.1,886.3 165.6,890.8 163.1,887 158.9,888.8 160.9,884.7 157.3,881.9 161.9,881.7 162.4,877.2 164.9,881 169.1,879.2 167.1,883.3" fill="#c83444"/>
<polygon points="187.3,868.3 184.4,868.5 184,871.4 182.4,868.9 179.7,870.1 181,867.4 178.7,865.7 181.6,865.5 182,862.6 183.6,865.1 186.3,863.9 185,866.6" fill="#c83444"/>
<polygon points="175.7,903.8 171.8,904 171.3,907.9 169.2,904.6 165.6,906.1 167.4,902.6 164.3,900.2 168.2,900 168.7,896.1 170.8,899.4 174.4,897.9 172.6,901.4" fill="#c83444"/>
<polygon points="203.8,880.5 200.5,880.7 200.1,883.9 198.3,881.1 195.3,882.4 196.8,879.5 194.2,877.5 197.5,877.3 197.9,874.1 199.7,876.9 202.7,875.6 201.2,878.5" fill="#c83444"/>
<polygon points="228.3,873.3 225.4,873.5 225,876.4 223.4,873.9 220.7,875.1 222,872.4 219.7,870.7 222.6,870.5 223,867.6 224.6,870.1 227.3,868.9 226,871.6" fill="#c83444"/>
<polygon points="139.3,889.3 136.4,889.5 136,892.4 134.4,889.9 131.7,891.1 133,888.4 130.7,886.7 133.6,886.5 134,883.6 135.6,886.1 138.3,884.9 137,887.6" fill="#c83444"/>
<circle cx="170" cy="853" r="3" fill="#f0e070" stroke="#c8a030" stroke-width="0.4"/>
<circle cx="230" cy="866" r="3" fill="#f0e070" stroke="#c8a030" stroke-width="0.4"/>
<circle cx="187" cy="894" r="3" fill="#f0e070" stroke="#c8a030" stroke-width="0.4"/>
<circle cx="122" cy="886" r="3" fill="#f0e070" stroke="#c8a030" stroke-width="0.4"/>
<circle cx="228" cy="888" r="3" fill="#f0e070" stroke="#c8a030" stroke-width="0.4"/>
<text class="abm" x="191.5" y="911.2" font-size="9.8" fill="#222">Gel</text>
<ellipse cx="152.5" cy="866" rx="2.8" ry="2" fill="none" stroke="#e02828" stroke-width="0.9"/>
<ellipse cx="226" cy="876.5" rx="2.8" ry="2" fill="none" stroke="#e02828" stroke-width="0.9"/>
<ellipse cx="181" cy="866" rx="2.8" ry="2" fill="none" stroke="#e02828" stroke-width="0.9"/>
<line x1="154" y1="866" x2="268.5" y2="843.5" stroke="#e83030" stroke-width="1.2" stroke-dasharray="3,2.2"/>
<line x1="228" y1="878" x2="268.5" y2="912" stroke="#e83030" stroke-width="1.2" stroke-dasharray="3,2.2"/>
<path d="M268.5,848 L276,840.7 L506,840.7 Q511.1,840.7 511.1,846 L511.1,909.5 Q511.1,914.7 506,914.7 L274,914.7 Q268.5,914.7 268.5,909 Z" fill="none" stroke="#e83030" stroke-width="1.3" stroke-dasharray="2.6,2.2"/>
<ellipse cx="298" cy="860" rx="25" ry="12" fill="#7ac3ec"/>
<ellipse cx="330" cy="854" rx="30" ry="12" fill="#7ac3ec"/>
<ellipse cx="365" cy="858" rx="30" ry="12" fill="#7ac3ec"/>
<ellipse cx="388" cy="866" rx="16" ry="10" fill="#7ac3ec"/>
<ellipse cx="320" cy="878" rx="48" ry="10" fill="#7ac3ec"/>
<ellipse cx="292" cy="878" rx="16" ry="8" fill="#7ac3ec"/>
<ellipse cx="370" cy="878" rx="25" ry="8" fill="#7ac3ec"/>
<ellipse cx="335" cy="866" rx="52" ry="6" fill="#d6d8b0"/>
<path d="M284.2,876 l0,8 l1.5,3 l-1.5,3 l0,6 M286.8,876 l0,8 l-1.5,3 l1.5,3 l0,6" fill="none" stroke="#e4b45a" stroke-width="0.9"/>
<path d="M292.6,876 l0,8 l1.5,3 l-1.5,3 l0,6 M295.2,876 l0,8 l-1.5,3 l1.5,3 l0,6" fill="none" stroke="#e4b45a" stroke-width="0.9"/>
<path d="M301.1,876 l0,8 l1.5,3 l-1.5,3 l0,6 M303.7,876 l0,8 l-1.5,3 l1.5,3 l0,6" fill="none" stroke="#e4b45a" stroke-width="0.9"/>
<path d="M309.6,876 l0,8 l1.5,3 l-1.5,3 l0,6 M312.2,876 l0,8 l-1.5,3 l1.5,3 l0,6" fill="none" stroke="#e4b45a" stroke-width="0.9"/>
<path d="M318.0,876 l0,8 l1.5,3 l-1.5,3 l0,6 M320.6,876 l0,8 l-1.5,3 l1.5,3 l0,6" fill="none" stroke="#e4b45a" stroke-width="0.9"/>
<path d="M326.4,876 l0,8 l1.5,3 l-1.5,3 l0,6 M329.1,876 l0,8 l-1.5,3 l1.5,3 l0,6" fill="none" stroke="#e4b45a" stroke-width="0.9"/>
<path d="M334.9,876 l0,8 l1.5,3 l-1.5,3 l0,6 M337.5,876 l0,8 l-1.5,3 l1.5,3 l0,6" fill="none" stroke="#e4b45a" stroke-width="0.9"/>
<path d="M343.3,876 l0,8 l1.5,3 l-1.5,3 l0,6 M345.9,876 l0,8 l-1.5,3 l1.5,3 l0,6" fill="none" stroke="#e4b45a" stroke-width="0.9"/>
<path d="M351.8,876 l0,8 l1.5,3 l-1.5,3 l0,6 M354.4,876 l0,8 l-1.5,3 l1.5,3 l0,6" fill="none" stroke="#e4b45a" stroke-width="0.9"/>
<path d="M360.2,876 l0,8 l1.5,3 l-1.5,3 l0,6 M362.9,876 l0,8 l-1.5,3 l1.5,3 l0,6" fill="none" stroke="#e4b45a" stroke-width="0.9"/>
<path d="M368.7,876 l0,8 l1.5,3 l-1.5,3 l0,6 M371.3,876 l0,8 l-1.5,3 l1.5,3 l0,6" fill="none" stroke="#e4b45a" stroke-width="0.9"/>
<path d="M377.1,876 l0,8 l1.5,3 l-1.5,3 l0,6 M379.8,876 l0,8 l-1.5,3 l1.5,3 l0,6" fill="none" stroke="#e4b45a" stroke-width="0.9"/>
<path d="M385.6,876 l0,8 l1.5,3 l-1.5,3 l0,6 M388.2,876 l0,8 l-1.5,3 l1.5,3 l0,6" fill="none" stroke="#e4b45a" stroke-width="0.9"/>
<circle cx="285.5" cy="871.8" r="4.2" fill="#eef0c6" stroke="#5a5a48" stroke-width="0.6"/>
<circle cx="285.5" cy="901.4" r="4.2" fill="#eef0c6" stroke="#5a5a48" stroke-width="0.6"/>
<circle cx="293.9" cy="871.8" r="4.2" fill="#eef0c6" stroke="#5a5a48" stroke-width="0.6"/>
<circle cx="293.9" cy="901.4" r="4.2" fill="#eef0c6" stroke="#5a5a48" stroke-width="0.6"/>
<circle cx="302.4" cy="871.8" r="4.2" fill="#eef0c6" stroke="#5a5a48" stroke-width="0.6"/>
<circle cx="302.4" cy="901.4" r="4.2" fill="#eef0c6" stroke="#5a5a48" stroke-width="0.6"/>
<circle cx="310.9" cy="871.8" r="4.2" fill="#eef0c6" stroke="#5a5a48" stroke-width="0.6"/>
<circle cx="310.9" cy="901.4" r="4.2" fill="#eef0c6" stroke="#5a5a48" stroke-width="0.6"/>
<circle cx="319.3" cy="871.8" r="4.2" fill="#eef0c6" stroke="#5a5a48" stroke-width="0.6"/>
<circle cx="319.3" cy="901.4" r="4.2" fill="#eef0c6" stroke="#5a5a48" stroke-width="0.6"/>
<circle cx="327.8" cy="871.8" r="4.2" fill="#eef0c6" stroke="#5a5a48" stroke-width="0.6"/>
<circle cx="327.8" cy="901.4" r="4.2" fill="#eef0c6" stroke="#5a5a48" stroke-width="0.6"/>
<circle cx="336.2" cy="871.8" r="4.2" fill="#eef0c6" stroke="#5a5a48" stroke-width="0.6"/>
<circle cx="336.2" cy="901.4" r="4.2" fill="#eef0c6" stroke="#5a5a48" stroke-width="0.6"/>
<circle cx="344.6" cy="871.8" r="4.2" fill="#eef0c6" stroke="#5a5a48" stroke-width="0.6"/>
<circle cx="344.6" cy="901.4" r="4.2" fill="#eef0c6" stroke="#5a5a48" stroke-width="0.6"/>
<circle cx="353.1" cy="871.8" r="4.2" fill="#eef0c6" stroke="#5a5a48" stroke-width="0.6"/>
<circle cx="353.1" cy="901.4" r="4.2" fill="#eef0c6" stroke="#5a5a48" stroke-width="0.6"/>
<circle cx="361.6" cy="871.8" r="4.2" fill="#eef0c6" stroke="#5a5a48" stroke-width="0.6"/>
<circle cx="361.6" cy="901.4" r="4.2" fill="#eef0c6" stroke="#5a5a48" stroke-width="0.6"/>
<circle cx="370" cy="871.8" r="4.2" fill="#eef0c6" stroke="#5a5a48" stroke-width="0.6"/>
<circle cx="370" cy="901.4" r="4.2" fill="#eef0c6" stroke="#5a5a48" stroke-width="0.6"/>
<circle cx="378.4" cy="871.8" r="4.2" fill="#eef0c6" stroke="#5a5a48" stroke-width="0.6"/>
<circle cx="378.4" cy="901.4" r="4.2" fill="#eef0c6" stroke="#5a5a48" stroke-width="0.6"/>
<circle cx="386.9" cy="871.8" r="4.2" fill="#eef0c6" stroke="#5a5a48" stroke-width="0.6"/>
<circle cx="386.9" cy="901.4" r="4.2" fill="#eef0c6" stroke="#5a5a48" stroke-width="0.6"/>
<path d="M284,868 q-3,-2 -1,-6 q1,-2 1,-5 q3,3 2,6 q2,1 1,3 q-1,2 -3,2 z" fill="#f07a20"/>
<path d="M321,867 q-3,-2 -1,-6 q1,-2 1,-5 q3,3 2,6 q2,1 1,3 q-1,2 -3,2 z" fill="#f07a20"/>
<path d="M353,867 q-3,-2 -1,-6 q1,-2 1,-5 q3,3 2,6 q2,1 1,3 q-1,2 -3,2 z" fill="#f07a20"/>
<path d="M379,866 q-3,-2 -1,-6 q1,-2 1,-5 q3,3 2,6 q2,1 1,3 q-1,2 -3,2 z" fill="#f07a20"/>
<path d="M395,869 q-3,-2 -1,-6 q1,-2 1,-5 q3,3 2,6 q2,1 1,3 q-1,2 -3,2 z" fill="#f07a20"/>
<circle cx="288" cy="866" r="3.2" fill="#fff" stroke="#222" stroke-width="0.8" fill-opacity="0.25"/>
<line x1="286" y1="866" x2="290" y2="866" stroke="#222" stroke-width="0.8"/>
<line x1="288" y1="864" x2="288" y2="868" stroke="#222" stroke-width="0.8"/>
<circle cx="299" cy="861" r="3" fill="#fff" stroke="#222" stroke-width="0.8" fill-opacity="0.25"/>
<line x1="297.1" y1="861" x2="300.9" y2="861" stroke="#222" stroke-width="0.8"/>
<line x1="299" y1="859.1" x2="299" y2="862.9" stroke="#222" stroke-width="0.8"/>
<circle cx="330" cy="866" r="3.8" fill="#fff" stroke="#222" stroke-width="0.8" fill-opacity="0.25"/>
<line x1="327.6" y1="866" x2="332.4" y2="866" stroke="#222" stroke-width="0.8"/>
<line x1="330" y1="863.6" x2="330" y2="868.4" stroke="#222" stroke-width="0.8"/>
<circle cx="314" cy="861" r="2.2" fill="#fff" stroke="#222" stroke-width="0.8" fill-opacity="0.25"/>
<line x1="312.6" y1="861" x2="315.4" y2="861" stroke="#222" stroke-width="0.8"/>
<line x1="314" y1="859.6" x2="314" y2="862.4" stroke="#222" stroke-width="0.8"/>
<circle cx="369" cy="865" r="3.4" fill="#fff" stroke="#222" stroke-width="0.8" fill-opacity="0.25"/>
<line x1="366.9" y1="865" x2="371.1" y2="865" stroke="#222" stroke-width="0.8"/>
<line x1="369" y1="862.9" x2="369" y2="867.1" stroke="#222" stroke-width="0.8"/>
<circle cx="328.5" cy="881" r="5.6" fill="#f4f6f8" stroke="#999" stroke-width="0.5"/>
<circle cx="343.8" cy="881" r="5.6" fill="#f4f6f8" stroke="#999" stroke-width="0.5"/>
<ellipse cx="328.8" cy="882.5" rx="3" ry="1.5" fill="#d08a20"/>
<ellipse cx="344" cy="882.5" rx="3" ry="1.5" fill="#d08a20"/>
<ellipse cx="328.8" cy="882.5" rx="1.2" ry="0.8" fill="#222"/>
<ellipse cx="344" cy="882.5" rx="1.2" ry="0.8" fill="#222"/>
<path d="M308,887 Q336,895 362,886 Q356,904 334,903 Q314,901 308,887 Z" fill="#e04a80"/>
<path d="M318,891 Q336,896 352,890 Q346,900 334,900 Q322,899 318,891 Z" fill="#f08ab0"/>
<circle cx="324" cy="892" r="1.3" fill="#4a9ae0"/>
<circle cx="332" cy="896" r="1.3" fill="#4a9ae0"/>
<circle cx="340" cy="893" r="1.3" fill="#4a9ae0"/>
<circle cx="333" cy="905" r="1.3" fill="#4a9ae0"/>
<path d="M385,893 Q402,912 426,893" fill="none" stroke="#555" stroke-width="5.5"/>
<path d="M385,891 Q402,909 424,891" fill="none" stroke="#e8a828" stroke-width="4.5"/>
<polygon points="419,884 434,885.5 427,898" fill="#e8a828"/>
<path d="M422.7,863.2 l0,6 l1.5,3 l-1.5,3 l0,5 M425.3,863.2 l0,6 l-1.5,3 l1.5,3 l0,5" fill="none" stroke="#e8b660" stroke-width="0.9"/>
<path d="M430.7,862.0 l0,6 l1.5,3 l-1.5,3 l0,5 M433.3,862.0 l0,6 l-1.5,3 l1.5,3 l0,5" fill="none" stroke="#e8b660" stroke-width="0.9"/>
<path d="M432.7,855.0 l0,6 l1.5,3 l-1.5,3 l0,5 M435.3,855.0 l0,6 l-1.5,3 l1.5,3 l0,5" fill="none" stroke="#e8b660" stroke-width="0.9"/>
<path d="M444.7,865.5 l0,6 l1.5,3 l-1.5,3 l0,5 M447.3,865.5 l0,6 l-1.5,3 l1.5,3 l0,5" fill="none" stroke="#e8b660" stroke-width="0.9"/>
<path d="M452.7,863.5 l0,6 l1.5,3 l-1.5,3 l0,5 M455.3,863.5 l0,6 l-1.5,3 l1.5,3 l0,5" fill="none" stroke="#e8b660" stroke-width="0.9"/>
<path d="M460.7,863.2 l0,6 l1.5,3 l-1.5,3 l0,5 M463.3,863.2 l0,6 l-1.5,3 l1.5,3 l0,5" fill="none" stroke="#e8b660" stroke-width="0.9"/>
<path d="M468.7,863.2 l0,6 l1.5,3 l-1.5,3 l0,5 M471.3,863.2 l0,6 l-1.5,3 l1.5,3 l0,5" fill="none" stroke="#e8b660" stroke-width="0.9"/>
<path d="M476.7,862.5 l0,6 l1.5,3 l-1.5,3 l0,5 M479.3,862.5 l0,6 l-1.5,3 l1.5,3 l0,5" fill="none" stroke="#e8b660" stroke-width="0.9"/>
<path d="M484.7,856.0 l0,6 l1.5,3 l-1.5,3 l0,5 M487.3,856.0 l0,6 l-1.5,3 l1.5,3 l0,5" fill="none" stroke="#e8b660" stroke-width="0.9"/>
<path d="M488.7,863.2 l0,6 l1.5,3 l-1.5,3 l0,5 M491.3,863.2 l0,6 l-1.5,3 l1.5,3 l0,5" fill="none" stroke="#e8b660" stroke-width="0.9"/>
<path d="M496.7,863.2 l0,6 l1.5,3 l-1.5,3 l0,5 M499.3,863.2 l0,6 l-1.5,3 l1.5,3 l0,5" fill="none" stroke="#e8b660" stroke-width="0.9"/>
<path d="M504.7,864.0 l0,6 l1.5,3 l-1.5,3 l0,5 M507.3,864.0 l0,6 l-1.5,3 l1.5,3 l0,5" fill="none" stroke="#e8b660" stroke-width="0.9"/>
<path d="M477.7,851.5 l0,6 l1.5,3 l-1.5,3 l0,5 M480.3,851.5 l0,6 l-1.5,3 l1.5,3 l0,5" fill="none" stroke="#e8b660" stroke-width="0.9"/>
<path d="M427,889.5 l0,-6 l1.5,-3 l-1.5,-3 M429,889.5 l0,-6 l-1.5,-3 l1.5,-3" fill="none" stroke="#e8b660" stroke-width="0.9"/>
<path d="M429,897.5 l0,-6 l1.5,-3 l-1.5,-3 M431,897.5 l0,-6 l-1.5,-3 l1.5,-3" fill="none" stroke="#e8b660" stroke-width="0.9"/>
<path d="M437,888.5 l0,-6 l1.5,-3 l-1.5,-3 M439,888.5 l0,-6 l-1.5,-3 l1.5,-3" fill="none" stroke="#e8b660" stroke-width="0.9"/>
<path d="M445,889.5 l0,-6 l1.5,-3 l-1.5,-3 M447,889.5 l0,-6 l-1.5,-3 l1.5,-3" fill="none" stroke="#e8b660" stroke-width="0.9"/>
<path d="M453,890.0 l0,-6 l1.5,-3 l-1.5,-3 M455,890.0 l0,-6 l-1.5,-3 l1.5,-3" fill="none" stroke="#e8b660" stroke-width="0.9"/>
<path d="M469,889.5 l0,-6 l1.5,-3 l-1.5,-3 M471,889.5 l0,-6 l-1.5,-3 l1.5,-3" fill="none" stroke="#e8b660" stroke-width="0.9"/>
<path d="M477,884.5 l0,-6 l1.5,-3 l-1.5,-3 M479,884.5 l0,-6 l-1.5,-3 l1.5,-3" fill="none" stroke="#e8b660" stroke-width="0.9"/>
<path d="M486,890.5 l0,-6 l1.5,-3 l-1.5,-3 M488,890.5 l0,-6 l-1.5,-3 l1.5,-3" fill="none" stroke="#e8b660" stroke-width="0.9"/>
<path d="M494,889.5 l0,-6 l1.5,-3 l-1.5,-3 M496,889.5 l0,-6 l-1.5,-3 l1.5,-3" fill="none" stroke="#e8b660" stroke-width="0.9"/>
<path d="M502,891.5 l0,-6 l1.5,-3 l-1.5,-3 M504,891.5 l0,-6 l-1.5,-3 l1.5,-3" fill="none" stroke="#e8b660" stroke-width="0.9"/>
<path d="M506,897.5 l0,-6 l1.5,-3 l-1.5,-3 M508,897.5 l0,-6 l-1.5,-3 l1.5,-3" fill="none" stroke="#e8b660" stroke-width="0.9"/>
<ellipse cx="424" cy="858.7" rx="3.9" ry="4.7" fill="#eef0c6" stroke="#4e4e40" stroke-width="0.7"/>
<ellipse cx="432" cy="857.5" rx="3.9" ry="4.7" fill="#eef0c6" stroke="#4e4e40" stroke-width="0.7"/>
<ellipse cx="434" cy="850.5" rx="3.9" ry="4.7" fill="#eef0c6" stroke="#4e4e40" stroke-width="0.7"/>
<ellipse cx="446" cy="861" rx="3.9" ry="4.7" fill="#eef0c6" stroke="#4e4e40" stroke-width="0.7"/>
<ellipse cx="454" cy="859" rx="3.9" ry="4.7" fill="#eef0c6" stroke="#4e4e40" stroke-width="0.7"/>
<ellipse cx="462" cy="858.7" rx="3.9" ry="4.7" fill="#eef0c6" stroke="#4e4e40" stroke-width="0.7"/>
<ellipse cx="470" cy="858.7" rx="3.9" ry="4.7" fill="#eef0c6" stroke="#4e4e40" stroke-width="0.7"/>
<ellipse cx="478" cy="858" rx="3.9" ry="4.7" fill="#eef0c6" stroke="#4e4e40" stroke-width="0.7"/>
<ellipse cx="486" cy="851.5" rx="3.9" ry="4.7" fill="#eef0c6" stroke="#4e4e40" stroke-width="0.7"/>
<ellipse cx="490" cy="858.7" rx="3.9" ry="4.7" fill="#eef0c6" stroke="#4e4e40" stroke-width="0.7"/>
<ellipse cx="498" cy="858.7" rx="3.9" ry="4.7" fill="#eef0c6" stroke="#4e4e40" stroke-width="0.7"/>
<ellipse cx="506" cy="859.5" rx="3.9" ry="4.7" fill="#eef0c6" stroke="#4e4e40" stroke-width="0.7"/>
<ellipse cx="479" cy="847" rx="3.9" ry="4.7" fill="#eef0c6" stroke="#4e4e40" stroke-width="0.7"/>
<ellipse cx="428" cy="894" rx="3.9" ry="4.7" fill="#eef0c6" stroke="#4e4e40" stroke-width="0.7"/>
<ellipse cx="430" cy="902" rx="3.9" ry="4.7" fill="#eef0c6" stroke="#4e4e40" stroke-width="0.7"/>
<ellipse cx="438" cy="893" rx="3.9" ry="4.7" fill="#eef0c6" stroke="#4e4e40" stroke-width="0.7"/>
<ellipse cx="446" cy="894" rx="3.9" ry="4.7" fill="#eef0c6" stroke="#4e4e40" stroke-width="0.7"/>
<ellipse cx="454" cy="894.5" rx="3.9" ry="4.7" fill="#eef0c6" stroke="#4e4e40" stroke-width="0.7"/>
<ellipse cx="470" cy="894" rx="3.9" ry="4.7" fill="#eef0c6" stroke="#4e4e40" stroke-width="0.7"/>
<ellipse cx="478" cy="889" rx="3.9" ry="4.7" fill="#eef0c6" stroke="#4e4e40" stroke-width="0.7"/>
<ellipse cx="487" cy="895" rx="3.9" ry="4.7" fill="#eef0c6" stroke="#4e4e40" stroke-width="0.7"/>
<ellipse cx="495" cy="894" rx="3.9" ry="4.7" fill="#eef0c6" stroke="#4e4e40" stroke-width="0.7"/>
<ellipse cx="503" cy="896" rx="3.9" ry="4.7" fill="#eef0c6" stroke="#4e4e40" stroke-width="0.7"/>
<ellipse cx="507" cy="902" rx="3.9" ry="4.7" fill="#eef0c6" stroke="#4e4e40" stroke-width="0.7"/>
<ellipse cx="462" cy="880" rx="3.9" ry="4.7" fill="#eef0c6" stroke="#4e4e40" stroke-width="0.7"/>
<ellipse cx="436" cy="880" rx="3.9" ry="4.7" fill="#eef0c6" stroke="#4e4e40" stroke-width="0.7"/>
<ellipse cx="477" cy="904" rx="3.9" ry="4.7" fill="#eef0c6" stroke="#4e4e40" stroke-width="0.7"/>
<polygon points="448.9,868.6 444.3,868.8 443.8,873.3 441.3,869.5 437.1,871.3 439.1,867.2 435.5,864.4 440.1,864.2 440.6,859.7 443.1,863.5 447.3,861.7 445.3,865.8" fill="#c82030"/>
<polygon points="471.4,886 465.6,886.3 464.8,892.1 461.6,887.2 456.2,889.4 458.9,884.2 454.2,880.6 460,880.3 460.8,874.5 464,879.4 469.4,877.2 466.7,882.4" fill="#c82030"/>
<polygon points="493.7,882.2 489.5,882.4 488.9,886.6 486.6,883.1 482.7,884.7 484.6,880.9 481.3,878.4 485.5,878.2 486.1,874 488.4,877.5 492.3,875.9 490.4,879.7" fill="#c82030"/>
</svg></body></html>
